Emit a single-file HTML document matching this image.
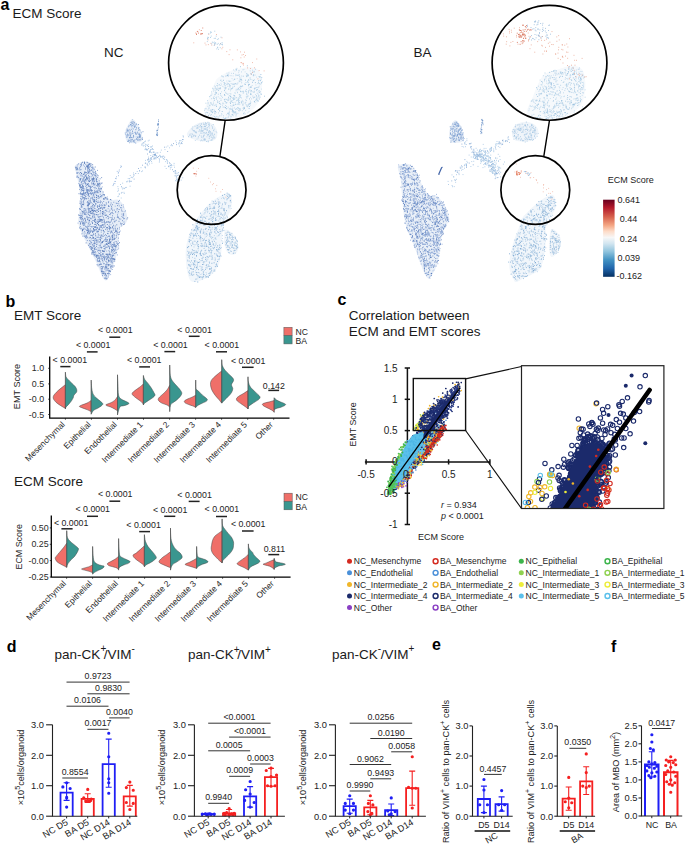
<!DOCTYPE html>
<html><head><meta charset="utf-8"><style>html,body{margin:0;padding:0;background:#fff;overflow:hidden}text{font-family:"Liberation Sans",sans-serif}</style></head><body>
<svg width="685" height="845" viewBox="0 0 685 845" style="display:block;font-family:'Liberation Sans', sans-serif">
<rect width="685" height="845" fill="#fff"/>
<text x="0.5" y="9.9" font-size="16" font-weight="bold" fill="#000">a</text>
<text x="12.5" y="18.1" font-size="13.5" fill="#1a1a1a">ECM Score</text>
<text x="104" y="56.6" font-size="13.5" fill="#1a1a1a">NC</text>
<text x="413.6" y="56.5" font-size="13.5" fill="#1a1a1a">BA</text>
<path d="M75.0 165.8 C75.8 164.8 78.1 163.1 80.0 162.4 C81.9 161.8 84.7 161.8 86.6 161.9 C88.5 162.1 90.2 162.2 91.6 163.3 C93.0 164.4 93.9 166.3 94.9 168.2 C95.9 170.1 96.6 172.7 97.4 174.9 C98.2 177.1 99.1 179.0 99.9 181.5 C100.7 184.0 101.3 187.3 102.3 189.8 C103.3 192.3 104.2 194.7 105.7 196.4 C107.2 198.1 109.4 199.2 111.5 199.8 C113.6 200.4 116.2 199.0 118.1 199.8 C120.0 200.6 121.7 202.5 123.1 204.7 C124.5 206.9 125.7 210.5 126.4 213.0 C127.1 215.5 127.5 217.8 127.2 219.7 C126.9 221.6 125.9 223.2 124.7 224.6 C123.5 226.0 120.8 226.0 119.8 227.9 C118.8 229.8 119.2 233.1 118.9 236.2 C118.6 239.2 118.5 242.9 118.1 246.2 C117.7 249.5 117.2 252.8 116.4 256.1 C115.6 259.4 114.2 263.1 113.1 266.1 C112.0 269.2 110.9 272.0 109.8 274.4 C108.7 276.8 107.6 279.5 106.5 280.2 C105.4 280.9 104.3 280.0 103.2 278.5 C102.1 277.0 101.0 273.7 99.9 271.1 C98.8 268.5 97.9 265.9 96.5 262.8 C95.1 259.8 93.2 256.1 91.6 252.8 C89.9 249.5 88.3 246.2 86.6 242.9 C84.9 239.6 83.0 236.2 81.6 232.9 C80.2 229.6 78.7 226.3 78.3 223.0 C77.9 219.7 78.8 216.9 79.1 213.0 C79.4 209.1 80.0 204.2 80.0 199.8 C80.0 195.4 79.7 190.7 79.1 186.5 C78.5 182.3 77.3 178.0 76.6 174.9 C75.9 171.8 75.3 169.7 75.0 168.2 C74.7 166.7 74.2 166.8 75.0 165.8Z" fill="#e6edf7"/>
<path d="M91.8 179.9h.8M108.4 273.6h.8M91.5 230.9h.8M95.2 251.8h.8M100.0 240.1h.8M105.0 264.9h.8M101.0 235.2h.8M81.0 205.2h.8M92.5 193.3h.8M89.6 244.6h.8M107.4 257.9h.8M101.8 273.7h.8M93.7 215.8h.8M112.0 227.0h.8M115.8 220.3h.8M111.7 266.7h.8M102.0 203.0h.8M88.7 178.0h.8M103.7 272.1h.8M114.8 226.0h.8M111.7 236.7h.8M89.6 215.4h.8M79.6 209.2h.8M113.6 266.1h.8M102.6 261.9h.8M102.7 236.5h.8M98.8 241.7h.8M97.4 192.3h.8M95.5 210.4h.8M112.1 215.8h.8M104.2 207.9h.8M92.4 171.8h.8M100.5 236.4h.8M109.2 251.9h.8M102.7 230.3h.8M101.7 242.0h.8M118.3 248.1h.8M94.1 201.6h.8M75.8 169.8h.8M95.5 191.7h.8M88.8 171.4h.8M114.4 261.0h.8M81.5 184.4h.8M90.5 186.3h.8M93.4 211.3h.8M94.4 220.7h.8M85.6 210.2h.8M96.7 232.0h.8M99.3 183.3h.8M113.4 258.7h.8M105.0 266.4h.8M81.2 189.5h.8M105.8 202.8h.8M91.8 198.2h.8M111.6 261.4h.8M99.8 261.9h.8M91.1 179.0h.8M108.0 260.0h.8M93.6 246.1h.8M113.4 255.2h.8M113.8 238.1h.8M80.2 217.6h.8M92.7 183.2h.8M96.0 255.5h.8M104.6 249.8h.8M92.3 237.0h.8M103.6 246.4h.8M96.3 244.7h.8M93.3 237.5h.8M90.3 190.1h.8M92.8 179.7h.8M86.8 178.1h.8M93.3 211.0h.8M94.4 217.6h.8M102.6 194.3h.8M109.3 254.3h.8M91.4 213.4h.8M95.4 173.9h.8M92.4 248.3h.8M95.1 256.0h.8M97.0 231.3h.8M99.1 186.1h.8M94.0 230.1h.8M115.3 211.6h.8M87.4 228.6h.8M116.1 245.7h.8M86.3 178.5h.8M112.7 228.5h.8M100.4 196.3h.8M107.9 221.8h.8M113.9 210.1h.8M93.0 246.0h.8M104.5 223.8h.8M106.0 264.1h.8M87.4 201.8h.8M90.8 238.8h.8M79.1 227.9h.8M86.3 222.2h.8M82.9 201.6h.8M115.4 245.7h.8M94.1 200.2h.8M103.9 221.5h.8M96.7 228.1h.8M121.1 210.0h.8M96.1 255.1h.8M105.5 210.1h.8M81.9 194.5h.8M88.0 167.3h.8M93.9 184.3h.8M110.7 203.0h.8M94.2 190.8h.8M80.7 228.3h.8M82.0 193.7h.8M91.5 206.4h.8M113.1 259.2h.8M111.7 256.8h.8M87.4 191.4h.8M81.7 196.5h.8M97.4 184.8h.8M94.2 227.1h.8M83.6 197.4h.8M110.7 260.1h.8M90.5 230.3h.8M104.5 207.3h.8M80.1 223.7h.8M84.6 197.9h.8M84.9 214.3h.8M94.5 179.0h.8M120.1 207.7h.8M87.8 229.7h.8M113.8 221.2h.8M99.6 216.6h.8M105.4 278.7h.8M96.6 185.6h.8M93.4 220.5h.8M104.8 241.1h.8M100.0 239.4h.8M88.0 186.2h.8M101.5 266.7h.8M111.0 266.1h.8M87.9 183.5h.8M96.1 199.4h.8M95.8 191.0h.8M106.3 278.8h.8M109.0 226.2h.8M124.1 224.0h.8M99.7 255.6h.8M85.7 212.0h.8M95.6 240.2h.8M118.1 211.6h.8M109.6 228.2h.8M92.2 222.8h.8M100.3 219.6h.8M109.1 241.3h.8M93.9 239.0h.8M114.3 221.9h.8M94.5 214.4h.8M93.8 206.3h.8M101.2 205.0h.8M105.8 243.9h.8M106.8 244.3h.8M113.9 234.9h.8M99.7 188.3h.8M95.6 173.9h.8M84.7 193.1h.8M88.2 202.8h.8M122.2 220.7h.8M95.5 249.5h.8M104.1 259.7h.8M90.5 213.2h.8M93.1 179.9h.8M96.9 256.8h.8M91.8 207.9h.8M109.3 229.6h.8M111.6 235.7h.8M116.5 203.5h.8M109.0 247.7h.8M102.4 214.2h.8M88.9 204.1h.8M104.8 222.7h.8M106.4 266.6h.8M98.1 231.5h.8M87.6 208.9h.8M84.0 163.0h.8M79.4 167.8h.8M106.6 278.7h.8M109.1 270.6h.8M92.4 199.8h.8M91.7 235.3h.8M84.0 214.1h.8M106.8 239.6h.8M80.7 218.7h.8M83.3 174.4h.8M90.4 207.1h.8M86.8 165.9h.8M80.6 169.6h.8M98.5 198.3h.8M109.6 222.1h.8M86.2 166.3h.8M102.8 273.7h.8M82.8 190.1h.8M109.8 264.8h.8M106.8 222.0h.8M107.6 216.5h.8M110.8 252.2h.8M98.9 183.4h.8M92.1 223.4h.8M106.7 244.2h.8M110.3 227.6h.8M109.4 243.7h.8M98.3 185.9h.8M89.9 218.7h.8M81.9 216.7h.8M96.0 201.4h.8M91.0 183.0h.8M94.9 175.9h.8M91.5 254.2h.8M90.4 235.3h.8M96.0 246.5h.8M91.0 249.0h.8M102.5 272.3h.8M111.3 251.1h.8M111.6 246.8h.8M84.3 211.0h.8M98.5 184.5h.8M98.3 196.7h.8M99.8 219.3h.8M103.7 194.6h.8M94.9 172.9h.8M80.3 180.1h.8M94.2 249.7h.8M95.7 242.2h.8M89.1 233.7h.8M112.7 239.4h.8M111.2 249.6h.8M118.0 243.7h.8M88.3 204.0h.8M82.6 194.6h.8M104.4 258.4h.8M85.0 179.6h.8M76.3 169.1h.8M98.7 221.2h.8M96.5 181.6h.8M85.4 209.0h.8M81.9 222.7h.8M106.2 247.2h.8M84.8 222.9h.8M103.9 195.1h.8M99.8 247.3h.8M110.0 242.5h.8M89.2 220.2h.8M117.0 205.6h.8M91.8 167.0h.8M88.4 231.9h.8M93.9 214.0h.8M89.6 171.1h.8M99.2 260.5h.8M80.8 199.0h.8M92.4 215.9h.8M103.8 235.6h.8M91.9 248.1h.8M107.8 218.7h.8M97.5 241.1h.8M102.0 260.4h.8M103.7 248.5h.8M93.9 255.7h.8M102.2 213.7h.8M109.1 228.3h.8M111.9 247.3h.8M103.8 258.0h.8M108.4 260.5h.8M102.5 211.6h.8M87.0 170.0h.8M97.8 196.5h.8M94.3 210.6h.8M97.2 205.8h.8M113.4 245.1h.8M90.8 193.7h.8M117.5 244.1h.8M107.3 233.4h.8M98.1 217.0h.8M79.2 215.4h.8M93.3 234.6h.8M116.6 234.0h.8M99.3 227.8h.8M103.6 231.8h.8M95.6 227.1h.8M108.2 260.4h.8M112.5 239.7h.8M112.4 255.6h.8M98.8 205.9h.8M121.1 205.3h.8M104.9 268.0h.8M105.1 226.1h.8M77.3 168.9h.8M116.7 232.8h.8M104.3 257.1h.8M98.6 249.0h.8M81.2 173.3h.8M85.4 175.1h.8M117.0 228.4h.8M84.5 236.3h.8M114.2 250.8h.8M99.0 258.2h.8M84.6 180.2h.8M104.6 267.2h.8M86.6 226.7h.8M108.6 255.0h.8M96.9 228.2h.8M88.3 217.7h.8M101.3 177.6h.8M121.6 223.5h.8M90.8 208.8h.8M98.1 224.5h.8M87.5 195.0h.8M119.0 231.9h.8M90.1 193.1h.8M101.3 219.6h.8M96.3 179.5h.8M115.9 230.9h.8M113.7 245.3h.8M79.6 185.9h.8M117.0 244.2h.8M90.4 248.8h.8M91.9 245.1h.8M82.2 211.5h.8M114.0 244.0h.8M106.3 259.5h.8M94.6 230.2h.8M123.1 214.3h.8M104.8 277.8h.8" stroke="#5579b9" stroke-width="0.9" fill="none"/>
<path d="M103.9 204.9h.8M104.9 210.5h.8M97.5 198.1h.8M82.3 219.8h.8M94.2 241.1h.8M89.3 210.9h.8M96.3 210.1h.8M87.6 203.2h.8M87.7 205.5h.8M123.3 215.6h.8M113.4 219.5h.8M97.5 264.6h.8M105.8 267.6h.8M92.1 223.1h.8M103.3 251.4h.8M104.5 273.7h.8M85.7 199.0h.8M104.7 244.6h.8M88.0 177.1h.8M84.9 218.4h.8M95.2 204.1h.8M84.1 214.2h.8M76.9 165.0h.8M94.4 199.8h.8M105.0 267.4h.8M107.4 242.8h.8M115.9 235.5h.8M86.0 230.4h.8M92.2 212.1h.8M114.4 238.6h.8M84.5 181.5h.8M88.0 193.6h.8M89.0 191.2h.8M99.3 226.0h.8M94.6 188.8h.8M96.5 191.4h.8M86.5 212.2h.8M84.1 162.1h.8M91.1 193.8h.8M98.1 219.8h.8M80.2 218.8h.8M104.3 205.6h.8M106.0 235.5h.8M78.9 173.7h.8M94.4 185.1h.8M81.9 195.8h.8M103.2 207.6h.8M96.2 240.5h.8M82.0 213.2h.8M100.8 269.8h.8M92.5 253.8h.8M80.5 204.7h.8M109.1 214.5h.8M115.8 246.9h.8M103.3 212.7h.8M111.6 262.8h.8M75.7 167.5h.8M93.1 211.4h.8M100.8 256.2h.8M94.4 208.7h.8M93.0 200.1h.8M85.6 196.4h.8M81.1 206.1h.8M110.8 221.2h.8M96.1 188.4h.8M81.3 210.9h.8M101.7 236.1h.8M93.9 192.7h.8M100.1 196.6h.8M91.4 218.8h.8M105.6 254.2h.8M101.1 222.0h.8M108.3 236.5h.8M101.8 254.5h.8M109.9 256.7h.8M108.7 235.7h.8M108.9 273.4h.8M83.0 165.0h.8M93.0 229.6h.8M111.7 260.3h.8M111.8 269.5h.8M117.0 214.8h.8M95.7 222.3h.8M87.3 166.4h.8M108.4 275.0h.8M78.3 177.7h.8M82.4 214.9h.8M88.5 211.5h.8M88.4 184.7h.8M90.2 187.2h.8M123.2 218.1h.8M93.4 250.7h.8M76.7 176.0h.8M83.7 228.2h.8M88.0 212.8h.8M89.3 217.3h.8M119.1 234.2h.8M94.4 230.2h.8M94.4 240.9h.8M115.9 231.2h.8M100.5 212.9h.8M101.2 225.8h.8M106.0 265.0h.8M84.3 195.5h.8M90.5 242.9h.8M81.2 181.7h.8M106.1 204.0h.8M106.1 275.4h.8M101.8 208.5h.8M78.5 193.7h.8M101.2 226.2h.8M94.8 219.6h.8M97.5 240.1h.8M119.1 229.0h.8M89.5 172.9h.8M89.7 226.5h.8M102.0 213.4h.8M93.0 184.9h.8M108.1 273.0h.8M87.3 166.9h.8M97.6 183.7h.8M91.8 214.0h.8M124.0 218.6h.8M80.9 182.5h.8M99.6 264.3h.8M94.2 252.5h.8M116.8 229.8h.8M121.3 225.9h.8M83.3 204.8h.8M105.1 274.8h.8M108.3 201.6h.8M104.4 198.0h.8M93.4 252.5h.8M107.3 262.9h.8M105.1 248.1h.8M112.6 252.3h.8M82.8 183.6h.8M114.7 238.3h.8M103.2 266.7h.8M100.7 189.2h.8M87.8 168.3h.8M96.9 206.6h.8M85.0 175.8h.8M86.4 236.6h.8M86.8 233.7h.8M102.2 225.1h.8M94.4 202.0h.8M118.0 234.6h.8M92.5 170.1h.8M99.8 267.0h.8M115.8 252.5h.8M90.3 192.8h.8M105.3 205.2h.8M89.1 186.7h.8M86.8 227.6h.8M100.1 263.9h.8M91.0 170.5h.8M120.4 219.1h.8M84.0 208.6h.8M84.3 193.3h.8M97.0 170.4h.8M83.8 236.2h.8M101.7 269.0h.8M109.8 260.9h.8M105.5 267.1h.8M79.9 226.6h.8M108.9 227.3h.8M104.6 212.7h.8M83.4 222.8h.8M80.3 193.8h.8M103.0 241.1h.8M80.1 198.6h.8M102.3 224.9h.8M95.7 229.4h.8M88.5 170.9h.8M82.3 194.4h.8M100.8 232.1h.8M83.4 193.0h.8M82.4 236.1h.8M86.2 191.8h.8M99.5 237.6h.8M108.4 246.3h.8M108.5 250.7h.8M82.8 223.0h.8M97.1 175.0h.8M80.7 175.9h.8M112.9 255.3h.8M80.5 213.2h.8M95.0 226.8h.8M110.5 243.2h.8M106.2 244.5h.8M84.1 174.0h.8M110.5 228.3h.8M86.3 189.2h.8M99.8 245.8h.8M94.3 216.7h.8M86.9 240.5h.8M88.5 220.9h.8M97.3 177.5h.8M92.2 210.3h.8M83.8 177.3h.8M125.0 210.9h.8M82.1 190.2h.8M111.0 258.0h.8M82.3 188.6h.8M108.9 238.8h.8M90.2 211.5h.8M113.4 202.3h.8M82.4 185.4h.8M107.5 268.7h.8M80.9 221.6h.8M112.5 253.7h.8M106.8 197.0h.8M82.0 190.4h.8M97.9 258.2h.8M96.7 237.5h.8M86.8 202.5h.8M122.7 215.7h.8M103.7 259.9h.8M85.0 226.4h.8M107.7 256.8h.8M87.2 192.9h.8M116.7 242.9h.8M82.7 187.5h.8M95.5 204.2h.8M104.0 239.9h.8M94.0 224.4h.8M82.7 188.0h.8M106.5 277.1h.8M86.3 235.0h.8M97.5 255.0h.8M104.0 248.4h.8M99.8 194.3h.8M79.0 221.5h.8M84.0 177.8h.8M98.4 258.4h.8M103.7 251.3h.8M107.1 228.0h.8M88.8 179.6h.8M106.4 256.8h.8M97.6 190.3h.8M95.8 197.6h.8M77.8 177.5h.8M84.7 172.1h.8M100.5 183.2h.8M91.9 244.4h.8M99.7 202.0h.8M113.4 244.6h.8M85.5 214.7h.8M88.8 169.3h.8M112.5 267.3h.8M98.0 209.1h.8M92.7 238.5h.8M87.1 237.3h.8M101.1 195.5h.8M93.1 211.9h.8M94.5 248.4h.8M109.2 226.8h.8M99.0 260.0h.8M111.3 217.8h.8M109.5 210.2h.8M93.8 229.6h.8M80.1 209.5h.8M87.7 165.3h.8M87.3 171.3h.8M87.4 162.6h.8M98.2 253.0h.8M99.2 229.4h.8M85.0 237.6h.8M94.8 184.0h.8M95.4 252.9h.8M87.4 228.4h.8M79.4 185.1h.8M90.0 237.5h.8M84.8 193.1h.8M112.6 248.2h.8M116.9 217.5h.8M97.6 206.3h.8M104.3 258.9h.8M103.3 201.5h.8M110.3 266.3h.8M97.3 261.0h.8M98.1 261.2h.8M88.4 229.9h.8M108.0 218.0h.8M92.6 231.2h.8M92.5 180.9h.8M91.2 242.7h.8M80.8 193.5h.8M100.4 244.0h.8M98.0 229.9h.8M100.9 196.8h.8M92.2 175.7h.8M97.4 192.0h.8M109.2 242.8h.8M105.1 238.0h.8M104.2 207.7h.8M103.8 231.9h.8M88.8 222.8h.8M95.1 175.6h.8M97.7 201.0h.8M80.1 179.6h.8M115.0 248.0h.8M91.5 227.2h.8M100.6 220.1h.8M102.6 222.1h.8M106.7 253.9h.8M102.2 228.1h.8M92.7 209.8h.8M92.1 168.2h.8M87.4 201.6h.8M88.0 230.7h.8M100.0 208.3h.8M85.1 182.7h.8M89.8 202.8h.8M97.0 191.2h.8M93.4 182.9h.8M104.8 246.0h.8M81.9 181.6h.8M81.2 190.9h.8M93.9 202.0h.8M104.0 227.2h.8M102.1 253.6h.8M100.9 257.1h.8M76.7 176.9h.8M85.4 164.4h.8M112.2 218.1h.8M104.0 275.2h.8M98.1 255.6h.8M84.8 210.2h.8" stroke="#6a8ac6" stroke-width="0.9" fill="none"/>
<path d="M78.4 172.5h.8M82.6 176.5h.8M116.1 243.2h.8M115.5 230.4h.8M84.3 176.1h.8M84.5 189.0h.8M77.6 169.7h.8M93.9 174.7h.8M102.9 253.6h.8M86.8 190.4h.8M82.6 180.0h.8M88.4 196.7h.8M98.6 225.3h.8M106.1 254.8h.8M108.1 221.7h.8M81.3 215.6h.8M103.0 214.4h.8M79.0 168.7h.8M80.9 182.3h.8M117.6 212.9h.8M77.4 176.3h.8M91.9 203.6h.8M90.2 188.8h.8M112.6 238.0h.8M110.2 242.2h.8M117.5 249.5h.8M83.0 192.6h.8M83.1 223.2h.8M88.7 167.6h.8M88.8 167.8h.8M101.9 186.9h.8M105.2 267.4h.8M95.7 214.8h.8M80.6 190.9h.8M92.2 217.2h.8M109.2 271.4h.8M110.3 274.6h.8M90.5 202.2h.8M89.2 246.2h.8M114.8 249.6h.8M112.7 213.5h.8M87.5 191.5h.8M87.1 205.3h.8M94.7 226.8h.8M97.3 258.8h.8M101.6 271.3h.8M80.2 192.5h.8M98.1 214.6h.8M80.3 215.3h.8M85.9 194.5h.8M97.3 183.6h.8M87.5 231.8h.8M97.8 189.8h.8M87.5 173.6h.8M88.7 238.1h.8M97.7 247.5h.8M110.3 237.3h.8M89.0 247.3h.8M85.2 221.4h.8M87.2 193.4h.8M109.2 248.6h.8M111.2 261.3h.8M112.5 213.6h.8M82.6 233.0h.8M113.6 265.7h.8M115.1 246.1h.8M93.9 252.3h.8M95.0 187.3h.8M116.6 203.3h.8M96.9 237.3h.8M110.7 268.2h.8M103.3 263.7h.8M110.1 271.6h.8M86.8 213.3h.8M92.7 199.4h.8M112.2 234.0h.8M76.4 177.2h.8M80.7 164.7h.8M97.5 242.8h.8M92.5 235.3h.8M93.8 172.6h.8M104.8 269.2h.8M84.0 166.3h.8M85.6 183.9h.8M96.4 181.5h.8M106.3 251.1h.8M98.6 202.5h.8M84.5 194.7h.8M80.5 196.6h.8M107.2 245.0h.8M93.5 181.6h.8M102.6 225.3h.8M99.8 221.4h.8M95.8 212.2h.8M98.2 221.7h.8M82.0 175.9h.8M105.3 238.7h.8M104.2 220.9h.8M106.1 262.4h.8M105.7 210.4h.8M83.2 197.7h.8M93.6 231.5h.8M97.8 236.2h.8M102.1 222.3h.8M119.0 232.5h.8M81.5 183.7h.8M100.4 208.5h.8M87.9 208.5h.8M94.5 191.7h.8M98.3 261.5h.8M95.2 238.4h.8M89.9 170.4h.8M112.7 246.6h.8M96.4 242.7h.8M123.7 211.7h.8M96.1 185.4h.8M82.7 228.3h.8M92.8 217.8h.8M86.7 178.9h.8M105.6 237.3h.8M90.5 240.7h.8M86.0 172.6h.8M110.1 214.7h.8M88.1 172.6h.8M105.4 247.5h.8M109.7 258.5h.8M80.9 165.9h.8M111.8 259.0h.8M98.8 229.9h.8M103.0 254.7h.8M99.3 204.5h.8M90.5 198.5h.8M96.5 264.7h.8M93.1 177.2h.8M92.9 172.6h.8M96.0 195.2h.8M117.0 216.0h.8M86.4 230.6h.8M94.4 254.1h.8M80.3 217.9h.8M95.4 227.2h.8M95.4 177.2h.8M110.7 200.0h.8M111.3 209.5h.8M101.0 247.2h.8M98.1 237.5h.8M85.6 229.5h.8M99.2 205.8h.8M114.8 206.2h.8M97.0 219.8h.8M80.3 187.9h.8M91.2 191.3h.8M90.2 246.7h.8M96.4 239.6h.8M81.4 216.9h.8M106.0 227.7h.8M104.2 255.9h.8M100.2 225.6h.8M86.0 176.6h.8M102.2 195.8h.8M92.6 178.9h.8M92.5 181.6h.8M110.7 246.0h.8M93.0 231.1h.8M94.7 221.0h.8M95.4 239.0h.8M99.9 251.4h.8M117.9 241.0h.8M93.0 168.0h.8M94.6 208.5h.8M119.0 227.4h.8M108.2 277.0h.8M110.5 268.0h.8M115.1 221.1h.8M106.5 258.6h.8M105.1 257.2h.8M98.9 242.3h.8M104.6 245.4h.8M80.5 174.7h.8M81.0 164.7h.8M86.1 190.1h.8M99.7 208.7h.8M76.8 172.5h.8M104.3 259.9h.8M93.1 172.1h.8M111.0 231.8h.8M110.8 261.7h.8M88.3 210.1h.8M101.5 238.3h.8M114.4 251.1h.8M91.3 169.6h.8M91.2 210.2h.8M87.2 168.9h.8M94.8 205.8h.8M80.5 175.7h.8M114.9 228.4h.8M93.9 175.5h.8M106.1 239.2h.8M104.6 271.9h.8M92.5 240.5h.8M100.5 229.9h.8M80.0 164.6h.8M110.9 232.1h.8M111.6 245.8h.8M86.0 192.6h.8M91.6 192.9h.8M99.6 192.1h.8M101.2 183.4h.8M89.1 212.3h.8M85.5 198.3h.8M101.8 205.5h.8M92.4 213.0h.8M115.3 212.4h.8M98.7 245.3h.8M106.1 268.9h.8M112.9 251.4h.8M88.5 173.8h.8M106.5 259.8h.8M115.7 203.1h.8M103.0 241.2h.8M97.8 233.2h.8M105.9 268.8h.8M81.7 216.0h.8M78.3 183.6h.8M96.8 202.6h.8M82.1 204.6h.8M101.2 201.8h.8M114.4 246.1h.8M76.4 168.2h.8M98.1 208.5h.8M92.1 209.4h.8M107.0 199.1h.8M104.2 269.0h.8M96.5 230.4h.8M83.0 220.5h.8M103.5 211.1h.8M122.9 204.9h.8M108.2 226.0h.8M95.5 240.3h.8M82.3 221.6h.8M79.9 218.6h.8M101.0 271.9h.8M83.8 234.9h.8M93.7 193.5h.8M111.3 245.6h.8M95.1 247.5h.8M94.3 221.0h.8M102.2 205.2h.8M92.0 198.6h.8M91.7 174.8h.8M97.8 211.1h.8M93.2 252.4h.8M106.4 221.5h.8M102.9 208.1h.8M101.1 219.7h.8M95.9 181.2h.8M100.3 184.6h.8M108.5 254.1h.8M110.6 224.8h.8M86.7 187.4h.8M123.1 218.8h.8M86.5 214.8h.8M94.4 180.4h.8M114.8 229.8h.8M88.0 171.5h.8M91.8 174.6h.8M117.8 217.4h.8M88.2 226.6h.8M109.2 240.2h.8M95.7 221.0h.8M89.2 176.5h.8M89.8 231.0h.8M87.5 190.1h.8M100.4 188.7h.8M99.7 247.1h.8M107.7 208.7h.8M92.0 205.2h.8M88.8 163.9h.8M82.6 224.8h.8M123.2 207.0h.8M81.4 178.3h.8M116.2 231.6h.8M119.9 231.0h.8M93.7 197.8h.8M109.3 224.1h.8M102.7 207.2h.8M82.4 198.8h.8M110.6 262.3h.8M81.3 203.1h.8M81.6 207.5h.8M90.5 173.5h.8M97.9 217.7h.8M77.6 223.1h.8M92.0 220.6h.8M98.6 188.3h.8M80.7 201.9h.8M104.2 251.6h.8M91.0 202.7h.8M113.2 244.8h.8M83.4 190.9h.8M87.8 224.3h.8M108.5 264.5h.8M91.4 242.7h.8M111.8 247.2h.8M83.1 224.1h.8M91.3 176.8h.8M83.0 202.2h.8M108.8 231.1h.8M99.8 205.4h.8M86.8 193.0h.8M97.9 256.9h.8M83.3 194.5h.8M101.4 242.7h.8M93.7 243.2h.8M117.1 254.9h.8M92.6 168.8h.8M89.2 181.3h.8M121.3 216.4h.8M96.2 176.1h.8M91.3 209.8h.8M98.8 257.6h.8M95.8 227.4h.8M83.9 224.2h.8M104.1 256.8h.8M92.3 193.1h.8M88.9 169.3h.8M98.0 195.5h.8M88.0 164.2h.8M114.0 242.1h.8M83.9 162.1h.8" stroke="#86a2d4" stroke-width="0.9" fill="none"/>
<path d="M97.1 258.9h.8M82.2 230.9h.8M89.0 231.0h.8M111.8 232.4h.8M82.9 190.6h.8M87.2 219.7h.8M86.8 179.5h.8M99.9 219.9h.8M91.8 190.6h.8M85.3 186.3h.8M92.9 226.7h.8M87.5 232.4h.8M97.6 183.3h.8M80.5 228.8h.8M100.7 242.9h.8M95.1 219.3h.8M108.7 222.4h.8M106.9 255.9h.8M90.5 198.0h.8M101.6 259.7h.8M88.8 181.6h.8M99.1 221.3h.8M103.8 224.8h.8M111.9 258.4h.8M87.8 164.7h.8M101.5 225.2h.8M110.6 244.5h.8M99.4 197.3h.8M87.4 192.3h.8M100.2 202.8h.8M99.7 178.8h.8M97.2 223.1h.8M82.4 180.1h.8M108.0 246.0h.8M86.9 190.3h.8M87.0 167.1h.8M83.5 208.9h.8M86.9 205.8h.8M92.9 194.6h.8M92.1 205.8h.8M88.4 210.8h.8M118.1 238.1h.8M81.2 187.0h.8M96.7 195.8h.8M98.8 180.8h.8M81.2 219.8h.8M106.0 227.8h.8M99.4 189.3h.8M112.3 255.4h.8M110.1 267.1h.8M106.8 241.1h.8M85.7 179.4h.8M84.6 233.1h.8M87.6 166.0h.8M87.6 189.9h.8M105.9 198.9h.8M113.0 249.5h.8M93.7 199.7h.8M87.9 185.7h.8M86.6 216.5h.8M83.4 211.9h.8M84.8 179.2h.8M85.6 236.3h.8M96.5 249.2h.8M114.5 244.5h.8M97.4 216.0h.8M93.8 169.3h.8M116.0 237.1h.8M94.7 192.2h.8M108.8 206.4h.8M102.2 250.9h.8M98.9 228.8h.8M100.7 219.4h.8M97.3 227.4h.8M90.4 231.5h.8M110.0 204.9h.8M121.6 214.1h.8M111.9 262.9h.8M92.6 238.4h.8M93.6 244.2h.8M102.7 256.3h.8M100.9 230.3h.8M108.2 202.6h.8M80.2 166.7h.8M86.8 167.3h.8M81.2 199.9h.8M118.2 217.9h.8M119.1 200.4h.8M84.6 213.4h.8M115.0 230.2h.8M93.4 230.9h.8M84.8 172.7h.8M88.2 175.5h.8M120.2 223.2h.8M102.1 271.5h.8M91.7 210.4h.8M100.2 226.1h.8M98.3 250.5h.8M112.2 249.9h.8M98.9 217.0h.8M82.4 229.6h.8M109.7 222.3h.8M103.0 257.6h.8M85.4 183.5h.8M100.9 227.5h.8M101.7 258.4h.8M105.4 274.0h.8M101.5 255.0h.8M83.6 195.1h.8M93.8 248.9h.8M95.1 171.6h.8M90.2 187.2h.8M76.7 167.0h.8M90.1 166.2h.8M114.5 259.3h.8M92.3 178.7h.8M103.6 251.7h.8M94.1 181.4h.8M85.6 237.0h.8M118.3 245.8h.8M99.7 214.0h.8M90.5 218.1h.8M92.4 231.7h.8M100.4 227.3h.8M96.5 181.8h.8M81.6 206.3h.8M85.8 227.2h.8M91.8 181.0h.8M95.4 203.5h.8M109.0 236.7h.8M87.3 189.6h.8M112.5 226.8h.8M89.2 164.7h.8M83.3 225.4h.8M82.8 178.8h.8M102.7 273.7h.8M85.9 190.2h.8M113.9 259.0h.8M90.5 165.3h.8M83.0 212.9h.8M112.3 238.9h.8M105.7 270.7h.8M108.6 228.5h.8M103.0 233.9h.8M101.7 219.5h.8M83.0 191.9h.8M91.0 190.2h.8M95.3 238.5h.8M103.7 220.0h.8M101.6 258.7h.8M114.7 228.1h.8M102.5 211.7h.8M116.6 231.5h.8M89.8 188.7h.8M123.2 224.5h.8M79.5 179.1h.8M105.8 217.7h.8M80.8 215.2h.8M102.1 268.7h.8M107.4 254.7h.8M86.2 187.9h.8M106.5 211.4h.8M94.7 254.5h.8M92.1 186.4h.8M123.6 222.0h.8M108.1 205.6h.8M89.5 176.9h.8M112.2 244.5h.8M91.1 208.4h.8M97.4 261.0h.8M87.1 192.2h.8M108.3 243.5h.8M81.4 202.0h.8M113.3 258.8h.8M90.8 187.4h.8M79.3 189.4h.8M93.2 183.8h.8M111.9 247.8h.8M99.7 258.9h.8M87.3 230.4h.8M121.3 207.8h.8M109.5 246.4h.8M77.1 168.3h.8M101.6 235.1h.8M113.5 261.2h.8M101.9 216.0h.8M99.7 245.3h.8M91.2 253.0h.8M103.0 271.7h.8M88.4 193.2h.8M78.1 163.9h.8M110.2 213.4h.8M92.4 247.3h.8M109.7 217.5h.8M101.7 183.0h.8M89.2 181.4h.8M126.6 219.0h.8M118.8 205.9h.8M96.4 241.2h.8M89.1 215.4h.8M88.2 180.8h.8M90.8 194.7h.8M87.7 205.3h.8M88.6 212.7h.8M96.6 212.4h.8M117.6 232.6h.8M77.0 173.2h.8M110.9 208.3h.8M101.5 247.4h.8M83.4 188.5h.8M112.3 223.1h.8M100.0 237.4h.8M79.1 208.7h.8M92.5 192.9h.8M87.6 204.4h.8M108.2 206.5h.8M92.3 164.6h.8M103.4 219.1h.8M97.0 207.4h.8M86.3 166.0h.8M89.5 193.6h.8M84.3 231.7h.8M93.2 254.1h.8M91.4 221.8h.8M111.5 208.0h.8M105.6 241.4h.8M95.2 235.2h.8M101.5 270.5h.8M80.8 165.1h.8M88.1 190.2h.8M83.5 181.7h.8M93.9 192.7h.8M104.6 214.0h.8M99.3 265.0h.8M92.0 179.9h.8M83.1 178.0h.8M81.9 230.0h.8M93.3 233.8h.8M112.1 227.3h.8M105.2 229.3h.8M95.5 201.0h.8M86.4 180.9h.8M93.3 174.1h.8M96.5 244.3h.8M104.3 278.3h.8M94.0 242.8h.8M89.3 221.0h.8M90.6 208.6h.8M93.5 251.5h.8M115.5 250.0h.8M83.8 181.1h.8M90.4 241.7h.8M81.8 188.0h.8M80.2 216.1h.8M94.2 200.7h.8M109.7 239.6h.8M103.1 198.7h.8M96.8 260.0h.8M76.8 169.7h.8M102.1 220.4h.8M100.3 255.8h.8M105.2 234.7h.8M84.6 229.0h.8M104.9 239.5h.8M100.0 191.6h.8M110.0 255.1h.8M83.4 210.9h.8M106.9 237.0h.8M92.0 231.7h.8M97.8 175.8h.8M98.9 250.6h.8M90.9 247.2h.8M107.2 264.8h.8M80.0 222.3h.8M79.5 217.5h.8M103.9 222.6h.8M84.7 180.4h.8M106.0 222.3h.8M89.4 208.9h.8M79.7 201.1h.8M100.1 201.0h.8M86.1 198.6h.8M95.7 192.5h.8M113.1 234.0h.8M108.2 256.3h.8M83.0 229.3h.8M111.4 231.1h.8M103.5 194.7h.8M108.8 265.0h.8M89.0 196.3h.8M100.5 252.5h.8M100.3 211.1h.8M104.6 215.4h.8M93.9 254.7h.8M85.4 184.1h.8M90.8 247.3h.8M89.2 240.7h.8M80.5 203.3h.8M91.6 184.2h.8M90.0 224.2h.8M118.4 203.8h.8M81.5 187.1h.8M97.3 251.0h.8M106.6 258.6h.8M88.8 189.9h.8M111.4 250.8h.8M86.0 174.8h.8M102.0 250.6h.8M96.4 214.5h.8M111.8 256.7h.8M95.5 236.0h.8M84.0 182.8h.8M95.5 194.1h.8M112.2 212.3h.8M111.7 265.3h.8M79.8 184.9h.8M106.8 239.9h.8M81.5 233.9h.8M94.9 227.3h.8M111.4 255.1h.8M93.4 201.4h.8M80.0 178.7h.8M94.0 219.8h.8M102.1 275.6h.8M90.1 232.2h.8M110.0 227.4h.8M92.3 232.5h.8M103.7 205.0h.8M116.6 209.8h.8M114.3 232.5h.8" stroke="#5f80c0" stroke-width="0.9" fill="none"/>
<path d="M81.1 187.8h.8M110.9 212.8h.8M101.5 266.6h.8M106.0 215.1h.8M78.1 215.0h.8M93.2 228.8h.8M94.8 167.0h.8M81.1 173.6h.8M87.9 223.2h.8M107.8 268.6h.8M81.1 163.2h.8M90.6 211.1h.8M84.1 218.3h.8M88.2 194.4h.8M98.2 224.9h.8M84.5 212.7h.8M80.9 194.3h.8M97.6 202.3h.8M88.0 165.2h.8M95.1 222.6h.8M89.7 190.8h.8M83.7 222.0h.8M114.2 239.3h.8M82.1 223.7h.8M82.1 204.3h.8M98.9 206.5h.8M103.1 217.2h.8M83.4 203.2h.8M107.3 270.1h.8M91.2 249.2h.8M84.4 172.0h.8M93.4 201.8h.8M102.0 242.2h.8M79.6 169.9h.8M89.5 164.0h.8M91.6 213.2h.8M111.0 206.3h.8M96.0 257.3h.8M86.5 217.2h.8M88.9 169.9h.8M106.0 241.2h.8M99.1 261.3h.8M87.2 232.6h.8M89.9 228.9h.8M108.4 270.4h.8M86.0 177.6h.8M107.3 199.0h.8M114.4 253.5h.8M101.4 207.2h.8M80.1 224.0h.8M102.3 267.3h.8M97.6 192.8h.8M100.7 238.1h.8M91.9 250.3h.8M108.1 243.4h.8M85.7 235.6h.8M79.9 185.9h.8M99.1 253.6h.8M111.0 220.0h.8M102.5 251.3h.8M115.0 231.6h.8M88.6 200.3h.8M79.0 185.9h.8M123.3 213.8h.8M107.4 216.2h.8M108.6 271.5h.8M88.0 209.1h.8M98.7 229.3h.8M97.4 184.3h.8M79.8 179.0h.8M102.7 192.0h.8M108.1 261.7h.8M112.2 235.4h.8M118.7 209.5h.8M107.4 254.8h.8M90.3 211.7h.8M107.2 273.6h.8M107.4 247.1h.8M108.7 211.8h.8M106.4 267.3h.8M106.3 243.8h.8M86.3 185.3h.8M119.0 218.9h.8M103.7 263.7h.8M88.9 203.8h.8M86.5 177.2h.8M87.7 168.3h.8M83.5 219.3h.8M80.0 172.5h.8M85.0 169.1h.8M98.1 222.4h.8M76.4 173.1h.8M96.0 178.7h.8M118.0 201.6h.8M102.4 213.5h.8M90.7 189.7h.8M91.5 190.7h.8M79.9 187.6h.8M114.0 218.0h.8M94.5 227.1h.8M75.5 168.2h.8M80.8 207.1h.8M83.4 200.3h.8M107.6 233.7h.8M89.6 237.3h.8M107.6 257.5h.8M97.9 234.8h.8M87.2 184.5h.8M87.3 166.2h.8M101.2 188.3h.8M92.9 240.6h.8M89.2 208.8h.8M83.0 186.6h.8M112.3 210.2h.8M97.4 221.4h.8M111.7 240.0h.8M114.3 259.5h.8M82.2 218.6h.8M92.9 183.5h.8M99.8 220.8h.8M93.2 213.9h.8M110.0 232.9h.8M96.0 225.2h.8M87.0 230.1h.8M88.4 204.3h.8M102.6 256.7h.8M89.4 243.5h.8M99.6 264.5h.8M88.8 220.5h.8M93.5 195.0h.8M93.0 178.0h.8M79.4 184.2h.8M82.9 193.5h.8M92.5 250.9h.8M103.1 230.6h.8M82.1 162.3h.8M90.1 213.0h.8M89.7 201.4h.8M79.3 181.1h.8M94.3 221.6h.8M103.2 227.1h.8M87.8 233.8h.8M118.6 221.3h.8M110.2 199.5h.8M86.8 178.3h.8M79.5 203.2h.8M108.3 264.5h.8M95.7 229.4h.8M100.5 216.3h.8M109.0 248.7h.8M96.6 231.8h.8M85.2 167.9h.8M97.6 265.8h.8M105.5 197.7h.8M89.4 203.1h.8M105.6 276.0h.8M82.1 230.1h.8M84.4 225.1h.8M100.1 254.2h.8M88.9 232.8h.8M99.4 221.0h.8M87.2 184.1h.8M119.0 242.7h.8M110.8 258.2h.8M98.7 256.9h.8M101.8 242.6h.8M82.3 230.2h.8M88.7 181.0h.8M84.0 199.2h.8M108.9 254.0h.8M113.3 242.9h.8M116.8 208.5h.8M101.2 264.2h.8M108.2 265.7h.8M85.7 172.7h.8M93.1 228.5h.8M96.0 195.6h.8M112.0 237.4h.8M82.8 174.2h.8M120.7 224.3h.8M82.3 185.4h.8M86.3 238.1h.8M85.7 242.9h.8M105.6 256.8h.8M94.2 197.1h.8M95.0 233.7h.8M87.8 198.3h.8M116.4 224.8h.8M79.9 186.9h.8M85.1 192.8h.8M93.4 178.8h.8M107.7 231.5h.8M87.7 205.6h.8M109.3 261.0h.8M88.3 214.6h.8M122.4 217.3h.8M84.0 163.1h.8M87.9 231.3h.8M87.3 218.0h.8M103.4 246.2h.8M105.3 215.4h.8M96.9 223.7h.8M102.1 241.6h.8M111.9 204.7h.8M94.1 245.9h.8M88.1 245.3h.8M84.3 173.0h.8M87.4 173.0h.8M85.0 196.2h.8M94.0 248.1h.8M100.1 191.3h.8M88.6 166.6h.8M83.7 223.6h.8M87.5 219.3h.8M93.1 204.5h.8M109.2 240.0h.8M98.5 209.0h.8M93.8 205.6h.8M84.5 198.3h.8M100.8 268.5h.8M96.9 223.4h.8M112.4 250.5h.8M89.4 186.1h.8M85.1 220.2h.8M92.8 237.4h.8M84.8 176.1h.8M93.5 207.8h.8M98.5 184.7h.8M111.9 236.9h.8M82.7 180.0h.8M94.7 243.6h.8M92.2 252.1h.8M88.4 172.6h.8M99.0 219.1h.8M106.9 224.5h.8M100.9 220.2h.8M103.3 199.0h.8M110.1 271.1h.8M88.7 178.7h.8M95.1 224.4h.8M109.9 259.2h.8M90.2 200.1h.8M113.8 246.3h.8M96.2 180.1h.8M91.5 167.5h.8M75.4 167.2h.8M102.3 211.8h.8M111.9 259.0h.8M110.5 241.5h.8M100.5 207.7h.8M97.3 186.1h.8M106.8 229.8h.8M92.2 210.5h.8M84.0 162.9h.8M106.9 227.5h.8M97.1 210.1h.8M99.6 235.2h.8M103.5 251.0h.8M83.4 197.9h.8M93.7 187.4h.8M79.8 193.8h.8M108.7 257.8h.8M85.3 220.1h.8M94.8 219.1h.8M92.3 216.7h.8M96.2 197.5h.8M121.7 211.2h.8M82.0 197.8h.8M93.5 178.4h.8M98.1 188.1h.8M89.9 180.6h.8M81.3 217.5h.8M110.6 231.2h.8M100.9 248.0h.8M109.7 242.5h.8M127.3 217.8h.8M91.2 173.7h.8M87.9 195.3h.8M105.9 254.4h.8M109.2 240.0h.8M97.2 255.4h.8M99.9 210.5h.8M102.3 209.3h.8M91.5 226.5h.8M87.8 207.0h.8M101.2 271.6h.8M115.6 252.8h.8M87.6 226.0h.8M96.5 214.6h.8M92.8 195.9h.8M82.4 212.0h.8M94.9 211.5h.8M93.7 210.5h.8M102.7 224.8h.8M117.5 216.8h.8M92.5 252.3h.8M113.7 236.0h.8M112.9 230.0h.8M90.5 163.8h.8M114.9 246.6h.8M100.3 241.0h.8M103.5 273.5h.8M96.2 256.3h.8M89.0 164.0h.8M98.8 239.3h.8M90.4 246.6h.8M113.6 249.2h.8M98.0 211.5h.8M86.6 162.2h.8M99.6 208.1h.8M91.4 235.5h.8M82.0 186.7h.8M93.7 243.4h.8M103.9 199.1h.8M89.3 225.0h.8M108.5 242.0h.8M83.5 190.2h.8M109.7 254.3h.8M113.2 225.3h.8M92.5 178.9h.8M100.4 250.4h.8M110.4 238.9h.8M115.7 241.5h.8M111.7 219.4h.8M82.9 204.5h.8M105.2 197.8h.8M91.8 197.3h.8M105.2 273.8h.8M105.6 261.4h.8M98.9 190.8h.8" stroke="#4a6eb0" stroke-width="0.9" fill="none"/>
<path d="M131.7 119.2 C130.5 119.6 129.4 122.5 128.3 124.5 C127.2 126.4 125.6 128.6 125.2 131.0 C124.7 133.4 125.0 136.9 125.7 138.9 C126.4 140.9 127.5 142.2 129.1 142.8 C130.8 143.5 133.5 143.3 135.7 142.8 C137.9 142.4 141.4 142.2 142.3 140.2 C143.1 138.2 142.0 134.1 140.9 131.0 C139.8 128.0 137.2 123.8 135.7 121.8 C134.2 119.9 133.0 118.8 131.7 119.2Z" fill="#eaf0f8"/>
<path d="M142.0 138.0h.8M130.0 124.5h.8M130.5 133.1h.8M129.9 140.1h.8M137.4 139.4h.8M129.1 137.7h.8M131.7 139.7h.8M129.4 133.2h.8M133.9 122.4h.8M136.1 138.8h.8M134.1 141.0h.8M130.3 135.1h.8M135.3 133.4h.8M138.8 134.1h.8M137.2 137.6h.8M135.4 129.7h.8M131.4 137.4h.8M127.3 141.3h.8M131.6 121.8h.8M136.1 127.8h.8M127.6 130.7h.8M133.2 124.1h.8M133.2 141.1h.8M130.8 129.3h.8M131.9 125.3h.8M126.5 130.1h.8M139.4 129.7h.8M132.0 131.4h.8M127.2 134.1h.8M128.0 141.2h.8M134.1 126.6h.8M127.0 130.9h.8M132.9 140.9h.8M138.8 139.4h.8M130.6 122.6h.8M135.9 134.2h.8M139.9 136.7h.8M139.6 137.4h.8M131.9 123.3h.8M142.1 139.5h.8M137.1 132.2h.8M128.5 140.8h.8M139.9 135.5h.8M139.1 134.3h.8M130.7 125.1h.8M129.9 137.6h.8M130.1 135.2h.8M128.6 140.5h.8M139.3 136.5h.8M142.6 131.7h.8M139.2 137.2h.8M129.1 137.6h.8M133.2 137.0h.8M138.1 124.6h.8M137.7 137.9h.8M133.1 135.4h.8M127.8 135.1h.8M138.6 140.3h.8M134.6 139.8h.8M140.3 139.9h.8" stroke="#5f86c0" stroke-width="0.9" fill="none"/>
<path d="M128.7 134.4h.8M129.5 125.7h.8M139.6 135.9h.8M132.1 133.4h.8M133.1 129.0h.8M130.6 142.0h.8M138.2 128.5h.8M136.3 124.5h.8M134.2 123.9h.8M132.4 133.0h.8M125.9 135.9h.8M132.8 126.0h.8M126.7 131.9h.8M127.3 129.4h.8M134.8 132.2h.8M129.9 141.4h.8M127.6 135.8h.8M138.6 133.2h.8M139.2 135.5h.8M129.5 132.3h.8M131.0 140.1h.8M132.4 137.9h.8M127.0 136.9h.8M131.1 137.5h.8M132.8 121.6h.8M131.1 123.1h.8M134.0 127.5h.8M127.5 130.5h.8M126.2 132.1h.8M126.9 135.0h.8M139.4 135.2h.8M128.6 129.9h.8M135.3 134.1h.8M135.4 132.4h.8M134.0 125.8h.8M136.2 139.4h.8M126.0 137.2h.8M128.9 137.3h.8M132.2 123.2h.8M132.3 139.6h.8M133.3 136.6h.8M138.2 130.3h.8M136.2 139.4h.8M135.7 124.0h.8M131.6 141.7h.8M126.7 134.9h.8M137.3 140.4h.8M138.1 127.7h.8M136.7 133.4h.8M129.1 142.8h.8M140.6 139.2h.8M124.8 132.9h.8M128.1 126.8h.8M133.1 136.2h.8M128.6 131.0h.8M129.6 135.6h.8M138.7 134.8h.8M134.5 132.5h.8M130.8 139.2h.8M130.2 136.5h.8" stroke="#86a6d6" stroke-width="0.9" fill="none"/>
<path d="M132.2 130.3h.8M128.4 140.2h.8M141.4 138.2h.8M134.2 142.4h.8M124.9 134.1h.8M131.5 127.1h.8M136.2 124.0h.8M134.8 127.0h.8M132.2 125.5h.8M131.1 126.3h.8M131.1 134.1h.8M126.7 128.8h.8M137.6 136.8h.8M135.3 125.9h.8M133.1 124.9h.8M138.1 130.0h.8M129.6 138.9h.8M130.2 136.2h.8M129.8 130.8h.8M130.2 130.5h.8M140.6 131.9h.8M135.4 143.5h.8M136.2 139.5h.8M136.1 128.9h.8M140.1 137.6h.8M128.4 126.2h.8M133.3 122.4h.8M140.8 132.7h.8M128.6 125.3h.8M139.6 130.5h.8M126.8 135.3h.8M137.1 136.9h.8M138.2 134.3h.8M138.2 137.0h.8M132.3 133.7h.8M135.7 136.9h.8M129.2 129.4h.8M129.0 140.5h.8M132.4 128.3h.8M139.2 139.7h.8M135.3 142.4h.8M132.6 133.4h.8M140.2 134.5h.8M133.6 142.7h.8M128.1 131.8h.8M128.2 140.9h.8M138.9 127.7h.8M125.0 134.2h.8M127.8 139.3h.8M131.2 124.7h.8M141.3 132.9h.8M126.4 137.2h.8M135.1 125.6h.8M137.9 134.3h.8M135.8 124.3h.8M132.1 119.7h.8M139.8 135.6h.8M131.4 126.0h.8M135.6 124.3h.8M135.0 126.5h.8" stroke="#a3bde2" stroke-width="0.9" fill="none"/>
<path d="M158.0 121.7h.8M157.5 124.0h.8M157.6 129.0h.8M157.7 123.9h.8M157.3 134.5h.8M158.1 124.7h.8M157.6 124.3h.8M157.2 130.4h.8M156.9 135.5h.8M158.1 119.8h.8M156.8 132.6h.8M156.7 130.3h.8M157.3 130.7h.8M156.1 134.7h.8M158.0 127.2h.8M156.4 134.1h.8M156.3 130.9h.8M157.1 135.6h.8M157.8 123.5h.8M158.2 121.2h.8M157.2 125.0h.8M157.8 124.5h.8M156.0 135.0h.8M157.7 125.2h.8M156.9 133.3h.8" stroke="#6f95c8" stroke-width="0.9" fill="none"/>
<path d="M144.6 145.4h.8M155.3 155.6h.8M158.9 162.1h.8M178.2 172.6h.8M155.6 155.6h.8M147.8 140.9h.8M177.0 180.0h.8M175.9 178.1h.8M174.5 173.0h.8M147.2 149.8h.8M145.1 146.5h.8M174.1 167.2h.8M148.8 140.2h.8M171.3 167.2h.8M146.3 144.9h.8M178.5 180.0h.8M150.1 149.5h.8M169.1 166.0h.8M146.5 150.1h.8M147.8 144.4h.8M175.9 173.2h.8M142.8 142.6h.8M165.3 161.6h.8M150.7 147.2h.8M165.8 168.5h.8M171.1 164.7h.8M171.5 165.5h.8M175.1 180.7h.8M154.9 157.6h.8M151.8 148.9h.8M151.3 146.7h.8M150.9 149.4h.8M163.9 159.5h.8M176.7 181.3h.8M149.8 150.9h.8M152.0 146.0h.8M163.3 156.1h.8M167.0 160.3h.8M182.4 177.8h.8M154.4 157.3h.8M164.6 166.3h.8M174.5 175.8h.8M144.6 149.6h.8M146.3 149.0h.8M158.7 158.6h.8M168.3 166.7h.8M167.4 161.5h.8M159.8 156.0h.8M141.6 143.9h.8M152.6 152.2h.8M173.7 163.4h.8M161.2 156.8h.8M151.1 152.7h.8M180.8 180.1h.8M165.9 159.6h.8M163.4 158.6h.8M159.1 159.7h.8M175.7 176.3h.8M161.9 157.3h.8M150.0 152.2h.8M162.8 158.6h.8M144.4 141.6h.8M142.4 143.8h.8M149.9 146.9h.8M154.0 154.5h.8M145.0 144.3h.8M144.9 148.2h.8M167.2 163.3h.8M169.9 169.1h.8M145.1 141.1h.8M177.0 175.5h.8M169.9 167.6h.8M152.9 149.5h.8M175.4 171.4h.8M180.0 176.2h.8M142.9 146.0h.8M166.2 159.9h.8M173.9 171.0h.8M141.2 145.0h.8M142.6 145.3h.8M160.1 157.2h.8M145.2 149.2h.8M177.3 173.2h.8M153.9 152.2h.8M166.9 162.8h.8M173.6 165.2h.8M154.8 153.6h.8M176.9 179.0h.8M170.1 165.7h.8M177.6 179.9h.8" stroke="#9dbfe2" stroke-width="0.9" fill="none"/>
<path d="M179.0 177.7h.8M162.4 156.3h.8M169.0 162.8h.8M175.6 175.2h.8M177.8 175.1h.8M154.7 154.5h.8M169.7 163.7h.8M152.0 156.3h.8M158.1 156.6h.8M176.3 179.8h.8M168.1 166.2h.8M143.5 142.9h.8M178.8 181.0h.8M147.1 145.7h.8M148.2 146.5h.8M179.8 176.8h.8M153.2 152.2h.8M148.3 148.6h.8M149.7 150.9h.8M164.3 157.2h.8M146.4 149.6h.8M152.1 148.9h.8M154.6 154.5h.8M149.4 151.6h.8M157.1 157.5h.8M175.1 170.6h.8M172.1 169.7h.8M147.0 154.0h.8M176.3 177.0h.8M154.7 154.5h.8M149.0 152.3h.8M173.3 171.6h.8M159.4 155.3h.8M175.0 173.1h.8M170.5 165.3h.8" stroke="#7aa0d0" stroke-width="0.9" fill="none"/>
<path d="M129.7 186.2h.8M140.6 167.7h.8M164.6 149.6h.8M148.1 162.1h.8M117.8 188.7h.8M153.0 158.9h.8M132.0 177.7h.8M149.0 163.9h.8M178.3 143.9h.8M144.8 167.1h.8M139.3 170.7h.8M151.0 161.5h.8M126.6 181.7h.8M181.8 143.6h.8M145.3 163.0h.8M148.3 161.6h.8M137.9 173.5h.8M156.1 157.2h.8M136.8 171.5h.8M118.0 190.2h.8M117.4 191.3h.8M150.5 158.7h.8M127.8 178.6h.8M142.1 170.9h.8M149.0 161.0h.8M147.5 165.7h.8M117.5 196.6h.8M182.7 135.8h.8M180.6 140.6h.8M129.8 175.5h.8M160.9 150.1h.8M124.3 188.6h.8M153.8 155.7h.8M122.3 183.2h.8M127.5 181.1h.8M176.0 142.7h.8M179.2 140.8h.8M150.4 157.8h.8M165.8 147.1h.8M155.7 158.8h.8M178.4 143.1h.8M148.0 157.1h.8M175.4 140.9h.8M133.0 172.9h.8M121.8 187.9h.8M182.9 139.6h.8M130.3 181.3h.8M126.4 181.8h.8M150.4 155.5h.8M159.1 160.9h.8M122.3 189.0h.8M146.8 163.4h.8M147.9 159.6h.8M145.2 167.9h.8M170.6 145.6h.8M171.1 144.4h.8M118.9 194.5h.8M181.9 141.4h.8M151.5 163.2h.8M117.5 186.6h.8M179.0 146.1h.8M169.1 147.8h.8M141.3 171.6h.8M145.0 160.4h.8M132.9 176.6h.8M150.1 160.5h.8M149.1 161.7h.8M123.6 192.3h.8M133.4 174.4h.8M147.7 160.0h.8M125.3 187.5h.8M179.6 140.8h.8M179.8 143.8h.8M159.9 152.3h.8M123.8 193.5h.8M118.8 193.6h.8M125.9 187.4h.8M181.1 142.6h.8M167.5 146.0h.8M120.8 198.0h.8M149.5 159.2h.8M179.3 142.7h.8M159.9 156.5h.8M155.4 155.5h.8M120.2 184.5h.8M151.4 159.6h.8M155.7 152.9h.8M118.3 196.1h.8M129.2 180.7h.8M120.9 193.2h.8" stroke="#9dbfe2" stroke-width="0.9" fill="none"/>
<path d="M167.3 151.5h.8M171.8 145.7h.8M129.2 181.8h.8M173.2 143.6h.8M129.3 178.7h.8M130.8 181.3h.8M130.8 177.3h.8M182.9 136.9h.8M157.4 152.9h.8M153.9 158.8h.8M154.6 158.7h.8M182.0 139.5h.8M144.9 163.3h.8M135.4 173.5h.8M146.8 164.6h.8M123.5 188.2h.8M133.7 179.1h.8M121.2 186.7h.8M152.7 156.9h.8M133.6 175.2h.8M148.0 158.7h.8M121.6 192.4h.8M154.4 155.3h.8M151.1 157.9h.8M181.1 143.3h.8M147.3 159.8h.8M164.1 147.2h.8M139.0 170.9h.8M150.5 159.0h.8M152.8 154.7h.8M138.1 168.5h.8M144.6 167.1h.8M142.1 165.2h.8M156.4 156.1h.8M176.1 144.6h.8" stroke="#7aa0d0" stroke-width="0.9" fill="none"/>
<path d="M118.0 175.7h.8M117.8 173.1h.8M112.6 185.6h.8M115.1 178.4h.8M120.3 167.4h.8M118.0 172.7h.8M118.9 169.9h.8M114.5 183.6h.8M116.2 176.8h.8M116.8 171.4h.8M113.5 183.4h.8M113.2 184.6h.8M114.6 181.4h.8M120.5 165.9h.8M115.8 178.7h.8M114.8 181.5h.8M121.1 166.6h.8M118.7 171.2h.8" stroke="#8db0dc" stroke-width="0.9" fill="none"/>
<path d="M186.9 135.0 C186.5 132.6 190.6 128.0 193.5 125.8 C196.3 123.6 200.7 122.0 204.0 121.8 C207.3 121.6 211.0 122.9 213.2 124.5 C215.4 126.0 216.7 128.6 217.1 131.0 C217.6 133.4 217.6 137.2 215.8 138.9 C214.1 140.7 209.9 141.3 206.6 141.5 C203.3 141.7 199.4 141.3 196.1 140.2 C192.8 139.1 187.4 137.4 186.9 135.0Z" fill="#f0f5fa"/>
<path d="M200.5 130.2h.8M207.8 141.0h.8M194.6 126.3h.8M201.0 124.1h.8M209.2 125.0h.8M197.5 128.3h.8M191.4 137.4h.8M192.4 127.0h.8M199.1 135.2h.8M205.7 123.5h.8M203.0 136.4h.8M209.7 132.0h.8M200.6 131.6h.8M208.8 138.3h.8M208.6 135.8h.8M201.3 127.0h.8M208.9 130.6h.8M211.8 134.0h.8M204.2 139.5h.8M201.2 130.8h.8M193.3 135.3h.8M202.3 130.7h.8M189.5 135.3h.8M198.6 131.3h.8M207.5 122.3h.8M212.2 127.0h.8M191.0 136.3h.8M201.0 140.1h.8M201.4 128.3h.8M212.8 124.6h.8M203.8 140.3h.8M207.2 130.2h.8M208.8 123.0h.8M209.2 136.7h.8M193.7 130.6h.8M210.4 135.5h.8M196.1 132.6h.8M211.6 137.6h.8M211.8 133.1h.8M194.9 132.5h.8M212.1 128.2h.8M212.4 135.1h.8M200.2 125.4h.8M208.1 134.5h.8M207.1 135.1h.8M209.7 133.0h.8M200.5 126.9h.8M211.3 140.1h.8M203.5 124.3h.8M206.0 132.4h.8M188.0 136.7h.8M198.8 126.8h.8M202.0 131.2h.8M203.8 135.0h.8M198.0 136.8h.8M192.2 134.2h.8M204.6 126.5h.8M195.5 131.5h.8M210.7 136.9h.8M213.5 136.2h.8M203.9 132.8h.8M201.3 126.5h.8M208.7 125.9h.8M205.1 126.5h.8M207.8 141.8h.8M196.9 125.5h.8M208.0 124.3h.8M204.7 124.3h.8M205.1 129.2h.8M213.7 137.8h.8M203.8 129.1h.8M205.0 139.9h.8M195.0 136.3h.8M193.1 130.8h.8M204.1 126.6h.8M204.9 133.2h.8M205.7 128.1h.8M201.1 137.1h.8M196.8 127.8h.8M214.2 134.3h.8M213.2 130.3h.8M208.2 132.4h.8M205.2 122.8h.8M206.3 141.5h.8M211.6 139.9h.8" stroke="#9cc1e0" stroke-width="0.9" fill="none"/>
<path d="M197.7 138.0h.8M203.8 129.2h.8M196.6 139.1h.8M208.0 126.7h.8M213.9 129.2h.8M196.6 125.9h.8M209.2 131.6h.8M197.7 127.0h.8M203.2 135.6h.8M212.3 138.8h.8M202.7 126.9h.8M203.8 128.7h.8M199.2 129.6h.8M194.0 130.9h.8M213.5 137.8h.8M202.5 137.1h.8M200.2 140.8h.8M210.1 131.6h.8M202.9 132.4h.8M189.5 134.7h.8M206.1 125.4h.8M192.2 130.0h.8M216.4 132.7h.8M191.1 136.1h.8M198.4 124.8h.8M203.6 135.6h.8M199.6 123.8h.8M203.1 139.7h.8M207.2 127.5h.8M206.4 133.7h.8M202.8 138.0h.8M214.5 137.8h.8M212.8 136.1h.8M206.9 129.0h.8M195.4 135.8h.8M195.7 133.0h.8M204.0 124.9h.8M193.3 136.4h.8M215.7 131.6h.8M196.1 128.3h.8M208.6 133.2h.8M211.6 133.3h.8M209.1 128.0h.8M196.8 127.3h.8M193.9 135.3h.8M201.6 133.4h.8M203.1 130.7h.8M206.4 123.5h.8M204.1 138.5h.8M213.6 131.0h.8M199.1 130.1h.8M192.5 136.3h.8M208.3 131.5h.8M206.5 136.8h.8M204.8 126.4h.8M212.5 138.1h.8M194.9 140.5h.8M203.2 123.2h.8M210.7 134.6h.8M200.5 133.2h.8M203.4 124.5h.8M200.8 135.8h.8M205.6 125.3h.8M189.8 133.9h.8M209.8 140.3h.8M205.9 124.0h.8M194.2 131.4h.8M206.9 134.4h.8M202.9 133.0h.8M192.3 128.9h.8M201.3 123.6h.8M209.8 134.3h.8M211.1 125.8h.8M205.0 139.0h.8M208.8 124.2h.8M200.5 133.1h.8M202.3 140.7h.8M191.4 128.8h.8M210.7 133.1h.8M206.0 130.0h.8M191.3 133.9h.8M206.7 129.6h.8M205.2 129.0h.8M201.3 129.3h.8M194.8 135.8h.8" stroke="#b9d3ea" stroke-width="0.9" fill="none"/>
<path d="M198.0 217.0 C200.7 213.3 206.0 206.7 210.0 203.0 C214.0 199.3 218.8 196.7 222.0 195.0 C225.2 193.3 227.3 192.2 229.0 193.0 C230.7 193.8 231.8 196.8 232.0 200.0 C232.2 203.2 231.3 208.3 230.0 212.0 C228.7 215.7 225.3 217.7 224.0 222.0 C222.7 226.3 222.5 232.5 222.0 238.0 C221.5 243.5 221.8 250.0 221.0 255.0 C220.2 260.0 219.2 264.3 217.0 268.0 C214.8 271.7 211.7 274.7 208.0 277.0 C204.3 279.3 198.2 281.8 195.0 282.0 C191.8 282.2 190.5 281.3 189.0 278.0 C187.5 274.7 186.5 267.0 186.0 262.0 C185.5 257.0 185.5 252.5 186.0 248.0 C186.5 243.5 187.7 238.8 189.0 235.0 C190.3 231.2 192.5 228.0 194.0 225.0 C195.5 222.0 195.3 220.7 198.0 217.0Z" fill="#f1f6fb"/>
<path d="M199.9 232.5h.8M196.8 266.3h.8M218.4 235.7h.8M223.3 223.7h.8M197.5 241.3h.8M203.7 248.5h.8M217.6 216.3h.8M214.7 211.4h.8M187.8 246.9h.8M197.2 252.3h.8M202.5 269.8h.8M218.6 212.0h.8M215.8 230.4h.8M190.0 254.5h.8M209.5 206.7h.8M214.7 245.7h.8M188.9 265.5h.8M215.8 227.5h.8M201.5 215.2h.8M204.6 217.4h.8M200.0 235.9h.8M226.6 219.2h.8M191.9 243.3h.8M188.9 255.2h.8M215.9 224.3h.8M226.7 193.1h.8M208.7 252.0h.8M215.6 233.6h.8M218.6 256.5h.8M189.0 258.2h.8M187.3 260.2h.8M203.9 246.5h.8M198.7 227.4h.8M211.2 268.4h.8M217.2 226.3h.8M229.4 196.5h.8M191.9 249.5h.8M205.3 221.4h.8M191.7 271.9h.8M202.8 233.5h.8M208.9 242.1h.8M195.2 233.6h.8M208.2 247.4h.8M204.4 210.1h.8M226.5 199.8h.8M200.2 217.4h.8M218.2 211.2h.8M188.8 239.5h.8M198.0 244.6h.8M202.3 219.0h.8M216.3 254.1h.8M219.4 245.8h.8M210.8 253.9h.8M192.6 269.4h.8M208.9 262.0h.8M195.7 272.4h.8M229.1 195.2h.8M204.3 261.9h.8M194.5 258.3h.8M193.1 269.4h.8M209.5 266.5h.8M214.2 225.5h.8M196.1 230.8h.8M221.6 231.1h.8M202.2 238.6h.8M189.4 234.4h.8M211.7 258.8h.8M206.8 276.8h.8M210.6 269.3h.8M191.6 269.2h.8M209.3 213.4h.8M186.9 255.0h.8M194.0 230.2h.8M215.1 228.9h.8M216.5 250.3h.8M200.8 243.4h.8M201.9 279.0h.8M205.1 208.8h.8M211.3 246.2h.8M224.8 212.5h.8M211.9 223.8h.8M202.1 260.3h.8M223.0 227.4h.8M194.2 235.5h.8M214.1 229.6h.8M200.4 241.0h.8M203.0 272.1h.8M205.0 242.2h.8M202.5 240.7h.8M220.3 214.2h.8M221.5 224.3h.8M194.8 265.2h.8M206.1 253.2h.8M205.9 222.7h.8M213.0 244.0h.8M211.2 252.4h.8M209.8 225.0h.8M210.7 218.3h.8M194.1 229.6h.8M200.7 237.4h.8M222.9 225.2h.8M200.3 245.8h.8M218.8 258.9h.8M202.1 269.3h.8M215.4 212.8h.8M189.6 275.1h.8M189.2 256.9h.8M212.3 217.4h.8M214.1 253.7h.8M202.5 222.2h.8M193.1 271.8h.8M220.9 213.9h.8M215.6 244.1h.8M195.8 267.3h.8M227.4 196.5h.8M207.7 264.8h.8M196.0 272.6h.8M194.4 250.7h.8M219.4 229.5h.8M210.8 220.2h.8M194.6 244.8h.8M213.6 213.9h.8M203.4 225.2h.8M193.3 264.9h.8M219.7 233.5h.8M207.8 266.5h.8M207.8 276.3h.8M215.6 228.6h.8M197.2 227.7h.8M206.2 276.6h.8M192.8 264.6h.8M227.6 194.2h.8M225.6 202.9h.8M199.6 266.3h.8M207.5 246.3h.8M202.7 277.2h.8M202.9 229.9h.8M207.3 209.3h.8M199.0 259.5h.8M214.2 241.4h.8" stroke="#8fb6d9" stroke-width="0.9" fill="none"/>
<path d="M218.6 216.2h.8M222.8 218.8h.8M212.1 219.6h.8M214.4 269.9h.8M196.3 232.0h.8M220.3 223.9h.8M195.0 235.4h.8M196.6 225.6h.8M221.6 205.9h.8M198.9 224.0h.8M202.4 220.7h.8M207.4 259.2h.8M196.6 278.9h.8M202.9 257.3h.8M211.7 229.2h.8M198.8 273.0h.8M218.5 259.6h.8M188.5 271.7h.8M209.4 218.9h.8M202.3 258.1h.8M195.2 252.2h.8M222.8 230.6h.8M195.3 260.3h.8M206.0 274.2h.8M201.3 220.5h.8M220.8 226.2h.8M189.8 265.0h.8M193.6 246.9h.8M227.2 196.5h.8M198.4 227.6h.8M197.2 220.5h.8M228.6 195.1h.8M216.1 263.4h.8M208.5 265.7h.8M209.1 226.4h.8M230.3 196.3h.8M204.6 234.7h.8M201.9 258.7h.8M203.3 262.0h.8M205.4 218.4h.8M195.1 233.9h.8M193.0 230.3h.8M230.6 202.2h.8M190.0 262.3h.8M221.9 235.6h.8M213.9 235.6h.8M214.5 238.2h.8M190.4 265.9h.8M206.0 233.4h.8M205.7 276.9h.8M206.5 216.4h.8M223.8 209.3h.8M214.1 231.8h.8M213.0 216.3h.8M219.8 253.2h.8M205.6 277.6h.8M214.7 260.6h.8M211.2 251.1h.8M200.1 216.8h.8M210.5 248.7h.8M192.1 257.4h.8M218.4 220.8h.8M212.3 259.1h.8M193.3 268.7h.8M195.8 223.2h.8M210.4 268.7h.8M212.6 221.1h.8M187.2 251.3h.8M215.9 265.5h.8M196.6 261.8h.8M223.8 230.4h.8M208.0 240.0h.8M193.4 274.4h.8M213.1 207.1h.8M219.2 234.7h.8M224.0 215.2h.8M219.3 244.8h.8M202.8 271.5h.8M214.2 206.3h.8M210.2 244.4h.8M210.5 252.5h.8M212.3 221.8h.8M215.3 214.0h.8M217.8 251.3h.8M211.0 238.3h.8M218.3 209.7h.8M212.9 217.8h.8M211.7 241.2h.8M198.3 246.7h.8M203.6 214.0h.8M191.0 253.3h.8M214.5 213.9h.8M209.4 234.5h.8M211.0 267.4h.8M213.4 239.8h.8M213.3 245.3h.8M200.4 276.6h.8M219.8 221.9h.8M196.6 252.8h.8M215.5 242.8h.8M223.2 217.0h.8M187.8 257.4h.8M218.4 204.0h.8M206.1 265.2h.8M196.8 275.7h.8M215.6 239.4h.8M189.0 270.5h.8M228.7 194.4h.8M211.7 201.0h.8M216.4 220.4h.8M213.0 271.1h.8M221.5 240.7h.8M216.9 224.3h.8M207.9 241.7h.8M204.6 225.5h.8M219.0 219.0h.8M208.4 241.5h.8M213.5 207.6h.8M227.0 196.2h.8M216.8 266.5h.8M207.5 211.3h.8M210.4 227.7h.8M203.7 274.5h.8M205.4 211.0h.8M205.2 218.4h.8M220.2 218.8h.8M195.8 227.6h.8M223.4 220.4h.8M222.5 242.0h.8M219.4 216.6h.8M214.6 227.5h.8M213.1 214.0h.8M207.8 226.9h.8M224.0 202.2h.8M212.3 227.7h.8M222.6 228.6h.8M228.2 207.1h.8M204.5 252.4h.8M193.3 274.8h.8M206.0 236.3h.8" stroke="#a6c6e2" stroke-width="0.9" fill="none"/>
<path d="M202.8 273.1h.8M212.9 210.9h.8M212.4 237.4h.8M220.6 256.1h.8M198.0 269.6h.8M193.2 263.6h.8M208.5 273.6h.8M188.7 261.1h.8M206.1 240.4h.8M229.7 205.9h.8M217.4 256.1h.8M214.2 247.4h.8M197.2 241.4h.8M188.5 255.9h.8M216.3 203.2h.8M206.4 260.9h.8M223.6 210.5h.8M189.2 273.2h.8M212.8 218.2h.8M215.2 218.4h.8M203.8 245.1h.8M191.2 245.7h.8M213.8 212.1h.8M219.8 255.1h.8M189.7 266.4h.8M192.6 233.8h.8M218.3 207.1h.8M190.3 235.6h.8M213.4 248.7h.8M190.5 268.4h.8M204.8 253.9h.8M193.9 260.6h.8M230.2 200.4h.8M194.6 261.9h.8M196.9 264.9h.8M197.1 223.4h.8M211.3 270.7h.8M198.3 235.5h.8M211.5 250.5h.8M217.0 211.5h.8M191.8 275.4h.8M210.1 246.4h.8M193.1 235.6h.8M209.0 240.7h.8M209.9 216.1h.8M193.4 236.3h.8M199.7 236.8h.8M188.4 264.7h.8M212.0 241.9h.8M208.2 224.6h.8M222.0 229.9h.8M192.0 254.5h.8M208.7 222.5h.8M190.8 273.3h.8M217.0 256.1h.8M199.9 238.9h.8M208.1 229.6h.8M197.5 262.4h.8M202.8 262.1h.8M223.9 210.9h.8M206.6 207.6h.8M223.3 198.1h.8M209.1 263.0h.8M197.7 272.5h.8M199.5 253.7h.8M188.3 246.5h.8M196.5 229.0h.8M191.3 229.8h.8M194.5 281.4h.8M192.5 238.2h.8M199.3 262.1h.8M224.7 218.1h.8M206.5 267.2h.8M195.7 226.0h.8M200.0 233.0h.8M213.6 203.4h.8M209.1 250.8h.8M210.6 236.8h.8M200.7 260.6h.8M189.2 241.9h.8M205.3 257.5h.8M194.4 252.7h.8M200.2 252.8h.8M203.3 264.2h.8M212.0 221.5h.8M203.9 239.0h.8M215.3 238.1h.8M194.0 261.7h.8M204.6 212.8h.8M220.3 248.3h.8M216.5 247.4h.8M201.7 267.1h.8M207.8 257.3h.8M193.3 253.6h.8M208.2 223.3h.8M206.4 234.1h.8M201.6 244.0h.8M201.3 250.3h.8M210.0 249.9h.8M197.7 229.2h.8M228.3 205.8h.8M205.9 244.8h.8M224.3 194.5h.8M194.6 241.3h.8M205.0 269.4h.8M197.4 229.8h.8M209.6 272.8h.8M197.7 248.7h.8M197.6 275.8h.8M208.3 250.4h.8M215.0 224.5h.8M215.1 201.2h.8M188.1 253.3h.8M192.7 244.2h.8M214.9 220.4h.8M200.8 229.3h.8M201.9 277.3h.8M188.9 240.1h.8M196.3 251.2h.8M196.7 244.1h.8M216.2 249.5h.8M196.9 233.6h.8M200.9 217.1h.8M209.5 234.5h.8M209.7 242.8h.8M191.2 260.8h.8M216.9 266.3h.8M189.6 237.2h.8M197.1 219.7h.8M192.4 242.1h.8M209.6 273.8h.8M218.3 249.0h.8M218.0 214.7h.8M218.6 252.9h.8M194.0 254.7h.8M218.3 210.9h.8M204.9 275.9h.8M200.4 230.8h.8M209.1 204.7h.8M194.8 230.1h.8" stroke="#7aa8d2" stroke-width="0.9" fill="none"/>
<path d="M214.6 232.1h.8M213.7 262.8h.8M188.6 264.9h.8M200.5 251.3h.8M226.0 210.7h.8M201.0 255.4h.8M217.0 231.8h.8M196.3 267.4h.8M213.7 208.3h.8M190.7 233.7h.8M223.6 208.5h.8M202.6 253.7h.8M209.3 208.9h.8M205.3 259.4h.8M203.3 274.6h.8M209.3 244.4h.8M226.8 198.7h.8M196.2 255.9h.8M192.0 254.2h.8M204.9 229.3h.8M203.3 240.1h.8M206.1 265.1h.8M207.9 224.0h.8M191.4 274.4h.8M210.4 208.3h.8M210.1 244.1h.8M200.3 220.5h.8M216.5 229.1h.8M190.5 240.4h.8M214.9 266.6h.8M222.6 225.0h.8M196.1 226.1h.8M195.4 227.7h.8M209.3 256.1h.8M218.1 213.5h.8M215.2 220.0h.8M196.5 242.7h.8M200.3 223.7h.8M210.8 232.8h.8M202.2 264.5h.8M217.9 232.4h.8M217.3 245.8h.8M222.1 195.4h.8M217.1 261.5h.8M209.3 269.2h.8M214.4 271.0h.8M192.7 250.6h.8M200.6 277.2h.8M219.0 247.7h.8M208.5 219.3h.8M201.0 246.2h.8M192.5 224.8h.8M203.5 254.7h.8M211.8 257.2h.8M200.2 237.7h.8M210.3 230.1h.8M219.2 206.2h.8M197.3 228.5h.8M215.5 227.7h.8M207.3 256.7h.8M206.3 246.3h.8M205.3 240.6h.8M230.3 195.6h.8M204.5 243.0h.8M190.6 268.6h.8M200.0 213.2h.8M210.7 256.1h.8M188.7 241.4h.8M229.8 200.9h.8M212.7 244.2h.8M187.2 247.6h.8M202.0 245.9h.8M198.1 246.8h.8M194.0 267.0h.8M196.5 252.6h.8M207.0 208.9h.8M223.5 209.7h.8M214.3 207.9h.8M203.0 232.2h.8M221.9 215.0h.8M211.0 211.8h.8M189.7 253.0h.8M216.6 255.3h.8M228.1 197.8h.8M197.4 245.9h.8M221.5 208.1h.8M209.1 227.5h.8M218.2 204.3h.8M205.6 228.4h.8M200.2 255.0h.8M209.2 233.2h.8M219.1 256.7h.8M194.3 264.3h.8M207.9 277.3h.8M200.6 223.8h.8M197.4 282.0h.8M204.8 250.6h.8M188.4 252.1h.8M221.3 225.0h.8M198.0 262.5h.8M204.3 221.2h.8M202.9 276.3h.8M210.5 271.9h.8M218.5 202.7h.8M196.8 226.5h.8M209.3 275.5h.8M218.6 249.6h.8M203.5 217.1h.8M195.5 279.2h.8M216.8 251.0h.8M220.8 217.6h.8M215.8 264.5h.8M196.2 255.8h.8M215.2 203.9h.8M196.4 274.4h.8M191.4 252.2h.8M212.6 208.6h.8M213.3 201.8h.8M209.3 242.8h.8M222.0 204.1h.8M199.8 231.5h.8M198.7 276.4h.8M200.2 253.8h.8M211.5 263.3h.8M205.7 246.2h.8M222.0 243.4h.8M224.9 204.1h.8M209.4 268.7h.8M200.9 270.1h.8M224.7 213.9h.8M208.7 244.1h.8M196.0 236.0h.8M209.5 235.2h.8M212.6 247.9h.8M219.8 231.4h.8M199.2 277.5h.8M226.9 217.1h.8M196.7 268.1h.8M211.4 214.4h.8M214.8 259.1h.8" stroke="#6a9ccc" stroke-width="0.9" fill="none"/>
<path d="M197.2 263.4h.8M210.2 237.3h.8M214.7 253.9h.8M189.3 252.0h.8M204.1 270.6h.8M206.3 256.4h.8M204.5 246.8h.8M210.8 215.1h.8M190.1 244.0h.8M201.7 220.7h.8M218.1 199.7h.8M192.8 234.6h.8M228.6 208.0h.8M200.8 268.5h.8M208.8 229.2h.8M220.5 212.6h.8M193.8 241.1h.8M212.9 213.5h.8M197.7 277.7h.8M211.4 250.8h.8M205.1 221.4h.8M216.2 219.7h.8M230.8 208.5h.8M219.3 203.3h.8M210.5 215.8h.8M210.2 232.7h.8M217.7 201.4h.8M208.1 249.0h.8M210.7 252.8h.8M191.2 264.3h.8M206.2 228.6h.8M206.7 211.0h.8M208.2 226.4h.8M211.2 267.9h.8M205.7 272.5h.8M195.1 270.7h.8M205.8 258.9h.8M200.6 238.9h.8M220.6 214.2h.8M210.0 215.2h.8M193.5 252.4h.8M201.1 246.2h.8M202.3 257.1h.8M203.8 225.3h.8M218.3 235.1h.8M207.1 235.2h.8M190.8 232.5h.8M215.6 215.4h.8M206.6 268.4h.8M221.1 198.4h.8M219.7 231.7h.8M205.6 250.0h.8M222.2 218.5h.8M199.9 274.5h.8M222.6 197.3h.8M200.9 267.0h.8M206.6 209.6h.8M222.5 215.5h.8M216.9 265.2h.8M211.4 231.8h.8M218.0 204.8h.8M211.9 203.9h.8M217.0 198.8h.8M205.6 261.2h.8M221.0 247.5h.8M201.7 246.6h.8M187.1 261.1h.8M223.6 219.3h.8M196.3 269.4h.8M226.3 195.5h.8M192.0 262.7h.8M188.2 272.4h.8M220.2 222.9h.8M212.3 273.1h.8M211.0 259.5h.8M191.3 272.8h.8M211.6 217.1h.8M202.7 232.1h.8M212.5 208.3h.8M214.6 257.4h.8M224.2 198.9h.8M214.2 228.1h.8M224.3 202.8h.8M194.9 235.0h.8M222.0 238.5h.8M195.9 235.3h.8M205.6 265.5h.8M213.7 269.8h.8M193.1 262.9h.8M193.8 234.9h.8M197.2 226.8h.8M201.3 274.1h.8M201.2 228.8h.8M204.7 233.2h.8M210.0 231.8h.8M189.0 265.3h.8M211.4 238.8h.8M202.7 246.3h.8M198.0 250.8h.8M219.7 208.5h.8M208.7 239.4h.8M196.1 236.3h.8M218.7 256.1h.8M228.7 197.7h.8M209.2 236.5h.8M205.0 267.8h.8M217.5 259.7h.8M223.5 214.2h.8M186.9 268.0h.8M195.1 228.2h.8M209.2 248.0h.8M204.4 232.1h.8M202.3 222.4h.8M202.1 217.3h.8M216.7 236.1h.8M201.4 221.9h.8M196.1 231.6h.8M201.0 258.4h.8M205.8 243.6h.8M199.1 238.7h.8M225.3 202.7h.8M220.8 207.9h.8M207.2 212.6h.8M226.3 215.9h.8M204.8 237.1h.8M210.5 249.2h.8M210.0 204.8h.8M198.4 229.8h.8M192.9 230.8h.8M221.6 224.5h.8M219.9 202.9h.8M196.5 238.5h.8M199.7 219.9h.8M206.7 231.3h.8M199.4 236.7h.8M212.1 255.7h.8M218.4 202.0h.8M215.7 217.4h.8M217.2 249.4h.8M218.8 201.6h.8" stroke="#b9d3ea" stroke-width="0.9" fill="none"/>
<path d="M225.0 230.0 C226.3 228.5 230.0 231.3 232.0 233.0 C234.0 234.7 236.0 237.2 237.0 240.0 C238.0 242.8 238.7 247.5 238.0 250.0 C237.3 252.5 234.8 254.7 233.0 255.0 C231.2 255.3 228.5 254.2 227.0 252.0 C225.5 249.8 224.3 245.7 224.0 242.0 C223.7 238.3 223.7 231.5 225.0 230.0Z" fill="#f3f7fb"/>
<path d="M228.3 232.3h.8M233.1 237.5h.8M234.7 243.5h.8M232.0 247.0h.8M230.1 251.0h.8M235.6 248.4h.8M233.8 250.6h.8M227.7 241.3h.8M233.6 242.9h.8M236.1 246.5h.8M237.2 244.7h.8M235.8 245.8h.8M228.0 240.9h.8M228.8 237.7h.8M229.6 237.5h.8M226.5 239.4h.8M234.7 242.3h.8M233.5 250.9h.8M227.5 231.3h.8M227.3 236.9h.8M229.0 236.4h.8M227.7 247.5h.8M226.4 247.4h.8M227.2 245.4h.8M227.1 245.9h.8M228.3 252.5h.8M229.7 238.6h.8M225.2 242.0h.8M229.8 242.2h.8M232.6 247.7h.8M229.7 248.5h.8M231.0 239.7h.8M235.3 250.3h.8M235.3 242.1h.8M233.8 248.2h.8M229.3 232.6h.8M230.4 245.1h.8M236.4 243.4h.8M225.4 237.6h.8M232.2 241.5h.8M229.2 234.7h.8M227.4 246.5h.8M235.8 245.9h.8M237.3 246.2h.8M227.2 242.4h.8M232.3 244.6h.8M229.7 243.7h.8M227.6 245.4h.8M231.4 246.9h.8M236.5 247.5h.8M228.2 250.0h.8M227.5 250.0h.8M231.5 235.4h.8M230.9 243.8h.8M227.1 237.6h.8" stroke="#a6c6e2" stroke-width="0.9" fill="none"/>
<path d="M236.2 240.0h.8M225.8 235.5h.8M233.3 248.2h.8M226.7 234.6h.8M227.1 249.5h.8M225.5 233.2h.8M234.0 244.9h.8M225.6 244.4h.8M234.6 245.4h.8M234.7 237.0h.8M231.7 239.6h.8M231.8 245.3h.8M234.3 250.3h.8M231.4 242.0h.8M228.9 252.9h.8M226.8 232.6h.8M226.1 242.9h.8M230.1 235.3h.8M231.4 247.4h.8M232.0 236.9h.8M234.8 237.9h.8M235.0 237.9h.8M228.8 241.4h.8M227.3 241.3h.8M228.2 249.7h.8M237.4 247.7h.8M237.0 247.7h.8M235.7 246.2h.8M227.4 239.8h.8M228.5 246.1h.8M235.2 238.7h.8M226.0 240.6h.8M232.2 245.4h.8M234.7 253.0h.8M229.2 234.3h.8M236.7 240.7h.8M229.2 247.7h.8M228.6 249.7h.8M230.9 251.4h.8M232.8 253.3h.8M231.5 233.4h.8M230.3 234.4h.8M231.8 242.0h.8M233.2 253.2h.8M232.0 238.1h.8M236.9 241.6h.8M236.1 248.9h.8M226.1 243.5h.8M227.3 238.2h.8M225.6 245.2h.8M229.6 234.0h.8M232.8 239.7h.8M226.5 242.1h.8M231.5 237.2h.8M226.4 235.2h.8" stroke="#8fb6d9" stroke-width="0.9" fill="none"/>
<path d="M225.5 197.2h.8M195.5 176.1h.8M213.1 183.6h.8M215.2 188.8h.8M192.9 168.1h.8M222.1 189.5h.8M220.4 191.9h.8M198.0 168.5h.8M208.4 178.3h.8M216.4 185.4h.8M196.3 171.3h.8M215.6 191.3h.8M210.0 182.0h.8M212.2 184.7h.8" stroke="#eeb3a2" stroke-width="0.9" fill="none"/>
<path d="M193.4 173.7h.8M194.4 174.0h.8M194.1 173.5h.8M195.3 173.7h.8M196.0 174.1h.8" stroke="#d9705a" stroke-width="1.0" fill="none"/>
<path d="M397.9 166.5 C398.5 164.1 402.3 164.1 404.5 163.9 C406.6 163.6 409.0 163.9 411.0 165.2 C413.0 166.5 414.7 169.1 416.3 171.7 C417.8 174.4 418.9 178.1 420.2 180.9 C421.5 183.8 422.6 186.4 424.2 188.8 C425.7 191.2 427.4 194.3 429.4 195.4 C431.4 196.5 433.8 194.3 436.0 195.4 C438.2 196.5 440.8 199.6 442.5 202.0 C444.3 204.4 445.4 207.2 446.5 209.8 C447.6 212.5 449.1 215.1 449.1 217.7 C449.1 220.4 447.6 223.0 446.5 225.6 C445.4 228.2 443.6 230.0 442.5 233.5 C441.5 237.0 440.6 242.2 439.9 246.6 C439.3 251.0 439.5 255.8 438.6 259.8 C437.7 263.7 436.2 267.2 434.7 270.3 C433.1 273.3 430.9 277.3 429.4 278.2 C427.9 279.0 426.9 277.7 425.5 275.5 C424.1 273.3 422.5 269.0 421.0 265.0 C419.5 261.1 417.9 256.3 416.3 251.9 C414.6 247.5 412.8 243.1 411.0 238.7 C409.3 234.4 407.1 230.4 405.8 225.6 C404.5 220.8 403.8 215.1 403.1 209.8 C402.5 204.6 402.3 199.3 401.8 194.1 C401.4 188.8 401.2 182.9 400.5 178.3 C399.9 173.7 397.2 168.9 397.9 166.5Z" fill="#eaf0f8"/>
<path d="M417.4 236.9h.8M432.8 241.1h.8M418.9 242.2h.8M448.2 221.2h.8M403.5 165.5h.8M428.0 204.1h.8M435.8 250.5h.8M405.9 221.2h.8M434.9 224.6h.8M417.5 213.9h.8M403.7 185.2h.8M426.3 246.6h.8M423.6 256.5h.8M445.5 214.1h.8M415.4 170.5h.8M439.4 245.0h.8M424.1 250.5h.8M417.5 188.5h.8M418.5 192.6h.8M414.2 183.4h.8M416.8 236.6h.8M413.6 206.7h.8M435.6 235.7h.8M411.4 229.9h.8M436.3 220.0h.8M437.2 261.2h.8M428.7 234.2h.8M403.9 196.8h.8M406.2 228.0h.8M412.0 183.9h.8M413.9 179.2h.8M423.5 191.7h.8M411.9 209.2h.8M436.5 215.6h.8M407.6 230.8h.8M421.6 192.3h.8M402.6 186.8h.8M412.3 226.9h.8M426.2 221.5h.8M423.1 208.5h.8M429.0 216.2h.8M422.2 227.8h.8M418.8 224.3h.8M416.2 179.1h.8M436.9 231.4h.8M418.1 216.6h.8M428.9 198.1h.8M422.0 233.4h.8M411.0 221.3h.8M404.7 182.8h.8M404.9 163.8h.8M431.6 252.1h.8M434.7 234.3h.8M431.3 227.7h.8M434.0 262.0h.8M435.0 222.7h.8M413.4 205.7h.8M429.3 249.9h.8M403.1 164.5h.8M436.5 242.3h.8M432.8 267.1h.8M417.0 194.2h.8M411.6 178.6h.8M430.0 219.4h.8M422.4 258.9h.8M443.1 202.0h.8M424.7 199.9h.8M423.8 241.3h.8M433.7 244.6h.8M414.4 199.1h.8M434.9 204.0h.8M433.5 265.7h.8M416.4 187.8h.8M414.3 171.7h.8M419.2 204.2h.8M428.8 241.3h.8M405.6 168.4h.8M429.7 228.5h.8M408.0 168.2h.8M422.1 254.8h.8M415.8 246.1h.8M426.3 208.4h.8M416.8 242.1h.8M427.8 232.3h.8M416.7 175.7h.8M431.5 240.9h.8M437.8 197.6h.8M421.9 201.3h.8M416.4 236.7h.8M415.9 196.5h.8M412.7 174.3h.8M427.3 207.0h.8M435.9 249.6h.8M410.4 184.3h.8M410.2 190.4h.8M419.9 202.6h.8M447.3 220.5h.8M404.1 164.8h.8M402.9 199.9h.8M403.0 165.3h.8M446.0 216.0h.8M421.6 225.5h.8M403.8 182.8h.8M438.6 240.5h.8M409.1 229.3h.8M404.9 180.2h.8M422.9 247.0h.8M432.3 218.0h.8M422.3 201.3h.8M443.6 213.3h.8M417.5 196.6h.8M419.2 244.6h.8M441.6 214.1h.8M412.1 236.5h.8M416.1 178.8h.8M431.6 213.0h.8M402.4 167.9h.8M408.1 170.9h.8M423.3 198.9h.8M409.0 167.4h.8M405.1 201.1h.8M424.0 267.1h.8M416.9 201.1h.8M427.8 228.1h.8M425.7 266.7h.8M404.2 204.4h.8M422.6 224.3h.8M430.7 203.6h.8M422.8 251.8h.8M405.8 197.1h.8M427.5 265.0h.8M438.2 249.8h.8M408.3 175.7h.8M426.8 244.1h.8M410.5 168.6h.8M436.6 239.7h.8M422.2 212.5h.8M404.7 176.2h.8M400.5 174.2h.8M436.2 221.7h.8M403.3 197.3h.8M417.6 227.0h.8M423.8 200.0h.8M415.9 235.4h.8M423.0 261.4h.8M425.4 199.6h.8M431.3 213.0h.8M402.5 169.0h.8M412.1 208.2h.8M440.0 243.6h.8M404.9 223.2h.8M406.0 217.8h.8M430.1 263.1h.8M423.1 201.5h.8M416.6 177.9h.8M428.9 216.0h.8M404.9 202.6h.8M441.7 226.9h.8M420.6 248.8h.8M403.4 179.9h.8M412.5 207.2h.8M422.5 202.8h.8M427.7 218.3h.8M414.0 189.4h.8M429.6 240.7h.8M425.4 234.2h.8M421.8 195.1h.8M435.1 223.9h.8M415.5 244.0h.8M408.5 221.7h.8M436.2 243.9h.8M415.8 211.4h.8M407.9 177.2h.8M427.7 234.0h.8M435.6 266.1h.8M411.9 236.9h.8M407.5 174.7h.8M431.4 273.3h.8M402.4 196.6h.8M406.9 212.4h.8M445.4 219.2h.8M433.8 224.7h.8M441.5 230.6h.8M425.1 250.0h.8M419.7 209.6h.8M400.6 187.2h.8M424.2 268.5h.8M421.0 238.2h.8M399.4 173.7h.8M425.0 195.7h.8M429.4 270.3h.8M432.9 228.1h.8M442.0 227.7h.8M439.2 204.1h.8M416.1 230.5h.8M413.7 196.2h.8M441.7 215.6h.8M407.8 175.0h.8M435.3 253.6h.8M429.0 219.6h.8M400.7 166.7h.8M424.4 248.9h.8M443.8 215.3h.8M428.4 218.9h.8M411.7 211.1h.8M419.5 194.2h.8M436.7 255.4h.8M405.4 211.0h.8M431.7 264.7h.8M432.2 199.4h.8M421.9 185.9h.8M410.2 200.1h.8M429.0 269.2h.8M407.8 216.5h.8M439.4 214.1h.8M444.5 212.4h.8M428.0 263.6h.8M418.7 229.9h.8M438.5 255.9h.8M423.0 259.6h.8M421.1 257.2h.8M415.0 201.8h.8M416.2 246.0h.8M428.8 258.8h.8M425.4 233.1h.8M435.9 203.3h.8M421.8 237.1h.8M403.4 194.8h.8M437.4 221.8h.8M416.6 214.4h.8M421.6 234.0h.8M447.4 217.6h.8M415.9 222.0h.8M404.8 170.7h.8M413.8 238.8h.8M428.9 215.7h.8M436.7 245.6h.8M425.4 242.7h.8M424.8 264.4h.8M424.8 244.5h.8M432.0 225.8h.8M436.0 217.7h.8M420.3 224.6h.8M435.5 245.2h.8M426.5 200.6h.8M438.8 210.5h.8M409.3 203.2h.8M427.1 263.6h.8M443.2 229.3h.8M430.2 255.6h.8M408.4 168.9h.8M422.3 233.9h.8M427.5 251.7h.8M403.4 191.8h.8M418.7 234.9h.8M417.1 244.6h.8M425.0 220.2h.8M428.1 272.3h.8M433.5 202.1h.8M409.8 189.2h.8M428.0 274.4h.8M422.1 211.2h.8M424.6 191.2h.8M436.4 222.1h.8M422.0 205.9h.8M415.9 191.3h.8M439.0 211.9h.8M432.8 233.0h.8M413.0 194.2h.8M422.5 200.7h.8M428.8 228.8h.8M424.9 265.7h.8M421.4 192.2h.8M426.0 203.3h.8M437.9 256.1h.8M431.4 249.1h.8M442.3 209.9h.8M416.4 237.7h.8M405.0 201.4h.8M429.7 202.4h.8M407.6 218.8h.8M422.0 196.9h.8M432.1 216.4h.8M436.5 237.8h.8M411.2 237.7h.8M415.8 204.5h.8M434.3 203.5h.8M430.0 217.8h.8M416.9 225.6h.8M434.9 200.6h.8M404.9 214.6h.8M434.6 222.9h.8M424.8 249.7h.8M410.4 234.4h.8M442.3 202.9h.8M421.1 255.3h.8M433.8 205.2h.8M414.4 189.4h.8M408.0 230.5h.8M428.6 255.1h.8M437.3 237.2h.8M425.0 253.3h.8M404.7 171.1h.8M419.5 258.2h.8M428.5 238.7h.8M429.8 257.6h.8M413.2 203.4h.8M414.2 180.9h.8M412.6 219.7h.8M418.6 190.5h.8M444.6 212.7h.8M416.9 211.5h.8M437.4 248.0h.8M407.0 229.7h.8M446.8 217.1h.8M421.3 201.9h.8M431.2 257.3h.8M434.5 242.3h.8M432.5 204.4h.8M409.5 221.7h.8M431.2 249.6h.8M425.1 260.7h.8M423.9 220.7h.8M443.1 228.5h.8M420.4 228.2h.8M417.2 203.6h.8M437.4 242.9h.8M407.7 169.5h.8M438.1 215.1h.8M405.6 216.6h.8M404.1 216.3h.8M417.0 222.3h.8M423.4 194.0h.8M403.6 175.1h.8M417.1 188.7h.8M409.6 197.5h.8M420.7 207.0h.8M417.8 176.0h.8M413.1 200.9h.8M419.9 243.6h.8M409.2 193.6h.8M425.2 231.5h.8M414.5 184.5h.8M441.4 217.4h.8M410.1 188.7h.8M418.8 249.6h.8M413.0 241.0h.8M404.9 167.9h.8M404.1 205.6h.8M428.8 235.1h.8M434.5 223.9h.8M426.4 234.5h.8M419.9 210.3h.8M409.4 234.2h.8M415.8 204.9h.8M424.4 203.8h.8M432.2 222.6h.8M408.8 225.2h.8M405.5 183.6h.8M435.6 221.2h.8M418.9 210.8h.8M414.2 228.1h.8M404.4 177.1h.8M405.2 181.0h.8M421.6 238.6h.8M431.0 211.5h.8M434.3 202.7h.8M433.0 238.0h.8M422.9 204.3h.8M427.6 240.3h.8M446.9 210.9h.8M430.8 246.1h.8M418.0 230.1h.8M443.7 204.7h.8M437.2 255.1h.8" stroke="#5f83c2" stroke-width="0.9" fill="none"/>
<path d="M415.7 193.8h.8M419.8 231.7h.8M413.7 170.7h.8M405.1 171.7h.8M423.0 207.7h.8M414.0 206.8h.8M418.0 245.0h.8M448.4 221.7h.8M440.4 202.2h.8M438.0 204.5h.8M426.3 199.3h.8M430.1 253.7h.8M429.5 256.2h.8M423.7 266.8h.8M438.6 241.0h.8M427.1 225.5h.8M435.4 204.9h.8M422.6 191.9h.8M423.3 259.3h.8M398.7 167.0h.8M411.9 237.7h.8M422.6 226.6h.8M403.0 203.4h.8M417.1 202.4h.8M417.3 209.3h.8M416.4 227.8h.8M444.4 227.0h.8M422.6 218.8h.8M407.7 223.9h.8M430.6 198.2h.8M435.8 251.7h.8M413.3 241.3h.8M413.7 210.2h.8M439.8 223.1h.8M424.4 232.5h.8M419.6 197.6h.8M434.2 212.7h.8M423.9 197.8h.8M439.2 237.6h.8M425.9 230.3h.8M406.3 208.2h.8M403.9 167.5h.8M407.9 203.3h.8M438.0 243.4h.8M430.3 227.6h.8M425.5 218.6h.8M415.6 216.5h.8M412.4 226.6h.8M426.7 199.6h.8M427.6 217.9h.8M433.1 241.4h.8M416.6 217.4h.8M410.2 240.2h.8M402.1 171.6h.8M414.8 226.5h.8M426.9 236.3h.8M408.4 209.0h.8M438.5 239.5h.8M418.9 214.2h.8M414.5 185.0h.8M408.0 215.0h.8M435.1 203.1h.8M414.8 203.0h.8M434.2 257.4h.8M439.9 233.7h.8M426.7 261.8h.8M425.1 230.9h.8M408.2 175.0h.8M410.2 165.3h.8M428.4 235.0h.8M421.3 210.6h.8M434.8 245.9h.8M441.3 205.5h.8M439.3 229.7h.8M436.0 254.9h.8M440.0 236.6h.8M415.7 215.9h.8M413.8 203.0h.8M411.3 224.1h.8M435.7 236.3h.8M424.8 214.5h.8M435.0 212.3h.8M412.2 241.2h.8M413.5 190.0h.8M415.6 207.8h.8M417.0 215.7h.8M431.5 252.3h.8M399.9 176.4h.8M444.8 214.7h.8M405.4 177.1h.8M441.5 232.5h.8M433.3 217.7h.8M413.4 168.3h.8M425.0 188.9h.8M411.6 221.7h.8M410.5 219.2h.8M432.7 253.1h.8M423.9 257.8h.8M415.0 216.8h.8M419.3 192.3h.8M419.3 200.9h.8M425.0 197.5h.8M405.2 172.4h.8M421.1 206.1h.8M410.2 202.7h.8M418.1 199.7h.8M421.2 218.4h.8M406.2 227.3h.8M435.2 242.1h.8M405.1 197.2h.8M413.7 210.6h.8M417.1 174.1h.8M406.9 168.6h.8M445.0 215.2h.8M405.2 219.1h.8M420.8 264.0h.8M407.1 228.0h.8M419.2 189.9h.8M442.2 212.2h.8M433.8 229.8h.8M414.1 195.9h.8M420.2 221.7h.8M417.8 222.5h.8M430.3 240.9h.8M434.1 266.1h.8M404.3 170.4h.8M409.6 172.4h.8M426.3 273.3h.8M414.0 201.1h.8M426.8 246.6h.8M408.0 220.2h.8M413.5 200.3h.8M424.0 222.1h.8M402.4 173.7h.8M434.0 251.5h.8M421.2 234.6h.8M441.7 219.7h.8M415.5 234.0h.8M440.5 219.0h.8M417.6 216.4h.8M410.9 197.1h.8M414.8 183.5h.8M413.1 213.6h.8M422.1 200.4h.8M441.3 201.7h.8M414.0 229.0h.8M445.3 224.4h.8M404.2 181.5h.8M427.3 243.7h.8M439.4 214.1h.8M413.3 224.5h.8M406.6 165.7h.8M429.6 205.9h.8M418.6 219.8h.8M436.0 194.4h.8M428.8 277.8h.8M428.6 263.2h.8M430.2 236.7h.8M407.0 210.9h.8M427.0 193.5h.8M423.8 189.5h.8M408.2 197.9h.8M424.7 235.5h.8M434.0 227.0h.8M420.7 187.8h.8M441.7 244.2h.8M431.6 252.7h.8M435.8 226.9h.8M408.2 184.4h.8M431.9 219.0h.8M404.8 216.6h.8M436.0 203.4h.8M444.4 214.2h.8M422.4 233.9h.8M417.7 213.1h.8M407.5 171.1h.8M430.6 238.8h.8M407.4 208.7h.8M425.2 197.4h.8M421.4 253.7h.8M421.0 201.5h.8M429.9 209.7h.8M417.7 231.8h.8M435.9 206.6h.8M434.7 234.5h.8M410.4 224.7h.8M417.7 195.4h.8M431.0 198.3h.8M409.1 168.7h.8M442.9 218.5h.8M442.1 218.1h.8M424.9 198.0h.8M415.3 179.2h.8M404.6 215.5h.8M411.0 176.4h.8M403.6 168.1h.8M427.8 202.7h.8M437.2 234.4h.8M434.7 248.9h.8M416.4 241.9h.8M416.4 211.6h.8M439.0 204.8h.8M401.4 178.2h.8M440.8 216.3h.8M428.4 233.5h.8M437.4 221.7h.8M437.8 204.6h.8M425.3 195.0h.8M414.1 202.7h.8M441.8 234.6h.8M418.3 190.1h.8M412.3 177.1h.8M426.8 272.9h.8M445.9 221.2h.8M414.3 209.4h.8M424.5 264.3h.8M411.5 193.9h.8M420.0 251.8h.8M422.4 244.5h.8M412.6 220.9h.8M416.8 184.3h.8M432.2 232.5h.8M415.9 205.0h.8M424.5 199.1h.8M415.6 218.0h.8M432.8 205.5h.8M430.5 200.9h.8M427.9 264.4h.8M421.3 260.3h.8M427.0 264.0h.8M427.4 234.8h.8M417.1 206.1h.8M413.5 198.3h.8M433.0 235.3h.8M431.3 225.4h.8M424.3 209.0h.8M404.2 211.4h.8M425.4 207.7h.8M439.9 217.1h.8M435.1 202.7h.8M418.9 202.3h.8M416.9 251.1h.8M404.2 178.5h.8M431.2 201.2h.8M404.4 186.1h.8M430.5 273.7h.8M407.9 185.3h.8M410.4 183.6h.8M435.5 214.9h.8M437.5 198.8h.8M448.3 219.2h.8M438.4 238.4h.8M406.8 169.7h.8M423.9 235.9h.8M426.3 227.1h.8M438.6 231.7h.8M428.0 239.5h.8M418.8 182.4h.8M420.5 203.4h.8M430.6 236.3h.8M398.3 164.9h.8M416.7 232.3h.8M411.2 230.7h.8M443.4 205.2h.8M448.2 214.3h.8M424.3 244.2h.8M426.2 250.2h.8M406.9 211.7h.8M417.4 228.5h.8M420.1 226.8h.8M420.9 201.7h.8M431.4 265.2h.8M418.8 244.9h.8M401.5 200.1h.8M418.1 203.2h.8M426.7 260.6h.8M410.4 234.3h.8M437.6 229.2h.8M436.5 246.2h.8M422.6 244.3h.8M412.2 227.0h.8M411.4 178.0h.8M424.5 195.8h.8M425.7 238.7h.8M426.8 274.7h.8M444.1 226.1h.8M435.5 216.4h.8M417.5 224.0h.8M424.9 198.0h.8M443.4 221.0h.8M417.0 196.7h.8M425.0 212.4h.8M419.2 212.1h.8M422.8 198.9h.8M424.2 208.4h.8M403.8 206.5h.8M425.4 204.8h.8M424.4 209.9h.8M403.4 173.1h.8M411.5 200.2h.8M421.4 223.0h.8M405.6 202.9h.8M421.7 230.0h.8M419.1 236.7h.8M423.1 229.5h.8M417.3 254.0h.8M427.8 253.2h.8M412.2 184.3h.8M424.9 236.5h.8M407.9 191.4h.8M438.7 201.3h.8M411.6 219.2h.8M425.2 250.9h.8M429.5 250.7h.8M439.6 205.0h.8M429.4 233.1h.8M438.4 226.2h.8M406.4 175.6h.8M418.0 179.2h.8M429.3 228.0h.8M422.4 249.8h.8M407.2 194.4h.8M416.6 240.3h.8M439.2 215.2h.8M438.2 232.1h.8M403.0 171.5h.8M423.4 217.1h.8M427.5 194.2h.8M407.4 185.0h.8M445.6 225.6h.8M439.2 221.0h.8M431.1 265.9h.8M424.9 224.1h.8M426.9 240.3h.8M424.8 210.5h.8M429.2 195.9h.8M408.5 231.8h.8M415.1 228.4h.8M404.6 193.5h.8M426.0 275.6h.8M440.5 229.4h.8M437.1 226.0h.8M406.9 190.0h.8M425.6 218.0h.8M419.1 248.9h.8M424.2 214.6h.8M410.0 196.6h.8M432.1 204.3h.8M422.2 215.3h.8M410.6 226.2h.8M422.6 209.3h.8M444.9 211.1h.8M420.7 220.9h.8M431.1 267.4h.8M405.4 206.4h.8M411.6 195.1h.8M401.0 177.2h.8M414.7 225.9h.8M412.3 214.2h.8M417.0 231.9h.8M421.5 242.4h.8M416.7 238.0h.8M429.8 266.0h.8M436.4 210.9h.8M411.5 231.2h.8M428.6 227.9h.8M425.7 228.0h.8M409.9 215.1h.8M426.2 242.4h.8M403.3 167.6h.8M427.8 252.0h.8M412.2 209.2h.8M418.1 216.7h.8M421.8 239.8h.8M415.8 207.2h.8" stroke="#7f9dd2" stroke-width="0.9" fill="none"/>
<path d="M424.4 221.4h.8M435.2 210.9h.8M432.3 200.9h.8M426.2 211.6h.8M441.3 223.6h.8M428.8 205.3h.8M423.4 244.1h.8M427.3 213.2h.8M443.5 228.0h.8M433.9 247.6h.8M433.3 214.0h.8M411.3 220.8h.8M417.0 177.6h.8M435.8 240.3h.8M421.8 216.9h.8M433.6 253.4h.8M422.2 234.7h.8M436.6 262.1h.8M412.7 191.2h.8M404.4 186.5h.8M425.0 232.6h.8M416.6 203.9h.8M430.3 246.4h.8M423.7 240.7h.8M421.9 257.1h.8M426.0 265.2h.8M407.3 199.4h.8M430.6 196.6h.8M411.7 179.5h.8M414.2 192.5h.8M407.0 205.7h.8M444.0 210.8h.8M441.1 210.4h.8M419.4 197.1h.8M416.3 227.4h.8M431.7 217.1h.8M407.4 185.0h.8M433.7 199.0h.8M414.6 203.1h.8M428.3 268.4h.8M422.7 233.2h.8M435.4 258.6h.8M433.6 241.0h.8M429.0 210.8h.8M423.5 216.3h.8M424.1 203.1h.8M428.4 252.1h.8M410.2 220.6h.8M406.1 201.4h.8M426.9 214.9h.8M438.4 223.4h.8M433.1 242.9h.8M436.6 218.0h.8M416.4 241.4h.8M419.6 236.9h.8M402.5 168.8h.8M421.8 243.0h.8M435.6 212.1h.8M403.4 190.3h.8M419.9 200.1h.8M415.2 171.3h.8M402.3 201.2h.8M442.8 233.3h.8M403.0 197.3h.8M410.1 199.0h.8M410.4 234.4h.8M426.2 240.0h.8M411.3 205.1h.8M427.2 226.0h.8M429.6 252.6h.8M437.6 226.3h.8M426.4 242.5h.8M419.6 242.7h.8M441.0 217.5h.8M444.5 208.9h.8M438.1 260.5h.8M406.8 216.8h.8M446.9 218.2h.8M404.0 204.6h.8M426.3 238.8h.8M415.6 172.6h.8M420.7 202.6h.8M437.1 219.2h.8M425.6 263.1h.8M425.1 224.1h.8M409.6 177.8h.8M430.3 204.7h.8M402.5 201.5h.8M415.1 170.8h.8M442.6 234.2h.8M425.1 213.9h.8M413.7 175.4h.8M416.5 225.8h.8M443.8 226.6h.8M411.2 166.6h.8M415.0 234.7h.8M419.1 246.6h.8M438.8 228.7h.8M416.9 238.0h.8M439.9 220.1h.8M436.3 208.0h.8M417.9 233.0h.8M411.9 166.4h.8M443.9 212.2h.8M436.8 211.2h.8M427.2 246.9h.8M407.0 211.8h.8M423.3 253.9h.8M413.2 240.3h.8M429.7 265.0h.8M441.7 231.9h.8M405.5 208.6h.8M425.2 210.7h.8M423.5 264.0h.8M413.2 218.1h.8M425.6 255.9h.8M419.7 229.5h.8M415.5 203.8h.8M442.9 221.9h.8M414.1 191.2h.8M434.1 253.4h.8M422.8 219.2h.8M438.1 222.5h.8M413.8 195.0h.8M403.1 201.7h.8M433.1 202.2h.8M440.4 216.3h.8M406.7 189.8h.8M416.8 183.3h.8M445.1 226.0h.8M409.7 175.7h.8M425.3 227.1h.8M420.2 245.8h.8M422.6 233.6h.8M417.4 177.4h.8M437.1 225.5h.8M435.6 221.1h.8M442.1 207.1h.8M441.1 231.1h.8M424.7 234.6h.8M431.0 275.5h.8M406.1 217.9h.8M404.2 189.9h.8M418.1 215.4h.8M433.2 239.0h.8M403.1 192.8h.8M405.1 201.0h.8M436.9 235.9h.8M432.6 222.2h.8M437.3 201.7h.8M417.7 244.1h.8M413.0 211.0h.8M400.5 177.2h.8M429.4 245.3h.8M423.6 229.2h.8M413.3 179.3h.8M407.8 189.8h.8M417.8 231.5h.8M419.9 230.3h.8M409.6 200.1h.8M439.8 203.4h.8M420.5 261.2h.8M421.2 253.3h.8M443.2 208.4h.8M435.5 218.7h.8M426.0 259.9h.8M435.4 224.1h.8M445.4 220.1h.8M415.2 209.4h.8M447.1 219.4h.8M418.4 257.2h.8M432.8 202.3h.8M437.6 249.8h.8M412.1 190.3h.8M433.2 267.1h.8M414.5 241.1h.8M439.3 250.8h.8M432.9 203.8h.8M422.5 237.8h.8M402.4 173.8h.8M431.0 273.5h.8M413.2 171.4h.8M413.9 180.2h.8M404.3 182.2h.8M421.2 206.4h.8M414.0 206.4h.8M439.2 217.6h.8M427.8 265.7h.8M433.3 236.4h.8M401.7 200.1h.8M403.2 208.6h.8M418.3 210.0h.8M424.8 239.6h.8M409.6 215.0h.8M417.2 243.8h.8M406.6 169.8h.8M432.5 260.4h.8M405.4 186.1h.8M424.9 273.5h.8M440.9 239.8h.8M406.3 216.0h.8M417.1 175.2h.8M427.6 274.5h.8M443.4 213.4h.8M404.3 195.7h.8M423.8 262.7h.8M415.1 222.7h.8M423.8 265.4h.8M413.9 229.4h.8M427.9 195.6h.8M434.6 216.6h.8M424.0 258.6h.8M437.3 229.7h.8M411.4 209.0h.8M424.3 201.5h.8M406.6 172.5h.8M432.8 200.0h.8M436.9 244.9h.8M436.1 238.3h.8M437.7 226.5h.8M437.4 242.0h.8M418.6 207.9h.8M427.6 232.0h.8M407.3 196.6h.8M408.8 171.9h.8M427.4 197.2h.8M428.4 271.9h.8M419.9 257.1h.8M409.3 225.9h.8M416.3 182.8h.8M410.3 209.8h.8M430.7 230.0h.8M420.0 239.0h.8M412.9 220.0h.8M431.1 196.9h.8M413.9 182.9h.8M426.5 230.6h.8M403.0 183.7h.8M436.0 239.6h.8M423.9 265.1h.8M435.8 234.8h.8M406.4 214.9h.8M416.9 222.2h.8M445.5 209.3h.8M440.2 231.9h.8M416.2 195.6h.8M434.6 222.9h.8M406.9 184.7h.8M404.3 209.8h.8M425.4 211.7h.8M423.7 208.4h.8M415.3 223.3h.8M423.9 268.4h.8M405.6 169.2h.8M411.2 185.2h.8M420.9 202.2h.8M437.1 242.9h.8M432.7 249.4h.8M415.7 199.8h.8M412.0 235.6h.8M416.3 210.8h.8M418.0 230.7h.8M410.4 169.1h.8M424.6 218.9h.8M416.3 240.5h.8M427.0 211.2h.8M431.0 273.7h.8M412.9 179.5h.8M428.3 224.3h.8M404.8 178.2h.8M446.0 217.8h.8M434.3 243.7h.8M429.8 209.3h.8M417.4 202.8h.8M419.6 215.6h.8M436.1 226.3h.8M441.3 235.7h.8M437.1 219.8h.8M432.5 256.0h.8M424.0 269.9h.8M428.5 214.8h.8M433.1 213.5h.8M419.9 240.8h.8M415.6 195.3h.8M438.6 235.2h.8M435.4 205.0h.8M425.7 235.1h.8M419.3 217.2h.8M408.0 168.5h.8M412.8 199.1h.8M400.5 171.9h.8M410.3 194.1h.8M438.4 249.4h.8M444.4 217.9h.8M429.8 240.0h.8M430.8 210.3h.8M430.3 257.1h.8M409.3 186.9h.8M430.1 239.4h.8M432.5 238.3h.8M415.8 233.9h.8M417.3 236.3h.8M407.8 208.9h.8M421.5 189.6h.8M426.2 224.7h.8M419.7 190.3h.8M407.3 183.9h.8M435.5 203.4h.8M435.6 262.1h.8M417.2 249.1h.8M413.6 170.7h.8M426.6 207.0h.8M433.2 229.2h.8M413.9 231.0h.8M428.7 267.4h.8M430.2 257.4h.8M442.9 210.4h.8M419.7 180.9h.8M438.8 213.6h.8M424.9 222.4h.8M417.0 196.6h.8M423.3 210.6h.8M419.6 221.9h.8M409.2 216.5h.8M411.5 207.8h.8M414.8 198.2h.8M423.4 260.8h.8M434.4 210.8h.8M407.9 184.8h.8M442.2 207.9h.8M430.9 209.9h.8M429.4 262.7h.8M427.7 240.2h.8M430.3 199.5h.8M438.9 228.7h.8M440.6 227.7h.8M422.4 187.7h.8M420.5 255.8h.8M408.4 184.1h.8M412.2 207.8h.8M417.3 185.7h.8M415.4 233.0h.8M427.0 251.8h.8M433.1 245.3h.8M429.7 208.3h.8M428.2 254.4h.8M431.7 198.4h.8M415.8 233.9h.8M414.6 247.4h.8M426.8 233.2h.8M416.0 211.6h.8M414.9 210.4h.8M434.1 219.0h.8M439.1 221.6h.8M420.0 251.8h.8M436.3 206.9h.8M403.6 209.5h.8M403.2 203.3h.8M424.2 260.8h.8M416.9 204.4h.8M435.2 260.8h.8M427.2 230.2h.8M424.1 271.1h.8M442.8 224.9h.8M422.3 190.6h.8M422.2 247.8h.8M420.4 219.5h.8M421.7 228.0h.8M425.1 194.2h.8M414.3 203.4h.8M440.2 244.5h.8M435.4 232.5h.8M442.4 232.0h.8M423.9 197.9h.8M413.8 245.7h.8" stroke="#5276b8" stroke-width="0.9" fill="none"/>
<path d="M428.7 225.1h.8M416.5 234.9h.8M400.7 167.4h.8M424.7 229.1h.8M405.7 181.3h.8M416.6 204.2h.8M418.8 248.0h.8M433.3 220.8h.8M425.0 233.2h.8M420.6 233.0h.8M410.8 223.6h.8M402.2 198.3h.8M413.7 241.2h.8M425.1 256.4h.8M401.5 182.0h.8M404.5 211.1h.8M416.8 180.3h.8M433.7 195.9h.8M421.4 210.8h.8M439.9 237.9h.8M412.8 223.7h.8M427.3 235.9h.8M428.5 234.9h.8M429.8 267.7h.8M438.2 204.6h.8M409.0 216.6h.8M445.6 211.8h.8M408.2 217.8h.8M424.2 234.6h.8M411.7 230.8h.8M421.8 234.2h.8M432.3 264.4h.8M425.9 233.0h.8M441.7 232.5h.8M413.8 213.3h.8M407.6 167.3h.8M402.7 174.3h.8M416.6 185.2h.8M406.1 195.5h.8M423.8 251.6h.8M421.1 229.8h.8M408.1 206.5h.8M437.8 243.2h.8M403.1 197.0h.8M417.8 206.2h.8M424.8 199.5h.8M409.8 216.7h.8M425.7 251.6h.8M433.5 230.3h.8M437.6 240.6h.8M400.9 168.8h.8M433.9 253.9h.8M412.4 203.3h.8M442.7 209.1h.8M403.8 172.7h.8M405.6 214.4h.8M438.2 238.4h.8M428.0 207.8h.8M415.7 174.5h.8M438.4 237.4h.8M440.8 233.3h.8M412.2 182.3h.8M406.1 185.6h.8M417.6 221.3h.8M406.8 192.9h.8M424.5 253.6h.8M410.4 190.8h.8M404.7 178.8h.8M430.1 197.9h.8M422.3 198.5h.8M404.1 174.4h.8M441.4 231.4h.8M419.7 252.0h.8M431.8 260.7h.8M415.1 222.1h.8M441.9 207.6h.8M414.8 239.2h.8M411.2 217.4h.8M412.3 237.4h.8M421.3 186.5h.8M421.9 243.4h.8M405.0 184.9h.8M436.9 260.6h.8M428.6 203.0h.8M443.5 224.5h.8M418.9 211.3h.8M404.9 186.9h.8M439.0 230.9h.8M432.0 240.3h.8M413.8 201.5h.8M419.0 175.2h.8M414.0 187.9h.8M421.8 188.9h.8M438.7 253.3h.8M427.4 231.2h.8M404.5 206.6h.8M427.6 226.1h.8M427.2 246.4h.8M444.9 225.6h.8M429.8 220.7h.8M426.5 230.2h.8M404.1 179.3h.8M437.1 251.2h.8M434.1 250.6h.8M406.1 210.0h.8M420.6 225.6h.8M409.5 213.2h.8M419.9 207.8h.8M434.2 264.7h.8M446.1 211.3h.8M427.2 215.0h.8M404.0 223.1h.8M432.5 198.4h.8M430.8 275.7h.8M422.2 186.6h.8M436.9 197.3h.8M443.5 225.5h.8M438.8 210.7h.8M413.6 199.6h.8M434.1 253.8h.8M429.4 210.7h.8M431.2 221.3h.8M407.9 221.0h.8M432.2 264.6h.8M433.8 242.4h.8M433.8 253.9h.8M425.6 230.5h.8M431.9 244.6h.8M407.7 176.9h.8M404.3 167.6h.8M429.6 278.2h.8M439.7 248.6h.8M425.6 212.3h.8M407.3 202.3h.8M445.1 214.4h.8M413.2 218.2h.8M433.7 213.0h.8M435.6 230.8h.8M412.9 229.4h.8M415.8 221.3h.8M408.2 223.3h.8M442.3 227.9h.8M442.1 219.6h.8M414.9 205.8h.8M415.3 202.8h.8M407.2 209.9h.8M406.4 196.2h.8M434.5 229.8h.8M440.4 232.4h.8M436.6 209.2h.8M401.9 179.0h.8M419.4 235.3h.8M444.6 216.4h.8M433.6 270.1h.8M412.5 230.2h.8M419.9 261.2h.8M404.3 216.9h.8M418.5 246.8h.8M424.1 259.9h.8M437.1 225.1h.8M423.0 235.2h.8M432.8 208.3h.8M419.2 197.5h.8M436.6 211.4h.8M423.7 202.6h.8M437.3 252.7h.8M421.5 227.6h.8M436.7 258.3h.8M424.0 191.9h.8M403.3 177.2h.8M418.7 177.6h.8M405.4 191.3h.8M430.5 230.5h.8M413.3 190.6h.8M429.2 235.9h.8M428.1 196.1h.8M401.9 171.4h.8M415.6 205.7h.8M423.7 235.4h.8M426.5 224.3h.8M428.5 204.3h.8M417.5 189.1h.8M414.5 231.1h.8M414.0 244.4h.8M424.9 226.8h.8M419.4 232.8h.8M408.2 176.7h.8M436.3 215.0h.8M414.9 210.8h.8M425.4 266.5h.8M404.8 172.6h.8M445.3 226.7h.8M432.3 196.0h.8M445.1 207.4h.8M427.3 240.3h.8M424.1 244.6h.8M424.4 210.6h.8M429.1 277.1h.8M435.9 221.7h.8M413.1 195.9h.8M409.6 189.7h.8M420.5 198.5h.8M433.7 229.1h.8M432.0 215.3h.8M444.6 209.3h.8M406.3 166.1h.8M436.1 241.8h.8M421.5 205.1h.8M441.2 233.7h.8M427.6 199.5h.8M420.6 231.0h.8M417.6 224.4h.8M428.0 198.9h.8M409.7 211.1h.8M428.5 250.5h.8M416.9 226.0h.8M434.2 221.9h.8M415.3 233.3h.8M428.4 204.3h.8M426.8 233.9h.8M434.7 249.6h.8M436.5 232.6h.8M425.6 243.1h.8M418.5 201.5h.8M431.2 252.8h.8M436.7 225.2h.8M427.6 241.3h.8M426.0 258.3h.8M409.0 213.8h.8M442.1 205.6h.8M434.2 254.5h.8M429.9 276.0h.8M435.0 216.7h.8M412.0 212.9h.8M436.6 218.9h.8M438.4 244.3h.8M445.4 219.1h.8M407.0 215.4h.8M408.2 171.3h.8M432.0 212.2h.8M414.4 247.1h.8M402.4 164.9h.8M418.7 258.8h.8M428.4 245.7h.8M425.1 219.9h.8M424.3 193.7h.8M413.1 228.6h.8M444.7 210.6h.8M421.1 233.0h.8M414.5 179.4h.8M422.7 235.4h.8M404.0 188.5h.8M440.7 226.2h.8M433.5 247.5h.8M437.2 223.2h.8M445.0 224.4h.8M409.7 231.4h.8M436.1 251.9h.8M433.4 229.2h.8M412.0 233.2h.8M425.0 214.0h.8M412.0 194.9h.8M407.3 225.7h.8M440.8 229.9h.8M404.7 181.8h.8M441.4 203.6h.8M416.0 188.3h.8M418.1 185.0h.8M423.0 217.5h.8M430.6 262.0h.8M423.4 202.3h.8M437.4 248.0h.8M415.9 207.7h.8M434.0 243.8h.8M428.8 249.6h.8M423.4 207.0h.8M429.6 254.4h.8M404.2 194.3h.8M428.9 200.7h.8M439.9 224.1h.8M412.8 212.7h.8M418.9 250.6h.8M412.6 214.3h.8M431.1 232.2h.8M405.5 183.5h.8M418.3 237.8h.8M428.1 215.5h.8M417.3 252.6h.8M433.8 238.8h.8M416.6 216.9h.8M414.6 175.3h.8M413.0 227.4h.8M421.0 231.8h.8M437.4 210.2h.8M413.2 220.6h.8M411.9 207.7h.8M416.4 198.5h.8M431.7 227.7h.8M422.5 256.8h.8M416.3 217.3h.8M432.7 199.5h.8M426.8 203.8h.8M403.1 190.5h.8M417.9 195.6h.8M408.3 205.4h.8M433.9 242.2h.8M439.1 224.0h.8M407.8 172.4h.8M405.8 204.7h.8M404.4 206.8h.8M437.9 230.3h.8M433.0 219.4h.8M411.2 226.6h.8M440.0 243.2h.8M438.5 247.4h.8M417.5 188.6h.8M413.8 222.1h.8M437.5 263.7h.8M409.1 194.6h.8M410.1 193.3h.8M404.9 200.7h.8M414.4 196.9h.8M418.2 238.3h.8M425.9 273.1h.8M432.3 265.9h.8M424.9 273.2h.8M437.0 202.6h.8M413.5 205.0h.8M425.9 256.0h.8M440.9 228.9h.8M416.0 195.5h.8M404.1 209.9h.8M409.1 167.6h.8M408.1 171.5h.8M407.2 184.7h.8M418.4 209.3h.8M411.0 183.5h.8M439.6 240.4h.8M411.7 196.9h.8M428.8 261.5h.8M412.7 191.8h.8M439.0 244.7h.8M414.3 246.8h.8M420.5 243.2h.8M417.1 215.8h.8M421.9 239.8h.8M428.6 198.0h.8M426.1 269.6h.8M420.7 254.9h.8M426.8 244.0h.8M428.5 274.7h.8M405.8 165.2h.8M433.2 210.7h.8M421.9 191.0h.8M413.5 180.4h.8M433.5 243.0h.8M432.5 270.9h.8M436.1 197.6h.8M408.8 203.1h.8M402.3 183.8h.8M429.9 243.6h.8M400.2 169.2h.8M428.4 203.7h.8M417.0 207.0h.8M427.7 194.8h.8M435.7 248.8h.8M429.2 217.9h.8M444.4 213.6h.8M428.5 226.7h.8M430.4 236.0h.8M415.3 202.9h.8M432.9 250.9h.8M438.5 240.9h.8M411.8 171.9h.8M423.1 214.0h.8" stroke="#97b1dc" stroke-width="0.9" fill="none"/>
<path d="M454.4 120.5 C453.2 121.2 451.8 123.6 451.0 125.8 C450.1 128.0 449.2 131.0 449.1 133.6 C449.0 136.3 449.1 140.0 450.4 141.5 C451.7 143.1 454.8 143.1 457.0 142.8 C459.2 142.6 462.7 142.2 463.6 140.2 C464.4 138.2 463.2 134.1 462.3 131.0 C461.3 128.0 459.1 123.6 457.8 121.8 C456.5 120.1 455.5 119.9 454.4 120.5Z" fill="#eaf0f8"/>
<path d="M463.0 137.2h.8M454.3 135.5h.8M461.4 137.0h.8M450.5 142.2h.8M458.9 129.4h.8M457.6 132.4h.8M457.9 140.2h.8M460.0 132.8h.8M458.8 130.1h.8M462.2 130.0h.8M452.9 135.6h.8M457.0 134.4h.8M459.3 133.5h.8M455.8 128.9h.8M455.5 135.2h.8M454.3 124.2h.8M449.8 126.8h.8M458.2 126.4h.8M457.8 130.6h.8M460.6 127.2h.8M452.7 128.4h.8M460.2 134.6h.8M454.1 141.3h.8M454.6 131.0h.8M460.5 138.6h.8M460.5 128.8h.8M455.7 139.8h.8M459.6 135.0h.8M456.3 122.3h.8M460.7 132.1h.8M452.4 137.2h.8M456.7 124.0h.8M450.0 133.4h.8M458.3 137.2h.8M460.5 137.4h.8M461.0 130.4h.8M457.7 131.7h.8M458.2 137.8h.8M457.0 135.3h.8M455.9 138.7h.8M453.7 136.2h.8M458.7 129.7h.8M453.3 139.3h.8M454.7 124.0h.8M459.1 140.6h.8M450.1 138.2h.8M453.7 141.6h.8M453.0 126.3h.8M452.5 129.7h.8M455.4 140.7h.8M457.2 135.7h.8M457.7 125.3h.8M459.9 128.5h.8M456.7 125.6h.8M450.3 134.3h.8M454.1 138.3h.8M454.5 133.8h.8M461.8 138.1h.8M453.6 132.7h.8M456.6 128.8h.8" stroke="#5f86c0" stroke-width="0.9" fill="none"/>
<path d="M455.4 134.3h.8M454.6 127.2h.8M450.7 140.9h.8M456.1 131.2h.8M452.8 139.4h.8M456.4 125.8h.8M460.7 135.2h.8M452.4 124.7h.8M462.2 134.6h.8M451.5 135.3h.8M452.5 138.6h.8M457.1 134.2h.8M451.1 129.0h.8M459.4 134.5h.8M453.5 141.1h.8M457.8 139.1h.8M456.2 122.3h.8M453.5 136.5h.8M456.5 136.1h.8M454.6 124.5h.8M450.2 128.8h.8M463.7 138.5h.8M457.2 123.5h.8M461.3 135.9h.8M454.3 130.6h.8M459.1 139.3h.8M455.0 124.6h.8M461.5 134.2h.8M450.0 130.3h.8M455.5 123.3h.8M451.4 129.1h.8M460.8 139.4h.8M459.3 134.5h.8M450.2 132.8h.8M462.3 140.3h.8M462.6 134.9h.8M452.5 123.4h.8M457.9 134.4h.8M455.6 124.9h.8M459.4 129.4h.8M455.8 131.1h.8M452.4 128.4h.8M449.3 137.7h.8M452.5 140.2h.8M456.8 126.4h.8M453.8 136.4h.8M452.0 133.2h.8M458.1 125.1h.8M457.2 135.1h.8M458.2 131.4h.8M452.1 131.6h.8M458.3 123.7h.8M455.9 136.9h.8M458.2 133.6h.8M455.0 124.9h.8M452.2 134.9h.8M457.9 125.3h.8M460.0 129.1h.8M454.0 131.6h.8M458.4 124.8h.8" stroke="#86a6d6" stroke-width="0.9" fill="none"/>
<path d="M456.1 126.6h.8M455.7 136.2h.8M459.4 133.5h.8M455.1 122.2h.8M456.6 122.4h.8M452.1 130.9h.8M454.6 142.5h.8M459.6 137.9h.8M460.1 129.0h.8M458.7 130.2h.8M452.1 137.1h.8M463.2 140.7h.8M452.4 126.7h.8M461.2 134.2h.8M460.4 131.3h.8M454.3 138.9h.8M452.9 138.3h.8M455.1 129.6h.8M461.2 130.3h.8M454.2 134.7h.8M454.4 126.7h.8M454.2 129.3h.8M453.1 128.2h.8M457.5 136.2h.8M456.5 131.3h.8M451.4 135.1h.8M459.0 129.1h.8M451.8 137.2h.8M462.0 134.9h.8M457.0 126.9h.8M458.2 134.0h.8M451.7 128.6h.8M462.0 133.7h.8M452.9 138.1h.8M459.7 133.3h.8M454.4 126.6h.8M450.6 134.4h.8M459.6 139.2h.8M463.1 138.1h.8M455.8 123.1h.8M460.4 132.3h.8M453.4 124.8h.8M454.4 129.8h.8M451.0 138.8h.8M454.3 131.6h.8M462.9 133.1h.8M451.1 138.0h.8M459.6 126.2h.8M459.4 125.8h.8M460.1 136.7h.8M454.9 133.3h.8M460.0 138.2h.8M454.1 122.6h.8M459.6 129.7h.8M463.0 139.8h.8M462.6 132.6h.8M460.7 128.6h.8M452.4 135.1h.8M450.9 127.0h.8M456.6 126.7h.8" stroke="#a3bde2" stroke-width="0.9" fill="none"/>
<path d="M481.6 119.4h.8M481.2 129.8h.8M481.5 133.0h.8M481.1 122.8h.8M481.6 129.7h.8M481.3 132.1h.8M482.5 120.7h.8M480.6 129.9h.8M481.9 120.9h.8M481.2 127.0h.8M481.3 119.7h.8M481.2 132.6h.8M482.1 120.6h.8M481.3 125.4h.8M480.6 128.3h.8M482.7 124.7h.8M480.4 131.7h.8M482.6 123.2h.8M480.3 131.4h.8M480.5 133.6h.8M482.0 123.2h.8M481.0 124.6h.8M480.9 129.6h.8M481.7 120.2h.8M482.1 122.3h.8" stroke="#6f95c8" stroke-width="0.9" fill="none"/>
<path d="M476.6 154.0h.8M496.0 172.9h.8M500.3 172.3h.8M473.6 153.5h.8M490.8 170.2h.8M470.4 147.4h.8M493.1 170.5h.8M476.9 150.1h.8M464.6 144.2h.8M481.2 154.6h.8M463.3 147.0h.8M491.4 162.2h.8M494.6 170.9h.8M499.3 173.9h.8M483.4 164.6h.8M491.9 163.7h.8M464.4 143.5h.8M492.0 161.6h.8M480.9 158.0h.8M492.6 171.9h.8M480.9 161.8h.8M478.5 152.2h.8M483.5 161.6h.8M478.5 155.8h.8M485.4 162.8h.8M479.3 153.7h.8M481.3 159.3h.8M491.4 164.6h.8M471.5 152.4h.8M465.9 144.5h.8M468.9 143.9h.8M495.4 173.6h.8M488.1 162.9h.8M496.7 173.9h.8M491.5 166.4h.8M476.1 154.5h.8M466.5 138.8h.8M475.5 155.6h.8M475.7 148.3h.8M495.6 171.1h.8M481.9 160.7h.8M473.5 149.2h.8M474.5 152.2h.8M500.1 176.9h.8M473.3 154.6h.8M483.2 157.6h.8M490.2 162.5h.8M482.3 157.8h.8M473.6 150.3h.8M470.8 146.5h.8M489.3 171.0h.8M472.9 149.9h.8M493.4 173.3h.8M466.5 140.6h.8M479.0 149.9h.8M493.8 168.1h.8M474.3 154.7h.8M470.3 147.8h.8M494.3 171.7h.8M491.7 169.9h.8M484.9 158.2h.8M461.7 146.5h.8M468.7 155.1h.8M490.7 166.7h.8M494.9 169.5h.8M490.4 165.7h.8M485.3 158.5h.8M495.3 177.0h.8M465.3 141.8h.8M464.3 142.6h.8M489.5 166.9h.8M496.4 173.6h.8M480.0 160.1h.8M495.2 173.8h.8M487.8 165.0h.8M492.6 169.7h.8M470.8 143.2h.8M485.0 160.0h.8M465.2 146.7h.8M494.8 170.2h.8M488.1 165.4h.8M493.2 166.8h.8M474.6 151.9h.8M498.9 171.2h.8M481.7 153.3h.8M486.4 164.8h.8M494.0 175.0h.8M490.1 165.9h.8M483.9 159.6h.8M496.7 177.7h.8" stroke="#9dbfe2" stroke-width="0.9" fill="none"/>
<path d="M491.2 168.5h.8M482.8 160.0h.8M491.1 164.7h.8M497.3 170.8h.8M472.7 152.4h.8M469.6 143.6h.8M492.5 169.9h.8M494.1 174.0h.8M498.1 172.7h.8M479.8 157.2h.8M469.7 143.8h.8M476.4 156.7h.8M494.8 178.6h.8M471.3 149.0h.8M483.3 158.4h.8M476.5 152.8h.8M470.6 146.6h.8M473.3 152.7h.8M496.5 173.3h.8M472.6 151.3h.8M477.8 155.0h.8M495.4 174.9h.8M461.5 144.1h.8M487.6 161.0h.8M495.4 172.4h.8M496.5 173.5h.8M492.4 163.9h.8M479.7 156.2h.8M477.7 155.6h.8M488.3 161.0h.8M476.9 154.5h.8M485.2 163.2h.8M492.4 167.5h.8M489.7 169.8h.8M497.5 177.5h.8" stroke="#7aa0d0" stroke-width="0.9" fill="none"/>
<path d="M451.6 174.9h.8M480.3 151.7h.8M470.5 166.5h.8M493.3 149.0h.8M471.4 161.6h.8M473.8 155.6h.8M490.6 150.0h.8M475.2 156.8h.8M466.0 164.8h.8M447.7 181.4h.8M489.7 150.9h.8M473.6 156.1h.8M485.2 155.2h.8M472.9 157.7h.8M491.0 150.3h.8M461.4 167.9h.8M465.7 163.6h.8M493.4 151.7h.8M502.7 141.8h.8M504.9 141.4h.8M507.5 137.9h.8M479.8 155.6h.8M479.2 151.7h.8M486.9 156.4h.8M490.4 148.6h.8M453.3 176.6h.8M455.3 182.3h.8M507.8 139.3h.8M448.2 184.5h.8M475.4 155.6h.8M481.1 156.1h.8M452.1 186.7h.8M489.3 149.0h.8M473.4 161.3h.8M490.8 147.3h.8M456.2 174.7h.8M481.1 150.6h.8M496.5 143.8h.8M498.8 141.9h.8M463.9 165.7h.8M509.0 142.5h.8M476.9 157.9h.8M470.8 157.0h.8M484.0 152.2h.8M467.3 162.7h.8M466.2 165.5h.8M495.4 144.7h.8M489.5 149.8h.8M497.9 146.4h.8M490.0 151.5h.8M451.7 185.5h.8M466.5 161.4h.8M506.3 140.7h.8M508.5 139.6h.8M454.9 171.3h.8M497.7 143.9h.8M462.5 169.5h.8M456.0 179.3h.8M459.8 167.2h.8M495.6 145.6h.8M505.3 141.6h.8M499.5 147.4h.8M464.6 164.6h.8M453.8 186.6h.8M462.6 174.6h.8M464.2 168.2h.8M490.9 148.0h.8M485.6 152.7h.8M476.8 158.3h.8M494.8 146.6h.8M472.9 156.8h.8M497.9 143.5h.8M491.3 147.6h.8M500.9 144.7h.8M461.0 170.2h.8M462.2 166.8h.8M483.7 148.4h.8M453.4 177.1h.8M490.9 149.9h.8M456.7 172.1h.8M458.7 174.6h.8M477.2 159.5h.8M495.6 149.3h.8M454.3 179.8h.8M477.9 159.4h.8M502.0 144.3h.8M496.6 141.5h.8M466.1 164.5h.8M464.4 165.3h.8M495.6 143.8h.8" stroke="#9dbfe2" stroke-width="0.9" fill="none"/>
<path d="M457.0 172.2h.8M458.5 173.2h.8M481.8 154.3h.8M499.4 143.9h.8M454.9 180.3h.8M455.1 170.6h.8M507.0 141.2h.8M451.4 180.9h.8M466.0 167.4h.8M486.9 150.7h.8M495.2 147.9h.8M476.6 159.2h.8M472.8 164.8h.8M458.7 170.7h.8M474.5 154.6h.8M479.2 154.7h.8M475.1 157.7h.8M456.6 170.7h.8M476.9 156.1h.8M478.6 155.0h.8M466.2 166.1h.8M505.3 140.7h.8M502.6 140.1h.8M500.5 143.2h.8M459.9 168.2h.8M502.2 140.5h.8M461.2 165.9h.8M502.3 144.2h.8M464.5 159.6h.8M485.2 151.1h.8M478.6 156.4h.8M498.7 142.1h.8M468.8 163.1h.8M507.9 136.9h.8M499.5 143.0h.8" stroke="#7aa0d0" stroke-width="0.9" fill="none"/>
<path d="M492.3 167.3h.8M480.7 151.8h.8M490.0 158.7h.8M489.7 165.8h.8M482.5 156.6h.8M495.2 165.8h.8M494.0 160.4h.8M475.5 158.0h.8M487.6 161.0h.8M485.3 157.3h.8M492.2 171.8h.8M480.7 159.6h.8M476.8 156.1h.8M481.3 156.5h.8M492.9 165.0h.8M479.8 157.4h.8M486.0 155.7h.8M493.1 164.0h.8M490.2 157.7h.8M480.1 154.3h.8M498.7 167.7h.8M495.5 162.1h.8M475.2 158.7h.8M485.0 158.3h.8M492.9 163.7h.8M487.3 151.5h.8M489.0 165.5h.8M494.2 164.9h.8M490.8 148.4h.8M489.4 157.6h.8M479.2 150.8h.8M493.7 170.4h.8M483.0 155.3h.8M492.9 167.1h.8M481.5 156.5h.8M484.0 159.1h.8M490.8 161.9h.8M482.5 158.1h.8M494.2 167.9h.8M493.4 150.7h.8M495.3 158.1h.8M483.5 150.2h.8M491.6 165.8h.8M482.9 160.1h.8M490.8 161.6h.8M478.6 152.0h.8M486.2 160.8h.8M493.8 170.4h.8M476.4 153.2h.8M495.4 170.9h.8M492.9 168.2h.8M498.0 161.0h.8M480.0 149.3h.8M499.4 156.4h.8M476.7 156.9h.8M498.0 161.2h.8M480.0 154.9h.8M494.1 160.6h.8M492.1 173.5h.8M487.9 156.1h.8M494.6 164.5h.8M488.7 162.1h.8M476.9 156.0h.8M477.6 166.4h.8M482.9 157.3h.8M487.7 159.4h.8M479.5 154.5h.8M500.3 168.1h.8M481.0 161.0h.8M495.8 163.8h.8M482.6 167.6h.8M483.7 156.0h.8M481.7 157.3h.8M488.6 166.1h.8M498.6 167.1h.8M484.6 152.1h.8M485.3 152.9h.8M482.8 155.5h.8M492.0 163.9h.8M493.5 171.0h.8M484.5 166.8h.8M488.9 165.0h.8M478.4 156.3h.8M496.2 160.3h.8M483.9 155.0h.8M490.1 157.6h.8M502.9 164.2h.8M493.8 162.1h.8M487.5 155.5h.8M489.4 160.6h.8M494.6 167.0h.8M487.5 153.7h.8M488.2 167.1h.8M484.8 151.3h.8M488.6 156.6h.8M497.8 168.2h.8M492.3 172.4h.8M481.8 150.4h.8M488.0 158.0h.8M498.4 169.5h.8M498.7 167.9h.8M490.6 171.4h.8M486.8 162.2h.8M474.0 158.5h.8M504.1 162.0h.8M486.9 163.5h.8M489.0 160.8h.8M495.1 158.0h.8M497.8 154.3h.8M499.7 159.5h.8M483.3 151.3h.8M491.1 169.6h.8M480.3 163.3h.8M487.8 152.1h.8M490.5 159.8h.8M497.8 170.2h.8M483.8 160.4h.8M492.3 168.7h.8M486.0 160.0h.8M478.6 154.0h.8M485.4 163.7h.8M488.6 152.9h.8M492.5 167.0h.8M480.6 161.3h.8M476.9 158.0h.8M484.2 163.7h.8M489.8 171.4h.8M485.2 154.0h.8M480.8 150.8h.8M480.6 153.6h.8M484.9 154.0h.8M490.4 155.1h.8M495.4 167.2h.8M484.4 154.9h.8M480.4 156.2h.8M492.4 161.0h.8M476.3 156.0h.8M485.6 148.4h.8M496.7 158.2h.8M485.3 160.5h.8M497.4 166.3h.8M482.8 144.4h.8M486.5 156.6h.8M489.5 158.1h.8M488.2 160.4h.8M486.2 158.6h.8M479.3 150.7h.8M491.4 172.1h.8M485.1 164.4h.8M488.5 161.6h.8" stroke="#9ec2e2" stroke-width="0.9" fill="none"/>
<path d="M441.8 167.3h.8M438.6 174.4h.8" stroke="#3f62a6" stroke-width="1.0" fill="none"/>
<path d="M441.8 167.3L438.6 174.4" stroke="#3f62a6" stroke-width="1.2"/>
<path d="M512.2 131.0 C512.6 128.6 513.7 126.0 516.1 124.5 C518.5 122.9 523.3 121.6 526.6 121.8 C529.9 122.0 533.9 123.8 535.8 125.8 C537.8 127.7 538.9 131.2 538.4 133.6 C538.0 136.1 536.0 138.9 533.2 140.2 C530.3 141.5 524.7 141.7 521.4 141.5 C518.1 141.3 515.0 140.7 513.5 138.9 C512.0 137.2 511.7 133.4 512.2 131.0Z" fill="#f0f5fa"/>
<path d="M532.7 132.4h.8M520.4 140.3h.8M518.9 130.5h.8M530.4 133.9h.8M513.4 129.5h.8M518.5 124.8h.8M514.2 135.6h.8M515.1 138.1h.8M531.1 125.5h.8M520.2 130.7h.8M527.2 130.4h.8M531.1 135.2h.8M520.9 138.8h.8M530.0 130.1h.8M530.6 128.3h.8M532.8 126.4h.8M520.0 128.5h.8M527.2 124.7h.8M527.4 125.1h.8M525.4 139.6h.8M524.8 142.0h.8M523.4 140.6h.8M519.6 124.9h.8M520.1 136.7h.8M525.3 137.7h.8M531.1 139.2h.8M526.4 127.0h.8M522.4 131.7h.8M518.4 128.2h.8M516.9 125.0h.8M530.0 139.7h.8M528.9 139.4h.8M511.9 131.7h.8M524.7 125.6h.8M518.6 130.0h.8M534.9 138.1h.8M528.0 136.2h.8M528.0 137.4h.8M518.0 138.3h.8M517.8 129.6h.8M535.1 127.8h.8M531.8 127.5h.8M531.3 135.2h.8M524.3 134.7h.8M514.0 135.4h.8M526.3 134.3h.8M527.0 139.3h.8M526.7 141.1h.8M522.7 130.2h.8M521.4 132.4h.8M524.9 134.2h.8M533.5 130.7h.8M531.7 125.3h.8M514.3 131.5h.8M525.2 129.4h.8M534.3 130.4h.8M529.4 133.9h.8M522.1 140.4h.8M516.3 138.9h.8M516.3 137.0h.8M531.2 137.0h.8M514.5 136.5h.8M525.9 122.1h.8M529.1 139.3h.8M531.4 124.6h.8M526.4 138.1h.8M524.9 126.0h.8M532.2 132.5h.8M533.1 139.4h.8M514.0 133.2h.8M525.0 125.4h.8M534.4 129.7h.8M530.7 129.8h.8M514.4 130.7h.8M524.3 125.0h.8M526.8 129.2h.8M514.9 126.5h.8M522.8 126.9h.8M519.9 129.1h.8M516.2 137.7h.8M526.0 129.3h.8M532.3 140.2h.8M526.8 133.1h.8M533.0 128.3h.8M535.2 130.2h.8" stroke="#9cc1e0" stroke-width="0.9" fill="none"/>
<path d="M533.9 131.9h.8M521.1 129.8h.8M512.8 133.0h.8M525.1 124.7h.8M518.4 128.8h.8M520.3 129.0h.8M512.5 129.9h.8M521.6 124.1h.8M519.4 129.2h.8M515.2 127.0h.8M515.9 133.5h.8M523.3 132.2h.8M524.7 136.3h.8M516.7 128.5h.8M514.6 129.7h.8M517.8 134.5h.8M534.2 136.3h.8M520.7 127.3h.8M534.8 130.2h.8M530.3 135.4h.8M521.7 132.5h.8M532.8 131.9h.8M518.3 139.3h.8M534.9 134.1h.8M536.4 133.7h.8M532.1 131.1h.8M534.1 136.5h.8M531.6 138.0h.8M517.5 129.4h.8M529.4 130.3h.8M513.5 139.2h.8M529.9 137.2h.8M528.7 137.3h.8M534.1 135.6h.8M515.1 131.9h.8M522.5 128.0h.8M513.4 136.4h.8M517.5 129.5h.8M515.2 125.0h.8M519.7 129.4h.8M527.8 136.3h.8M522.5 141.1h.8M522.3 124.2h.8M515.1 132.7h.8M526.2 138.7h.8M534.7 133.9h.8M530.7 126.7h.8M527.9 139.0h.8M531.3 124.6h.8M529.5 126.7h.8M534.3 131.0h.8M529.9 132.0h.8M526.0 133.8h.8M536.8 136.5h.8M521.1 128.7h.8M520.6 139.5h.8M527.7 129.7h.8M524.3 138.8h.8M517.9 135.9h.8M524.1 134.8h.8M525.4 131.7h.8M518.2 129.2h.8M532.5 128.0h.8M533.8 128.7h.8M520.3 130.4h.8M522.9 140.5h.8M523.8 135.0h.8M516.9 132.1h.8M514.7 130.2h.8M517.9 134.7h.8M517.6 134.7h.8M524.5 130.0h.8M529.5 137.0h.8M523.1 129.4h.8M537.9 133.5h.8M516.8 136.3h.8M534.1 132.8h.8M519.0 138.1h.8M519.3 126.8h.8M528.7 131.6h.8M513.3 132.1h.8M529.6 133.7h.8M516.4 129.9h.8M529.0 127.2h.8M535.3 132.0h.8" stroke="#b9d3ea" stroke-width="0.9" fill="none"/>
<path d="M522.5 217.7 C525.0 214.3 530.8 208.6 535.0 205.0 C539.2 201.4 544.8 197.5 548.0 196.0 C551.2 194.5 552.7 194.3 554.0 196.0 C555.3 197.7 556.3 202.8 556.0 206.0 C555.7 209.2 553.7 212.0 552.0 215.0 C550.3 218.0 547.0 220.1 546.0 224.0 C545.0 227.9 546.1 233.7 545.9 238.5 C545.7 243.3 545.2 248.5 544.6 252.8 C544.0 257.2 543.1 261.6 542.0 264.6 C540.9 267.6 541.4 268.6 538.1 271.0 C534.9 273.4 526.2 277.0 522.5 278.9 C518.8 280.8 517.5 282.1 516.0 282.1 C514.5 282.1 514.5 281.2 513.4 278.9 C512.3 276.6 510.0 272.4 509.5 268.5 C509.0 264.6 509.3 260.4 510.2 255.4 C511.1 250.4 513.1 243.5 514.7 238.5 C516.3 233.5 518.6 229.0 519.9 225.5 C521.2 222.0 520.0 221.1 522.5 217.7Z" fill="#f1f6fb"/>
<path d="M511.5 251.8h.8M520.6 269.6h.8M543.6 226.0h.8M544.0 229.4h.8M516.0 239.7h.8M540.7 256.1h.8M522.9 273.0h.8M530.5 220.3h.8M539.3 225.8h.8M511.6 260.5h.8M530.9 212.3h.8M513.3 256.0h.8M550.2 216.2h.8M515.9 242.7h.8M520.2 255.4h.8M522.7 267.7h.8M544.7 236.5h.8M538.5 257.8h.8M513.1 263.5h.8M520.8 229.5h.8M517.7 247.9h.8M528.3 214.2h.8M526.8 217.8h.8M544.7 225.7h.8M520.6 248.4h.8M536.5 219.4h.8M532.6 266.5h.8M521.1 261.0h.8M512.3 263.1h.8M524.7 264.1h.8M523.6 273.3h.8M528.1 257.0h.8M516.6 245.2h.8M535.7 259.7h.8M523.4 223.2h.8M545.4 214.5h.8M521.5 255.7h.8M521.4 253.0h.8M518.7 236.3h.8M513.3 246.4h.8M535.3 238.8h.8M519.6 233.9h.8M547.1 214.0h.8M522.9 233.4h.8M534.3 242.0h.8M530.5 244.0h.8M539.9 263.5h.8M549.9 200.8h.8M528.4 225.6h.8M521.5 276.5h.8M537.9 214.4h.8M520.5 255.7h.8M536.6 233.4h.8M516.6 238.9h.8M514.6 255.2h.8M518.6 243.4h.8M518.8 253.3h.8M524.5 245.1h.8M541.3 238.3h.8M539.4 267.1h.8M516.8 245.1h.8M517.2 254.7h.8M533.6 268.8h.8M517.2 238.6h.8M537.1 264.7h.8M539.7 204.1h.8M526.5 255.2h.8M533.9 255.2h.8M525.8 263.4h.8M540.2 249.6h.8M535.3 229.8h.8M512.6 249.1h.8M530.0 239.3h.8M527.1 221.0h.8M514.6 258.5h.8M526.6 256.4h.8M532.4 264.9h.8M543.6 215.4h.8M544.1 216.7h.8M538.6 229.7h.8M521.7 249.2h.8M524.7 248.4h.8M516.4 269.9h.8M522.9 220.3h.8M518.7 264.6h.8M543.1 211.5h.8M521.2 225.1h.8M531.2 230.2h.8M532.5 209.5h.8M525.3 251.8h.8M518.2 276.3h.8M540.2 235.5h.8M542.2 210.1h.8M533.6 229.0h.8M518.3 245.3h.8M512.0 267.2h.8M532.0 246.8h.8M517.8 251.2h.8M542.1 231.4h.8M553.8 203.4h.8M514.1 245.5h.8M523.1 278.6h.8M517.3 263.4h.8M534.0 242.2h.8M535.5 270.1h.8M532.9 268.6h.8M549.6 203.9h.8M520.1 266.7h.8M530.3 210.3h.8M553.3 209.6h.8M523.7 250.4h.8M532.7 231.9h.8M529.4 228.6h.8M540.6 243.9h.8M515.3 242.2h.8M524.9 226.6h.8M515.9 269.5h.8M546.2 220.8h.8M545.2 205.6h.8M553.6 206.0h.8M548.9 201.5h.8M539.4 241.4h.8M533.3 246.6h.8M537.8 261.6h.8M542.9 226.0h.8M524.2 237.2h.8M536.8 254.8h.8M510.6 274.2h.8M542.9 257.4h.8M542.3 208.9h.8M537.4 224.0h.8M523.9 276.4h.8M541.5 207.3h.8M516.8 259.7h.8M535.2 232.5h.8M529.4 240.0h.8M513.5 253.2h.8M543.3 217.4h.8M550.7 209.7h.8M531.4 231.6h.8" stroke="#8fb6d9" stroke-width="0.9" fill="none"/>
<path d="M541.9 227.3h.8M545.6 201.6h.8M522.5 241.0h.8M517.3 275.8h.8M546.6 215.4h.8M534.6 220.8h.8M530.0 255.8h.8M532.0 224.6h.8M533.6 244.5h.8M539.5 209.7h.8M537.1 258.6h.8M517.8 277.4h.8M520.8 276.2h.8M521.8 256.5h.8M530.9 221.0h.8M522.1 238.8h.8M540.8 217.5h.8M529.5 247.0h.8M514.4 271.3h.8M513.3 249.8h.8M539.7 221.7h.8M554.5 199.6h.8M538.7 264.1h.8M539.1 225.9h.8M542.1 212.0h.8M533.0 251.1h.8M535.5 220.5h.8M531.3 214.1h.8M517.5 249.4h.8M527.7 266.5h.8M521.7 268.3h.8M514.8 270.5h.8M540.9 205.7h.8M523.0 269.2h.8M513.8 257.8h.8M529.8 223.7h.8M519.3 240.8h.8M514.4 272.8h.8M511.0 266.0h.8M529.0 266.9h.8M551.8 207.7h.8M540.7 236.6h.8M523.1 257.9h.8M529.6 245.5h.8M520.2 232.4h.8M545.1 216.1h.8M531.9 252.8h.8M535.7 264.1h.8M516.5 280.0h.8M530.3 247.3h.8M522.5 239.3h.8M525.0 223.0h.8M517.3 238.6h.8M541.4 201.0h.8M529.5 238.9h.8M525.0 251.7h.8M534.8 240.1h.8M534.8 251.8h.8M542.9 248.3h.8M527.0 225.1h.8M522.5 260.3h.8M525.5 256.6h.8M552.3 215.3h.8M531.0 265.9h.8M544.5 251.5h.8M512.7 252.6h.8M516.2 240.7h.8M532.5 250.4h.8M550.4 209.4h.8M538.8 233.9h.8M546.2 219.1h.8M529.1 271.0h.8M525.7 217.4h.8M521.3 253.9h.8M551.8 210.0h.8M541.0 213.3h.8M521.8 265.9h.8M523.4 267.8h.8M542.4 214.2h.8M514.7 251.3h.8M514.1 259.7h.8M520.9 237.8h.8M530.6 231.0h.8M533.9 245.3h.8M535.5 253.1h.8M527.2 231.9h.8M548.7 213.3h.8M541.1 259.4h.8M522.1 263.3h.8M554.7 205.1h.8M533.3 231.9h.8M550.8 200.9h.8M537.6 205.2h.8M549.0 210.5h.8M527.1 238.2h.8M532.7 236.5h.8M525.3 219.7h.8M540.2 266.4h.8M530.4 236.1h.8M540.5 266.7h.8M516.2 239.2h.8M537.4 209.1h.8M530.1 225.0h.8M524.0 219.6h.8M538.4 226.2h.8M529.9 254.7h.8M524.3 232.9h.8M514.6 267.9h.8M527.6 265.7h.8M523.4 236.8h.8M517.7 256.1h.8M545.4 247.8h.8M542.2 204.2h.8M521.6 228.0h.8M528.9 217.7h.8M543.0 228.9h.8M521.9 275.7h.8M521.9 225.8h.8M522.5 229.3h.8M524.9 239.3h.8M525.3 266.0h.8M532.4 252.3h.8M533.3 219.3h.8M530.9 256.4h.8M540.3 241.2h.8M514.2 275.3h.8M537.3 253.1h.8M521.2 226.9h.8M525.9 230.2h.8M543.7 215.6h.8M526.7 216.5h.8M542.9 204.6h.8M543.8 219.6h.8M548.3 206.0h.8M548.2 207.0h.8M528.9 259.9h.8M545.6 213.2h.8M529.2 258.5h.8M530.0 256.3h.8M523.9 245.4h.8" stroke="#a6c6e2" stroke-width="0.9" fill="none"/>
<path d="M548.4 208.3h.8M518.9 253.4h.8M519.5 265.8h.8M520.0 260.2h.8M537.9 248.7h.8M533.9 265.5h.8M527.7 214.2h.8M530.1 235.1h.8M541.0 203.2h.8M525.4 262.7h.8M548.6 197.7h.8M543.7 204.2h.8M533.4 254.1h.8M554.3 201.9h.8M526.8 250.0h.8M517.2 239.2h.8M519.3 275.7h.8M538.2 244.9h.8M529.3 243.0h.8M518.5 271.6h.8M526.1 227.1h.8M537.0 216.2h.8M538.4 247.4h.8M513.3 273.1h.8M512.6 255.1h.8M536.0 204.4h.8M531.1 259.0h.8M516.2 251.1h.8M518.8 275.4h.8M526.3 276.5h.8M536.6 220.8h.8M522.7 276.0h.8M535.6 268.4h.8M515.1 279.0h.8M529.8 255.4h.8M551.6 197.8h.8M533.4 241.7h.8M530.6 252.5h.8M515.9 273.3h.8M542.4 226.4h.8M521.3 252.8h.8M541.6 238.4h.8M541.0 233.8h.8M540.7 217.0h.8M515.8 243.2h.8M526.3 244.0h.8M531.5 251.5h.8M527.4 258.0h.8M534.7 248.0h.8M536.5 241.2h.8M539.1 220.4h.8M517.7 258.6h.8M535.5 259.0h.8M543.5 213.5h.8M528.7 232.0h.8M535.2 246.2h.8M508.3 262.1h.8M539.1 252.3h.8M510.1 262.1h.8M523.3 254.0h.8M531.3 268.1h.8M536.5 243.7h.8M544.2 228.1h.8M546.1 195.1h.8M547.8 205.2h.8M547.3 206.1h.8M530.1 211.8h.8M543.4 215.8h.8M528.6 254.3h.8M548.0 204.9h.8M514.1 266.4h.8M553.6 199.8h.8M511.7 267.1h.8M534.1 252.3h.8M548.0 200.7h.8M535.0 246.0h.8M511.9 261.8h.8M541.1 258.9h.8M541.1 233.1h.8M550.8 211.2h.8M551.4 203.4h.8M536.1 214.2h.8M535.0 258.2h.8M525.4 241.1h.8M555.4 205.7h.8M515.2 271.0h.8M531.7 260.2h.8M539.2 208.8h.8M545.2 207.8h.8M526.3 257.5h.8M538.5 217.7h.8M539.6 224.7h.8M518.0 253.8h.8M537.6 205.3h.8M517.7 244.4h.8M532.8 240.3h.8M550.5 196.6h.8M534.4 270.2h.8M535.5 243.1h.8M534.9 234.6h.8M518.6 251.2h.8M532.8 270.5h.8M534.2 228.8h.8M555.4 202.5h.8M525.1 276.4h.8M542.9 220.9h.8M525.4 223.0h.8M526.9 275.6h.8M524.6 235.2h.8M515.0 276.6h.8M520.3 249.1h.8M518.3 257.6h.8M533.1 271.9h.8M534.9 245.9h.8M529.9 256.9h.8M544.1 223.1h.8M544.2 255.6h.8M536.5 205.8h.8M532.3 263.8h.8M538.4 214.3h.8M523.0 230.7h.8M522.6 258.8h.8M520.9 264.0h.8M541.1 231.4h.8M537.9 231.2h.8M535.6 219.6h.8M534.5 233.3h.8M529.3 215.1h.8M532.3 268.4h.8M545.3 211.8h.8M525.0 228.4h.8M541.8 255.7h.8M546.9 214.7h.8M543.8 239.9h.8M545.8 212.5h.8M543.0 219.0h.8M552.8 201.5h.8M531.4 255.6h.8M523.3 230.8h.8M540.5 248.4h.8" stroke="#7aa8d2" stroke-width="0.9" fill="none"/>
<path d="M533.0 244.9h.8M538.5 201.6h.8M532.9 216.1h.8M519.9 248.6h.8M548.3 202.7h.8M541.8 211.9h.8M534.1 229.6h.8M523.3 264.4h.8M531.1 248.2h.8M542.2 215.3h.8M539.1 207.6h.8M544.3 246.7h.8M532.1 234.9h.8M533.2 266.4h.8M547.7 213.3h.8M517.1 251.2h.8M546.2 235.2h.8M531.6 245.9h.8M534.5 218.1h.8M540.3 220.3h.8M544.2 238.7h.8M541.0 236.2h.8M535.8 247.9h.8M542.5 250.2h.8M527.7 254.0h.8M540.3 224.8h.8M530.6 245.0h.8M545.6 234.3h.8M529.2 267.6h.8M523.7 269.5h.8M536.2 265.4h.8M518.5 233.0h.8M522.5 265.6h.8M514.2 277.7h.8M543.8 247.4h.8M542.2 223.8h.8M543.0 259.2h.8M535.8 257.9h.8M523.1 219.2h.8M542.3 226.8h.8M515.0 246.7h.8M525.0 227.8h.8M512.9 246.4h.8M544.4 233.4h.8M546.4 239.2h.8M513.1 255.6h.8M534.2 250.0h.8M546.6 223.8h.8M514.0 251.9h.8M530.4 266.9h.8M549.2 219.7h.8M524.6 237.5h.8M529.2 267.7h.8M517.3 261.8h.8M534.7 262.9h.8M535.2 262.5h.8M539.0 265.5h.8M540.7 201.3h.8M515.0 269.4h.8M544.6 211.6h.8M528.4 256.7h.8M533.2 270.4h.8M525.4 226.7h.8M551.9 207.9h.8M546.8 206.9h.8M532.3 220.0h.8M528.0 225.1h.8M527.3 239.9h.8M523.8 263.3h.8M538.3 222.0h.8M515.4 254.3h.8M544.1 219.1h.8M551.6 208.6h.8M521.3 241.4h.8M531.7 269.7h.8M520.7 220.3h.8M525.1 250.2h.8M519.1 278.0h.8M519.6 245.1h.8M531.2 239.2h.8M542.9 210.0h.8M539.6 206.1h.8M543.4 238.9h.8M545.6 214.3h.8M534.4 227.4h.8M526.3 237.8h.8M517.4 254.5h.8M550.3 205.5h.8M542.5 212.3h.8M531.8 271.8h.8M521.1 237.8h.8M509.2 253.8h.8M545.9 205.7h.8M528.6 223.5h.8M535.9 253.2h.8M518.9 237.0h.8M551.6 197.3h.8M515.7 261.6h.8M523.5 247.6h.8M531.0 211.1h.8M530.8 245.2h.8M531.2 220.3h.8M546.9 199.5h.8M514.8 271.5h.8M534.0 215.5h.8M512.9 277.1h.8M514.6 240.1h.8M533.3 218.9h.8M525.8 273.5h.8M549.3 204.9h.8M545.6 238.7h.8M533.7 218.8h.8M549.9 197.8h.8M521.0 246.3h.8M529.3 265.7h.8M528.8 247.8h.8M550.0 209.0h.8M534.0 261.2h.8M543.8 210.6h.8M512.6 272.0h.8M534.5 269.7h.8M513.9 271.6h.8M525.9 267.6h.8M535.9 214.9h.8M532.1 222.1h.8M520.0 242.5h.8M523.7 232.2h.8M537.2 256.0h.8M544.6 209.2h.8M515.4 265.1h.8M539.9 217.3h.8M520.8 245.8h.8M544.2 249.8h.8M523.2 250.1h.8M517.0 276.1h.8M518.2 268.7h.8M514.8 259.9h.8M544.4 227.4h.8M519.9 226.2h.8M519.3 243.4h.8" stroke="#6a9ccc" stroke-width="0.9" fill="none"/>
<path d="M516.2 269.8h.8M536.5 220.7h.8M512.5 258.6h.8M536.2 246.3h.8M532.7 253.7h.8M541.4 230.0h.8M513.3 260.9h.8M539.6 259.5h.8M527.8 239.5h.8M539.3 222.0h.8M551.1 216.4h.8M550.1 204.1h.8M533.0 264.5h.8M545.2 240.9h.8M544.0 243.9h.8M534.7 252.8h.8M523.4 259.1h.8M531.5 222.4h.8M547.1 206.3h.8M514.5 245.9h.8M512.7 254.0h.8M518.1 268.0h.8M532.9 237.1h.8M519.9 258.9h.8M536.0 213.4h.8M523.8 256.3h.8M545.2 210.9h.8M529.7 218.5h.8M511.3 274.2h.8M524.1 218.9h.8M526.2 228.6h.8M517.3 235.9h.8M542.3 206.3h.8M548.2 207.7h.8M544.0 218.4h.8M516.3 233.8h.8M531.1 259.5h.8M517.8 276.8h.8M516.8 248.4h.8M543.0 227.2h.8M536.5 269.4h.8M548.7 204.4h.8M519.0 273.4h.8M519.8 263.8h.8M538.4 249.5h.8M544.2 221.0h.8M547.3 204.4h.8M539.6 247.3h.8M542.6 254.1h.8M530.3 263.2h.8M523.1 220.2h.8M534.7 237.0h.8M518.2 273.2h.8M534.7 217.3h.8M535.5 236.9h.8M537.6 233.4h.8M523.2 243.6h.8M527.6 270.6h.8M515.3 246.1h.8M518.6 277.3h.8M528.6 272.2h.8M532.1 219.3h.8M535.1 247.8h.8M531.9 269.3h.8M521.7 228.7h.8M519.7 241.7h.8M528.5 265.4h.8M517.4 234.3h.8M529.6 258.3h.8M537.4 250.4h.8M536.0 255.2h.8M513.3 248.8h.8M540.3 215.3h.8M529.2 232.0h.8M520.7 240.6h.8M513.5 248.0h.8M542.8 207.8h.8M517.9 251.0h.8M523.7 273.6h.8M529.6 269.3h.8M523.1 264.0h.8M550.5 202.5h.8M519.9 273.4h.8M526.1 234.7h.8M535.4 239.7h.8M545.7 225.0h.8M528.0 270.9h.8M540.6 233.8h.8M537.7 267.2h.8M530.3 250.7h.8M537.6 244.4h.8M533.1 245.5h.8M531.5 215.4h.8M515.1 257.9h.8M538.3 263.5h.8M538.2 247.3h.8M537.0 235.5h.8M529.2 233.6h.8M540.5 235.8h.8M537.1 271.7h.8M534.0 211.3h.8M516.2 262.9h.8M546.5 215.3h.8M523.5 253.8h.8M539.1 219.5h.8M544.1 232.0h.8M532.6 250.0h.8M518.3 252.4h.8M537.5 238.1h.8M551.1 200.3h.8M540.5 265.5h.8M548.4 209.4h.8M524.8 249.2h.8M523.5 247.6h.8M517.5 263.3h.8M524.9 239.3h.8M543.3 225.4h.8M540.8 255.9h.8M531.6 251.6h.8M525.2 272.2h.8M518.8 264.7h.8M530.9 272.1h.8M543.1 237.5h.8M520.6 228.9h.8M528.6 267.7h.8M523.7 229.2h.8M531.0 215.6h.8M521.3 256.0h.8M551.8 207.3h.8M528.6 233.4h.8M537.1 254.1h.8M538.3 262.1h.8M548.3 198.0h.8M520.9 248.9h.8M537.3 215.4h.8M535.7 247.8h.8M544.2 207.7h.8M533.7 219.9h.8M525.7 245.9h.8M548.2 216.9h.8" stroke="#b9d3ea" stroke-width="0.9" fill="none"/>
<path d="M551.1 229.4 C552.7 227.2 557.3 232.4 558.9 234.6 C560.5 236.8 561.1 239.4 560.9 242.4 C560.7 245.4 559.2 250.4 557.6 252.8 C556.0 255.2 552.5 257.6 551.1 256.7 C549.7 255.8 549.2 252.1 549.2 247.6 C549.2 243.1 549.5 231.6 551.1 229.4Z" fill="#f3f7fb"/>
<path d="M558.1 241.5h.8M558.3 246.4h.8M558.2 250.4h.8M559.2 240.7h.8M551.6 249.8h.8M551.9 248.9h.8M554.4 231.8h.8M554.1 248.3h.8M549.8 247.4h.8M558.1 241.7h.8M558.6 237.5h.8M553.4 247.2h.8M557.4 240.5h.8M558.5 248.7h.8M559.5 244.8h.8M553.3 243.1h.8M552.0 238.5h.8M554.4 252.8h.8M556.3 246.5h.8M555.9 251.9h.8M556.5 244.8h.8M555.2 234.1h.8M556.4 240.6h.8M552.2 236.0h.8M552.2 238.7h.8M553.5 237.5h.8M559.1 242.8h.8M550.3 241.4h.8M553.4 243.6h.8M558.0 245.4h.8M556.3 239.1h.8M553.2 254.5h.8M557.6 252.5h.8M554.5 242.6h.8M551.2 238.4h.8M553.7 248.5h.8M550.2 240.1h.8M555.6 240.6h.8M552.1 251.8h.8M559.9 242.9h.8M551.9 242.6h.8M553.2 231.5h.8M550.2 238.7h.8M552.5 249.8h.8M553.6 233.0h.8M550.6 246.1h.8M551.0 231.8h.8M549.9 241.4h.8M556.9 236.7h.8M557.9 240.7h.8M549.8 243.5h.8M554.9 246.8h.8M553.1 236.2h.8M553.5 251.2h.8M558.0 249.6h.8" stroke="#a6c6e2" stroke-width="0.9" fill="none"/>
<path d="M551.8 230.2h.8M558.6 248.0h.8M557.9 242.0h.8M553.8 249.4h.8M556.6 241.4h.8M550.0 245.2h.8M555.9 242.9h.8M557.2 242.2h.8M555.5 250.9h.8M555.8 240.7h.8M552.3 248.6h.8M552.1 241.5h.8M552.2 237.1h.8M551.8 251.0h.8M553.3 253.1h.8M550.4 242.5h.8M554.9 240.7h.8M553.3 252.2h.8M552.8 244.8h.8M559.2 247.1h.8M555.6 247.3h.8M556.2 249.3h.8M553.8 233.5h.8M553.0 245.9h.8M555.7 253.3h.8M549.8 249.5h.8M559.6 246.1h.8M555.0 240.6h.8M554.9 239.7h.8M556.3 234.1h.8M554.0 248.8h.8M556.0 242.3h.8M555.7 234.5h.8M553.6 253.2h.8M557.9 248.4h.8M549.9 245.7h.8M560.2 241.7h.8M553.8 238.0h.8M556.2 234.1h.8M552.6 236.6h.8M558.5 235.2h.8M551.9 252.8h.8M550.3 252.6h.8M550.7 236.7h.8M553.6 238.6h.8M553.4 247.0h.8M550.4 247.7h.8M555.5 238.4h.8M555.3 238.4h.8M558.6 239.6h.8M554.5 239.7h.8M554.6 250.1h.8M550.1 241.5h.8M555.8 247.6h.8M552.6 231.4h.8" stroke="#8fb6d9" stroke-width="0.9" fill="none"/>
<path d="M550.1 193.4h.8M546.0 189.6h.8M543.2 187.9h.8M548.3 188.4h.8M529.7 177.8h.8M520.9 172.2h.8M543.0 185.2h.8M530.6 172.7h.8M543.3 184.5h.8M526.3 171.6h.8M525.3 173.4h.8M533.3 177.5h.8M536.1 180.5h.8M527.5 174.4h.8M520.2 177.3h.8M530.3 177.7h.8M514.5 172.0h.8M542.8 191.8h.8M548.4 193.4h.8M519.3 172.6h.8M515.9 164.0h.8M535.8 179.5h.8M537.3 182.8h.8M552.3 191.7h.8M551.5 199.1h.8" stroke="#eeb3a2" stroke-width="0.9" fill="none"/>
<path d="M516.2 174.7h.8M518.7 174.5h.8M516.2 171.8h.8M519.2 173.2h.8M517.8 172.8h.8M517.3 174.8h.8M520.0 173.3h.8M519.1 174.4h.8M516.2 173.2h.8M516.4 174.0h.8M516.7 173.7h.8M516.7 171.2h.8M518.4 172.6h.8M516.5 172.3h.8M516.7 174.9h.8M520.8 171.0h.8" stroke="#e0704f" stroke-width="1.0" fill="none"/>
<path d="M529.6 173.6h.8M527.9 175.4h.8M528.5 175.4h.8M525.1 171.6h.8M523.9 171.6h.8M526.5 173.4h.8M527.2 173.1h.8M528.1 173.0h.8M525.3 171.7h.8M529.2 174.4h.8" stroke="#8fb6d9" stroke-width="0.9" fill="none"/>
<clipPath id="ccNC"><circle cx="226" cy="62.85" r="56.4"/></clipPath>
<g clip-path="url(#ccNC)">
<path d="M203.9 113.4 C203.3 109.9 207.2 103.4 209.0 98.1 C210.9 92.8 213.1 85.5 215.2 81.7 C217.2 78.0 218.6 77.5 221.3 75.6 C224.0 73.7 227.4 71.9 231.5 70.5 C235.6 69.1 241.7 67.8 245.8 67.4 C249.9 67.1 253.5 67.1 256.1 68.5 C258.6 69.8 260.1 72.7 261.2 75.6 C262.2 78.5 262.4 82.1 262.2 85.8 C262.0 89.6 261.5 94.4 260.1 98.1 C258.8 101.8 257.1 105.3 254.0 108.3 C250.9 111.4 246.2 114.6 241.7 116.5 C237.3 118.4 232.2 119.0 227.4 119.6 C222.7 120.1 217.1 120.6 213.1 119.6 C209.2 118.5 204.6 117.0 203.9 113.4Z" fill="#f6f9fc"/>
<path d="M214.1 98.6h.8M224.8 85.7h.8M232.4 108.2h.8M250.4 94.3h.8M252.2 72.3h.8M253.9 101.4h.8M246.5 94.7h.8M230.9 101.6h.8M247.1 81.2h.8M254.6 75.1h.8M239.0 108.9h.8M211.6 110.1h.8M227.6 74.5h.8M252.5 96.1h.8M230.7 116.7h.8M221.3 76.0h.8M246.1 106.0h.8M231.8 111.3h.8M224.2 95.3h.8M222.9 117.8h.8M247.7 96.0h.8M250.9 90.6h.8M211.2 104.1h.8M223.9 99.4h.8M230.8 89.0h.8M219.6 107.5h.8M235.2 104.3h.8M229.5 86.5h.8M226.4 108.5h.8M224.0 99.8h.8M222.7 107.1h.8M235.8 97.5h.8M212.6 88.6h.8M234.6 112.8h.8M243.3 92.2h.8M246.8 75.8h.8M219.9 87.7h.8M215.9 93.1h.8M225.0 118.1h.8M257.8 87.1h.8M248.2 91.1h.8M233.3 95.3h.8M244.2 84.1h.8M233.1 73.4h.8M239.0 76.1h.8M230.6 75.7h.8M245.7 104.7h.8M232.6 84.6h.8M259.8 91.7h.8M256.7 89.7h.8M238.1 99.6h.8M228.4 89.5h.8M258.1 82.6h.8M212.9 103.8h.8M221.6 81.3h.8M230.5 101.8h.8M250.5 79.5h.8M226.8 83.2h.8M250.4 93.5h.8M210.4 115.3h.8M230.5 94.0h.8M207.7 102.8h.8M237.5 83.0h.8M248.3 79.7h.8M245.3 99.9h.8M205.7 108.8h.8M237.4 109.2h.8M218.9 101.6h.8M250.4 102.2h.8M239.1 102.5h.8M223.8 107.1h.8M224.4 101.3h.8M212.5 111.6h.8M224.5 83.4h.8M258.2 101.0h.8M259.0 92.5h.8M231.6 106.2h.8M229.0 84.7h.8M238.9 81.6h.8M226.2 108.8h.8M218.2 90.4h.8M241.7 101.7h.8M227.4 84.7h.8M221.3 96.2h.8M253.6 92.3h.8M207.7 110.0h.8M253.1 97.8h.8M241.3 82.8h.8M248.6 111.8h.8M225.6 87.9h.8M235.5 104.3h.8M224.9 118.3h.8M249.7 87.2h.8M219.4 103.6h.8M239.4 87.3h.8M232.6 87.0h.8M253.6 72.2h.8M229.8 98.4h.8M237.1 89.7h.8M256.1 99.3h.8M255.1 100.2h.8M242.7 108.2h.8M228.5 73.0h.8M249.6 103.5h.8M238.0 100.8h.8M212.1 112.7h.8M216.5 116.8h.8M230.8 97.3h.8M247.9 75.3h.8M244.7 114.0h.8M245.6 82.6h.8M256.6 99.3h.8M215.2 86.9h.8M210.8 111.7h.8M217.1 83.6h.8M227.9 83.6h.8M234.5 111.8h.8M217.9 94.2h.8M209.3 105.4h.8M237.8 98.1h.8M253.8 91.3h.8M205.5 103.2h.8M250.8 91.0h.8M235.4 112.1h.8M212.0 112.5h.8M225.0 101.7h.8M237.9 108.4h.8M243.3 109.3h.8M220.6 100.5h.8M246.6 73.9h.8M217.3 89.0h.8M210.9 114.5h.8M230.3 96.7h.8M225.4 92.3h.8M232.8 105.2h.8M236.5 68.4h.8M228.9 111.2h.8M234.0 86.3h.8M217.5 102.6h.8M225.8 93.6h.8M245.9 89.5h.8M255.9 98.1h.8M215.6 112.4h.8M255.2 69.3h.8M207.0 100.7h.8M216.5 89.9h.8M219.1 115.9h.8M242.6 69.8h.8M234.3 99.3h.8M239.6 96.1h.8" stroke="#9cc3e0" stroke-width="0.8" fill="none"/>
<path d="M224.5 118.5h.8M219.1 110.9h.8M236.0 69.7h.8M260.5 74.5h.8M223.7 82.6h.8M247.6 75.9h.8M244.0 108.4h.8M226.8 75.4h.8M208.0 115.4h.8M240.2 66.7h.8M242.7 91.3h.8M258.7 90.8h.8M210.6 110.1h.8M235.2 83.7h.8M243.7 107.3h.8M218.6 88.3h.8M230.4 109.1h.8M235.4 109.3h.8M228.6 81.0h.8M253.0 80.6h.8M209.4 96.6h.8M240.1 79.7h.8M261.2 94.2h.8M239.7 109.2h.8M240.1 91.6h.8M249.5 90.1h.8M233.6 112.6h.8M227.9 117.0h.8M236.6 100.4h.8M248.0 105.0h.8M227.0 75.6h.8M218.8 84.7h.8M248.4 80.2h.8M224.2 94.5h.8M241.0 79.4h.8M261.3 82.5h.8M237.4 75.3h.8M238.9 94.7h.8M259.2 76.9h.8M225.0 107.7h.8M223.2 80.3h.8M249.2 98.9h.8M237.8 88.3h.8M214.5 94.7h.8M232.6 98.1h.8M210.8 111.8h.8M250.6 73.4h.8M222.5 103.2h.8M259.8 76.9h.8M216.2 92.8h.8M256.5 87.5h.8M231.8 115.0h.8M234.2 95.7h.8M260.2 80.6h.8M243.7 108.1h.8M232.3 110.5h.8M240.6 86.7h.8M248.1 85.7h.8M264.1 96.2h.8M238.0 102.0h.8M238.5 110.6h.8M218.0 109.5h.8M252.2 82.3h.8M227.9 113.9h.8M243.3 113.7h.8M214.5 113.7h.8M251.2 74.3h.8M222.8 76.8h.8M225.5 76.1h.8M248.7 108.5h.8M239.5 96.9h.8M248.2 84.4h.8M231.8 114.4h.8M261.4 77.6h.8M225.0 107.6h.8M233.7 83.9h.8M238.6 70.8h.8M224.1 90.6h.8M227.5 94.1h.8M213.9 100.3h.8M233.2 99.7h.8M247.9 92.8h.8M250.3 87.2h.8M245.0 84.4h.8M242.8 76.2h.8M254.3 97.2h.8M259.6 97.2h.8M254.0 101.7h.8M246.9 65.8h.8M254.2 88.9h.8M207.3 112.7h.8M257.0 100.8h.8M219.2 119.7h.8M230.2 96.2h.8M218.9 108.6h.8M225.9 102.8h.8M242.5 105.1h.8M237.5 107.5h.8M233.3 111.3h.8M247.4 106.7h.8M210.6 95.4h.8M253.2 74.8h.8M240.9 102.9h.8M215.8 89.0h.8M238.6 89.7h.8M214.9 92.9h.8M231.6 100.4h.8M245.2 91.1h.8M232.5 112.0h.8M221.8 111.5h.8M234.3 79.5h.8M249.0 84.4h.8M210.5 102.8h.8M231.5 88.6h.8M227.4 113.3h.8M219.9 106.6h.8M256.0 95.8h.8M219.4 103.4h.8M217.3 101.0h.8M212.3 105.0h.8M239.6 79.0h.8M240.7 86.3h.8M227.6 100.6h.8M215.0 111.5h.8M228.8 112.8h.8M237.6 104.3h.8M246.5 97.9h.8M220.0 93.6h.8M258.9 99.0h.8M242.6 104.0h.8M249.7 78.0h.8M258.3 96.0h.8M224.8 88.8h.8M232.9 105.2h.8M213.2 98.0h.8M216.2 106.4h.8M249.7 103.4h.8M212.1 109.6h.8M252.9 75.7h.8M250.5 94.6h.8M214.3 111.0h.8M254.9 82.6h.8M249.2 106.5h.8M219.9 88.7h.8M228.1 97.3h.8M216.0 99.0h.8M228.9 108.9h.8M246.3 76.6h.8M253.7 71.3h.8M230.1 103.5h.8" stroke="#7fb0d6" stroke-width="0.8" fill="none"/>
<path d="M225.6 102.9h.8M252.5 80.1h.8M238.0 75.4h.8M226.3 114.8h.8M209.7 105.1h.8M238.7 98.6h.8M228.9 95.7h.8M214.7 90.5h.8M228.4 88.5h.8M243.6 69.4h.8M212.9 98.4h.8M233.5 84.4h.8M215.8 105.2h.8M257.8 91.9h.8M227.5 86.5h.8M221.1 91.8h.8M234.2 105.0h.8M236.2 100.8h.8M255.0 88.6h.8M210.3 103.1h.8M242.3 100.4h.8M232.7 75.9h.8M209.4 106.0h.8M247.3 81.6h.8M230.0 90.8h.8M258.2 80.8h.8M221.5 114.7h.8M229.8 100.1h.8M213.2 102.1h.8M250.2 105.2h.8M223.7 84.5h.8M255.1 94.6h.8M231.1 73.4h.8M236.1 70.2h.8M212.7 116.0h.8M256.0 89.7h.8M229.6 87.4h.8M238.6 98.1h.8M245.9 75.5h.8M251.8 85.5h.8M229.6 93.5h.8M258.6 95.4h.8M228.1 113.0h.8M226.1 84.6h.8M240.1 110.4h.8M247.4 82.6h.8M220.0 80.5h.8M245.5 102.2h.8M217.1 86.9h.8M255.3 87.7h.8M230.2 102.4h.8M232.8 80.1h.8M229.6 102.5h.8M229.7 116.0h.8M230.3 108.3h.8M255.5 85.0h.8M250.1 97.4h.8M234.8 112.5h.8M259.4 92.5h.8M233.2 102.8h.8M232.1 102.4h.8M228.2 98.7h.8M253.5 92.2h.8M219.4 110.6h.8M259.5 80.3h.8M259.0 83.7h.8M258.6 83.6h.8M233.1 99.5h.8M239.6 108.5h.8M230.1 89.2h.8M248.5 88.1h.8M241.2 91.7h.8M234.9 93.2h.8M238.3 72.7h.8M230.3 118.3h.8M258.4 87.7h.8M215.5 88.3h.8M249.9 101.0h.8M235.5 113.2h.8M234.6 71.0h.8M252.8 97.7h.8M240.2 97.5h.8M260.3 84.3h.8M215.8 116.4h.8M224.5 89.0h.8M213.9 116.6h.8M258.9 83.6h.8M216.1 97.1h.8M254.6 102.4h.8M235.5 98.2h.8M232.9 115.7h.8M232.2 102.4h.8M223.4 103.8h.8M239.8 90.2h.8M226.6 73.3h.8M214.7 105.6h.8M213.4 89.5h.8M234.5 96.2h.8M222.1 76.3h.8M221.2 84.8h.8M235.3 74.3h.8M228.9 84.3h.8M256.0 77.1h.8M226.4 81.0h.8M248.1 82.4h.8M219.6 107.9h.8M214.2 86.0h.8M261.0 89.1h.8M240.5 77.9h.8M243.8 112.4h.8M233.7 84.4h.8M231.6 78.6h.8M245.0 79.9h.8M257.3 83.6h.8M249.9 91.8h.8M255.9 96.3h.8M258.4 76.6h.8M244.7 71.9h.8M229.7 99.3h.8M242.2 91.7h.8M256.0 100.8h.8M234.4 78.7h.8M235.3 75.7h.8M247.4 74.7h.8M218.4 118.7h.8M232.0 87.8h.8M212.1 88.2h.8M230.4 81.2h.8M223.8 87.4h.8M217.7 116.7h.8M258.9 86.1h.8M235.2 69.2h.8M246.0 93.0h.8M215.2 91.9h.8M237.3 99.9h.8M236.8 78.6h.8M220.6 83.3h.8M257.6 97.0h.8M226.8 99.3h.8M217.0 102.4h.8M239.9 95.3h.8M237.0 92.1h.8M236.5 83.9h.8M215.2 94.2h.8M213.7 96.5h.8M224.5 119.3h.8M229.1 95.8h.8M235.4 111.8h.8M239.3 77.0h.8M262.0 81.7h.8" stroke="#b8d5ea" stroke-width="0.8" fill="none"/>
<path d="M226.2 106.4h.8M237.5 113.4h.8M204.7 108.7h.8M219.1 88.8h.8M257.2 89.4h.8M211.1 98.7h.8M220.6 115.8h.8M234.1 98.7h.8M205.3 112.9h.8M234.5 92.8h.8M220.7 99.0h.8M253.9 88.5h.8M226.5 102.6h.8M245.9 96.6h.8M240.5 81.2h.8M228.9 114.2h.8M226.5 117.7h.8M218.0 90.3h.8M207.7 103.9h.8M214.3 116.7h.8M232.7 98.2h.8M241.4 80.4h.8M234.2 107.9h.8M228.4 75.4h.8M222.5 86.4h.8M232.0 109.9h.8M241.9 110.7h.8M254.0 79.8h.8M233.0 69.9h.8M250.8 86.4h.8M238.8 80.7h.8M235.9 113.9h.8M239.4 104.6h.8M229.3 81.5h.8M204.0 110.3h.8M254.0 88.1h.8M235.6 116.0h.8M224.6 95.5h.8M237.8 103.8h.8M231.8 83.9h.8M256.8 93.3h.8M236.6 84.2h.8M214.9 117.4h.8M220.1 95.2h.8M235.7 90.8h.8M238.8 110.9h.8M213.8 105.3h.8M236.0 75.2h.8M224.5 83.5h.8M220.3 104.6h.8M231.8 109.6h.8M240.2 86.2h.8M240.9 76.0h.8M211.5 94.0h.8M247.5 112.9h.8M260.8 83.5h.8M247.5 74.7h.8M237.2 92.7h.8M233.0 98.2h.8M242.3 86.2h.8M231.8 88.4h.8M224.7 107.6h.8M226.3 99.6h.8M260.7 79.2h.8M233.5 114.0h.8M219.8 85.5h.8M241.2 97.9h.8M207.5 106.3h.8M226.1 119.3h.8M257.8 94.2h.8M238.0 88.7h.8M208.8 108.0h.8M247.0 96.3h.8M245.0 102.9h.8M220.6 80.0h.8M251.7 91.8h.8M217.4 85.5h.8M213.9 112.1h.8M213.5 109.7h.8M223.1 115.8h.8M219.5 98.2h.8M250.4 94.3h.8M249.3 104.5h.8M215.6 97.5h.8M222.2 97.6h.8M252.1 70.2h.8M215.6 104.4h.8M229.2 85.4h.8M240.3 88.4h.8M206.0 112.3h.8M227.8 107.2h.8M205.4 115.0h.8M245.3 110.4h.8M211.0 91.9h.8M249.8 70.9h.8M228.1 99.8h.8M238.8 74.5h.8M218.1 112.9h.8M242.1 85.8h.8M250.9 87.5h.8M242.8 93.3h.8M228.6 115.2h.8M209.1 113.9h.8M217.8 96.8h.8M233.6 97.3h.8M225.5 87.9h.8M247.9 91.1h.8M238.9 100.7h.8M234.7 102.3h.8M238.8 103.2h.8M218.3 118.2h.8M214.6 88.2h.8M209.7 110.3h.8M247.0 105.2h.8M242.8 101.9h.8M248.3 104.0h.8M240.4 95.2h.8M246.1 100.5h.8M235.8 89.3h.8M225.0 105.5h.8M256.0 90.6h.8M244.6 103.1h.8M225.3 99.2h.8M208.3 108.2h.8M246.2 73.7h.8M216.4 85.5h.8M230.7 83.7h.8M213.1 91.0h.8M230.1 85.6h.8M214.9 120.5h.8M225.1 87.3h.8M221.3 113.7h.8M236.2 108.6h.8M251.1 98.9h.8M258.0 80.7h.8M235.7 114.8h.8M231.3 109.2h.8M241.2 71.9h.8M246.3 93.9h.8M240.9 101.3h.8M241.1 102.4h.8M224.3 84.8h.8M230.1 105.7h.8M222.1 105.2h.8M260.0 94.0h.8M227.9 76.2h.8M246.2 91.4h.8M245.1 80.5h.8M257.5 98.0h.8M232.6 110.7h.8" stroke="#a9cce6" stroke-width="0.8" fill="none"/>
<path d="M257.5 78.9h.8M196.2 34.3h.8M207.9 44.6h.8M193.4 42.8h.8M245.0 55.5h.8M221.5 48.8h.8M263.7 70.9h.8M242.9 54.5h.8M207.6 39.9h.8M247.1 67.9h.8M195.8 33.5h.8M205.6 44.9h.8M232.4 59.8h.8M241.3 62.7h.8M216.0 34.5h.8M240.5 57.8h.8M244.2 52.2h.8M252.0 62.6h.8M258.7 70.6h.8M236.9 49.9h.8M195.4 32.9h.8M208.4 34.3h.8M198.9 29.7h.8M211.4 45.1h.8M229.6 49.8h.8M214.1 44.9h.8M256.4 59.0h.8M243.0 65.0h.8M250.6 74.1h.8M210.5 43.4h.8M220.2 43.7h.8M250.0 68.5h.8M240.6 62.6h.8M240.0 51.9h.8M228.7 54.6h.8M241.6 55.0h.8M242.3 63.8h.8M252.0 72.3h.8M243.0 63.4h.8M254.2 67.8h.8M204.6 43.1h.8M226.4 51.6h.8M221.6 37.8h.8M243.8 57.0h.8M222.4 47.3h.8" stroke="#eca48e" stroke-width="0.9" fill="none"/>
<path d="M217.4 47.2h.8M218.0 49.3h.8M213.8 38.4h.8M210.0 37.5h.8M210.2 31.9h.8M217.1 47.7h.8M215.1 42.9h.8M221.8 44.2h.8M215.4 43.2h.8M207.3 38.9h.8M222.2 44.8h.8M220.6 37.2h.8M208.4 33.7h.8M216.4 48.9h.8M207.0 38.6h.8M220.8 44.4h.8M214.2 43.6h.8M208.2 37.7h.8M217.8 43.4h.8M219.0 44.9h.8M215.0 38.3h.8M212.7 42.7h.8M221.7 42.6h.8M213.8 45.5h.8M219.8 47.7h.8M211.0 32.3h.8M213.9 42.1h.8M210.8 36.1h.8M220.0 43.6h.8M215.8 36.1h.8M211.3 43.9h.8M211.9 42.1h.8M207.4 37.3h.8M218.1 38.8h.8M210.1 33.0h.8M214.4 31.2h.8M216.8 44.4h.8M214.5 44.6h.8M216.9 39.4h.8M206.9 41.6h.8" stroke="#9cc3e0" stroke-width="0.9" fill="none"/>
<path d="M197.4 31.7h.8M200.8 30.5h.8M200.5 34.4h.8M202.4 28.0h.8M200.6 33.5h.8M196.9 31.4h.8M202.0 33.6h.8M198.2 33.1h.8M201.4 33.8h.8M196.2 34.4h.8" stroke="#d9735c" stroke-width="1.0" fill="none"/>
</g>
<circle cx="226" cy="62.85" r="57.4" fill="none" stroke="#000" stroke-width="1.7"/>
<clipPath id="ccBA"><circle cx="549.5" cy="62.85" r="56.4"/></clipPath>
<g clip-path="url(#ccBA)">
<path d="M527.0 114.4 C525.6 110.4 531.1 101.5 533.1 96.1 C535.2 90.6 537.2 85.5 539.3 81.7 C541.3 78.0 542.3 75.6 545.4 73.6 C548.5 71.5 553.2 70.8 557.7 69.5 C562.1 68.1 567.9 65.4 572.0 65.4 C576.1 65.4 580.0 66.8 582.2 69.5 C584.4 72.2 584.9 77.3 585.3 81.7 C585.6 86.2 585.1 92.0 584.2 96.1 C583.4 100.1 582.5 103.2 580.1 106.3 C577.8 109.3 573.7 112.2 569.9 114.4 C566.2 116.7 562.4 118.5 557.7 119.6 C552.9 120.6 546.4 121.4 541.3 120.6 C536.2 119.7 528.4 118.5 527.0 114.4Z" fill="#f6f9fc"/>
<path d="M551.0 87.4h.8M539.0 89.8h.8M546.1 88.6h.8M555.7 114.2h.8M566.9 101.9h.8M545.8 118.6h.8M556.7 112.8h.8M559.8 72.0h.8M580.0 93.5h.8M539.6 98.8h.8M557.9 73.3h.8M558.1 107.6h.8M548.3 100.3h.8M582.6 75.1h.8M553.3 106.7h.8M542.6 107.3h.8M551.4 115.6h.8M547.0 75.6h.8M551.2 85.0h.8M531.6 115.2h.8M559.4 87.8h.8M571.6 68.1h.8M583.2 92.9h.8M560.9 73.9h.8M544.4 105.9h.8M554.0 113.7h.8M551.6 94.7h.8M553.3 83.6h.8M546.4 119.4h.8M546.7 112.6h.8M580.5 88.7h.8M576.3 98.4h.8M582.4 89.6h.8M556.7 105.4h.8M570.7 102.4h.8M560.4 98.0h.8M579.3 73.6h.8M579.7 89.4h.8M541.5 84.9h.8M550.8 112.2h.8M573.5 92.8h.8M579.8 96.7h.8M559.2 90.4h.8M543.5 104.1h.8M572.7 67.4h.8M545.5 110.0h.8M534.5 107.6h.8M544.1 80.8h.8M580.8 76.8h.8M556.9 103.2h.8M562.6 74.1h.8M543.7 89.7h.8M575.6 99.8h.8M574.6 103.8h.8M542.5 87.0h.8M546.7 98.3h.8M541.0 93.6h.8M560.5 119.2h.8M578.3 77.2h.8M577.8 69.3h.8M567.2 95.5h.8M546.9 112.9h.8M568.8 82.5h.8M577.0 100.7h.8M554.2 105.2h.8M559.7 93.2h.8M573.8 84.4h.8M575.3 80.5h.8M555.3 75.2h.8M567.0 113.4h.8M576.8 103.4h.8M547.6 113.1h.8M562.8 82.5h.8M571.3 108.7h.8M558.7 111.6h.8M571.1 102.4h.8M578.7 69.2h.8M555.5 72.1h.8M568.5 101.7h.8M567.5 73.5h.8M530.8 101.2h.8M570.1 85.0h.8M553.0 92.0h.8M551.8 109.0h.8M543.2 88.4h.8M552.8 112.2h.8M544.6 73.0h.8M550.8 110.6h.8M580.1 91.1h.8M568.1 91.0h.8M571.2 97.0h.8M563.5 81.8h.8M579.1 76.9h.8M575.1 103.1h.8M539.1 109.2h.8M566.4 84.1h.8M571.0 80.2h.8M536.1 87.5h.8M533.6 106.9h.8M566.5 75.5h.8M555.9 103.7h.8M572.4 74.5h.8M565.2 101.2h.8M559.5 95.8h.8M536.1 94.6h.8M557.1 112.7h.8M560.3 85.3h.8M549.8 78.7h.8M537.4 104.4h.8M580.1 101.5h.8M556.5 91.1h.8M578.1 102.6h.8M570.0 89.5h.8M568.5 68.4h.8M573.8 74.4h.8M547.2 109.3h.8M570.9 83.4h.8M548.6 106.8h.8M546.3 87.6h.8M540.6 94.2h.8M544.2 92.1h.8M578.6 81.4h.8M573.4 83.4h.8M558.6 74.1h.8M549.0 117.0h.8M571.4 80.3h.8M560.8 111.1h.8M542.6 101.1h.8M536.3 105.2h.8M546.9 105.2h.8M574.3 87.9h.8M562.8 104.3h.8M544.2 102.2h.8M573.4 73.2h.8M547.7 115.4h.8M570.5 103.0h.8M569.0 91.4h.8M545.7 76.6h.8M567.9 71.5h.8M548.2 83.2h.8M543.4 111.4h.8M553.8 111.4h.8M580.5 82.7h.8M545.5 77.0h.8M584.7 97.2h.8M552.8 89.4h.8M572.8 105.8h.8M582.8 85.2h.8M541.8 89.9h.8M556.0 70.8h.8" stroke="#9cc3e0" stroke-width="0.8" fill="none"/>
<path d="M566.5 86.0h.8M531.5 116.9h.8M547.6 117.7h.8M579.5 86.3h.8M561.5 100.5h.8M562.4 72.9h.8M535.7 100.9h.8M568.1 72.1h.8M554.4 106.8h.8M544.2 112.7h.8M535.9 117.7h.8M562.8 105.6h.8M573.5 104.1h.8M549.7 111.6h.8M568.4 69.2h.8M576.3 94.8h.8M555.1 93.3h.8M539.7 93.6h.8M551.1 83.5h.8M555.6 73.7h.8M549.7 77.1h.8M551.6 87.9h.8M564.7 69.6h.8M580.1 77.9h.8M543.0 105.7h.8M560.3 73.1h.8M577.8 84.9h.8M566.8 99.2h.8M537.3 117.4h.8M565.6 106.0h.8M576.4 84.7h.8M572.9 77.9h.8M548.6 80.8h.8M545.7 89.2h.8M540.0 89.0h.8M548.8 105.8h.8M571.2 88.7h.8M548.4 86.2h.8M553.7 79.6h.8M547.0 102.9h.8M549.3 72.4h.8M529.8 106.0h.8M546.3 95.3h.8M567.9 84.0h.8M541.3 81.5h.8M554.3 85.6h.8M555.9 103.9h.8M577.4 90.9h.8M574.1 104.9h.8M545.8 118.7h.8M563.7 109.7h.8M550.1 82.9h.8M560.9 111.0h.8M564.7 112.6h.8M564.7 112.6h.8M554.6 70.3h.8M561.7 72.5h.8M548.8 94.1h.8M553.4 107.8h.8M569.7 96.6h.8M572.1 74.3h.8M558.5 112.4h.8M574.4 91.4h.8M558.6 116.7h.8M572.4 104.4h.8M560.3 113.9h.8M557.5 84.3h.8M551.5 71.5h.8M535.0 117.5h.8M571.5 92.4h.8M545.8 116.8h.8M551.6 91.8h.8M544.3 79.3h.8M576.8 98.0h.8M546.1 112.2h.8M538.1 115.8h.8M537.3 96.5h.8M565.8 106.8h.8M543.8 98.0h.8M555.6 81.8h.8M569.0 107.9h.8M548.2 91.4h.8M569.3 99.3h.8M578.9 85.8h.8M550.7 84.6h.8M574.2 90.0h.8M557.0 115.6h.8M575.0 76.6h.8M539.5 101.2h.8M538.8 95.1h.8M555.2 113.5h.8M570.5 101.0h.8M560.1 91.9h.8M567.2 73.7h.8M567.4 109.2h.8M542.7 91.3h.8M573.2 104.6h.8M558.9 103.6h.8M565.6 75.0h.8M539.2 100.3h.8M553.7 115.4h.8M562.1 76.4h.8M574.4 71.3h.8M569.6 87.8h.8M547.2 110.3h.8M578.2 87.0h.8M547.0 95.4h.8M577.8 100.1h.8M543.3 102.3h.8M569.6 91.9h.8M548.5 88.8h.8M567.4 97.5h.8M570.8 71.4h.8M544.1 107.9h.8M574.2 87.3h.8M559.0 77.4h.8M539.6 117.7h.8M538.1 104.2h.8M567.5 78.9h.8M581.3 87.5h.8M557.9 94.1h.8M574.2 79.6h.8M553.1 70.9h.8M548.9 82.3h.8M581.0 79.1h.8M548.3 80.0h.8M556.6 94.7h.8M558.8 115.7h.8M566.3 85.0h.8M583.7 77.1h.8M549.5 109.8h.8M579.9 100.6h.8M580.0 78.7h.8M561.6 103.1h.8M536.4 100.2h.8M561.2 100.8h.8M565.7 107.4h.8M562.3 103.0h.8M573.6 74.3h.8M554.6 87.6h.8M553.7 77.7h.8M580.7 99.7h.8M551.9 77.6h.8M577.4 105.5h.8M555.4 99.2h.8M531.6 100.9h.8M565.5 70.7h.8M537.2 105.8h.8M553.2 100.8h.8M552.2 118.1h.8" stroke="#7fb0d6" stroke-width="0.8" fill="none"/>
<path d="M553.0 71.4h.8M559.6 113.7h.8M549.3 81.3h.8M573.8 87.8h.8M549.9 98.5h.8M582.2 85.5h.8M534.8 106.2h.8M533.5 109.5h.8M579.7 80.6h.8M575.4 92.8h.8M533.5 99.4h.8M536.1 107.5h.8M553.7 117.7h.8M547.6 84.1h.8M559.7 112.2h.8M570.9 68.9h.8M528.8 108.9h.8M558.1 104.1h.8M536.6 88.1h.8M554.0 89.1h.8M541.8 101.7h.8M566.1 114.0h.8M539.8 107.6h.8M568.4 109.3h.8M555.9 105.8h.8M561.4 101.5h.8M574.0 85.7h.8M560.6 112.1h.8M571.8 105.1h.8M574.6 78.3h.8M560.6 71.8h.8M561.6 113.2h.8M580.4 71.4h.8M576.0 72.2h.8M536.8 100.4h.8M543.6 97.6h.8M565.4 104.8h.8M562.4 114.3h.8M542.0 83.1h.8M538.9 115.0h.8M567.0 89.4h.8M569.7 103.8h.8M571.2 100.7h.8M574.9 92.4h.8M559.6 92.7h.8M551.8 92.7h.8M560.2 109.8h.8M535.1 106.5h.8M546.7 108.5h.8M543.3 107.6h.8M581.8 95.4h.8M542.7 102.0h.8M562.5 107.7h.8M574.3 85.5h.8M582.0 82.5h.8M558.2 95.3h.8M572.5 74.8h.8M565.9 78.5h.8M554.2 73.0h.8M579.8 80.6h.8M548.1 115.2h.8M556.4 84.3h.8M550.1 91.6h.8M578.6 79.5h.8M532.0 99.8h.8M544.1 86.0h.8M543.0 104.1h.8M573.6 112.7h.8M531.0 106.5h.8M538.4 101.6h.8M552.5 88.0h.8M556.3 111.2h.8M568.0 67.1h.8M561.3 96.7h.8M556.7 80.6h.8M549.5 114.6h.8M570.6 89.1h.8M539.7 80.1h.8M565.9 108.5h.8M576.6 102.9h.8M535.2 108.0h.8M545.6 103.9h.8M545.5 78.8h.8M559.1 101.6h.8M566.9 88.6h.8M538.7 108.0h.8M578.4 81.6h.8M582.8 87.9h.8M581.6 74.1h.8M553.9 95.7h.8M552.7 101.4h.8M571.7 107.3h.8M569.7 70.6h.8M574.0 110.9h.8M577.4 91.0h.8M539.8 111.8h.8M550.8 116.2h.8M565.0 77.6h.8M556.7 111.8h.8M553.2 115.3h.8M582.8 82.4h.8M582.0 106.8h.8M555.6 93.9h.8M555.6 114.6h.8M553.0 110.3h.8M569.7 105.0h.8M542.9 90.4h.8M582.9 78.2h.8M557.3 90.7h.8M556.0 97.9h.8M547.0 112.9h.8M567.4 86.1h.8M563.3 96.6h.8M558.5 119.6h.8M570.4 82.7h.8M532.0 106.0h.8M562.4 116.7h.8M564.9 85.0h.8M569.1 82.7h.8M553.8 95.4h.8M561.9 104.0h.8M542.4 107.5h.8M554.0 95.1h.8M571.9 89.9h.8M546.0 92.4h.8M580.9 80.9h.8M568.9 77.7h.8M555.1 86.6h.8M580.2 98.5h.8M583.3 83.8h.8M581.0 89.7h.8M579.5 82.1h.8M546.6 89.9h.8M558.7 86.7h.8M551.0 75.8h.8M539.7 111.6h.8M549.5 120.1h.8M544.5 116.1h.8M557.6 101.0h.8M566.5 108.7h.8M577.2 82.8h.8M575.6 100.3h.8M565.2 115.2h.8M568.4 69.3h.8M543.6 90.5h.8M556.8 74.7h.8M563.7 105.2h.8M554.5 107.2h.8M578.6 72.1h.8M537.2 89.4h.8" stroke="#b8d5ea" stroke-width="0.8" fill="none"/>
<path d="M547.6 111.2h.8M545.0 86.8h.8M547.2 111.5h.8M582.3 88.0h.8M580.6 79.4h.8M542.8 113.3h.8M535.4 100.3h.8M553.3 108.4h.8M555.1 79.0h.8M557.9 105.7h.8M559.5 118.5h.8M579.9 79.9h.8M570.8 69.6h.8M553.3 75.1h.8M553.1 97.5h.8M570.0 77.3h.8M575.7 78.9h.8M553.2 85.7h.8M569.0 66.4h.8M559.5 106.1h.8M551.3 82.5h.8M545.7 86.8h.8M541.3 93.2h.8M544.7 104.2h.8M554.7 94.9h.8M547.5 101.8h.8M554.1 115.1h.8M564.4 90.4h.8M546.4 83.2h.8M544.5 113.9h.8M544.6 112.8h.8M550.9 115.1h.8M566.1 84.1h.8M576.3 94.8h.8M579.9 74.4h.8M549.4 75.6h.8M546.3 95.0h.8M568.3 109.5h.8M532.5 110.5h.8M583.2 86.7h.8M578.7 92.7h.8M555.6 80.0h.8M568.8 91.7h.8M562.7 87.5h.8M572.9 74.4h.8M550.1 94.0h.8M550.9 84.7h.8M576.3 83.6h.8M575.6 81.5h.8M537.2 108.4h.8M542.9 75.7h.8M556.1 118.3h.8M573.9 72.5h.8M533.5 114.4h.8M544.2 105.8h.8M548.5 78.6h.8M577.6 98.2h.8M543.6 91.8h.8M554.7 106.0h.8M569.2 103.2h.8M554.7 92.6h.8M547.7 118.4h.8M548.9 88.0h.8M576.8 94.8h.8M572.7 106.9h.8M569.6 75.8h.8M572.9 73.4h.8M549.5 83.3h.8M558.8 111.7h.8M549.6 111.8h.8M572.2 70.4h.8M552.7 111.7h.8M540.7 84.7h.8M566.8 74.2h.8M573.2 68.6h.8M569.9 74.6h.8M559.8 103.2h.8M564.9 73.1h.8M538.1 104.3h.8M544.6 111.0h.8M560.6 116.3h.8M560.4 109.5h.8M540.0 115.5h.8M538.5 91.3h.8M553.8 71.0h.8M540.5 106.4h.8M575.9 70.0h.8M550.4 86.5h.8M572.3 70.3h.8M542.2 82.2h.8M546.7 96.5h.8M540.3 111.5h.8M584.7 89.8h.8M548.0 76.1h.8M582.2 75.7h.8M544.6 100.0h.8M578.2 78.4h.8M534.4 108.8h.8M556.1 116.4h.8M533.6 102.4h.8M576.9 74.6h.8M534.9 103.5h.8M547.2 111.4h.8M547.5 91.1h.8M561.8 89.4h.8M581.6 71.6h.8M566.1 86.9h.8M561.2 73.8h.8M560.5 103.0h.8M549.7 116.1h.8M538.0 86.2h.8M570.4 75.7h.8M576.0 73.6h.8M551.7 113.2h.8M533.2 101.1h.8M550.1 87.9h.8M538.5 93.8h.8M562.2 114.9h.8M579.5 102.4h.8M555.8 77.9h.8M574.8 98.5h.8M579.2 67.9h.8M580.1 83.5h.8M564.8 79.3h.8M548.6 120.7h.8M570.6 79.5h.8M578.5 104.2h.8M560.4 76.2h.8M582.2 75.6h.8M542.5 120.0h.8M557.7 119.8h.8M561.1 80.5h.8M563.3 110.1h.8M564.9 88.6h.8M540.6 121.0h.8M582.1 92.7h.8M537.8 120.8h.8M559.7 76.4h.8M560.0 72.4h.8M528.5 110.7h.8M573.5 99.0h.8M546.0 81.0h.8M550.8 117.8h.8M564.5 72.3h.8M563.2 92.8h.8M574.1 104.5h.8M539.9 87.4h.8M564.1 96.2h.8M578.4 88.9h.8M556.1 102.0h.8" stroke="#a9cce6" stroke-width="0.8" fill="none"/>
<path d="M527.8 29.3h.8M523.1 25.2h.8M518.0 34.7h.8M521.2 31.0h.8M522.0 25.2h.8M521.4 36.4h.8M522.7 33.2h.8M522.6 42.2h.8M522.3 34.1h.8M520.7 41.7h.8M519.5 37.1h.8M523.8 31.4h.8M519.7 44.3h.8M519.3 37.0h.8M522.3 40.7h.8M523.8 41.1h.8M519.5 30.4h.8M525.5 38.3h.8M519.0 35.0h.8M520.7 37.4h.8M522.7 30.0h.8M522.8 34.7h.8M523.4 35.0h.8M516.9 42.4h.8M518.5 34.4h.8M520.2 36.1h.8M520.3 35.3h.8M520.7 32.5h.8M524.7 29.6h.8M530.7 30.0h.8M521.7 35.3h.8M524.5 36.7h.8M518.9 29.8h.8M524.9 35.3h.8M523.8 34.1h.8M524.9 26.5h.8M522.8 40.8h.8M518.4 36.8h.8M524.4 34.9h.8M530.4 29.8h.8M523.0 38.5h.8M526.1 25.6h.8M516.8 33.2h.8M525.0 38.2h.8M529.3 30.1h.8M525.9 31.3h.8M522.4 34.5h.8M527.2 29.9h.8M525.7 27.7h.8M520.2 30.5h.8" stroke="#d4664c" stroke-width="1.0" fill="none"/>
<path d="M551.4 44.5h.8M510.5 42.4h.8M534.4 52.2h.8M561.4 49.4h.8M519.3 34.1h.8M541.1 40.3h.8M561.9 56.7h.8M517.6 44.2h.8M555.4 54.2h.8M528.5 39.5h.8M529.6 48.7h.8M557.6 53.1h.8M556.4 36.9h.8M516.0 37.0h.8M522.4 43.3h.8M581.7 58.4h.8M574.3 60.3h.8M516.1 35.4h.8M562.2 44.9h.8M541.9 46.0h.8M562.2 56.3h.8M549.1 46.2h.8M560.0 59.6h.8M568.6 67.1h.8M569.1 78.8h.8M555.1 53.9h.8M565.1 56.1h.8M521.3 37.3h.8M572.6 68.0h.8M567.3 58.3h.8M571.1 65.2h.8M505.8 44.2h.8M573.7 70.3h.8M523.6 34.8h.8M506.2 36.8h.8M576.0 60.3h.8M573.6 55.3h.8M574.6 65.2h.8M506.3 41.7h.8M566.4 44.0h.8M513.8 28.2h.8M544.3 40.4h.8M545.9 51.0h.8M585.7 76.7h.8M562.5 49.9h.8M567.5 47.0h.8M502.9 33.9h.8M528.2 40.1h.8M566.2 52.1h.8M528.1 41.0h.8M523.3 38.0h.8M557.7 58.3h.8M519.0 27.7h.8M578.3 74.2h.8M545.2 47.4h.8M544.1 51.1h.8M556.5 41.3h.8M511.1 32.2h.8M552.8 44.6h.8M567.5 52.3h.8M575.8 77.0h.8M584.4 77.0h.8M561.7 44.8h.8M503.3 36.1h.8M521.7 43.7h.8M510.9 30.2h.8M542.5 54.0h.8M547.9 43.3h.8M509.1 31.3h.8M558.3 35.6h.8M546.2 39.1h.8M538.6 35.7h.8M562.6 63.0h.8M581.7 75.0h.8M558.2 49.8h.8M558.8 39.9h.8M522.4 32.5h.8M527.8 33.0h.8M558.4 47.3h.8M542.2 36.5h.8M519.8 32.6h.8M508.7 29.4h.8M537.3 41.6h.8M509.5 45.9h.8M530.8 44.9h.8M541.4 45.3h.8M509.2 33.0h.8M578.9 75.4h.8M528.6 36.3h.8M512.5 41.5h.8M530.1 36.7h.8M549.5 42.2h.8M574.0 73.7h.8M551.6 31.6h.8M567.0 65.5h.8M546.1 51.3h.8M540.2 37.9h.8M564.4 45.2h.8M562.5 57.3h.8M569.2 38.7h.8" stroke="#e8a08a" stroke-width="0.9" fill="none"/>
<path d="M546.6 37.7h.8M544.9 31.0h.8M531.1 40.0h.8M537.5 24.4h.8M534.9 21.1h.8M535.3 21.3h.8M545.5 36.2h.8M545.8 32.7h.8M543.2 30.3h.8M540.3 23.5h.8M530.6 27.6h.8M540.9 38.0h.8M546.7 35.6h.8M541.6 36.6h.8M527.0 25.2h.8M534.4 39.6h.8M545.1 28.4h.8M529.0 38.8h.8M546.6 34.7h.8M537.6 22.1h.8M537.0 29.1h.8M535.4 27.6h.8M548.1 30.5h.8M533.5 28.7h.8M535.7 37.8h.8M538.1 35.3h.8M533.8 24.7h.8M527.0 26.6h.8M548.5 25.5h.8M547.4 37.7h.8M538.1 29.1h.8M529.5 37.4h.8M532.9 38.7h.8M542.6 27.8h.8M538.5 35.1h.8M548.2 38.2h.8M539.4 36.5h.8M542.5 23.3h.8M548.9 25.0h.8M541.9 31.4h.8M536.5 35.1h.8M539.2 32.6h.8M536.5 24.9h.8M532.1 38.4h.8M534.3 21.6h.8M535.6 30.9h.8M534.6 22.3h.8M538.4 36.0h.8M538.5 39.7h.8M539.1 33.4h.8M542.2 25.1h.8M531.1 35.6h.8M537.5 22.9h.8M539.5 29.9h.8M534.8 30.1h.8M538.4 20.8h.8M550.1 34.2h.8M534.6 34.5h.8M532.3 29.2h.8M542.2 29.4h.8" stroke="#8fb6d9" stroke-width="0.9" fill="none"/>
</g>
<circle cx="549.5" cy="62.85" r="57.4" fill="none" stroke="#000" stroke-width="1.7"/>
<circle cx="211.6" cy="189.95" r="34.4" fill="none" stroke="#000" stroke-width="1.7"/>
<circle cx="535.3" cy="189.95" r="34.4" fill="none" stroke="#000" stroke-width="1.7"/>
<path d="M225.2 120.2L219.9 156.3M549.5 120.2L543.8 156.3" stroke="#000" stroke-width="1.4"/>
<defs><linearGradient id="rdbu" x1="0" y1="0" x2="0" y2="1"><stop offset="0" stop-color="#67001f"/><stop offset="0.1" stop-color="#b2182b"/><stop offset="0.22" stop-color="#d6604d"/><stop offset="0.33" stop-color="#f4a582"/><stop offset="0.41" stop-color="#fddbc7"/><stop offset="0.49" stop-color="#f7f7f7"/><stop offset="0.57" stop-color="#d1e5f0"/><stop offset="0.67" stop-color="#92c5de"/><stop offset="0.78" stop-color="#4393c3"/><stop offset="0.89" stop-color="#2166ac"/><stop offset="1" stop-color="#053061"/></linearGradient></defs>
<rect x="603.1" y="199.7" width="11.5" height="77.1" fill="url(#rdbu)"/>
<text x="607.7" y="182.8" font-size="9" fill="#222">ECM Score</text>
<text x="617.4" y="202.5" font-size="9" fill="#222">0.641</text>
<text x="619.7" y="221.8" font-size="9" fill="#222">0.44</text>
<text x="619.7" y="241.5" font-size="9" fill="#222">0.24</text>
<text x="617.4" y="260.7" font-size="9" fill="#222">0.039</text>
<text x="616.4" y="279" font-size="9" fill="#222">-0.162</text>
<text x="5.6" y="306.8" font-size="16" font-weight="bold" fill="#000">b</text>
<text x="14" y="320.4" font-size="13.5" fill="#1a1a1a">EMT Score</text>
<text x="14" y="485.9" font-size="13.5" fill="#1a1a1a">ECM Score</text>
<path d="M65.4 384.7 C64.8 385.1 63.3 386.3 62.1 387.3 C60.9 388.3 59.3 389.5 58.1 390.6 C56.9 391.7 55.7 392.9 54.9 393.9 C54.0 394.9 53.5 395.6 53.3 396.5 C53.1 397.4 53.1 398.1 53.5 399.1 C54.0 400.1 55.0 401.3 56.2 402.4 C57.4 403.5 59.2 404.7 60.8 405.7 C62.3 406.7 64.6 407.9 65.4 408.3Z" fill="#ef6f69" stroke="#444" stroke-width="0.5" stroke-linejoin="round"/>
<path d="M65.4 372.2 C65.5 373.0 65.6 375.6 66.0 376.8 C66.5 378.0 67.1 378.4 68.0 379.4 C68.9 380.4 70.1 381.5 71.3 382.7 C72.5 383.9 74.3 385.4 75.2 386.6 C76.1 387.8 76.6 388.9 76.8 389.9 C77.0 390.9 76.8 391.7 76.3 392.6 C75.8 393.4 74.4 394.3 73.9 395.2 C73.4 396.1 73.7 396.8 73.2 397.8 C72.8 398.8 72.0 400.0 71.3 401.1 C70.5 402.2 69.5 403.4 68.6 404.4 C67.8 405.4 66.6 406.2 66.0 407.0 C65.5 407.8 65.5 408.7 65.4 409.0Z" fill="#3a968f" stroke="#444" stroke-width="0.5" stroke-linejoin="round"/>
<path d="M65.4 372.2V409.0" stroke="#555" stroke-width="0.5"/>
<path d="M91.2 400.4 C90.5 400.9 88.6 402.3 87.0 403.1 C85.5 403.8 83.1 404.5 81.8 405.0 C80.5 405.6 79.4 405.9 79.4 406.4 C79.4 406.8 80.5 407.1 81.8 407.7 C83.1 408.2 85.5 409.0 87.0 409.6 C88.6 410.3 90.5 411.3 91.2 411.6Z" fill="#ef6f69" stroke="#444" stroke-width="0.5" stroke-linejoin="round"/>
<path d="M91.2 380.1 C91.3 381.3 91.4 385.0 91.6 387.3 C91.9 389.6 92.2 392.1 93.0 393.9 C93.7 395.6 95.0 396.6 96.2 397.8 C97.4 399.0 99.1 400.1 100.2 401.1 C101.3 402.1 102.6 403.0 102.8 403.7 C103.0 404.5 102.4 404.9 101.5 405.7 C100.6 406.5 98.9 407.6 97.6 408.3 C96.2 409.1 94.7 409.3 93.6 410.3 C92.6 411.3 91.6 413.6 91.2 414.2Z" fill="#3a968f" stroke="#444" stroke-width="0.5" stroke-linejoin="round"/>
<path d="M91.2 380.1V414.2" stroke="#555" stroke-width="0.5"/>
<path d="M117.5 396.5 C117.0 397.2 115.8 399.4 114.6 400.4 C113.5 401.5 112.1 402.1 110.7 402.8 C109.3 403.5 106.8 404.2 106.1 404.6 C105.4 405.1 106.0 405.3 106.8 405.7 C107.5 406.1 109.4 406.5 110.7 407.0 C112.0 407.6 113.5 408.3 114.6 409.0 C115.8 409.6 117.0 410.6 117.5 410.9Z" fill="#ef6f69" stroke="#444" stroke-width="0.5" stroke-linejoin="round"/>
<path d="M117.5 374.8 C117.6 376.2 117.7 380.0 117.9 383.4 C118.1 386.8 118.0 392.6 118.6 395.2 C119.1 397.8 120.1 398.1 121.2 399.1 C122.3 400.1 123.9 400.4 125.1 401.1 C126.4 401.8 128.4 402.5 128.8 403.1 C129.3 403.6 128.6 403.9 127.8 404.4 C126.9 404.8 125.1 405.3 123.8 405.7 C122.5 406.1 120.9 405.5 119.9 407.0 C118.8 408.5 117.9 413.6 117.5 414.9Z" fill="#3a968f" stroke="#444" stroke-width="0.5" stroke-linejoin="round"/>
<path d="M117.5 374.8V414.9" stroke="#555" stroke-width="0.5"/>
<path d="M143.4 384.0 C142.7 384.6 140.9 386.2 139.5 387.3 C138.0 388.4 136.1 389.6 134.9 390.6 C133.6 391.6 132.6 392.4 132.2 393.2 C131.9 394.0 132.1 394.3 132.9 395.2 C133.6 396.1 135.4 397.4 136.8 398.5 C138.2 399.6 140.3 400.8 141.4 401.8 C142.5 402.7 143.1 403.9 143.4 404.4Z" fill="#ef6f69" stroke="#444" stroke-width="0.5" stroke-linejoin="round"/>
<path d="M143.4 375.5 C143.6 376.1 143.9 378.1 144.7 379.4 C145.5 380.7 146.9 381.9 148.0 383.4 C149.1 384.8 150.3 386.4 151.3 388.0 C152.3 389.5 153.3 391.4 153.9 392.6 C154.5 393.8 155.2 394.3 155.0 395.2 C154.7 396.1 153.6 396.9 152.6 397.8 C151.5 398.7 150.0 399.6 148.6 400.4 C147.3 401.3 145.6 402.3 144.7 403.1 C143.8 403.8 143.6 404.7 143.4 405.0Z" fill="#3a968f" stroke="#444" stroke-width="0.5" stroke-linejoin="round"/>
<path d="M143.4 375.5V405.0" stroke="#555" stroke-width="0.5"/>
<path d="M169.7 385.3 C169.2 386.1 168.1 388.5 167.0 389.9 C165.9 391.4 164.5 392.6 163.1 393.9 C161.7 395.2 159.7 396.7 158.9 397.8 C158.1 398.9 158.0 399.6 158.5 400.4 C159.0 401.3 160.4 402.3 161.8 403.1 C163.2 403.8 165.7 404.4 167.0 405.0 C168.4 405.7 169.2 406.7 169.7 407.0Z" fill="#ef6f69" stroke="#444" stroke-width="0.5" stroke-linejoin="round"/>
<path d="M169.7 365.0 C169.8 366.7 169.9 372.8 170.3 375.5 C170.8 378.1 171.3 379.1 172.3 380.7 C173.3 382.4 174.9 383.8 176.2 385.3 C177.6 386.9 179.3 388.6 180.2 389.9 C181.1 391.2 181.8 392.1 181.8 393.2 C181.8 394.3 181.1 395.3 180.2 396.5 C179.3 397.7 177.6 399.3 176.2 400.4 C174.9 401.5 173.3 402.2 172.3 403.1 C171.3 403.9 170.8 404.3 170.3 405.7 C169.9 407.1 169.8 410.6 169.7 411.6Z" fill="#3a968f" stroke="#444" stroke-width="0.5" stroke-linejoin="round"/>
<path d="M169.7 365.0V411.6" stroke="#555" stroke-width="0.5"/>
<path d="M195.7 395.2 C195.1 395.5 193.4 396.5 192.0 397.2 C190.6 397.8 188.7 398.5 187.4 399.1 C186.1 399.8 184.7 400.4 184.4 401.1 C184.1 401.8 184.5 402.4 185.4 403.1 C186.4 403.7 188.6 404.5 190.0 405.0 C191.5 405.6 193.0 405.9 194.0 406.4 C194.9 406.8 195.4 407.4 195.7 407.7Z" fill="#ef6f69" stroke="#444" stroke-width="0.5" stroke-linejoin="round"/>
<path d="M195.7 380.1 C195.7 381.5 195.5 386.8 195.9 388.6 C196.4 390.5 197.5 390.1 198.6 391.2 C199.7 392.3 201.1 393.9 202.5 395.2 C203.9 396.5 206.5 398.1 207.1 399.1 C207.8 400.1 207.2 400.4 206.5 401.1 C205.7 401.8 203.8 402.4 202.5 403.1 C201.2 403.7 199.7 404.4 198.6 405.0 C197.4 405.7 196.2 406.7 195.7 407.0Z" fill="#3a968f" stroke="#444" stroke-width="0.5" stroke-linejoin="round"/>
<path d="M195.7 380.1V407.7" stroke="#555" stroke-width="0.5"/>
<path d="M221.7 370.9 C221.1 371.3 219.6 372.5 218.4 373.5 C217.2 374.5 215.7 375.6 214.5 376.8 C213.2 378.0 211.8 379.4 211.2 380.7 C210.5 382.0 210.4 383.1 210.5 384.7 C210.6 386.2 211.1 388.2 211.8 389.9 C212.6 391.7 213.9 393.5 215.1 395.2 C216.3 396.8 218.0 398.5 219.1 399.8 C220.1 401.1 221.2 402.5 221.7 403.1Z" fill="#ef6f69" stroke="#444" stroke-width="0.5" stroke-linejoin="round"/>
<path d="M221.7 359.7 C221.8 360.7 221.8 363.9 222.3 365.6 C222.9 367.4 223.9 368.8 225.0 370.2 C226.1 371.6 227.6 372.8 228.9 374.2 C230.2 375.5 232.1 377.0 232.8 378.1 C233.6 379.2 233.7 379.6 233.5 380.7 C233.3 381.8 231.6 383.4 231.5 384.7 C231.4 386.0 232.8 387.3 232.8 388.6 C232.8 389.9 232.3 391.2 231.5 392.6 C230.8 393.9 229.5 395.2 228.2 396.5 C227.0 397.8 225.4 399.3 224.3 400.4 C223.2 401.5 222.1 402.6 221.7 403.1Z" fill="#3a968f" stroke="#444" stroke-width="0.5" stroke-linejoin="round"/>
<path d="M221.7 359.7V403.1" stroke="#555" stroke-width="0.5"/>
<path d="M248.0 390.6 C247.3 391.0 245.4 392.3 244.0 393.2 C242.6 394.1 240.7 395.0 239.4 395.8 C238.2 396.7 236.9 397.6 236.5 398.5 C236.2 399.3 236.5 400.1 237.4 401.1 C238.4 402.1 240.5 403.3 242.0 404.4 C243.6 405.5 245.7 406.9 246.6 407.7 C247.6 408.4 247.7 408.8 248.0 409.0Z" fill="#ef6f69" stroke="#444" stroke-width="0.5" stroke-linejoin="round"/>
<path d="M248.0 376.8 C248.0 377.7 247.9 380.3 248.4 382.0 C248.8 383.8 249.4 385.7 250.6 387.3 C251.7 388.9 253.7 390.4 255.2 391.9 C256.7 393.4 259.1 395.3 259.8 396.5 C260.4 397.7 259.9 398.2 259.1 399.1 C258.4 400.0 256.5 400.9 255.2 401.8 C253.9 402.6 252.3 403.6 251.2 404.4 C250.1 405.1 249.2 405.6 248.6 406.4 C248.1 407.1 248.1 408.5 248.0 409.0Z" fill="#3a968f" stroke="#444" stroke-width="0.5" stroke-linejoin="round"/>
<path d="M248.0 376.8V409.0" stroke="#555" stroke-width="0.5"/>
<path d="M274.2 400.4 C273.5 400.7 271.3 401.3 269.6 401.8 C268.0 402.2 265.6 402.6 264.4 403.1 C263.2 403.5 262.4 403.8 262.4 404.4 C262.4 404.9 263.2 405.6 264.4 406.4 C265.6 407.1 268.2 408.2 269.6 409.0 C271.1 409.7 272.2 410.4 272.9 410.9 C273.7 411.5 274.0 412.0 274.2 412.3Z" fill="#ef6f69" stroke="#444" stroke-width="0.5" stroke-linejoin="round"/>
<path d="M274.2 397.8 C274.6 398.1 275.2 399.1 276.2 399.8 C277.2 400.4 278.7 401.1 280.1 401.8 C281.6 402.4 283.9 403.2 284.7 403.7 C285.6 404.3 286.0 404.5 285.4 405.0 C284.9 405.6 282.9 406.5 281.5 407.0 C280.0 407.6 278.1 407.9 276.9 408.3 C275.7 408.8 274.7 409.4 274.2 409.6Z" fill="#3a968f" stroke="#444" stroke-width="0.5" stroke-linejoin="round"/>
<path d="M274.2 397.8V412.3" stroke="#555" stroke-width="0.5"/>
<path d="M66.7 543.2 C66.1 544.0 64.6 546.3 63.4 547.8 C62.2 549.3 60.7 551.0 59.5 552.4 C58.2 553.8 56.9 555.4 56.2 556.4 C55.5 557.3 55.1 557.4 55.2 558.3 C55.4 559.2 55.9 560.6 56.8 561.6 C57.7 562.6 59.5 563.5 60.8 564.2 C62.1 565.0 63.7 565.7 64.7 566.2 C65.7 566.8 66.4 567.3 66.7 567.5Z" fill="#ef6f69" stroke="#444" stroke-width="0.5" stroke-linejoin="round"/>
<path d="M66.7 530.7 C66.8 531.8 66.8 535.5 67.3 537.3 C67.9 539.1 68.9 540.0 70.0 541.2 C71.1 542.4 72.7 543.5 73.9 544.5 C75.1 545.5 76.4 546.4 77.2 547.2 C78.0 547.9 78.5 548.2 78.5 549.1 C78.5 550.0 77.8 551.2 77.2 552.4 C76.5 553.6 75.5 555.1 74.6 556.4 C73.6 557.6 72.4 558.4 71.3 559.6 C70.2 560.8 68.8 562.4 68.0 563.6 C67.2 564.8 66.9 566.3 66.7 566.9Z" fill="#3a968f" stroke="#444" stroke-width="0.5" stroke-linejoin="round"/>
<path d="M66.7 530.7V567.5" stroke="#555" stroke-width="0.5"/>
<path d="M92.6 564.9 C91.9 565.2 89.8 566.3 88.4 566.9 C86.9 567.4 84.9 567.8 83.8 568.2 C82.6 568.5 81.4 568.8 81.5 569.1 C81.6 569.4 83.1 569.8 84.4 570.1 C85.8 570.5 88.3 571.0 89.7 571.5 C91.0 571.9 92.1 572.6 92.6 572.8Z" fill="#ef6f69" stroke="#444" stroke-width="0.5" stroke-linejoin="round"/>
<path d="M92.6 546.5 C92.7 548.0 92.8 553.2 93.1 555.7 C93.4 558.2 93.5 560.2 94.3 561.6 C95.0 563.0 96.4 563.6 97.6 564.2 C98.8 564.9 100.4 565.2 101.5 565.5 C102.6 565.9 103.9 565.8 104.1 566.2 C104.3 566.6 103.7 567.5 102.8 568.2 C101.9 568.8 100.2 569.5 98.9 570.1 C97.6 570.8 96.0 571.5 94.9 572.1 C93.9 572.8 93.0 573.8 92.6 574.1Z" fill="#3a968f" stroke="#444" stroke-width="0.5" stroke-linejoin="round"/>
<path d="M92.6 546.5V574.1" stroke="#555" stroke-width="0.5"/>
<path d="M118.6 556.4 C118.0 556.8 116.6 558.1 115.3 559.0 C114.0 559.9 112.0 560.8 110.7 561.6 C109.4 562.4 107.7 562.9 107.4 563.6 C107.1 564.2 107.7 565.0 108.7 565.5 C109.7 566.1 111.9 566.4 113.3 566.9 C114.7 567.3 116.4 567.6 117.3 568.2 C118.1 568.7 118.4 569.8 118.6 570.1Z" fill="#ef6f69" stroke="#444" stroke-width="0.5" stroke-linejoin="round"/>
<path d="M118.6 538.6 C118.6 540.4 118.8 546.3 119.0 549.1 C119.2 552.0 119.3 554.3 119.9 555.7 C120.5 557.1 121.4 557.0 122.5 557.7 C123.6 558.3 125.2 559.0 126.5 559.6 C127.7 560.3 129.9 560.9 130.1 561.6 C130.4 562.3 128.8 563.0 127.8 563.6 C126.7 564.1 125.1 564.3 123.8 564.9 C122.5 565.4 120.8 566.2 119.9 566.9 C119.0 567.5 118.8 568.5 118.6 568.8Z" fill="#3a968f" stroke="#444" stroke-width="0.5" stroke-linejoin="round"/>
<path d="M118.6 538.6V570.1" stroke="#555" stroke-width="0.5"/>
<path d="M144.4 545.8 C143.8 546.4 142.1 547.9 140.8 549.1 C139.4 550.3 137.4 552.1 136.2 553.1 C134.9 554.1 133.5 554.3 133.1 555.0 C132.8 555.8 133.4 556.7 134.2 557.7 C135.0 558.7 136.7 559.9 138.1 560.9 C139.6 562.0 141.7 563.4 142.7 564.2 C143.8 565.1 144.2 565.9 144.4 566.2Z" fill="#ef6f69" stroke="#444" stroke-width="0.5" stroke-linejoin="round"/>
<path d="M144.4 534.7 C144.6 535.8 144.8 539.3 145.4 541.2 C146.0 543.2 147.0 545.0 148.0 546.5 C149.0 548.0 150.2 549.1 151.3 550.4 C152.4 551.8 153.7 553.2 154.6 554.4 C155.4 555.6 156.4 556.7 156.3 557.7 C156.2 558.7 155.0 559.4 153.9 560.3 C152.9 561.2 151.3 562.2 150.0 562.9 C148.6 563.7 146.9 564.2 146.0 564.9 C145.1 565.5 144.7 566.5 144.4 566.9Z" fill="#3a968f" stroke="#444" stroke-width="0.5" stroke-linejoin="round"/>
<path d="M144.4 534.7V566.9" stroke="#555" stroke-width="0.5"/>
<path d="M170.5 551.8 C169.9 552.2 168.3 553.5 167.0 554.4 C165.8 555.3 164.4 555.9 163.1 557.0 C161.8 558.1 159.7 560.0 159.2 560.9 C158.6 561.9 159.1 562.3 159.8 562.9 C160.6 563.6 162.3 564.2 163.8 564.9 C165.2 565.5 167.2 566.4 168.4 566.9 C169.5 567.3 170.1 567.4 170.5 567.5Z" fill="#ef6f69" stroke="#444" stroke-width="0.5" stroke-linejoin="round"/>
<path d="M170.5 528.1 C170.5 529.9 170.6 535.8 171.0 538.6 C171.4 541.5 172.1 543.3 173.0 545.2 C173.8 547.0 175.0 548.5 176.2 549.8 C177.4 551.1 179.2 551.9 180.2 553.1 C181.2 554.3 182.2 555.9 182.2 557.0 C182.2 558.1 181.2 558.8 180.2 559.6 C179.2 560.5 177.6 561.4 176.2 562.3 C174.9 563.1 173.3 563.6 172.3 564.9 C171.3 566.2 170.8 569.3 170.5 570.1Z" fill="#3a968f" stroke="#444" stroke-width="0.5" stroke-linejoin="round"/>
<path d="M170.5 528.1V570.1" stroke="#555" stroke-width="0.5"/>
<path d="M196.6 558.3 C196.1 558.7 194.5 559.6 193.3 560.3 C192.1 560.9 190.7 561.6 189.4 562.3 C188.0 562.9 185.5 563.7 185.2 564.2 C184.8 564.8 186.3 565.1 187.4 565.5 C188.5 566.0 190.6 566.4 192.0 566.9 C193.4 567.3 195.2 567.9 195.9 568.2 C196.7 568.5 196.5 568.5 196.6 568.6Z" fill="#ef6f69" stroke="#444" stroke-width="0.5" stroke-linejoin="round"/>
<path d="M196.6 546.5 C196.7 547.6 196.8 551.3 197.0 553.1 C197.2 554.8 197.2 556.1 197.9 557.0 C198.6 557.9 200.0 557.9 201.2 558.3 C202.4 558.8 204.0 559.1 205.1 559.6 C206.3 560.2 207.8 561.1 208.0 561.6 C208.3 562.2 207.4 562.5 206.5 562.9 C205.5 563.4 203.8 563.7 202.5 564.2 C201.2 564.8 199.6 565.5 198.6 566.2 C197.6 566.9 196.9 567.8 196.6 568.2Z" fill="#3a968f" stroke="#444" stroke-width="0.5" stroke-linejoin="round"/>
<path d="M196.6 546.5V568.6" stroke="#555" stroke-width="0.5"/>
<path d="M222.1 530.7 C221.5 531.2 219.7 532.4 218.4 533.4 C217.1 534.3 215.4 535.4 214.5 536.6 C213.5 537.8 213.0 539.2 212.5 540.6 C212.0 542.0 211.8 543.8 211.6 545.2 C211.3 546.6 211.0 547.8 211.2 549.1 C211.3 550.4 211.7 551.8 212.5 553.1 C213.2 554.4 214.6 555.7 215.8 557.0 C217.0 558.3 218.7 560.0 219.7 560.9 C220.8 561.9 221.7 562.6 222.1 562.9Z" fill="#ef6f69" stroke="#444" stroke-width="0.5" stroke-linejoin="round"/>
<path d="M222.1 518.9 C222.2 520.0 222.1 523.7 222.6 525.5 C223.1 527.2 224.0 528.1 225.0 529.4 C225.9 530.7 227.2 532.0 228.2 533.4 C229.3 534.7 230.7 535.9 231.5 537.3 C232.4 538.7 233.2 540.6 233.5 541.9 C233.8 543.2 233.6 544.0 233.5 545.2 C233.4 546.4 233.4 547.8 232.8 549.1 C232.3 550.4 231.3 551.8 230.2 553.1 C229.1 554.4 227.5 555.8 226.3 557.0 C225.1 558.2 223.7 559.3 223.0 560.3 C222.3 561.3 222.2 562.5 222.1 562.9Z" fill="#3a968f" stroke="#444" stroke-width="0.5" stroke-linejoin="round"/>
<path d="M222.1 518.9V562.9" stroke="#555" stroke-width="0.5"/>
<path d="M248.4 554.4 C247.7 554.9 246.1 556.6 244.7 557.7 C243.3 558.8 241.3 560.0 240.1 560.9 C238.8 561.9 237.2 562.8 237.1 563.6 C236.9 564.3 238.3 564.9 239.4 565.5 C240.6 566.2 242.7 566.9 244.0 567.5 C245.3 568.2 246.6 569.1 247.3 569.5 C248.0 569.9 248.2 570.0 248.4 570.1Z" fill="#ef6f69" stroke="#444" stroke-width="0.5" stroke-linejoin="round"/>
<path d="M248.4 543.9 C248.4 544.5 248.5 546.7 248.9 547.8 C249.2 548.9 250.0 549.7 250.6 550.4 C251.2 551.2 252.0 551.6 252.6 552.4 C253.1 553.2 253.2 554.2 253.9 555.0 C254.5 555.9 255.5 556.7 256.5 557.7 C257.5 558.7 259.5 560.1 259.8 560.9 C260.1 561.8 259.3 562.3 258.5 562.9 C257.6 563.6 255.8 564.2 254.5 564.9 C253.2 565.5 251.6 566.0 250.6 566.9 C249.6 567.7 248.7 569.6 248.4 570.1Z" fill="#3a968f" stroke="#444" stroke-width="0.5" stroke-linejoin="round"/>
<path d="M248.4 543.9V570.1" stroke="#555" stroke-width="0.5"/>
<path d="M274.2 559.6 C273.7 559.9 272.3 560.4 270.9 560.9 C269.6 561.5 267.7 562.4 266.4 562.9 C265.0 563.5 263.2 563.9 263.1 564.2 C263.0 564.6 264.6 564.8 265.7 565.2 C266.8 565.5 268.4 565.7 269.6 566.2 C270.8 566.7 272.2 567.6 272.9 568.2 C273.7 568.7 274.0 569.3 274.2 569.5Z" fill="#ef6f69" stroke="#444" stroke-width="0.5" stroke-linejoin="round"/>
<path d="M274.2 558.3 C274.5 558.9 274.8 560.9 275.5 561.6 C276.3 562.3 277.6 562.2 278.8 562.5 C280.0 562.8 281.7 563.0 282.8 563.3 C283.9 563.6 285.4 563.9 285.4 564.2 C285.4 564.5 283.9 564.9 282.8 565.2 C281.7 565.4 280.0 565.5 278.8 565.9 C277.6 566.3 276.3 567.0 275.5 567.5 C274.8 568.0 274.5 568.6 274.2 568.8Z" fill="#3a968f" stroke="#444" stroke-width="0.5" stroke-linejoin="round"/>
<path d="M274.2 558.3V569.5" stroke="#555" stroke-width="0.5"/>
<path d="M49.7 356.6V418.2H289.5" fill="none" stroke="#000" stroke-width="1.3"/>
<path d="M48.2 368.3H49.7" stroke="#111" stroke-width="0.8"/>
<text x="44.1" y="371.3" font-size="8.9" text-anchor="end" fill="#2a2a2a">1.0</text>
<path d="M48.2 383.9H49.7" stroke="#111" stroke-width="0.8"/>
<text x="44.1" y="386.9" font-size="8.9" text-anchor="end" fill="#2a2a2a">0.5</text>
<path d="M48.2 399.2H49.7" stroke="#111" stroke-width="0.8"/>
<text x="44.1" y="402.2" font-size="8.9" text-anchor="end" fill="#2a2a2a">-0.0</text>
<path d="M48.2 414.5H49.7" stroke="#111" stroke-width="0.8"/>
<text x="44.1" y="417.5" font-size="8.9" text-anchor="end" fill="#2a2a2a">-0.5</text>
<path d="M65.4 418.2V419.7" stroke="#111" stroke-width="0.8"/>
<path d="M91.4 418.2V419.7" stroke="#111" stroke-width="0.8"/>
<path d="M117.5 418.2V419.7" stroke="#111" stroke-width="0.8"/>
<path d="M143.5 418.2V419.7" stroke="#111" stroke-width="0.8"/>
<path d="M169.6 418.2V419.7" stroke="#111" stroke-width="0.8"/>
<path d="M195.6 418.2V419.7" stroke="#111" stroke-width="0.8"/>
<path d="M221.6 418.2V419.7" stroke="#111" stroke-width="0.8"/>
<path d="M247.7 418.2V419.7" stroke="#111" stroke-width="0.8"/>
<path d="M273.7 418.2V419.7" stroke="#111" stroke-width="0.8"/>
<text x="65.3" y="425.2" font-size="8.45" text-anchor="end" fill="#2a2a2a" transform="rotate(-45 65.3 425.2)">Mesenchymal</text>
<text x="91.3" y="425.2" font-size="8.45" text-anchor="end" fill="#2a2a2a" transform="rotate(-45 91.3 425.2)">Epithelial</text>
<text x="117.4" y="425.2" font-size="8.45" text-anchor="end" fill="#2a2a2a" transform="rotate(-45 117.4 425.2)">Endothelial</text>
<text x="143.4" y="425.2" font-size="8.45" text-anchor="end" fill="#2a2a2a" transform="rotate(-45 143.4 425.2)">Intermediate 1</text>
<text x="169.5" y="425.2" font-size="8.45" text-anchor="end" fill="#2a2a2a" transform="rotate(-45 169.5 425.2)">Intermediate 2</text>
<text x="195.5" y="425.2" font-size="8.45" text-anchor="end" fill="#2a2a2a" transform="rotate(-45 195.5 425.2)">Intermediate 3</text>
<text x="221.5" y="425.2" font-size="8.45" text-anchor="end" fill="#2a2a2a" transform="rotate(-45 221.5 425.2)">Intermediate 4</text>
<text x="247.6" y="425.2" font-size="8.45" text-anchor="end" fill="#2a2a2a" transform="rotate(-45 247.6 425.2)">Intermediate 5</text>
<text x="273.6" y="425.2" font-size="8.45" text-anchor="end" fill="#2a2a2a" transform="rotate(-45 273.6 425.2)">Other</text>
<path d="M51.3 515.5V577.2H290.6" fill="none" stroke="#000" stroke-width="1.3"/>
<path d="M49.8 527.9H51.3" stroke="#111" stroke-width="0.8"/>
<text x="48.7" y="530.9" font-size="8.9" text-anchor="end" fill="#2a2a2a">0.50</text>
<path d="M49.8 544.3H51.3" stroke="#111" stroke-width="0.8"/>
<text x="48.7" y="547.3" font-size="8.9" text-anchor="end" fill="#2a2a2a">0.25</text>
<path d="M49.8 560.6H51.3" stroke="#111" stroke-width="0.8"/>
<text x="48.7" y="563.6" font-size="8.9" text-anchor="end" fill="#2a2a2a">-0.00</text>
<path d="M49.8 577.0H51.3" stroke="#111" stroke-width="0.8"/>
<text x="48.7" y="580" font-size="8.9" text-anchor="end" fill="#2a2a2a">-0.25</text>
<path d="M66.6 577.2V578.7" stroke="#111" stroke-width="0.8"/>
<path d="M92.6 577.2V578.7" stroke="#111" stroke-width="0.8"/>
<path d="M118.6 577.2V578.7" stroke="#111" stroke-width="0.8"/>
<path d="M144.6 577.2V578.7" stroke="#111" stroke-width="0.8"/>
<path d="M170.6 577.2V578.7" stroke="#111" stroke-width="0.8"/>
<path d="M196.6 577.2V578.7" stroke="#111" stroke-width="0.8"/>
<path d="M222.6 577.2V578.7" stroke="#111" stroke-width="0.8"/>
<path d="M248.6 577.2V578.7" stroke="#111" stroke-width="0.8"/>
<path d="M274.6 577.2V578.7" stroke="#111" stroke-width="0.8"/>
<text x="66.5" y="584.2" font-size="8.45" text-anchor="end" fill="#2a2a2a" transform="rotate(-45 66.5 584.2)">Mesenchymal</text>
<text x="92.5" y="584.2" font-size="8.45" text-anchor="end" fill="#2a2a2a" transform="rotate(-45 92.5 584.2)">Epithelial</text>
<text x="118.5" y="584.2" font-size="8.45" text-anchor="end" fill="#2a2a2a" transform="rotate(-45 118.5 584.2)">Endothelial</text>
<text x="144.5" y="584.2" font-size="8.45" text-anchor="end" fill="#2a2a2a" transform="rotate(-45 144.5 584.2)">Intermediate 1</text>
<text x="170.5" y="584.2" font-size="8.45" text-anchor="end" fill="#2a2a2a" transform="rotate(-45 170.5 584.2)">Intermediate 2</text>
<text x="196.5" y="584.2" font-size="8.45" text-anchor="end" fill="#2a2a2a" transform="rotate(-45 196.5 584.2)">Intermediate 3</text>
<text x="222.5" y="584.2" font-size="8.45" text-anchor="end" fill="#2a2a2a" transform="rotate(-45 222.5 584.2)">Intermediate 4</text>
<text x="248.5" y="584.2" font-size="8.45" text-anchor="end" fill="#2a2a2a" transform="rotate(-45 248.5 584.2)">Intermediate 5</text>
<text x="274.5" y="584.2" font-size="8.45" text-anchor="end" fill="#2a2a2a" transform="rotate(-45 274.5 584.2)">Other</text>
<text x="0" y="0" font-size="9.1" text-anchor="middle" fill="#222" transform="translate(20.4 386.5) rotate(-90)">EMT Score</text>
<text x="0" y="0" font-size="8.9" text-anchor="middle" fill="#222" transform="translate(22 546.8) rotate(-90)">ECM Score</text>
<path d="M60.3 366.6H70.5" stroke="#222" stroke-width="1.5"/>
<text x="52.6" y="362.9" font-size="8.8" fill="#222">&lt; 0.0001</text>
<path d="M86.9 351.9H97.6" stroke="#222" stroke-width="1.5"/>
<text x="75.9" y="347.7" font-size="8.8" fill="#222">&lt; 0.0001</text>
<path d="M109.3 337.2H120.3" stroke="#222" stroke-width="1.5"/>
<text x="98.1" y="333.2" font-size="8.8" fill="#222">&lt; 0.0001</text>
<path d="M139.2 366.9H150.0" stroke="#222" stroke-width="1.5"/>
<text x="127" y="363" font-size="8.8" fill="#222">&lt; 0.0001</text>
<path d="M164.4 351.6H175.2" stroke="#222" stroke-width="1.5"/>
<text x="153.2" y="347.9" font-size="8.8" fill="#222">&lt; 0.0001</text>
<path d="M188.8 336.3H199.6" stroke="#222" stroke-width="1.5"/>
<text x="177.3" y="332.5" font-size="8.8" fill="#222">&lt; 0.0001</text>
<path d="M216.0 351.8H227.0" stroke="#222" stroke-width="1.5"/>
<text x="204.6" y="348.3" font-size="8.8" fill="#222">&lt; 0.0001</text>
<path d="M242.0 367.3H253.6" stroke="#222" stroke-width="1.5"/>
<text x="230.9" y="363.6" font-size="8.8" fill="#222">&lt; 0.0001</text>
<path d="M268.3 390.4H279.1" stroke="#222" stroke-width="1.5"/>
<text x="262.8" y="388.6" font-size="8.8" fill="#222">0.142</text>
<path d="M61.4 528.8H72.6" stroke="#222" stroke-width="1.5"/>
<text x="53.9" y="526.1" font-size="8.8" fill="#222">&lt; 0.0001</text>
<path d="M87.0 516.3H98.0" stroke="#222" stroke-width="1.5"/>
<text x="75.5" y="512.4" font-size="8.8" fill="#222">&lt; 0.0001</text>
<path d="M109.4 501.2H120.2" stroke="#222" stroke-width="1.5"/>
<text x="98" y="497.3" font-size="8.8" fill="#222">&lt; 0.0001</text>
<path d="M139.2 531.6H150.0" stroke="#222" stroke-width="1.5"/>
<text x="126.3" y="527.7" font-size="8.8" fill="#222">&lt; 0.0001</text>
<path d="M164.2 516.3H175.3" stroke="#222" stroke-width="1.5"/>
<text x="152.9" y="512.8" font-size="8.8" fill="#222">&lt; 0.0001</text>
<path d="M188.7 501.4H199.6" stroke="#222" stroke-width="1.5"/>
<text x="177.3" y="497.5" font-size="8.8" fill="#222">&lt; 0.0001</text>
<path d="M216.0 516.5H227.0" stroke="#222" stroke-width="1.5"/>
<text x="204.6" y="512.4" font-size="8.8" fill="#222">&lt; 0.0001</text>
<path d="M242.0 531.0H253.6" stroke="#222" stroke-width="1.5"/>
<text x="230.9" y="527.4" font-size="8.8" fill="#222">&lt; 0.0001</text>
<path d="M268.3 554.6H279.2" stroke="#222" stroke-width="1.5"/>
<text x="263.7" y="552" font-size="8.8" fill="#222">0.811</text>
<rect x="283.9" y="327.3" width="8.2" height="8.3" fill="#ef6f69" stroke="#555" stroke-width="0.5"/>
<rect x="283.9" y="335.6" width="8.2" height="8.3" fill="#3a968f" stroke="#555" stroke-width="0.5"/>
<text x="295.5" y="334.5" font-size="8.6" fill="#222">NC</text>
<text x="295.5" y="343.8" font-size="8.6" fill="#222">BA</text>
<rect x="284.0" y="493.2" width="8.2" height="8.3" fill="#ef6f69" stroke="#555" stroke-width="0.5"/>
<rect x="284.0" y="501.5" width="8.2" height="8.3" fill="#3a968f" stroke="#555" stroke-width="0.5"/>
<text x="295.6" y="500.4" font-size="8.6" fill="#222">NC</text>
<text x="295.6" y="509.7" font-size="8.6" fill="#222">BA</text>
<text x="337.5" y="305.4" font-size="16" font-weight="bold" fill="#000">c</text>
<text x="348.7" y="319.7" font-size="13.5" fill="#1a1a1a">Correlation between</text>
<text x="348.7" y="335.9" font-size="13.5" fill="#1a1a1a">ECM and EMT scores</text>
<path d="M407.4 368.1V524.7M364.9 461.9H490.1" stroke="#111" stroke-width="1.5" fill="none"/>
<path d="M404.7 368.0H410" stroke="#111" stroke-width="1.5"/>
<path d="M404.7 399.3H410" stroke="#111" stroke-width="1.5"/>
<path d="M404.7 430.6H410" stroke="#111" stroke-width="1.5"/>
<path d="M404.7 493.2H410" stroke="#111" stroke-width="1.5"/>
<path d="M404.7 524.5H410" stroke="#111" stroke-width="1.5"/>
<path d="M366.1 459.3V464.5" stroke="#111" stroke-width="1.5"/>
<path d="M448.6 459.3V464.5" stroke="#111" stroke-width="1.5"/>
<path d="M489.9 459.3V464.5" stroke="#111" stroke-width="1.5"/>
<clipPath id="mainclip"><rect x="362" y="364" width="130" height="162"/></clipPath>
<g clip-path="url(#mainclip)">
<path d="M387.7 492.8 C387.3 491.2 388.9 485.9 389.9 482.5 C390.8 479.0 392.1 475.5 393.4 472.0 C394.7 468.6 396.2 464.8 397.6 461.6 C399.0 458.3 400.3 455.3 401.8 452.5 C403.2 449.8 405.1 447.2 406.5 444.9 C407.8 442.6 408.3 440.6 409.7 438.8 C411.1 437.0 412.8 435.2 414.9 434.1 C416.9 433.0 419.5 432.7 421.9 432.1 C424.2 431.4 426.1 431.0 428.9 430.1 C431.8 429.1 436.4 427.4 438.9 426.4 C441.4 425.3 442.8 423.9 443.9 423.8 C444.9 423.7 445.6 424.3 445.1 425.9 C444.6 427.5 442.5 430.9 441.1 433.5 C439.6 436.0 437.9 438.8 436.4 441.1 C434.8 443.4 433.3 445.2 431.8 447.3 C430.3 449.3 428.7 451.6 427.2 453.4 C425.7 455.2 424.2 456.3 422.7 458.1 C421.2 459.9 419.6 462.5 418.1 464.3 C416.6 466.1 415.1 467.2 413.6 469.0 C412.1 470.8 410.5 473.1 409.0 475.2 C407.5 477.2 406.2 479.3 404.4 481.3 C402.7 483.4 400.4 485.8 398.4 487.6 C396.5 489.5 394.3 491.6 392.6 492.4 C390.8 493.3 388.2 494.5 387.7 492.8Z" fill="#6cc3ea"/>
<path d="M413.6 464.5h.1M396.1 475.9h.1M401.1 479.7h.1M391.3 477.5h.1M435.0 442.5h.1M425.5 437.8h.1M404.3 450.5h.1M415.1 445.9h.1M407.9 452.6h.1M411.3 470.7h.1M423.1 452.8h.1M417.9 459.0h.1M410.1 455.9h.1M430.2 435.3h.1M391.6 482.8h.1M408.3 448.5h.1M400.9 476.7h.1M404.5 463.6h.1M427.7 430.3h.1M427.6 440.7h.1M426.4 445.7h.1M407.6 457.3h.1M393.3 480.0h.1M419.8 446.8h.1M416.2 441.6h.1M413.7 438.4h.1M408.3 468.3h.1M403.2 461.2h.1M401.2 456.2h.1M391.6 480.2h.1M406.4 446.0h.1M405.2 451.4h.1M403.7 472.8h.1M396.0 469.1h.1M404.0 481.9h.1M414.6 462.4h.1M428.0 445.0h.1M418.8 457.6h.1M407.6 441.7h.1M429.5 439.7h.1M409.0 453.3h.1M422.5 437.6h.1M414.6 439.3h.1M392.5 490.5h.1M396.4 466.8h.1M411.9 448.2h.1M430.0 428.4h.1M432.8 441.9h.1M405.4 456.4h.1M419.9 450.3h.1M404.9 471.8h.1M394.2 474.8h.1M391.8 481.6h.1M401.1 460.7h.1M432.6 442.8h.1M438.7 428.1h.1M416.8 464.4h.1M402.5 458.6h.1" stroke="#5bc0eb" stroke-width="1.6" stroke-linecap="round" fill="none"/>
<path d="M417.1 465.0h.1M394.6 468.9h.1M420.1 444.3h.1M416.3 440.9h.1M424.4 454.9h.1M400.0 486.3h.1M400.3 481.6h.1M399.0 468.2h.1M417.7 435.7h.1M416.5 459.2h.1M419.9 458.6h.1M435.0 428.9h.1M422.4 455.3h.1M402.8 451.4h.1M421.4 456.7h.1M410.4 450.2h.1M410.5 446.4h.1M416.1 438.6h.1M415.2 455.4h.1M420.2 456.5h.1M428.6 446.6h.1M395.4 473.2h.1M400.3 464.2h.1M428.1 433.2h.1M405.2 452.9h.1M415.6 434.9h.1M402.3 468.5h.1M395.9 487.6h.1M400.4 465.4h.1M397.6 472.7h.1M406.4 473.1h.1M393.0 485.4h.1M411.8 448.7h.1M408.0 452.9h.1M439.7 425.8h.1M409.2 443.7h.1M406.4 477.2h.1M409.8 444.2h.1M398.1 483.4h.1M420.2 438.1h.1M410.0 445.9h.1M415.1 463.7h.1M402.8 479.6h.1M399.6 466.9h.1M410.3 454.3h.1M394.7 484.9h.1M398.4 469.0h.1M418.0 455.5h.1M410.5 442.9h.1M409.3 445.4h.1M391.6 491.7h.1M396.1 465.3h.1M410.4 471.9h.1M421.3 430.0h.1M392.7 486.1h.1M417.5 439.6h.1M406.9 446.6h.1" stroke="#f0b62a" stroke-width="1.6" stroke-linecap="round" fill="none"/>
<path d="M392.6 480.5h.1M434.6 444.9h.1M398.9 473.6h.1M405.6 470.4h.1M426.8 437.8h.1M433.5 429.8h.1M421.5 439.9h.1M439.4 432.7h.1M400.4 466.5h.1M420.2 434.5h.1M406.3 456.1h.1M389.9 488.1h.1M413.4 443.8h.1M409.3 456.2h.1M428.4 445.0h.1M400.1 461.4h.1M415.1 459.5h.1M391.9 488.8h.1M440.7 431.3h.1M388.8 492.1h.1M435.2 429.8h.1M421.2 437.9h.1M434.8 435.4h.1M413.4 452.3h.1M400.2 474.3h.1M397.8 468.9h.1M393.1 493.3h.1M445.1 428.2h.1M411.5 453.8h.1M444.6 425.8h.1M399.0 462.1h.1M408.0 475.3h.1M437.8 440.9h.1M410.4 450.3h.1M406.9 447.3h.1M391.8 474.7h.1M420.0 454.1h.1M403.1 450.8h.1M416.0 450.4h.1M410.0 448.2h.1M400.2 483.6h.1M393.2 480.9h.1M413.4 460.2h.1M400.8 470.3h.1M407.9 472.2h.1M409.8 474.0h.1M401.3 480.6h.1M435.9 430.7h.1M431.9 442.2h.1M416.1 440.2h.1M440.0 429.0h.1M408.9 464.6h.1M414.7 468.2h.1M427.9 449.7h.1M401.0 456.0h.1M417.7 448.0h.1M402.5 463.7h.1" stroke="#4a90d9" stroke-width="1.6" stroke-linecap="round" fill="none"/>
<path d="M413.7 441.5h.1M401.2 465.7h.1M422.7 443.4h.1M407.5 470.9h.1M414.8 436.7h.1M434.7 435.2h.1M418.7 458.5h.1M426.5 446.2h.1M435.8 440.5h.1M440.8 429.7h.1M427.1 447.1h.1M408.9 442.8h.1M420.2 452.7h.1M432.2 437.7h.1M434.4 430.9h.1M398.3 474.2h.1M431.8 435.1h.1M419.7 459.0h.1M435.2 439.1h.1M432.2 438.7h.1M410.6 447.7h.1M408.7 455.5h.1M427.0 445.5h.1M410.0 456.4h.1M392.7 479.3h.1M400.4 484.3h.1M410.3 459.6h.1M417.6 436.7h.1M403.3 478.9h.1M438.4 435.3h.1M404.9 453.2h.1M410.3 440.9h.1M399.8 470.5h.1M422.8 458.3h.1M426.9 440.9h.1M395.4 482.4h.1M425.5 440.5h.1M434.9 432.9h.1M429.4 436.2h.1M407.6 468.6h.1M406.5 475.8h.1M426.4 453.7h.1M438.9 438.1h.1M407.6 446.1h.1M400.3 463.4h.1M426.2 448.4h.1M418.7 460.7h.1M437.1 436.0h.1M409.2 453.9h.1M443.3 424.8h.1M412.9 453.5h.1M421.5 456.8h.1M415.5 437.8h.1M428.9 441.9h.1M408.7 473.5h.1M416.2 436.7h.1M418.4 444.4h.1" stroke="#1b2a6b" stroke-width="1.6" stroke-linecap="round" fill="none"/>
<path d="M432.7 441.2h.1M409.5 453.4h.1M421.0 432.6h.1M422.4 444.6h.1M429.6 437.0h.1M442.7 430.5h.1M420.1 456.7h.1M409.0 466.7h.1M437.8 433.3h.1M390.8 489.2h.1M418.1 452.0h.1M404.8 471.7h.1M430.1 440.9h.1M412.1 443.9h.1M400.5 468.9h.1M416.8 462.0h.1M400.9 474.0h.1M425.0 440.9h.1M419.2 460.2h.1M423.2 442.6h.1M410.5 473.7h.1M396.2 486.5h.1M409.8 464.9h.1M418.5 460.6h.1M409.7 448.7h.1M428.1 446.3h.1M421.3 444.8h.1M409.2 467.5h.1M392.0 485.5h.1M409.8 444.6h.1M437.7 437.1h.1M405.9 453.4h.1M412.8 450.4h.1M402.2 470.8h.1M410.5 441.9h.1M438.1 427.7h.1M427.2 453.6h.1M419.1 432.7h.1M408.2 476.0h.1M410.3 441.0h.1M428.4 436.1h.1M411.0 438.8h.1M402.5 470.4h.1M424.4 443.1h.1M412.1 442.5h.1M415.5 447.5h.1M395.1 478.2h.1M412.8 467.0h.1M415.3 448.6h.1M409.1 466.4h.1M394.3 481.5h.1M427.6 440.7h.1M430.1 431.9h.1M418.6 441.0h.1M420.6 447.3h.1M414.1 462.5h.1M401.6 486.0h.1" stroke="#d42a20" stroke-width="1.6" stroke-linecap="round" fill="none"/>
<path d="M434.9 436.9h.1M389.0 491.7h.1M408.5 473.1h.1M414.6 442.5h.1M438.5 429.5h.1M399.7 459.8h.1M419.2 452.6h.1M394.5 474.4h.1M402.1 473.6h.1M407.2 455.8h.1M443.2 424.6h.1M396.6 478.0h.1M395.2 483.9h.1M407.6 461.8h.1M408.8 475.3h.1M395.2 474.4h.1M422.4 440.6h.1M401.9 460.5h.1M396.0 482.2h.1M407.8 459.2h.1M407.2 467.8h.1M418.5 461.5h.1M420.2 435.8h.1M431.2 446.8h.1M388.8 485.1h.1M428.6 432.3h.1M403.1 479.3h.1M431.4 436.1h.1M432.8 437.8h.1M388.8 491.9h.1M427.2 449.8h.1M419.4 431.6h.1M405.7 458.3h.1M406.8 464.4h.1M407.2 473.7h.1M403.8 459.0h.1M423.9 451.4h.1M423.2 441.6h.1M405.9 458.0h.1M431.9 437.4h.1M404.0 471.3h.1M423.9 455.7h.1M401.2 478.8h.1M427.5 449.1h.1M404.4 471.1h.1M415.9 445.4h.1M404.7 459.3h.1M397.2 480.4h.1M413.1 454.2h.1M409.2 445.1h.1M395.8 483.2h.1M402.7 472.5h.1M436.0 430.0h.1M403.1 458.4h.1M393.2 488.4h.1M408.4 470.4h.1M402.4 457.1h.1" stroke="#5bc0eb" stroke-width="1.6" stroke-linecap="round" fill="none"/>
<path d="M419.8 455.4h.1M400.8 473.0h.1M425.8 449.6h.1M405.1 478.8h.1M409.4 461.8h.1M405.1 471.5h.1M403.9 457.9h.1M417.4 453.3h.1M434.8 431.7h.1M418.5 454.4h.1M403.4 452.1h.1M390.9 486.3h.1M410.5 442.2h.1M411.3 450.8h.1M406.1 448.5h.1M424.3 441.4h.1M396.7 473.9h.1M398.3 477.4h.1M409.7 470.8h.1M410.8 469.4h.1M397.0 475.3h.1M420.6 442.8h.1M418.4 442.4h.1M415.5 451.1h.1M404.8 459.8h.1M428.1 435.0h.1M431.2 440.0h.1M422.2 438.4h.1M402.7 465.7h.1M416.4 439.9h.1M428.5 442.3h.1M428.2 442.9h.1M409.1 457.3h.1M412.6 451.7h.1M398.6 467.4h.1M429.2 441.9h.1M403.6 475.5h.1M399.9 457.6h.1M442.6 425.2h.1M427.4 436.4h.1M423.8 449.5h.1M429.2 445.2h.1M432.9 433.7h.1M405.2 452.7h.1M423.7 440.8h.1M410.1 468.4h.1M415.3 442.9h.1M392.2 487.6h.1M390.8 481.6h.1M404.8 457.9h.1M411.5 450.6h.1M420.0 439.4h.1M430.9 437.9h.1M437.3 436.1h.1M439.5 430.8h.1M440.5 430.2h.1M400.8 469.3h.1" stroke="#eded3a" stroke-width="1.6" stroke-linecap="round" fill="none"/>
<path d="M410.4 468.2h.1M424.8 427.0h.1M432.2 436.8h.1M411.3 464.3h.1M413.5 455.6h.1M403.9 477.2h.1M421.6 433.5h.1M436.5 430.0h.1M419.4 431.6h.1M403.5 463.6h.1M406.2 463.8h.1M424.2 422.7h.1M426.0 444.6h.1M417.1 432.7h.1M404.4 462.3h.1M418.6 456.9h.1M409.2 473.1h.1M430.2 427.0h.1M441.0 409.8h.1M438.9 406.4h.1M432.5 433.7h.1M450.2 400.8h.1M407.0 479.3h.1M398.7 464.8h.1M407.6 446.4h.1M432.5 415.5h.1M441.9 415.7h.1M440.4 402.5h.1M433.0 411.6h.1M427.0 419.5h.1M420.6 428.4h.1M447.9 412.8h.1M436.4 415.8h.1M438.7 427.6h.1M428.6 438.2h.1M432.3 443.4h.1M434.9 417.6h.1M449.9 401.0h.1M413.3 444.7h.1M411.6 462.4h.1M411.3 463.2h.1M430.2 435.9h.1M420.4 449.1h.1M438.0 399.9h.1M441.1 415.5h.1M397.7 463.4h.1M445.2 403.1h.1M411.0 474.0h.1M409.2 449.1h.1M394.1 478.9h.1M457.9 390.8h.1M429.5 418.2h.1M412.4 445.6h.1M441.9 420.5h.1M422.4 439.3h.1M412.7 436.0h.1M441.5 420.4h.1M400.8 471.7h.1M405.2 466.5h.1M397.0 477.3h.1M417.7 434.9h.1M445.7 416.8h.1M409.9 441.1h.1" stroke="#1b2a6b" stroke-width="1.6" stroke-linecap="round" fill="none"/>
<path d="M434.5 433.0h.1M424.5 419.8h.1M433.6 433.3h.1M433.4 420.6h.1M392.4 471.0h.1M431.0 417.0h.1M428.2 411.3h.1M427.1 446.8h.1M421.5 422.9h.1M445.5 411.5h.1M417.9 442.3h.1M419.6 436.7h.1M395.1 464.0h.1M421.7 447.0h.1M440.0 434.1h.1M433.0 420.8h.1M454.3 395.5h.1M415.4 467.9h.1M418.1 448.5h.1M407.6 441.5h.1M446.7 405.6h.1M405.2 450.3h.1M430.2 410.1h.1M440.0 405.5h.1M423.2 431.5h.1M421.0 461.9h.1M430.1 442.7h.1M392.1 478.2h.1M415.8 429.9h.1M404.9 461.9h.1M428.2 439.7h.1M404.2 460.3h.1M427.7 423.0h.1M441.8 399.1h.1M429.7 433.5h.1M428.7 428.7h.1M425.5 440.5h.1M411.3 441.5h.1M436.8 400.0h.1M418.1 435.1h.1M442.5 401.5h.1M419.3 456.3h.1M418.9 455.8h.1M430.5 434.5h.1M401.9 471.2h.1M444.0 411.5h.1M434.4 431.2h.1M430.0 445.3h.1M407.6 464.9h.1M458.9 392.5h.1M396.2 485.1h.1M426.9 452.4h.1M395.2 480.2h.1M425.9 442.6h.1M454.2 391.9h.1M454.8 388.7h.1M421.8 447.4h.1M441.2 422.5h.1M415.4 449.1h.1M427.0 427.3h.1M397.1 480.7h.1M408.6 467.3h.1M432.4 433.5h.1" stroke="#1b2a6b" stroke-width="1.6" stroke-linecap="round" fill="none"/>
<path d="M407.4 450.6h.1M457.8 385.4h.1M401.9 452.2h.1M417.3 453.8h.1M453.1 392.5h.1M394.1 474.8h.1M443.3 417.6h.1M394.7 473.3h.1M420.4 457.9h.1M448.9 397.9h.1M418.1 446.3h.1M426.8 417.7h.1M443.9 412.3h.1M421.5 455.6h.1M410.7 454.0h.1M409.4 450.7h.1M392.9 478.6h.1M424.0 427.6h.1M408.6 475.9h.1M397.9 484.8h.1M407.7 450.1h.1M409.0 447.7h.1M436.2 416.5h.1M427.7 437.2h.1M399.2 470.5h.1M401.0 465.2h.1M436.7 429.3h.1M434.2 431.9h.1M432.0 409.0h.1M415.4 458.3h.1M426.0 444.1h.1M417.6 442.2h.1M441.4 411.4h.1M403.4 468.6h.1M434.7 425.6h.1M422.0 427.3h.1M441.2 411.5h.1M404.1 469.4h.1M438.6 396.7h.1M403.6 450.3h.1M427.2 421.8h.1M396.0 463.1h.1M412.1 455.3h.1M424.4 425.3h.1M438.2 403.8h.1M393.2 478.7h.1M414.2 466.9h.1M423.1 416.7h.1M433.8 426.2h.1M420.4 452.8h.1M428.9 426.9h.1M430.9 408.8h.1M412.7 464.1h.1M411.3 459.6h.1M461.1 390.6h.1M402.5 459.3h.1M452.4 398.0h.1M433.8 407.1h.1M406.2 465.4h.1M411.0 473.3h.1M433.1 427.8h.1M439.6 422.6h.1" stroke="#f0b62a" stroke-width="1.6" stroke-linecap="round" fill="none"/>
<path d="M424.8 439.2h.1M398.9 467.5h.1M394.2 485.1h.1M414.5 454.4h.1M406.6 464.9h.1M425.4 428.6h.1M394.3 481.2h.1M405.7 451.6h.1M440.0 418.6h.1M405.8 481.2h.1M440.1 418.4h.1M436.9 430.5h.1M404.7 457.5h.1M431.9 420.5h.1M438.6 424.8h.1M411.6 453.2h.1M410.4 464.8h.1M440.3 405.7h.1M428.6 444.2h.1M399.1 463.0h.1M427.7 423.7h.1M408.9 465.8h.1M429.9 410.6h.1M433.3 444.0h.1M434.2 433.2h.1M434.8 442.3h.1M451.5 399.6h.1M421.2 444.1h.1M432.0 434.4h.1M405.4 477.1h.1M446.3 410.7h.1M447.2 408.9h.1M430.1 429.1h.1M441.6 406.9h.1M435.4 412.8h.1M419.0 430.3h.1M409.3 454.0h.1M421.3 432.3h.1M395.8 469.1h.1M455.6 390.0h.1M391.6 483.6h.1M390.8 488.2h.1M417.4 439.1h.1M419.3 431.0h.1M458.5 385.5h.1M420.4 432.4h.1M429.7 418.9h.1M423.9 422.8h.1M425.4 420.5h.1M412.2 455.4h.1M439.0 426.0h.1M447.6 404.8h.1M445.9 420.3h.1M418.1 455.4h.1M430.1 417.0h.1M450.8 395.4h.1M395.4 479.6h.1M422.9 440.0h.1M394.3 484.1h.1M437.4 405.2h.1M424.2 439.9h.1M440.3 420.6h.1" stroke="#4a90d9" stroke-width="1.6" stroke-linecap="round" fill="none"/>
<path d="M388.8 486.9 C388.6 484.7 390.5 480.9 391.4 477.9 C392.4 474.9 393.5 472.1 394.7 468.8 C396.0 465.6 397.4 461.5 398.9 458.3 C400.3 455.0 402.0 451.9 403.6 449.1 C405.2 446.3 406.7 443.6 408.3 441.5 C409.8 439.3 411.1 437.5 412.8 436.0 C414.6 434.6 416.6 433.5 418.7 432.8 C420.9 432.1 424.4 431.4 426.0 431.7 C427.5 432.0 428.3 432.8 428.0 434.5 C427.6 436.3 425.5 439.6 424.0 442.2 C422.6 444.7 420.8 447.5 419.3 449.8 C417.9 452.1 416.8 453.6 415.5 455.9 C414.1 458.2 412.8 461.2 411.5 463.5 C410.2 465.8 409.0 467.4 407.6 469.7 C406.2 472.0 404.6 474.8 402.9 477.3 C401.3 479.9 399.2 482.7 397.5 485.0 C395.9 487.3 394.4 490.8 392.9 491.2 C391.5 491.5 389.1 489.1 388.8 486.9Z" fill="#5bc0eb"/>
<path d="M409.6 463.4h.1M409.0 448.1h.1M408.2 458.4h.1M409.6 457.6h.1M406.9 448.2h.1M393.0 486.0h.1M417.1 450.1h.1M390.5 484.3h.1M413.9 452.7h.1M405.1 455.5h.1M418.9 437.1h.1M419.4 439.5h.1M410.3 441.8h.1M399.4 472.6h.1M413.1 453.0h.1M407.9 445.3h.1M410.7 449.7h.1M420.7 448.5h.1M411.9 452.6h.1M403.3 471.9h.1M418.5 435.5h.1M402.6 452.3h.1M412.9 445.2h.1M403.2 454.9h.1M395.2 471.3h.1M397.4 468.9h.1M412.8 463.4h.1M409.7 454.2h.1M403.8 458.5h.1M395.1 475.8h.1M416.0 453.6h.1M400.9 469.2h.1M418.5 443.1h.1M397.9 476.7h.1M399.7 464.6h.1M396.1 470.6h.1M390.7 481.5h.1M398.7 480.4h.1M393.8 477.6h.1M422.6 433.2h.1M409.4 460.3h.1M398.4 476.7h.1M417.2 437.3h.1M412.3 436.5h.1M415.6 446.9h.1M402.2 473.6h.1M415.8 439.2h.1M399.9 476.4h.1M398.8 471.4h.1M395.3 469.7h.1M395.8 479.4h.1M395.9 471.9h.1M418.1 440.9h.1M404.8 454.4h.1M400.6 477.8h.1M421.5 432.9h.1M394.1 491.5h.1M411.3 446.4h.1M404.8 459.8h.1M417.2 435.4h.1M413.5 442.8h.1M401.3 479.7h.1M408.0 461.5h.1M397.1 483.0h.1M403.0 453.1h.1M422.4 444.6h.1M404.7 471.7h.1M410.2 444.0h.1M397.4 477.4h.1M408.8 447.4h.1M407.9 465.5h.1M408.9 465.1h.1M414.4 448.0h.1M425.1 432.4h.1M399.9 461.1h.1M391.2 487.7h.1M394.7 472.5h.1M407.2 467.8h.1M406.9 458.0h.1M405.5 464.8h.1M413.2 440.2h.1M413.8 446.3h.1M393.5 485.2h.1M411.6 456.8h.1M417.2 433.7h.1M410.0 458.7h.1M398.6 465.7h.1M406.8 458.9h.1M408.8 443.6h.1M421.5 444.8h.1M406.1 473.1h.1M417.2 445.8h.1M414.8 442.3h.1M401.8 467.2h.1M420.8 432.4h.1M417.0 437.5h.1M410.3 468.3h.1M421.0 435.9h.1M402.7 466.4h.1M408.1 458.5h.1M403.4 462.1h.1M391.7 486.6h.1M416.9 442.5h.1M405.3 464.8h.1M417.6 446.3h.1M408.9 449.6h.1M410.9 447.9h.1M398.9 479.1h.1M424.5 434.3h.1M411.3 448.6h.1M403.7 457.3h.1M422.9 437.5h.1M420.2 445.2h.1M417.5 442.6h.1M407.1 462.4h.1M397.8 469.4h.1M391.3 483.6h.1M401.8 474.9h.1M411.3 438.8h.1M393.6 482.9h.1M406.2 451.8h.1M414.8 437.8h.1M404.1 454.4h.1M399.3 460.5h.1M410.1 460.6h.1M405.6 473.2h.1M399.6 463.4h.1M399.2 479.9h.1M401.6 471.2h.1M398.6 469.9h.1M390.1 485.8h.1M426.7 436.7h.1M408.0 459.3h.1M412.7 437.7h.1M405.0 473.9h.1M418.2 442.3h.1M404.7 465.1h.1M399.3 482.3h.1M407.3 458.7h.1M401.6 472.6h.1M408.6 464.9h.1M409.4 444.6h.1M407.7 453.4h.1M418.8 450.1h.1M402.2 452.7h.1M396.3 476.4h.1M403.3 470.3h.1M416.2 442.1h.1M400.2 465.2h.1M420.6 443.1h.1" stroke="#5bc0eb" stroke-width="1.6" stroke-linecap="round" fill="none"/>
<path d="M404.9 465.3h.1M413.7 435.4h.1M412.4 449.1h.1M409.7 453.9h.1M405.5 447.8h.1M410.0 449.2h.1M424.9 433.7h.1M414.7 444.9h.1M408.9 448.6h.1M414.7 445.5h.1M392.2 484.4h.1M396.7 474.2h.1M389.1 486.6h.1M418.4 439.3h.1M416.8 440.3h.1M394.6 482.3h.1M415.7 456.4h.1M391.5 480.7h.1M409.6 449.4h.1M415.5 453.6h.1M419.3 443.1h.1M393.6 483.7h.1M409.9 458.6h.1M415.6 439.3h.1M409.3 440.5h.1M399.6 463.2h.1M397.7 474.0h.1M393.2 484.3h.1M403.3 459.8h.1M410.0 464.1h.1M396.9 467.3h.1M408.3 461.8h.1M415.8 442.5h.1M411.9 441.0h.1M411.8 440.6h.1M399.8 471.4h.1M402.7 468.2h.1M413.0 442.2h.1M421.1 439.4h.1M396.7 472.7h.1M413.2 447.5h.1M397.2 460.2h.1M407.3 440.8h.1M409.5 448.7h.1M397.0 478.8h.1M393.0 481.4h.1M407.3 461.2h.1M397.9 479.7h.1M404.8 472.5h.1M401.1 459.0h.1M415.4 437.4h.1M409.2 454.0h.1M403.9 464.3h.1M393.8 468.1h.1M393.9 484.5h.1M405.9 463.6h.1M407.7 460.1h.1M391.0 486.3h.1M407.3 457.5h.1M407.4 458.0h.1M413.9 459.7h.1M408.8 451.5h.1M391.6 480.9h.1M409.6 456.0h.1M400.7 471.4h.1M396.1 463.5h.1M417.2 453.6h.1M401.1 460.7h.1M400.5 457.1h.1M397.9 479.1h.1M392.5 474.4h.1M401.7 466.0h.1M403.8 460.6h.1M396.2 469.8h.1M406.9 456.1h.1M408.2 448.8h.1M420.1 441.6h.1M424.7 436.2h.1M412.8 452.6h.1M403.9 461.2h.1M416.2 447.6h.1M408.5 450.4h.1M415.4 439.3h.1M395.6 489.4h.1M396.4 479.5h.1M423.5 432.5h.1M423.2 434.3h.1M403.6 460.5h.1M395.3 483.3h.1M419.9 442.7h.1M397.2 468.0h.1M411.1 462.8h.1M407.1 469.9h.1M419.0 444.4h.1M413.5 436.5h.1M418.3 449.7h.1M406.3 455.2h.1M407.8 462.0h.1M404.4 455.0h.1M415.4 437.2h.1M409.7 451.7h.1M423.6 433.3h.1M423.2 442.8h.1M391.1 485.0h.1M423.2 440.2h.1M410.0 445.3h.1M413.4 447.5h.1M400.3 463.0h.1M413.8 441.5h.1M408.9 463.3h.1M411.6 450.5h.1M395.4 466.4h.1M422.9 442.7h.1M393.0 481.1h.1M417.2 446.3h.1M403.0 460.7h.1M393.7 479.2h.1M397.4 476.8h.1M409.9 457.4h.1M407.8 465.0h.1M405.3 444.0h.1M396.6 478.1h.1M405.7 467.2h.1M409.2 464.1h.1M418.7 447.8h.1M402.8 458.8h.1M406.1 451.7h.1M398.5 467.3h.1M418.8 439.4h.1M409.7 450.7h.1M404.7 468.6h.1M411.0 441.7h.1M393.3 468.4h.1M409.2 440.9h.1M408.7 450.7h.1M421.1 434.7h.1M419.7 435.7h.1M410.5 441.9h.1M413.5 444.4h.1M410.7 457.5h.1M419.4 439.8h.1M398.1 473.2h.1M414.6 453.8h.1M413.5 457.2h.1M401.5 474.4h.1M424.6 440.2h.1M419.7 445.5h.1M400.2 466.5h.1M409.2 461.6h.1M413.6 443.7h.1" stroke="#4db6e6" stroke-width="1.6" stroke-linecap="round" fill="none"/>
<path d="M391.2 484.7h.1M398.8 457.3h.1M393.7 468.9h.1M403.0 447.4h.1M390.9 482.3h.1M400.8 447.4h.1M403.0 446.7h.1M391.2 486.0h.1M388.5 485.7h.1M391.2 478.1h.1M400.8 454.7h.1M406.0 442.3h.1M393.1 468.0h.1M404.3 445.3h.1M388.1 481.5h.1M396.8 465.0h.1M393.4 467.5h.1M393.5 468.6h.1M391.0 487.8h.1M402.4 452.5h.1M405.0 445.3h.1M391.2 479.9h.1M401.9 449.4h.1M393.0 484.5h.1M401.2 456.0h.1M393.5 471.0h.1M392.0 486.1h.1M405.3 442.2h.1" stroke="#3cb44b" stroke-width="1.8" stroke-linecap="round" fill="none"/>
<path d="M390.1 478.8h.1M389.2 483.0h.1M391.0 484.9h.1M390.4 489.9h.1M392.0 483.3h.1M391.0 476.3h.1M392.6 475.9h.1M392.0 466.3h.1M393.4 469.5h.1M395.4 467.4h.1M394.7 465.6h.1M394.4 473.9h.1M389.4 492.0h.1M392.3 476.1h.1M390.8 477.0h.1M391.0 488.7h.1M390.0 487.5h.1M401.0 450.1h.1M391.0 488.6h.1M400.0 454.1h.1M392.6 480.6h.1M391.7 487.4h.1M390.8 477.3h.1M398.6 453.6h.1M392.5 478.6h.1M386.9 487.3h.1M399.4 449.2h.1M403.8 446.7h.1" stroke="#56c25a" stroke-width="1.8" stroke-linecap="round" fill="none"/>
<path d="M388.9 489.5h.1M401.7 446.9h.1M392.7 472.8h.1M398.9 456.3h.1M390.4 479.6h.1M391.7 483.6h.1M388.3 493.2h.1M394.0 467.0h.1M399.0 462.8h.1M389.0 488.4h.1M393.9 476.3h.1M391.7 469.2h.1M388.9 487.5h.1M391.6 476.3h.1M399.2 458.5h.1M394.0 473.2h.1M389.2 483.4h.1M395.7 461.2h.1M395.7 461.7h.1M391.0 493.9h.1M398.9 455.2h.1M395.9 460.0h.1M394.4 466.5h.1M390.3 482.4h.1M396.1 464.3h.1M392.9 472.4h.1M394.9 470.0h.1" stroke="#8fd14f" stroke-width="1.8" stroke-linecap="round" fill="none"/>
<path d="M396.6 464.9h.1M403.8 444.3h.1M394.2 478.2h.1M398.0 457.0h.1M390.0 493.3h.1M389.2 486.9h.1M392.3 482.8h.1M394.7 464.4h.1M395.0 462.4h.1M390.9 477.2h.1M394.6 477.1h.1M390.1 480.2h.1M397.6 458.6h.1M389.7 492.6h.1M391.4 474.2h.1M403.6 444.1h.1M391.3 485.6h.1M388.3 492.1h.1M390.6 482.0h.1M393.4 471.8h.1M397.6 460.1h.1M394.9 468.8h.1M390.2 477.8h.1M392.7 491.4h.1M392.4 470.0h.1M395.2 470.3h.1M390.9 489.7h.1" stroke="#3cb44b" stroke-width="1.8" stroke-linecap="round" fill="none"/>
<path d="M393.6 490.3h.1M390.3 493.3h.1M393.9 486.9h.1M390.1 494.2h.1M390.1 483.7h.1M388.2 492.1h.1M394.7 481.4h.1M390.2 490.8h.1M388.9 490.8h.1M396.0 480.3h.1M390.9 485.5h.1M389.1 484.9h.1M391.9 483.2h.1M389.1 493.8h.1M393.8 481.1h.1M391.5 486.7h.1M391.6 482.9h.1M390.8 486.9h.1M391.0 489.2h.1M392.4 483.8h.1M392.5 482.1h.1M388.7 486.0h.1M393.1 484.0h.1M391.4 486.3h.1M392.4 488.7h.1M389.8 490.9h.1M393.8 490.1h.1M392.5 487.2h.1M389.5 491.8h.1M391.5 485.7h.1" stroke="#3cb44b" stroke-width="1.8" stroke-linecap="round" fill="none"/>
<path d="M395.1 487.5h.1M391.4 486.3h.1M393.5 486.9h.1M390.4 488.1h.1M393.2 483.3h.1M388.5 491.6h.1M396.9 483.7h.1M391.0 492.5h.1M388.7 489.2h.1M391.3 487.5h.1M394.9 483.5h.1M392.1 484.2h.1M391.1 492.8h.1M390.2 488.7h.1M393.0 484.1h.1M392.8 482.8h.1M388.9 489.6h.1M391.2 483.0h.1M393.9 480.3h.1M394.7 483.1h.1M393.3 485.9h.1M394.0 483.2h.1M387.6 493.9h.1M391.4 489.7h.1M394.8 484.8h.1M389.1 486.3h.1M396.6 484.8h.1M392.6 486.7h.1M394.0 492.4h.1M392.7 487.5h.1" stroke="#56c25a" stroke-width="1.8" stroke-linecap="round" fill="none"/>
<path d="M401.2 486.0h.1M398.4 488.1h.1M406.0 485.9h.1M398.0 487.0h.1M404.9 477.5h.1M401.9 487.4h.1M398.8 482.9h.1M402.5 486.1h.1M397.8 486.7h.1M403.8 483.4h.1M402.0 486.3h.1M407.9 479.0h.1M408.8 477.2h.1M398.5 483.6h.1M403.5 486.8h.1" stroke="#8a3fc4" stroke-width="1.6" stroke-linecap="round" fill="none"/>
<path d="M405.6 479.2h.1M404.9 479.7h.1M398.6 486.8h.1M402.6 484.6h.1M403.7 481.2h.1M407.6 479.5h.1M398.0 486.3h.1M397.5 485.5h.1M406.7 482.6h.1M396.8 488.4h.1M409.6 478.2h.1M401.8 481.1h.1M397.9 485.2h.1M401.6 484.3h.1M398.6 485.6h.1" stroke="#6a4fc4" stroke-width="1.6" stroke-linecap="round" fill="none"/>
<path d="M408.5 479.0h.1M406.9 478.5h.1M403.7 484.7h.1M400.0 485.1h.1M403.6 479.2h.1M399.7 483.3h.1M398.2 488.7h.1M403.2 482.5h.1M407.1 480.3h.1M402.8 486.3h.1M397.0 486.6h.1M398.7 487.0h.1M402.5 482.7h.1M400.8 485.9h.1M400.3 485.9h.1" stroke="#f0b62a" stroke-width="1.6" stroke-linecap="round" fill="none"/>
<path d="M410.4 478.0h.1M417.7 461.0h.1M407.9 477.3h.1M407.3 476.0h.1M408.3 476.7h.1M411.4 470.2h.1M412.0 472.0h.1M413.0 467.1h.1M417.4 458.7h.1M418.6 455.3h.1M415.1 462.8h.1M413.9 464.1h.1M414.7 465.0h.1M411.1 476.9h.1M410.3 474.6h.1M416.2 462.8h.1" stroke="#f0b62a" stroke-width="1.6" stroke-linecap="round" fill="none"/>
<path d="M415.3 463.6h.1M409.6 473.7h.1M410.0 474.1h.1M406.3 477.5h.1M420.1 459.3h.1M415.8 466.0h.1M407.0 478.3h.1M417.5 460.7h.1M418.2 463.7h.1M406.7 475.5h.1M415.0 461.1h.1M407.1 479.7h.1M410.1 472.9h.1M413.8 467.3h.1M408.1 476.8h.1M406.4 476.7h.1" stroke="#eded3a" stroke-width="1.6" stroke-linecap="round" fill="none"/>
<path d="M412.3 472.6h.1M409.4 478.3h.1M412.1 469.9h.1M413.5 468.0h.1M412.9 466.8h.1M415.5 463.5h.1M409.1 474.6h.1M414.5 461.3h.1M416.2 461.2h.1M420.1 456.3h.1M407.7 478.8h.1M416.1 467.0h.1M411.6 471.2h.1M405.9 478.3h.1M411.2 475.4h.1M408.7 472.3h.1" stroke="#d42a20" stroke-width="1.6" stroke-linecap="round" fill="none"/>
<path d="M417.8 457.6h.1M417.2 463.5h.1M407.2 476.8h.1M412.1 469.0h.1M416.8 466.6h.1M413.6 462.6h.1M416.1 466.9h.1M417.2 461.8h.1M412.8 472.0h.1M415.8 470.0h.1M415.2 460.5h.1M419.3 459.8h.1M411.2 472.9h.1M417.3 460.9h.1M419.4 459.0h.1M413.1 472.8h.1" stroke="#4a90d9" stroke-width="1.6" stroke-linecap="round" fill="none"/>
<path d="M413.7 468.1h.1M418.5 457.8h.1M419.2 461.7h.1M414.1 463.2h.1M407.6 480.2h.1M413.4 467.6h.1M418.5 459.1h.1M415.1 466.5h.1M415.8 461.1h.1M406.5 475.3h.1M409.0 475.7h.1M407.5 475.1h.1M408.9 475.2h.1M414.5 463.5h.1M408.6 477.9h.1M417.9 462.4h.1" stroke="#1b2a6b" stroke-width="1.6" stroke-linecap="round" fill="none"/>
<path d="M432.3 449.2h.1M436.7 434.4h.1M423.9 461.3h.1M441.2 426.3h.1M424.1 453.6h.1M443.7 431.4h.1M413.4 462.4h.1M426.7 456.7h.1M437.5 440.7h.1M436.4 439.6h.1M433.4 442.6h.1M436.5 433.8h.1M418.2 460.8h.1M422.8 455.9h.1M438.9 432.2h.1M426.6 455.0h.1M427.5 453.2h.1M429.0 448.1h.1M423.0 461.6h.1M421.2 458.3h.1M425.5 454.6h.1M442.1 428.1h.1M425.2 449.4h.1M440.4 435.5h.1M432.8 442.1h.1M430.2 448.2h.1M418.2 460.6h.1M439.4 435.7h.1M425.2 449.9h.1M430.2 450.2h.1M415.2 461.7h.1M441.2 430.0h.1M428.2 447.5h.1M426.3 453.2h.1M416.6 461.2h.1M422.0 457.9h.1M429.2 453.8h.1" stroke="#1b2a6b" stroke-width="1.6" stroke-linecap="round" fill="none"/>
<path d="M430.4 446.6h.1M423.4 456.3h.1M418.7 463.6h.1M421.8 457.9h.1M419.4 457.6h.1M431.1 443.4h.1M429.7 450.9h.1M427.3 451.1h.1M432.0 440.8h.1M418.5 458.6h.1M420.6 460.3h.1M442.5 428.2h.1M431.7 445.4h.1M428.0 454.2h.1M420.1 456.9h.1M427.0 447.4h.1M438.8 433.1h.1M436.6 439.9h.1M429.3 441.7h.1M422.9 454.2h.1M436.5 441.0h.1M442.6 435.4h.1M432.4 446.2h.1M425.6 446.5h.1M437.2 445.0h.1M424.5 454.4h.1M428.5 447.2h.1M435.9 434.1h.1M431.8 445.3h.1M429.8 448.2h.1M424.8 455.0h.1M431.6 444.2h.1M424.7 448.6h.1M438.0 436.3h.1M429.5 443.5h.1M417.6 460.0h.1M427.7 448.6h.1" stroke="#d42a20" stroke-width="1.6" stroke-linecap="round" fill="none"/>
<path d="M433.1 445.0h.1M438.2 434.9h.1M417.7 460.8h.1M426.5 457.7h.1M429.2 455.6h.1M443.2 429.0h.1M441.7 432.2h.1M427.3 454.9h.1M426.9 454.5h.1M428.8 447.7h.1M429.1 445.2h.1M436.2 438.3h.1M434.6 442.7h.1M437.7 433.8h.1M420.1 454.6h.1M426.6 448.2h.1M440.7 436.0h.1M436.9 437.9h.1M418.0 458.8h.1M420.0 461.6h.1M425.5 448.9h.1M419.6 460.0h.1M426.9 456.7h.1M429.4 442.8h.1M421.9 461.4h.1M433.1 444.3h.1M423.6 455.4h.1M437.1 434.2h.1M431.7 450.8h.1M421.0 464.9h.1M424.3 454.3h.1M440.4 433.4h.1M432.2 440.5h.1M437.3 430.4h.1M439.0 432.8h.1M432.2 444.0h.1M417.3 462.6h.1" stroke="#f0b62a" stroke-width="1.6" stroke-linecap="round" fill="none"/>
<path d="M428.9 447.0h.1M442.7 428.2h.1M441.2 434.0h.1M427.8 447.3h.1M440.0 432.7h.1M429.2 441.5h.1M433.9 443.2h.1M421.4 460.5h.1M428.2 450.6h.1M425.8 449.9h.1M417.7 464.4h.1M421.3 458.5h.1M429.0 445.4h.1M439.5 432.4h.1M427.2 448.1h.1M419.8 459.7h.1M419.7 459.2h.1M435.0 441.3h.1M418.1 463.2h.1M423.7 455.4h.1M418.6 458.7h.1M426.8 448.5h.1M421.9 457.5h.1M432.0 444.4h.1M424.3 454.2h.1M423.8 454.7h.1M417.6 461.7h.1M430.1 448.3h.1M416.3 461.7h.1M427.2 448.2h.1M423.7 449.4h.1M421.1 457.4h.1M426.7 447.8h.1M422.9 457.1h.1M441.5 432.7h.1M423.5 457.1h.1M424.2 460.1h.1" stroke="#1b2a6b" stroke-width="1.6" stroke-linecap="round" fill="none"/>
<path d="M422.4 461.5h.1M428.8 451.5h.1M427.7 452.0h.1M430.2 443.2h.1M422.0 461.5h.1M426.1 453.1h.1M432.7 446.2h.1M423.0 459.1h.1M423.4 455.2h.1M422.5 464.4h.1M437.9 437.2h.1M440.8 436.4h.1M441.4 429.9h.1M432.2 437.7h.1M427.4 453.4h.1M436.7 442.6h.1M421.8 454.0h.1M418.5 460.0h.1M425.5 455.5h.1M420.9 454.0h.1M420.8 458.8h.1M428.7 446.0h.1M419.8 454.3h.1M430.8 447.0h.1M435.4 437.3h.1M430.0 451.6h.1M441.5 430.1h.1M432.3 447.0h.1M433.9 446.2h.1M436.2 436.1h.1M428.7 453.8h.1M436.4 437.9h.1M433.7 443.4h.1M438.2 431.6h.1M434.4 443.5h.1M427.3 453.3h.1" stroke="#5bc0eb" stroke-width="1.6" stroke-linecap="round" fill="none"/>
<path d="M436.5 435.0h.1M437.9 438.2h.1M435.8 437.2h.1M416.1 461.1h.1M422.9 460.0h.1M432.2 439.6h.1M430.1 448.3h.1M422.3 457.8h.1M436.1 437.5h.1M440.6 429.8h.1M439.5 432.3h.1M418.9 465.1h.1M425.0 448.7h.1M424.1 453.6h.1M428.0 449.9h.1M435.4 443.2h.1M432.1 444.3h.1M417.9 458.9h.1M441.4 429.6h.1M422.8 456.3h.1M434.8 442.6h.1M430.0 443.0h.1M431.6 448.1h.1M420.5 457.1h.1M428.3 444.7h.1M433.1 439.1h.1M424.4 453.6h.1M438.4 437.1h.1M426.3 452.7h.1M421.4 462.9h.1M434.3 439.7h.1M426.0 458.0h.1M420.2 455.0h.1M430.4 447.5h.1M424.5 452.7h.1M432.0 445.1h.1" stroke="#eded3a" stroke-width="1.6" stroke-linecap="round" fill="none"/>
<path d="M434.5 441.3h.1M432.6 440.1h.1M439.5 433.1h.1M427.8 454.2h.1M430.1 454.4h.1M442.9 426.7h.1M441.7 429.5h.1M437.0 440.0h.1M439.1 429.5h.1M434.4 438.2h.1M429.4 445.8h.1M424.3 458.1h.1M426.7 447.8h.1M422.3 456.6h.1M442.4 428.3h.1M437.2 438.8h.1M440.9 429.9h.1M436.0 437.6h.1M433.4 447.0h.1M435.1 440.9h.1M438.2 439.5h.1M430.2 445.6h.1M432.0 442.6h.1M439.5 431.1h.1M435.8 436.6h.1M438.6 438.0h.1M425.3 453.7h.1M434.6 440.1h.1M440.0 432.6h.1M440.9 434.1h.1M445.6 428.9h.1M434.6 439.6h.1M439.3 432.3h.1M434.1 445.8h.1M440.9 425.7h.1M444.4 426.9h.1M432.1 440.4h.1M436.2 440.3h.1M435.1 443.6h.1M434.8 441.4h.1M422.8 455.4h.1M441.2 427.8h.1M429.3 449.9h.1M426.4 458.7h.1" stroke="#d42a20" stroke-width="1.6" stroke-linecap="round" fill="none"/>
<path d="M435.8 438.7h.1M439.3 437.1h.1M426.2 454.7h.1M435.7 442.8h.1M430.7 444.4h.1M425.9 451.7h.1M436.5 440.7h.1M436.3 440.6h.1M428.0 450.1h.1M431.5 448.9h.1M437.2 431.8h.1M430.3 447.6h.1M439.5 438.1h.1M425.6 454.7h.1M438.4 435.1h.1M432.9 439.9h.1M440.0 433.1h.1M440.3 433.9h.1M442.4 428.8h.1M432.5 443.0h.1M440.5 432.2h.1M427.5 452.5h.1M441.7 434.8h.1M442.5 429.9h.1M434.3 440.8h.1M428.7 449.0h.1M424.3 458.3h.1M443.1 433.7h.1M433.0 442.0h.1M439.1 437.9h.1M422.3 458.3h.1M427.4 450.7h.1M432.1 445.3h.1M437.4 438.6h.1M436.1 440.6h.1M433.5 440.3h.1M426.6 452.9h.1M426.4 450.8h.1M439.5 431.8h.1M437.0 439.4h.1M439.2 438.2h.1M444.2 425.2h.1M437.6 438.9h.1M427.9 451.8h.1" stroke="#e03a2a" stroke-width="1.6" stroke-linecap="round" fill="none"/>
<path d="M442.6 427.8h.1M430.4 450.7h.1M439.5 432.4h.1M435.9 439.1h.1M435.7 443.2h.1M444.1 427.8h.1M431.2 445.9h.1M433.2 442.1h.1M443.1 430.3h.1M430.0 445.4h.1M433.5 441.2h.1M433.2 443.1h.1M435.4 437.8h.1M430.4 442.6h.1M436.8 436.6h.1M436.3 439.0h.1M427.1 451.7h.1M431.8 443.1h.1M428.7 449.0h.1M438.2 437.0h.1M425.8 453.6h.1M441.4 429.4h.1M422.8 459.1h.1M433.6 439.1h.1M433.3 443.4h.1M428.8 449.4h.1M433.9 440.1h.1M425.2 453.6h.1M442.4 431.8h.1M435.1 438.7h.1M434.0 443.9h.1M428.2 451.3h.1M440.2 431.0h.1M424.9 457.6h.1M429.2 449.3h.1M430.9 449.1h.1M439.9 436.1h.1M438.2 441.2h.1M423.9 452.4h.1M429.6 449.9h.1M424.5 455.4h.1M431.8 445.5h.1M438.7 438.8h.1" stroke="#f0b62a" stroke-width="1.6" stroke-linecap="round" fill="none"/>
<path d="M438.9 432.1h.1M436.8 438.0h.1M426.1 455.5h.1M430.4 446.9h.1M444.9 427.3h.1M433.9 444.9h.1M438.9 439.0h.1M430.7 446.7h.1M425.0 452.8h.1M433.4 443.5h.1M430.8 445.7h.1M445.1 429.0h.1M438.0 437.1h.1M440.0 431.0h.1M441.9 432.7h.1M428.3 453.4h.1M430.6 448.4h.1M444.1 424.2h.1M442.1 432.0h.1M426.7 454.6h.1M443.5 425.3h.1M438.8 432.9h.1M427.0 451.5h.1M426.7 454.1h.1M429.8 451.8h.1M424.0 454.3h.1M440.5 433.2h.1M430.6 445.9h.1M432.2 444.2h.1M433.1 441.6h.1M443.2 429.1h.1M434.5 442.3h.1M428.9 450.9h.1M435.3 438.9h.1M428.3 447.0h.1M442.7 429.0h.1M441.9 434.9h.1M428.2 449.7h.1M434.2 440.4h.1M438.5 436.7h.1M435.1 441.5h.1M440.4 432.1h.1M434.5 440.9h.1" stroke="#1b2a6b" stroke-width="1.6" stroke-linecap="round" fill="none"/>
<path d="M433.1 442.6h.1M440.3 428.4h.1M434.6 442.5h.1M427.3 449.5h.1M430.6 445.8h.1M424.4 454.8h.1M430.9 446.5h.1M437.9 436.8h.1M434.3 439.8h.1M428.0 452.3h.1M440.3 433.0h.1M439.4 430.7h.1M425.4 458.2h.1M441.9 426.4h.1M430.6 447.4h.1M428.1 448.8h.1M443.0 427.9h.1M439.7 439.9h.1M441.4 433.8h.1M432.8 446.0h.1M446.2 429.5h.1M425.1 454.4h.1M425.9 451.5h.1M437.6 435.7h.1M430.0 446.2h.1M437.9 439.8h.1M442.0 427.1h.1M445.0 428.2h.1M445.1 429.1h.1M434.1 443.0h.1M422.9 456.2h.1M433.7 438.0h.1M438.4 434.8h.1M432.4 443.9h.1M442.0 431.7h.1M435.1 440.3h.1M439.2 437.0h.1M440.3 432.0h.1M432.2 449.5h.1M431.8 444.1h.1M439.6 436.2h.1M430.7 447.1h.1M438.0 436.1h.1" stroke="#d42a20" stroke-width="1.6" stroke-linecap="round" fill="none"/>
<path d="M427.7 446.2h.1M434.4 437.2h.1M438.7 435.1h.1M433.6 441.1h.1M424.6 454.3h.1M437.9 435.0h.1M437.6 434.3h.1M438.7 431.7h.1M441.3 436.4h.1M428.0 450.9h.1M438.6 435.0h.1M431.4 447.6h.1M439.1 433.8h.1M428.7 451.6h.1M433.2 438.8h.1M440.1 437.4h.1M440.1 429.9h.1M440.5 434.2h.1M443.0 429.4h.1M427.1 451.0h.1M440.2 430.6h.1M431.1 446.8h.1M440.4 434.4h.1M438.2 436.2h.1M436.2 441.3h.1M431.4 444.1h.1M430.3 446.6h.1M439.3 433.7h.1M429.5 447.5h.1M441.7 431.3h.1M441.6 431.1h.1M430.7 451.9h.1M430.6 446.8h.1M423.5 457.9h.1M426.9 451.9h.1M435.3 436.4h.1M440.9 428.4h.1M437.8 439.7h.1M433.2 444.1h.1M432.0 443.1h.1M439.6 435.1h.1M438.5 435.6h.1M439.6 434.1h.1" stroke="#d42a20" stroke-width="1.6" stroke-linecap="round" fill="none"/>
<path d="M420.5 424.5h.1M422.2 419.8h.1M417.2 429.2h.1M417.5 428.5h.1M418.3 427.2h.1M418.5 429.2h.1M420.9 421.0h.1M419.7 425.2h.1M417.4 427.1h.1M420.9 416.0h.1M421.9 420.7h.1M418.4 425.3h.1M419.1 424.9h.1M420.3 421.4h.1M419.1 422.6h.1" stroke="#f0b62a" stroke-width="1.6" stroke-linecap="round" fill="none"/>
<path d="M413.1 429.4h.1M416.5 426.7h.1M416.8 424.4h.1M421.8 425.8h.1M416.1 424.9h.1M416.3 429.5h.1M417.0 425.6h.1M414.7 427.2h.1M422.0 416.4h.1M423.3 415.9h.1M414.4 427.6h.1M418.9 422.9h.1M416.1 428.4h.1M418.6 424.6h.1M418.0 423.8h.1" stroke="#eded3a" stroke-width="1.6" stroke-linecap="round" fill="none"/>
<path d="M423.1 415.8h.1M420.7 420.0h.1M420.4 414.8h.1M421.1 420.4h.1M422.6 421.1h.1M418.1 423.2h.1M423.1 414.6h.1M418.2 426.2h.1M419.0 423.4h.1M420.6 420.1h.1M419.3 426.7h.1M415.9 425.8h.1M414.6 430.5h.1M414.8 428.8h.1M420.0 420.9h.1" stroke="#8fd14f" stroke-width="1.6" stroke-linecap="round" fill="none"/>
<path d="M436.2 431.1h.1M446.7 397.4h.1M432.1 406.7h.1M432.9 408.1h.1M440.9 402.5h.1M447.4 391.7h.1M436.9 431.8h.1M436.7 406.9h.1M441.0 398.6h.1M432.7 420.9h.1M445.7 402.2h.1M438.0 408.9h.1M453.4 392.0h.1M429.8 430.1h.1M435.1 408.4h.1M444.8 414.8h.1M431.1 420.1h.1M445.4 405.8h.1M431.6 408.7h.1M428.0 422.5h.1M441.0 422.9h.1M434.3 429.3h.1M442.5 408.5h.1M453.3 397.5h.1M425.9 432.4h.1M459.7 388.1h.1M428.1 412.1h.1M428.0 438.4h.1M433.9 416.6h.1M422.9 428.8h.1M425.5 422.8h.1M429.0 431.1h.1M428.1 419.9h.1M457.4 390.9h.1M417.2 433.1h.1M440.7 411.4h.1M451.5 400.1h.1M447.0 411.9h.1M444.6 403.4h.1M416.1 427.9h.1M432.1 417.2h.1M424.2 425.6h.1M444.0 421.8h.1" stroke="#1b2a6b" stroke-width="1.7" stroke-linecap="round" fill="none"/>
<path d="M443.4 422.4h.1M418.4 431.2h.1M437.5 411.1h.1M431.0 417.1h.1M445.0 416.0h.1M420.8 425.7h.1M447.3 397.7h.1M454.5 397.7h.1M446.5 414.8h.1M440.4 418.6h.1M432.0 430.1h.1M436.4 417.0h.1M431.9 422.2h.1M455.9 395.7h.1M432.5 429.0h.1M447.4 414.4h.1M437.3 408.6h.1M425.8 442.2h.1M435.7 422.0h.1M421.7 425.2h.1M439.5 408.8h.1M452.4 401.3h.1M443.8 397.5h.1M434.5 416.5h.1M416.8 432.4h.1M438.5 422.1h.1M442.9 406.0h.1M447.4 418.2h.1M431.0 433.9h.1M425.2 422.4h.1M429.2 411.9h.1M432.3 430.2h.1M450.9 391.9h.1M454.0 394.6h.1M445.6 415.0h.1M448.7 405.2h.1M457.9 395.2h.1M429.5 418.8h.1M433.5 403.6h.1M451.7 405.4h.1M445.2 410.0h.1M438.4 412.5h.1M433.6 403.7h.1" stroke="#22337a" stroke-width="1.7" stroke-linecap="round" fill="none"/>
<path d="M427.7 421.9h.1M458.6 383.3h.1M440.3 415.0h.1M431.2 439.9h.1M436.1 423.9h.1M426.8 437.1h.1M446.2 405.3h.1M442.1 423.5h.1M433.7 414.0h.1M423.4 442.2h.1M440.3 400.7h.1M417.4 433.0h.1M445.8 411.2h.1M425.9 440.2h.1M454.8 399.9h.1M440.5 426.3h.1M444.2 405.5h.1M456.1 387.9h.1M442.9 403.6h.1M424.1 417.3h.1M431.4 420.0h.1M441.7 414.3h.1M435.9 408.2h.1M452.3 393.9h.1M437.6 401.5h.1M450.0 395.6h.1M454.7 397.6h.1M457.1 385.8h.1M425.8 428.9h.1M435.3 430.0h.1M452.4 394.9h.1M439.4 419.1h.1M457.7 395.1h.1M433.3 413.7h.1M427.9 417.1h.1M454.3 395.9h.1M458.2 387.8h.1M419.7 431.0h.1M425.3 436.0h.1M444.6 402.5h.1M443.7 412.3h.1M436.7 429.6h.1" stroke="#1b2a6b" stroke-width="1.7" stroke-linecap="round" fill="none"/>
<path d="M427.5 439.4h.1M449.0 401.9h.1M455.1 384.7h.1M428.4 408.5h.1M445.8 410.7h.1M424.4 443.0h.1M423.7 432.3h.1M447.5 398.5h.1M442.5 397.1h.1M444.1 412.5h.1M426.0 426.3h.1M427.5 426.0h.1M426.0 423.0h.1M453.3 400.3h.1M458.0 384.8h.1M440.3 411.2h.1M447.2 401.1h.1M428.0 425.4h.1M430.6 431.7h.1M446.4 405.2h.1M443.1 406.5h.1M429.7 405.7h.1M433.8 405.4h.1M458.5 384.0h.1M435.9 405.2h.1M422.7 423.7h.1M438.4 417.2h.1M442.2 418.3h.1M429.0 429.9h.1M428.5 437.3h.1M423.6 413.1h.1M422.5 423.2h.1M427.2 427.7h.1M458.6 387.2h.1M449.4 395.4h.1M443.5 419.1h.1M421.0 420.4h.1M427.1 421.0h.1M427.1 431.5h.1M434.2 432.9h.1M438.7 407.6h.1M427.8 437.6h.1" stroke="#f0b62a" stroke-width="1.7" stroke-linecap="round" fill="none"/>
<path d="M456.3 392.1h.1M439.5 402.1h.1M443.3 400.0h.1M444.0 417.1h.1M437.2 415.5h.1M440.6 409.9h.1M435.1 414.9h.1M433.1 414.9h.1M443.6 404.7h.1M442.1 400.1h.1M456.6 392.3h.1M444.8 410.7h.1M441.6 417.0h.1M437.7 413.1h.1M461.2 382.6h.1M446.6 404.8h.1M439.2 406.7h.1M450.9 406.8h.1M441.9 415.2h.1M446.6 404.7h.1M452.7 406.0h.1M440.4 418.0h.1M457.7 386.9h.1M456.4 382.2h.1M446.8 416.6h.1M441.7 404.2h.1M445.9 401.5h.1M450.8 402.3h.1M452.0 411.5h.1M439.4 419.8h.1M448.0 408.5h.1M441.2 407.0h.1M453.1 387.6h.1M437.3 408.2h.1M452.1 398.6h.1M447.2 395.0h.1M440.6 416.3h.1M439.2 402.8h.1M443.9 403.8h.1M459.7 391.3h.1M444.6 412.2h.1M447.8 403.0h.1M436.0 409.8h.1M454.2 388.9h.1M437.4 405.3h.1M437.3 413.6h.1M457.4 397.9h.1M442.3 417.6h.1M451.8 395.8h.1M439.2 413.3h.1" stroke="#1b2a6b" stroke-width="1.6" stroke-linecap="round" fill="none"/>
<path d="M458.9 384.2h.1M457.3 391.9h.1M436.6 410.9h.1M447.5 399.6h.1M443.5 415.7h.1M439.8 418.3h.1M449.8 400.6h.1M440.8 408.4h.1M440.2 416.0h.1M451.5 403.5h.1M450.3 401.3h.1M451.1 389.5h.1M436.3 406.2h.1M445.6 399.4h.1M449.2 406.5h.1M454.4 397.4h.1M451.0 393.0h.1M456.9 389.1h.1M459.4 388.1h.1M442.3 413.6h.1M451.6 389.1h.1M443.0 409.3h.1M456.8 399.6h.1M450.7 397.1h.1M443.9 401.5h.1M455.8 386.1h.1M440.1 416.6h.1M447.7 403.6h.1M457.7 388.3h.1M455.2 386.5h.1M452.5 394.9h.1M457.1 387.4h.1M456.5 392.0h.1M438.6 405.0h.1M447.7 394.5h.1M444.4 404.7h.1M448.7 397.8h.1M436.9 417.1h.1M456.8 391.7h.1M458.0 384.8h.1M447.9 395.5h.1M457.4 398.7h.1M438.3 415.0h.1M431.9 413.9h.1M443.5 411.5h.1M444.5 401.5h.1M449.6 402.5h.1M442.4 414.6h.1M454.9 395.4h.1M459.3 394.1h.1" stroke="#22337a" stroke-width="1.6" stroke-linecap="round" fill="none"/>
<path d="M444.6 411.6h.1M458.9 393.1h.1M445.8 401.3h.1M446.2 396.6h.1M440.2 402.9h.1M447.7 400.5h.1M452.0 396.9h.1M447.8 408.5h.1M445.9 407.5h.1M439.9 405.6h.1M453.1 402.9h.1M448.6 399.5h.1M445.3 408.7h.1M443.7 417.0h.1M453.8 402.1h.1M437.3 407.5h.1M451.4 391.9h.1M443.6 405.0h.1M453.9 397.5h.1M439.3 411.5h.1M442.5 416.0h.1M441.1 407.0h.1M445.0 403.3h.1M459.2 390.6h.1M445.4 412.4h.1M446.9 398.5h.1M434.7 412.2h.1M459.6 386.4h.1M440.9 419.9h.1M439.8 412.7h.1M453.7 398.5h.1M442.7 400.7h.1M447.9 412.6h.1M446.2 402.9h.1M446.5 401.9h.1M446.4 414.3h.1M454.9 390.3h.1M440.9 401.5h.1M446.8 401.0h.1M449.3 406.4h.1M433.2 414.8h.1M443.8 404.1h.1M454.8 394.1h.1M440.0 415.9h.1M444.2 410.8h.1M453.4 404.2h.1M454.5 400.5h.1M446.5 405.3h.1M457.1 389.2h.1M457.9 385.1h.1" stroke="#1b2a6b" stroke-width="1.6" stroke-linecap="round" fill="none"/>
<path d="M455.0 389.8h.1M439.9 407.9h.1M455.6 387.6h.1M451.2 410.4h.1M447.1 403.1h.1M444.2 407.7h.1M451.0 410.2h.1M438.3 408.6h.1M451.5 392.6h.1M437.8 413.6h.1M445.0 412.7h.1M448.3 397.7h.1M454.1 402.2h.1M437.3 407.7h.1M443.5 405.1h.1M445.7 401.6h.1M443.0 413.3h.1M449.5 407.8h.1M438.4 414.4h.1M451.7 394.0h.1M435.8 416.2h.1M449.8 391.1h.1M457.2 387.5h.1M436.0 410.5h.1M444.1 405.0h.1M451.4 407.6h.1M449.6 395.8h.1M452.2 390.2h.1M452.7 392.3h.1M440.2 400.1h.1M453.1 406.2h.1M446.0 395.7h.1M450.8 400.1h.1M438.2 416.1h.1M442.2 417.7h.1M446.8 404.1h.1M451.6 397.5h.1M449.2 400.8h.1M454.4 400.4h.1M457.0 395.0h.1M435.3 417.8h.1M456.7 387.8h.1M441.6 405.4h.1M439.4 410.4h.1M451.8 390.5h.1M443.6 404.9h.1M447.2 407.9h.1M441.8 400.8h.1M445.1 395.0h.1M450.2 409.6h.1" stroke="#2b3f8f" stroke-width="1.6" stroke-linecap="round" fill="none"/>
<path d="M424.0 419.5h.1M443.6 417.6h.1M427.2 414.1h.1M435.6 423.1h.1M445.9 405.8h.1M448.3 409.0h.1M420.6 419.3h.1M424.0 420.0h.1M441.0 416.0h.1M436.3 416.6h.1M432.7 418.2h.1M429.1 428.2h.1M428.7 428.4h.1M442.9 408.4h.1M430.9 426.5h.1M445.3 412.5h.1M421.9 419.8h.1M439.4 414.7h.1M425.2 431.8h.1M421.4 430.6h.1M428.0 416.3h.1M443.1 407.8h.1M429.9 432.4h.1M436.9 418.9h.1M434.1 411.9h.1M429.4 414.9h.1M430.3 409.4h.1M437.7 416.5h.1M433.4 406.7h.1M436.5 415.5h.1M424.4 418.2h.1M421.0 418.3h.1M423.8 428.3h.1M427.8 415.5h.1M443.8 406.9h.1M420.7 423.9h.1M427.1 430.8h.1M426.9 430.3h.1M432.1 424.1h.1M438.7 418.7h.1M430.2 428.2h.1M441.4 403.1h.1M445.5 407.1h.1M422.2 421.2h.1M426.8 427.9h.1M445.8 407.0h.1M449.0 405.3h.1M433.6 411.2h.1M437.5 409.5h.1M426.2 431.2h.1M420.6 423.3h.1M439.9 415.3h.1M431.0 428.7h.1M419.4 421.9h.1M444.8 410.9h.1M434.4 420.8h.1M430.8 416.1h.1M427.6 415.4h.1M420.7 431.4h.1M440.1 408.7h.1M421.7 418.5h.1M428.7 427.9h.1M434.7 427.4h.1M436.6 424.0h.1M423.5 421.3h.1M434.3 428.0h.1M445.1 410.5h.1M438.0 403.5h.1M426.9 425.3h.1M433.1 421.2h.1M437.3 411.2h.1M427.6 426.9h.1M425.7 422.2h.1M446.8 410.7h.1M429.2 416.6h.1M433.8 429.0h.1M433.1 410.0h.1M435.2 416.1h.1M423.0 417.5h.1M440.3 408.8h.1M429.8 424.1h.1M436.1 422.1h.1M427.1 414.6h.1M448.8 403.4h.1M433.1 417.9h.1M449.4 402.5h.1M444.2 402.0h.1M435.5 421.0h.1M436.5 408.1h.1M425.6 419.7h.1M431.8 424.6h.1M425.4 417.6h.1M424.3 417.3h.1M431.3 423.2h.1M434.4 412.6h.1M429.2 422.7h.1M439.2 420.3h.1M447.6 414.9h.1M431.0 411.0h.1M449.3 403.7h.1M440.9 407.8h.1M448.5 412.9h.1M429.3 412.4h.1M445.7 404.8h.1M427.1 416.6h.1M431.8 420.5h.1M435.0 419.5h.1" stroke="#1b2a6b" stroke-width="1.8" stroke-linecap="round" fill="none"/>
<path d="M444.6 414.1h.1M438.9 418.0h.1M425.4 426.7h.1M426.5 429.8h.1M442.7 402.3h.1M441.5 409.7h.1M431.5 422.9h.1M428.3 430.7h.1M425.2 426.1h.1M446.1 408.0h.1M432.8 428.3h.1M438.1 408.9h.1M441.8 404.2h.1M442.8 406.2h.1M438.9 407.9h.1M418.9 424.3h.1M427.3 431.0h.1M441.9 417.9h.1M422.5 427.1h.1M436.0 419.8h.1M445.5 405.2h.1M423.4 419.1h.1M443.2 413.4h.1M445.4 405.3h.1M438.7 413.7h.1M444.4 408.6h.1M446.5 407.7h.1M435.2 410.9h.1M431.8 422.1h.1M423.1 420.6h.1M438.8 408.6h.1M442.2 414.2h.1M436.0 421.7h.1M436.4 411.3h.1M424.3 431.7h.1M432.1 412.5h.1M426.2 422.4h.1M432.0 416.4h.1M433.1 419.0h.1M444.4 408.9h.1M441.1 414.2h.1M423.7 417.3h.1M427.3 426.7h.1M421.8 417.5h.1M440.4 408.7h.1M423.2 426.7h.1M437.1 409.4h.1M430.8 414.1h.1M427.2 419.7h.1M436.3 426.3h.1M444.7 405.1h.1M434.9 407.7h.1M436.1 410.5h.1M420.1 424.0h.1M427.2 411.1h.1M437.1 406.1h.1M440.6 419.4h.1M421.8 424.2h.1M422.7 428.1h.1M444.1 400.2h.1M430.1 413.6h.1M427.8 413.0h.1M421.6 421.4h.1M440.7 415.6h.1M420.8 427.8h.1M422.7 430.0h.1M436.9 418.8h.1M436.4 419.7h.1M437.8 409.2h.1M424.0 428.1h.1M426.3 413.2h.1M433.1 424.2h.1M440.8 404.5h.1M433.4 418.8h.1M427.2 429.4h.1M426.4 417.7h.1M432.2 421.7h.1M439.6 406.0h.1M430.1 415.9h.1M431.8 411.9h.1M434.2 410.9h.1M436.9 412.6h.1M437.5 407.6h.1M445.1 415.0h.1M436.6 408.2h.1M428.9 415.8h.1M439.2 418.4h.1M440.7 401.9h.1M422.1 427.3h.1M432.0 429.1h.1M431.1 412.5h.1M441.3 420.5h.1M424.2 419.2h.1M434.7 407.7h.1M431.4 420.6h.1M423.5 419.0h.1M426.0 415.4h.1M440.8 414.2h.1M419.8 426.7h.1M439.1 419.1h.1M445.1 403.5h.1M428.6 415.9h.1M433.2 411.3h.1M440.6 404.7h.1M446.7 415.4h.1M424.4 429.9h.1M440.9 415.4h.1" stroke="#22337a" stroke-width="1.8" stroke-linecap="round" fill="none"/>
<path d="M427.9 425.7h.1M442.9 402.5h.1M421.3 425.5h.1M440.3 420.8h.1M428.8 426.5h.1M428.2 420.1h.1M440.3 420.6h.1M430.8 413.3h.1M426.3 432.9h.1M441.9 414.7h.1M430.4 411.2h.1M425.3 417.8h.1M428.7 425.2h.1M424.6 425.8h.1M424.3 429.4h.1M421.5 423.3h.1M426.9 427.5h.1M440.0 405.1h.1M434.0 409.2h.1M435.3 404.8h.1M434.0 426.8h.1M447.2 411.4h.1M422.4 426.2h.1M422.3 420.8h.1M424.7 414.5h.1M445.4 407.3h.1M423.9 422.0h.1M437.4 419.1h.1M442.7 415.2h.1M443.4 412.5h.1M423.9 416.0h.1M442.5 410.5h.1M424.7 430.4h.1M431.3 419.0h.1M421.8 420.1h.1M438.9 405.3h.1M429.5 428.7h.1M433.2 412.5h.1M440.6 403.9h.1M436.9 425.8h.1M444.2 411.0h.1M436.0 410.1h.1M430.0 419.3h.1M419.3 424.9h.1M431.9 410.5h.1M439.1 422.4h.1M427.4 430.8h.1M442.9 417.3h.1M448.7 402.7h.1M426.2 425.6h.1M427.2 422.4h.1M443.4 405.4h.1M432.7 425.6h.1M431.3 427.0h.1M440.6 413.6h.1M445.5 408.2h.1M442.3 406.6h.1M437.3 425.9h.1M435.6 410.9h.1M432.7 419.6h.1M424.0 415.1h.1M444.9 400.8h.1M421.0 423.5h.1M433.8 428.7h.1M427.0 430.4h.1M428.6 415.0h.1M424.5 428.2h.1M427.3 428.4h.1M431.4 430.3h.1M433.8 408.0h.1M447.0 409.8h.1M439.9 418.3h.1M427.1 429.3h.1M423.3 420.8h.1M448.5 406.2h.1M429.8 413.2h.1M436.9 424.1h.1M444.9 414.5h.1M442.3 403.7h.1M445.0 401.9h.1M441.1 420.8h.1M430.5 430.5h.1M424.5 412.3h.1M430.5 412.7h.1M426.0 430.4h.1M444.2 412.3h.1M433.8 415.2h.1M442.6 415.6h.1M426.6 413.7h.1M444.3 407.3h.1M439.2 409.8h.1M440.6 416.4h.1M430.5 408.3h.1M422.4 429.7h.1M434.1 413.7h.1M448.7 403.6h.1M429.2 427.6h.1M440.9 403.1h.1M434.2 415.0h.1M426.0 413.8h.1M422.8 415.6h.1M441.6 415.8h.1M439.1 402.9h.1M428.7 420.5h.1M435.0 419.9h.1M430.8 427.3h.1" stroke="#1b2a6b" stroke-width="1.8" stroke-linecap="round" fill="none"/>
<path d="M423.9 433.5 C424.6 431.2 426.5 428.1 428.2 425.2 C430.0 422.3 432.5 418.9 434.6 416.1 C436.6 413.3 438.6 410.7 440.5 408.2 C442.4 405.8 444.2 403.8 446.0 401.6 C447.9 399.4 449.7 397.2 451.6 395.0 C453.4 392.8 456.0 389.4 457.1 388.4 C458.2 387.4 458.5 388.0 458.2 389.1 C457.8 390.1 456.4 392.5 455.1 394.7 C453.8 396.9 451.8 399.7 450.2 402.1 C448.5 404.6 446.7 407.2 445.2 409.6 C443.7 412.0 442.7 414.2 441.2 416.6 C439.7 419.1 437.9 421.8 436.3 424.1 C434.7 426.4 433.2 428.2 431.7 430.3 C430.2 432.4 428.5 435.1 427.2 436.5 C425.9 437.9 424.4 439.4 423.8 438.9 C423.3 438.4 423.1 435.8 423.9 433.5Z" fill="#1b2a6b"/>
<path d="M452.7 383.1h.1M458.1 382.3h.1M455.0 386.9h.1M450.4 390.0h.1M447.3 393.1h.1M442.7 393.1h.1M445.0 396.9h.1M441.2 400.8h.1M448.8 399.2h.1M451.9 394.6h.1M458.1 406.9h.1M434.2 398.5h.1M420.4 419.2h.1M439.6 400.8h.1M451.9 402.3h.1M456.5 391.5h.1M445.8 388.5h.1" stroke="#1b2a6b" stroke-width="1.7" stroke-linecap="round" fill="none"/>
<path d="M442.7 428.5h.1M445.8 425.4h.1M439.6 434.6h.1M436.5 439.2h.1M428.8 450.0h.1M425.8 453.1h.1" stroke="#d42a20" stroke-width="1.7" stroke-linecap="round" fill="none"/>
</g>
<text x="397.6" y="371.5" font-size="10" text-anchor="end" fill="#222">1.5</text>
<text x="397.6" y="402.8" font-size="10" text-anchor="end" fill="#222">1</text>
<text x="397.6" y="434.1" font-size="10" text-anchor="end" fill="#222">0.5</text>
<text x="397.6" y="465.4" font-size="10" text-anchor="end" fill="#222">0</text>
<text x="397.6" y="496.7" font-size="10" text-anchor="end" fill="#222">-0.5</text>
<text x="397.6" y="528" font-size="10" text-anchor="end" fill="#222">-1</text>
<text x="366.1" y="477.9" font-size="10" text-anchor="middle" fill="#222">-0.5</text>
<text x="405.8" y="477.9" font-size="10" text-anchor="middle" fill="#222">0</text>
<text x="448.6" y="477.9" font-size="10" text-anchor="middle" fill="#222">0.5</text>
<text x="489.9" y="477.9" font-size="10" text-anchor="middle" fill="#222">1</text>
<path d="M388.8 486.9L459.9 388.2" stroke="#000" stroke-width="1.3"/>
<rect x="413.3" y="378.5" width="52.3" height="52" fill="none" stroke="#111" stroke-width="1.4"/>
<path d="M465.6 378.9L521.5 366.5M465.6 430.5L521.5 508.5" stroke="#111" stroke-width="1.2"/>
<text x="0" y="0" font-size="8.9" text-anchor="middle" fill="#222" transform="translate(356.3 424.5) rotate(-90)">EMT Score</text>
<text x="441.1" y="539.9" font-size="9" text-anchor="middle" fill="#222">ECM Score</text>
<text x="440.9" y="507.6" font-size="9" fill="#222"><tspan font-style="italic">r</tspan> = 0.934</text>
<text x="440.9" y="518.5" font-size="9" fill="#222"><tspan font-style="italic">p</tspan> &lt; 0.0001</text>
<clipPath id="zclip"><rect x="522" y="366.2" width="141.4" height="141.8"/></clipPath>
<g clip-path="url(#zclip)">
<circle cx="606.8" cy="495.2" r="2.2" fill="none" stroke="#d42a20" stroke-width="1.1"/>
<circle cx="607.8" cy="501.5" r="2.2" fill="none" stroke="#d42a20" stroke-width="1.1"/>
<circle cx="599.4" cy="505.8" r="2.2" fill="none" stroke="#d42a20" stroke-width="1.1"/>
<circle cx="616.3" cy="469.8" r="2.2" fill="none" stroke="#d42a20" stroke-width="1.1"/>
<circle cx="608.9" cy="489.9" r="2.2" fill="none" stroke="#d42a20" stroke-width="1.1"/>
<circle cx="610.0" cy="483.5" r="2.2" fill="none" stroke="#d42a20" stroke-width="1.1"/>
<circle cx="616.2" cy="469.2" r="2.2" fill="none" stroke="#f0b62a" stroke-width="1.1"/>
<circle cx="607.8" cy="489.3" r="2.2" fill="none" stroke="#f0b62a" stroke-width="1.1"/>
<circle cx="596.0" cy="403.7" r="2.2" fill="none" stroke="#f0b62a" stroke-width="1.1"/>
<circle cx="579.2" cy="428.2" r="2.2" fill="none" stroke="#f0b62a" stroke-width="1.1"/>
<circle cx="645.3" cy="375.6" r="2.2" fill="none" stroke="#1b2a6b" stroke-width="1.1"/>
<circle cx="640.0" cy="386.8" r="2.2" fill="none" stroke="#1b2a6b" stroke-width="1.1"/>
<circle cx="627.5" cy="397.8" r="2.2" fill="none" stroke="#1b2a6b" stroke-width="1.1"/>
<circle cx="622.2" cy="401.4" r="2.2" fill="none" stroke="#1b2a6b" stroke-width="1.1"/>
<circle cx="618.9" cy="404.8" r="2.2" fill="none" stroke="#1b2a6b" stroke-width="1.1"/>
<circle cx="619.5" cy="406.3" r="2.2" fill="none" stroke="#1b2a6b" stroke-width="1.1"/>
<circle cx="607.8" cy="406.7" r="2.2" fill="none" stroke="#1b2a6b" stroke-width="1.1"/>
<circle cx="596.6" cy="403.1" r="2.2" fill="none" stroke="#1b2a6b" stroke-width="1.1"/>
<circle cx="602.6" cy="409.5" r="2.2" fill="none" stroke="#1b2a6b" stroke-width="1.1"/>
<circle cx="603.6" cy="413.3" r="2.2" fill="none" stroke="#1b2a6b" stroke-width="1.1"/>
<circle cx="620.6" cy="413.3" r="2.2" fill="none" stroke="#1b2a6b" stroke-width="1.1"/>
<circle cx="623.3" cy="414.1" r="2.2" fill="none" stroke="#1b2a6b" stroke-width="1.1"/>
<circle cx="633.5" cy="421.1" r="2.2" fill="none" stroke="#1b2a6b" stroke-width="1.1"/>
<circle cx="616.3" cy="419.6" r="2.2" fill="none" stroke="#1b2a6b" stroke-width="1.1"/>
<circle cx="610.6" cy="424.3" r="2.2" fill="none" stroke="#1b2a6b" stroke-width="1.1"/>
<circle cx="612.7" cy="425.3" r="2.2" fill="none" stroke="#1b2a6b" stroke-width="1.1"/>
<circle cx="578.4" cy="419.0" r="2.2" fill="none" stroke="#1b2a6b" stroke-width="1.1"/>
<circle cx="589.9" cy="426.4" r="2.2" fill="none" stroke="#1b2a6b" stroke-width="1.1"/>
<circle cx="593.0" cy="424.3" r="2.2" fill="none" stroke="#1b2a6b" stroke-width="1.1"/>
<circle cx="598.3" cy="428.1" r="2.2" fill="none" stroke="#1b2a6b" stroke-width="1.1"/>
<circle cx="602.6" cy="423.2" r="2.2" fill="none" stroke="#1b2a6b" stroke-width="1.1"/>
<circle cx="605.7" cy="430.6" r="2.2" fill="none" stroke="#1b2a6b" stroke-width="1.1"/>
<circle cx="611.0" cy="432.7" r="2.2" fill="none" stroke="#1b2a6b" stroke-width="1.1"/>
<circle cx="630.1" cy="433.8" r="2.2" fill="none" stroke="#1b2a6b" stroke-width="1.1"/>
<circle cx="621.6" cy="438.0" r="2.2" fill="none" stroke="#1b2a6b" stroke-width="1.1"/>
<circle cx="624.1" cy="438.0" r="2.2" fill="none" stroke="#1b2a6b" stroke-width="1.1"/>
<circle cx="625.8" cy="428.5" r="2.2" fill="none" stroke="#1b2a6b" stroke-width="1.1"/>
<circle cx="623.7" cy="447.6" r="2.2" fill="none" stroke="#1b2a6b" stroke-width="1.1"/>
<circle cx="615.7" cy="445.0" r="2.2" fill="none" stroke="#1b2a6b" stroke-width="1.1"/>
<circle cx="615.3" cy="455.0" r="2.2" fill="none" stroke="#1b2a6b" stroke-width="1.1"/>
<circle cx="608.9" cy="470.8" r="2.2" fill="none" stroke="#1b2a6b" stroke-width="1.1"/>
<circle cx="608.9" cy="462.4" r="2.2" fill="none" stroke="#1b2a6b" stroke-width="1.1"/>
<circle cx="571.9" cy="445.4" r="2.2" fill="none" stroke="#1b2a6b" stroke-width="1.1"/>
<circle cx="577.2" cy="445.4" r="2.2" fill="none" stroke="#1b2a6b" stroke-width="1.1"/>
<circle cx="563.8" cy="459.2" r="2.2" fill="none" stroke="#1b2a6b" stroke-width="1.1"/>
<circle cx="564.5" cy="464.5" r="2.2" fill="none" stroke="#1b2a6b" stroke-width="1.1"/>
<circle cx="545.0" cy="463.4" r="2.2" fill="none" stroke="#1b2a6b" stroke-width="1.1"/>
<circle cx="551.8" cy="469.8" r="2.2" fill="none" stroke="#1b2a6b" stroke-width="1.1"/>
<circle cx="558.1" cy="466.6" r="2.2" fill="none" stroke="#1b2a6b" stroke-width="1.1"/>
<circle cx="539.5" cy="478.9" r="2.2" fill="none" stroke="#1b2a6b" stroke-width="1.1"/>
<circle cx="649.1" cy="400.6" r="2.2" fill="none" stroke="#1b2a6b" stroke-width="1.1"/>
<circle cx="648.7" cy="402.0" r="2.2" fill="none" stroke="#1b2a6b" stroke-width="1.1"/>
<circle cx="639.6" cy="411.6" r="2.2" fill="none" stroke="#1b2a6b" stroke-width="1.1"/>
<circle cx="634.3" cy="412.6" r="2.2" fill="none" stroke="#1b2a6b" stroke-width="1.1"/>
<circle cx="570.8" cy="453.9" r="2.2" fill="none" stroke="#1b2a6b" stroke-width="1.1"/>
<circle cx="583.5" cy="434.9" r="2.2" fill="none" stroke="#1b2a6b" stroke-width="1.1"/>
<circle cx="580.3" cy="432.7" r="2.2" fill="none" stroke="#1b2a6b" stroke-width="1.1"/>
<circle cx="617.4" cy="428.5" r="2.2" fill="none" stroke="#1b2a6b" stroke-width="1.1"/>
<circle cx="614.2" cy="439.1" r="2.2" fill="none" stroke="#1b2a6b" stroke-width="1.1"/>
<circle cx="611.0" cy="449.7" r="2.2" fill="none" stroke="#1b2a6b" stroke-width="1.1"/>
<circle cx="619.5" cy="422.2" r="2.2" fill="none" stroke="#1b2a6b" stroke-width="1.1"/>
<circle cx="625.8" cy="417.9" r="2.2" fill="none" stroke="#1b2a6b" stroke-width="1.1"/>
<circle cx="600.4" cy="417.9" r="2.2" fill="none" stroke="#1b2a6b" stroke-width="1.1"/>
<circle cx="631.6" cy="375.6" r="2.0" fill="#1b2a6b"/>
<circle cx="625.8" cy="385.7" r="2.0" fill="#1b2a6b"/>
<circle cx="608.5" cy="415.0" r="2.0" fill="#1b2a6b"/>
<circle cx="645.3" cy="443.3" r="2.0" fill="#1b2a6b"/>
<circle cx="609.6" cy="461.0" r="2.2" fill="none" stroke="#1b2a6b" stroke-width="1.1"/>
<circle cx="581.5" cy="457.1" r="2.2" fill="none" stroke="#1b2a6b" stroke-width="1.1"/>
<circle cx="594.1" cy="443.6" r="2.2" fill="none" stroke="#1b2a6b" stroke-width="1.1"/>
<circle cx="580.8" cy="437.7" r="2.2" fill="none" stroke="#1b2a6b" stroke-width="1.1"/>
<circle cx="581.1" cy="479.7" r="2.2" fill="none" stroke="#1b2a6b" stroke-width="1.1"/>
<circle cx="572.4" cy="460.7" r="2.2" fill="none" stroke="#1b2a6b" stroke-width="1.1"/>
<circle cx="600.6" cy="471.7" r="2.2" fill="none" stroke="#1b2a6b" stroke-width="1.1"/>
<circle cx="559.1" cy="475.3" r="2.2" fill="none" stroke="#1b2a6b" stroke-width="1.1"/>
<circle cx="583.1" cy="429.2" r="2.2" fill="none" stroke="#1b2a6b" stroke-width="1.1"/>
<circle cx="589.2" cy="478.4" r="2.2" fill="none" stroke="#1b2a6b" stroke-width="1.1"/>
<circle cx="559.6" cy="488.0" r="2.2" fill="none" stroke="#1b2a6b" stroke-width="1.1"/>
<circle cx="587.7" cy="434.1" r="2.2" fill="none" stroke="#1b2a6b" stroke-width="1.1"/>
<circle cx="605.0" cy="434.6" r="2.2" fill="none" stroke="#1b2a6b" stroke-width="1.1"/>
<circle cx="573.4" cy="468.7" r="2.2" fill="none" stroke="#1b2a6b" stroke-width="1.1"/>
<circle cx="607.9" cy="445.0" r="2.2" fill="none" stroke="#1b2a6b" stroke-width="1.1"/>
<circle cx="588.8" cy="423.9" r="2.2" fill="none" stroke="#1b2a6b" stroke-width="1.1"/>
<circle cx="563.4" cy="467.2" r="2.2" fill="none" stroke="#1b2a6b" stroke-width="1.1"/>
<circle cx="597.2" cy="478.5" r="2.2" fill="none" stroke="#1b2a6b" stroke-width="1.1"/>
<circle cx="592.3" cy="463.3" r="2.2" fill="none" stroke="#1b2a6b" stroke-width="1.1"/>
<circle cx="599.2" cy="492.2" r="2.2" fill="none" stroke="#1b2a6b" stroke-width="1.1"/>
<circle cx="603.3" cy="487.1" r="2.2" fill="none" stroke="#1b2a6b" stroke-width="1.1"/>
<circle cx="606.4" cy="481.8" r="2.2" fill="none" stroke="#1b2a6b" stroke-width="1.1"/>
<circle cx="572.4" cy="470.5" r="2.2" fill="none" stroke="#1b2a6b" stroke-width="1.1"/>
<circle cx="609.7" cy="455.7" r="2.2" fill="none" stroke="#1b2a6b" stroke-width="1.1"/>
<circle cx="558.0" cy="478.0" r="2.2" fill="none" stroke="#1b2a6b" stroke-width="1.1"/>
<circle cx="583.2" cy="447.0" r="2.2" fill="none" stroke="#1b2a6b" stroke-width="1.1"/>
<circle cx="595.4" cy="502.6" r="2.2" fill="none" stroke="#1b2a6b" stroke-width="1.1"/>
<circle cx="592.0" cy="423.1" r="2.2" fill="none" stroke="#1b2a6b" stroke-width="1.1"/>
<circle cx="599.4" cy="502.1" r="2.2" fill="none" stroke="#1b2a6b" stroke-width="1.1"/>
<circle cx="584.3" cy="456.7" r="2.2" fill="none" stroke="#1b2a6b" stroke-width="1.1"/>
<circle cx="591.7" cy="465.5" r="2.2" fill="none" stroke="#1b2a6b" stroke-width="1.1"/>
<circle cx="591.4" cy="465.6" r="2.2" fill="none" stroke="#1b2a6b" stroke-width="1.1"/>
<circle cx="605.6" cy="470.5" r="2.2" fill="none" stroke="#1b2a6b" stroke-width="1.1"/>
<circle cx="585.5" cy="503.3" r="2.2" fill="none" stroke="#1b2a6b" stroke-width="1.1"/>
<circle cx="558.1" cy="499.3" r="2.2" fill="none" stroke="#1b2a6b" stroke-width="1.1"/>
<circle cx="569.0" cy="461.8" r="2.2" fill="none" stroke="#1b2a6b" stroke-width="1.1"/>
<circle cx="604.7" cy="467.5" r="2.2" fill="none" stroke="#1b2a6b" stroke-width="1.1"/>
<circle cx="590.3" cy="480.5" r="2.2" fill="none" stroke="#1b2a6b" stroke-width="1.1"/>
<circle cx="590.5" cy="454.2" r="2.2" fill="none" stroke="#1b2a6b" stroke-width="1.1"/>
<circle cx="615.4" cy="439.8" r="2.2" fill="none" stroke="#1b2a6b" stroke-width="1.1"/>
<circle cx="569.9" cy="464.2" r="2.2" fill="none" stroke="#1b2a6b" stroke-width="1.1"/>
<circle cx="567.3" cy="498.0" r="2.2" fill="none" stroke="#1b2a6b" stroke-width="1.1"/>
<circle cx="597.3" cy="505.6" r="2.2" fill="none" stroke="#1b2a6b" stroke-width="1.1"/>
<circle cx="585.8" cy="495.9" r="2.2" fill="none" stroke="#1b2a6b" stroke-width="1.1"/>
<circle cx="582.6" cy="457.9" r="2.2" fill="none" stroke="#1b2a6b" stroke-width="1.1"/>
<circle cx="604.5" cy="464.1" r="2.2" fill="none" stroke="#1b2a6b" stroke-width="1.1"/>
<circle cx="608.3" cy="477.6" r="2.2" fill="none" stroke="#1b2a6b" stroke-width="1.1"/>
<circle cx="596.6" cy="449.8" r="2.2" fill="none" stroke="#1b2a6b" stroke-width="1.1"/>
<circle cx="550.3" cy="507.9" r="2.2" fill="none" stroke="#1b2a6b" stroke-width="1.1"/>
<circle cx="602.8" cy="467.6" r="2.2" fill="none" stroke="#1b2a6b" stroke-width="1.1"/>
<circle cx="568.6" cy="488.4" r="2.2" fill="none" stroke="#1b2a6b" stroke-width="1.1"/>
<circle cx="582.4" cy="459.7" r="2.2" fill="none" stroke="#1b2a6b" stroke-width="1.1"/>
<circle cx="600.5" cy="453.1" r="2.2" fill="none" stroke="#1b2a6b" stroke-width="1.1"/>
<circle cx="592.7" cy="476.2" r="2.2" fill="none" stroke="#1b2a6b" stroke-width="1.1"/>
<circle cx="563.1" cy="504.7" r="2.2" fill="none" stroke="#1b2a6b" stroke-width="1.1"/>
<circle cx="604.1" cy="472.7" r="2.2" fill="none" stroke="#1b2a6b" stroke-width="1.1"/>
<circle cx="607.6" cy="428.9" r="2.2" fill="none" stroke="#1b2a6b" stroke-width="1.1"/>
<circle cx="570.6" cy="480.4" r="2.2" fill="none" stroke="#1b2a6b" stroke-width="1.1"/>
<circle cx="599.6" cy="462.8" r="2.2" fill="none" stroke="#1b2a6b" stroke-width="1.1"/>
<circle cx="578.9" cy="438.3" r="2.2" fill="none" stroke="#1b2a6b" stroke-width="1.1"/>
<circle cx="552.2" cy="504.0" r="2.2" fill="none" stroke="#1b2a6b" stroke-width="1.1"/>
<circle cx="581.4" cy="429.1" r="2.2" fill="none" stroke="#1b2a6b" stroke-width="1.1"/>
<circle cx="598.0" cy="471.8" r="2.2" fill="none" stroke="#1b2a6b" stroke-width="1.1"/>
<circle cx="558.7" cy="502.3" r="2.2" fill="none" stroke="#1b2a6b" stroke-width="1.1"/>
<circle cx="609.5" cy="467.1" r="2.2" fill="none" stroke="#1b2a6b" stroke-width="1.1"/>
<circle cx="601.9" cy="438.4" r="2.2" fill="none" stroke="#1b2a6b" stroke-width="1.1"/>
<circle cx="594.9" cy="499.4" r="2.2" fill="none" stroke="#1b2a6b" stroke-width="1.1"/>
<circle cx="612.5" cy="449.0" r="2.2" fill="none" stroke="#1b2a6b" stroke-width="1.1"/>
<circle cx="601.0" cy="481.8" r="2.2" fill="none" stroke="#1b2a6b" stroke-width="1.1"/>
<circle cx="593.9" cy="496.2" r="2.2" fill="none" stroke="#1b2a6b" stroke-width="1.1"/>
<circle cx="601.7" cy="448.3" r="2.2" fill="none" stroke="#1b2a6b" stroke-width="1.1"/>
<circle cx="572.8" cy="472.4" r="2.2" fill="none" stroke="#1b2a6b" stroke-width="1.1"/>
<circle cx="597.8" cy="430.5" r="2.2" fill="none" stroke="#1b2a6b" stroke-width="1.1"/>
<circle cx="586.4" cy="503.7" r="2.2" fill="none" stroke="#1b2a6b" stroke-width="1.1"/>
<circle cx="597.9" cy="446.6" r="2.2" fill="none" stroke="#1b2a6b" stroke-width="1.1"/>
<circle cx="599.1" cy="457.4" r="2.2" fill="none" stroke="#1b2a6b" stroke-width="1.1"/>
<circle cx="603.8" cy="456.4" r="2.2" fill="none" stroke="#1b2a6b" stroke-width="1.1"/>
<circle cx="602.0" cy="458.3" r="2.2" fill="none" stroke="#1b2a6b" stroke-width="1.1"/>
<circle cx="580.9" cy="493.9" r="2.2" fill="none" stroke="#1b2a6b" stroke-width="1.1"/>
<circle cx="559.2" cy="480.4" r="2.2" fill="none" stroke="#1b2a6b" stroke-width="1.1"/>
<circle cx="568.4" cy="484.3" r="2.2" fill="none" stroke="#1b2a6b" stroke-width="1.1"/>
<circle cx="593.1" cy="498.4" r="2.2" fill="none" stroke="#1b2a6b" stroke-width="1.1"/>
<circle cx="584.1" cy="483.3" r="2.2" fill="none" stroke="#1b2a6b" stroke-width="1.1"/>
<circle cx="581.5" cy="479.2" r="2.2" fill="none" stroke="#1b2a6b" stroke-width="1.1"/>
<circle cx="567.9" cy="463.1" r="2.2" fill="none" stroke="#1b2a6b" stroke-width="1.1"/>
<circle cx="596.2" cy="474.8" r="2.2" fill="none" stroke="#1b2a6b" stroke-width="1.1"/>
<circle cx="609.4" cy="457.0" r="2.2" fill="none" stroke="#1b2a6b" stroke-width="1.1"/>
<circle cx="578.3" cy="499.8" r="2.2" fill="none" stroke="#1b2a6b" stroke-width="1.1"/>
<circle cx="579.2" cy="501.4" r="2.2" fill="none" stroke="#1b2a6b" stroke-width="1.1"/>
<circle cx="605.7" cy="483.3" r="2.2" fill="none" stroke="#1b2a6b" stroke-width="1.1"/>
<circle cx="575.0" cy="503.8" r="2.2" fill="none" stroke="#1b2a6b" stroke-width="1.1"/>
<circle cx="597.9" cy="475.3" r="2.2" fill="none" stroke="#1b2a6b" stroke-width="1.1"/>
<circle cx="602.8" cy="491.0" r="2.2" fill="none" stroke="#1b2a6b" stroke-width="1.1"/>
<circle cx="592.2" cy="485.2" r="2.2" fill="none" stroke="#1b2a6b" stroke-width="1.1"/>
<circle cx="595.7" cy="499.5" r="2.2" fill="none" stroke="#1b2a6b" stroke-width="1.1"/>
<circle cx="584.3" cy="501.8" r="2.2" fill="none" stroke="#1b2a6b" stroke-width="1.1"/>
<circle cx="580.9" cy="468.6" r="2.2" fill="none" stroke="#1b2a6b" stroke-width="1.1"/>
<circle cx="603.7" cy="430.0" r="2.2" fill="none" stroke="#1b2a6b" stroke-width="1.1"/>
<circle cx="605.9" cy="455.7" r="2.2" fill="none" stroke="#1b2a6b" stroke-width="1.1"/>
<circle cx="597.3" cy="437.0" r="2.2" fill="none" stroke="#1b2a6b" stroke-width="1.1"/>
<circle cx="595.1" cy="433.4" r="2.2" fill="none" stroke="#1b2a6b" stroke-width="1.1"/>
<circle cx="582.6" cy="485.4" r="2.2" fill="none" stroke="#1b2a6b" stroke-width="1.1"/>
<circle cx="579.9" cy="500.5" r="2.2" fill="none" stroke="#1b2a6b" stroke-width="1.1"/>
<circle cx="588.2" cy="460.7" r="2.2" fill="none" stroke="#1b2a6b" stroke-width="1.1"/>
<circle cx="608.4" cy="457.8" r="2.2" fill="none" stroke="#1b2a6b" stroke-width="1.1"/>
<circle cx="595.7" cy="479.1" r="2.2" fill="none" stroke="#1b2a6b" stroke-width="1.1"/>
<circle cx="576.7" cy="473.0" r="2.2" fill="none" stroke="#1b2a6b" stroke-width="1.1"/>
<circle cx="575.1" cy="470.1" r="2.2" fill="none" stroke="#1b2a6b" stroke-width="1.1"/>
<circle cx="594.0" cy="460.4" r="2.2" fill="none" stroke="#1b2a6b" stroke-width="1.1"/>
<circle cx="561.3" cy="481.2" r="2.2" fill="none" stroke="#1b2a6b" stroke-width="1.1"/>
<circle cx="591.8" cy="422.5" r="2.2" fill="none" stroke="#1b2a6b" stroke-width="1.1"/>
<circle cx="603.5" cy="472.2" r="2.2" fill="none" stroke="#1b2a6b" stroke-width="1.1"/>
<circle cx="590.9" cy="436.4" r="2.2" fill="none" stroke="#1b2a6b" stroke-width="1.1"/>
<circle cx="582.5" cy="461.9" r="2.2" fill="none" stroke="#1b2a6b" stroke-width="1.1"/>
<circle cx="585.7" cy="442.5" r="2.2" fill="none" stroke="#1b2a6b" stroke-width="1.1"/>
<circle cx="578.4" cy="478.5" r="2.2" fill="none" stroke="#1b2a6b" stroke-width="1.1"/>
<circle cx="614.7" cy="434.3" r="2.2" fill="none" stroke="#1b2a6b" stroke-width="1.1"/>
<circle cx="592.2" cy="451.2" r="2.2" fill="none" stroke="#1b2a6b" stroke-width="1.1"/>
<circle cx="609.4" cy="443.3" r="2.2" fill="none" stroke="#1b2a6b" stroke-width="1.1"/>
<circle cx="570.3" cy="477.0" r="2.2" fill="none" stroke="#1b2a6b" stroke-width="1.1"/>
<circle cx="571.5" cy="495.2" r="2.2" fill="none" stroke="#1b2a6b" stroke-width="1.1"/>
<circle cx="580.1" cy="493.6" r="2.2" fill="none" stroke="#1b2a6b" stroke-width="1.1"/>
<circle cx="569.6" cy="497.8" r="2.2" fill="none" stroke="#1b2a6b" stroke-width="1.1"/>
<circle cx="594.0" cy="457.4" r="2.2" fill="none" stroke="#1b2a6b" stroke-width="1.1"/>
<circle cx="593.2" cy="484.0" r="2.2" fill="none" stroke="#1b2a6b" stroke-width="1.1"/>
<circle cx="579.9" cy="464.2" r="2.2" fill="none" stroke="#1b2a6b" stroke-width="1.1"/>
<circle cx="596.4" cy="429.2" r="2.2" fill="none" stroke="#1b2a6b" stroke-width="1.1"/>
<circle cx="582.7" cy="463.2" r="2.2" fill="none" stroke="#1b2a6b" stroke-width="1.1"/>
<circle cx="600.4" cy="459.4" r="2.2" fill="none" stroke="#1b2a6b" stroke-width="1.1"/>
<circle cx="576.3" cy="501.3" r="2.2" fill="none" stroke="#1b2a6b" stroke-width="1.1"/>
<circle cx="599.1" cy="455.6" r="2.3" fill="none" stroke="#1b2a6b" stroke-width="1.3"/>
<circle cx="568.3" cy="499.5" r="2.3" fill="none" stroke="#1b2a6b" stroke-width="1.3"/>
<circle cx="553.8" cy="505.3" r="2.3" fill="none" stroke="#1b2a6b" stroke-width="1.3"/>
<circle cx="582.0" cy="468.8" r="2.3" fill="none" stroke="#1b2a6b" stroke-width="1.3"/>
<circle cx="574.3" cy="459.0" r="2.3" fill="none" stroke="#1b2a6b" stroke-width="1.3"/>
<circle cx="595.5" cy="458.7" r="2.3" fill="none" stroke="#1b2a6b" stroke-width="1.3"/>
<circle cx="581.0" cy="452.7" r="2.3" fill="none" stroke="#1b2a6b" stroke-width="1.3"/>
<circle cx="578.9" cy="475.0" r="2.3" fill="none" stroke="#1b2a6b" stroke-width="1.3"/>
<circle cx="576.9" cy="481.4" r="2.3" fill="none" stroke="#1b2a6b" stroke-width="1.3"/>
<circle cx="591.6" cy="456.3" r="2.3" fill="none" stroke="#1b2a6b" stroke-width="1.3"/>
<circle cx="600.9" cy="454.8" r="2.3" fill="none" stroke="#1b2a6b" stroke-width="1.3"/>
<circle cx="599.9" cy="450.7" r="2.3" fill="none" stroke="#1b2a6b" stroke-width="1.3"/>
<circle cx="573.3" cy="480.4" r="2.3" fill="none" stroke="#1b2a6b" stroke-width="1.3"/>
<circle cx="583.4" cy="466.8" r="2.3" fill="none" stroke="#1b2a6b" stroke-width="1.3"/>
<circle cx="597.8" cy="440.0" r="2.3" fill="none" stroke="#1b2a6b" stroke-width="1.3"/>
<circle cx="607.0" cy="449.1" r="2.3" fill="none" stroke="#1b2a6b" stroke-width="1.3"/>
<circle cx="594.5" cy="465.5" r="2.3" fill="none" stroke="#1b2a6b" stroke-width="1.3"/>
<circle cx="590.3" cy="509.6" r="2.3" fill="none" stroke="#1b2a6b" stroke-width="1.3"/>
<circle cx="605.4" cy="466.0" r="2.3" fill="none" stroke="#1b2a6b" stroke-width="1.3"/>
<circle cx="592.2" cy="478.0" r="2.3" fill="none" stroke="#1b2a6b" stroke-width="1.3"/>
<circle cx="560.9" cy="508.8" r="2.3" fill="none" stroke="#1b2a6b" stroke-width="1.3"/>
<circle cx="588.2" cy="436.8" r="2.3" fill="none" stroke="#1b2a6b" stroke-width="1.3"/>
<circle cx="584.4" cy="447.4" r="2.3" fill="none" stroke="#1b2a6b" stroke-width="1.3"/>
<circle cx="592.5" cy="462.0" r="2.3" fill="none" stroke="#1b2a6b" stroke-width="1.3"/>
<circle cx="594.2" cy="503.1" r="2.3" fill="none" stroke="#1b2a6b" stroke-width="1.3"/>
<circle cx="601.6" cy="461.4" r="2.3" fill="none" stroke="#1b2a6b" stroke-width="1.3"/>
<circle cx="568.8" cy="467.7" r="2.3" fill="none" stroke="#1b2a6b" stroke-width="1.3"/>
<circle cx="559.1" cy="499.8" r="2.3" fill="none" stroke="#1b2a6b" stroke-width="1.3"/>
<circle cx="590.5" cy="481.8" r="2.3" fill="none" stroke="#1b2a6b" stroke-width="1.3"/>
<circle cx="560.4" cy="508.1" r="2.3" fill="none" stroke="#1b2a6b" stroke-width="1.3"/>
<circle cx="583.3" cy="445.7" r="2.3" fill="none" stroke="#1b2a6b" stroke-width="1.3"/>
<circle cx="567.0" cy="493.5" r="2.3" fill="none" stroke="#1b2a6b" stroke-width="1.3"/>
<circle cx="588.6" cy="446.6" r="2.3" fill="none" stroke="#1b2a6b" stroke-width="1.3"/>
<circle cx="585.7" cy="499.0" r="2.3" fill="none" stroke="#1b2a6b" stroke-width="1.3"/>
<circle cx="562.1" cy="507.7" r="2.3" fill="none" stroke="#1b2a6b" stroke-width="1.3"/>
<circle cx="579.9" cy="508.5" r="2.3" fill="none" stroke="#1b2a6b" stroke-width="1.3"/>
<circle cx="599.9" cy="455.5" r="2.3" fill="none" stroke="#1b2a6b" stroke-width="1.3"/>
<circle cx="580.1" cy="501.1" r="2.3" fill="none" stroke="#1b2a6b" stroke-width="1.3"/>
<circle cx="582.8" cy="464.2" r="2.3" fill="none" stroke="#1b2a6b" stroke-width="1.3"/>
<circle cx="587.3" cy="439.4" r="2.3" fill="none" stroke="#1b2a6b" stroke-width="1.3"/>
<circle cx="587.9" cy="511.0" r="2.3" fill="none" stroke="#1b2a6b" stroke-width="1.3"/>
<circle cx="556.7" cy="506.1" r="2.3" fill="none" stroke="#1b2a6b" stroke-width="1.3"/>
<circle cx="592.8" cy="469.5" r="2.3" fill="none" stroke="#1b2a6b" stroke-width="1.3"/>
<circle cx="595.9" cy="442.7" r="2.3" fill="none" stroke="#1b2a6b" stroke-width="1.3"/>
<circle cx="597.7" cy="461.2" r="2.3" fill="none" stroke="#1b2a6b" stroke-width="1.3"/>
<circle cx="554.9" cy="502.6" r="2.3" fill="none" stroke="#1b2a6b" stroke-width="1.3"/>
<circle cx="597.6" cy="475.6" r="2.3" fill="none" stroke="#1b2a6b" stroke-width="1.3"/>
<circle cx="562.0" cy="502.9" r="2.3" fill="none" stroke="#1b2a6b" stroke-width="1.3"/>
<circle cx="571.1" cy="490.1" r="2.3" fill="none" stroke="#1b2a6b" stroke-width="1.3"/>
<circle cx="579.9" cy="471.7" r="2.3" fill="none" stroke="#1b2a6b" stroke-width="1.3"/>
<circle cx="590.4" cy="497.0" r="2.3" fill="none" stroke="#1b2a6b" stroke-width="1.3"/>
<circle cx="570.4" cy="496.7" r="2.3" fill="none" stroke="#1b2a6b" stroke-width="1.3"/>
<circle cx="575.2" cy="471.0" r="2.3" fill="none" stroke="#1b2a6b" stroke-width="1.3"/>
<circle cx="556.0" cy="497.7" r="2.3" fill="none" stroke="#1b2a6b" stroke-width="1.3"/>
<circle cx="590.6" cy="460.5" r="2.3" fill="none" stroke="#1b2a6b" stroke-width="1.3"/>
<circle cx="601.3" cy="448.3" r="2.3" fill="none" stroke="#1b2a6b" stroke-width="1.3"/>
<circle cx="599.9" cy="443.2" r="2.3" fill="none" stroke="#1b2a6b" stroke-width="1.3"/>
<circle cx="583.1" cy="455.3" r="2.3" fill="none" stroke="#1b2a6b" stroke-width="1.3"/>
<circle cx="593.1" cy="485.6" r="2.3" fill="none" stroke="#1b2a6b" stroke-width="1.3"/>
<circle cx="568.7" cy="482.6" r="2.3" fill="none" stroke="#1b2a6b" stroke-width="1.3"/>
<circle cx="583.0" cy="460.6" r="2.3" fill="none" stroke="#1b2a6b" stroke-width="1.3"/>
<circle cx="595.5" cy="500.7" r="2.3" fill="none" stroke="#1b2a6b" stroke-width="1.3"/>
<circle cx="588.0" cy="450.9" r="2.3" fill="none" stroke="#1b2a6b" stroke-width="1.3"/>
<circle cx="599.9" cy="465.2" r="2.3" fill="none" stroke="#1b2a6b" stroke-width="1.3"/>
<circle cx="606.4" cy="462.9" r="2.3" fill="none" stroke="#1b2a6b" stroke-width="1.3"/>
<circle cx="593.1" cy="478.6" r="2.3" fill="none" stroke="#1b2a6b" stroke-width="1.3"/>
<circle cx="601.2" cy="443.2" r="2.3" fill="none" stroke="#1b2a6b" stroke-width="1.3"/>
<circle cx="591.2" cy="469.2" r="2.3" fill="none" stroke="#1b2a6b" stroke-width="1.3"/>
<circle cx="562.7" cy="501.0" r="2.3" fill="none" stroke="#1b2a6b" stroke-width="1.3"/>
<circle cx="573.1" cy="465.2" r="2.3" fill="none" stroke="#1b2a6b" stroke-width="1.3"/>
<circle cx="593.8" cy="453.5" r="2.3" fill="none" stroke="#1b2a6b" stroke-width="1.3"/>
<circle cx="580.1" cy="498.8" r="2.3" fill="none" stroke="#1b2a6b" stroke-width="1.3"/>
<circle cx="606.3" cy="447.6" r="2.3" fill="none" stroke="#1b2a6b" stroke-width="1.3"/>
<circle cx="594.6" cy="436.9" r="2.3" fill="none" stroke="#1b2a6b" stroke-width="1.3"/>
<circle cx="593.3" cy="457.5" r="2.3" fill="none" stroke="#1b2a6b" stroke-width="1.3"/>
<circle cx="571.1" cy="464.3" r="2.3" fill="none" stroke="#1b2a6b" stroke-width="1.3"/>
<circle cx="579.6" cy="455.1" r="2.3" fill="none" stroke="#1b2a6b" stroke-width="1.3"/>
<circle cx="566.0" cy="493.6" r="2.3" fill="none" stroke="#1b2a6b" stroke-width="1.3"/>
<circle cx="572.4" cy="494.5" r="2.3" fill="none" stroke="#1b2a6b" stroke-width="1.3"/>
<circle cx="601.9" cy="449.9" r="2.3" fill="none" stroke="#1b2a6b" stroke-width="1.3"/>
<circle cx="563.6" cy="506.4" r="2.3" fill="none" stroke="#1b2a6b" stroke-width="1.3"/>
<circle cx="595.7" cy="495.1" r="2.3" fill="none" stroke="#1b2a6b" stroke-width="1.3"/>
<circle cx="570.5" cy="498.3" r="2.3" fill="none" stroke="#1b2a6b" stroke-width="1.3"/>
<circle cx="582.3" cy="448.0" r="2.3" fill="none" stroke="#1b2a6b" stroke-width="1.3"/>
<circle cx="596.2" cy="494.6" r="2.3" fill="none" stroke="#1b2a6b" stroke-width="1.3"/>
<circle cx="579.6" cy="488.6" r="2.3" fill="none" stroke="#1b2a6b" stroke-width="1.3"/>
<circle cx="598.0" cy="444.8" r="2.3" fill="none" stroke="#1b2a6b" stroke-width="1.3"/>
<circle cx="558.5" cy="504.6" r="2.3" fill="none" stroke="#1b2a6b" stroke-width="1.3"/>
<circle cx="581.7" cy="500.9" r="2.3" fill="none" stroke="#1b2a6b" stroke-width="1.3"/>
<circle cx="577.1" cy="510.7" r="2.3" fill="none" stroke="#1b2a6b" stroke-width="1.3"/>
<circle cx="597.7" cy="485.7" r="2.3" fill="none" stroke="#1b2a6b" stroke-width="1.3"/>
<circle cx="591.8" cy="441.6" r="2.3" fill="none" stroke="#1b2a6b" stroke-width="1.3"/>
<circle cx="592.0" cy="507.3" r="2.3" fill="none" stroke="#1b2a6b" stroke-width="1.3"/>
<circle cx="597.8" cy="462.1" r="2.3" fill="none" stroke="#1b2a6b" stroke-width="1.3"/>
<circle cx="593.4" cy="444.5" r="2.3" fill="none" stroke="#1b2a6b" stroke-width="1.3"/>
<circle cx="565.8" cy="494.4" r="2.3" fill="none" stroke="#1b2a6b" stroke-width="1.3"/>
<circle cx="591.9" cy="493.2" r="2.3" fill="none" stroke="#1b2a6b" stroke-width="1.3"/>
<circle cx="606.8" cy="457.9" r="2.3" fill="none" stroke="#1b2a6b" stroke-width="1.3"/>
<circle cx="567.7" cy="482.1" r="2.3" fill="none" stroke="#1b2a6b" stroke-width="1.3"/>
<circle cx="589.2" cy="448.2" r="2.3" fill="none" stroke="#1b2a6b" stroke-width="1.3"/>
<circle cx="590.7" cy="502.6" r="2.3" fill="none" stroke="#1b2a6b" stroke-width="1.3"/>
<circle cx="603.9" cy="456.1" r="2.3" fill="none" stroke="#1b2a6b" stroke-width="1.3"/>
<circle cx="568.1" cy="508.5" r="2.3" fill="none" stroke="#1b2a6b" stroke-width="1.3"/>
<circle cx="586.7" cy="451.2" r="2.3" fill="none" stroke="#1b2a6b" stroke-width="1.3"/>
<circle cx="563.2" cy="489.1" r="2.3" fill="none" stroke="#1b2a6b" stroke-width="1.3"/>
<circle cx="562.1" cy="487.5" r="2.3" fill="none" stroke="#1b2a6b" stroke-width="1.3"/>
<circle cx="590.6" cy="435.9" r="2.3" fill="none" stroke="#1b2a6b" stroke-width="1.3"/>
<circle cx="588.9" cy="446.1" r="2.3" fill="none" stroke="#1b2a6b" stroke-width="1.3"/>
<circle cx="575.6" cy="464.6" r="2.3" fill="none" stroke="#1b2a6b" stroke-width="1.3"/>
<circle cx="564.4" cy="480.0" r="2.3" fill="none" stroke="#1b2a6b" stroke-width="1.3"/>
<circle cx="601.2" cy="482.0" r="2.3" fill="none" stroke="#1b2a6b" stroke-width="1.3"/>
<circle cx="564.5" cy="480.8" r="2.3" fill="none" stroke="#1b2a6b" stroke-width="1.3"/>
<circle cx="589.9" cy="510.9" r="2.3" fill="none" stroke="#1b2a6b" stroke-width="1.3"/>
<circle cx="604.1" cy="461.2" r="2.3" fill="none" stroke="#1b2a6b" stroke-width="1.3"/>
<circle cx="598.6" cy="466.0" r="2.3" fill="none" stroke="#1b2a6b" stroke-width="1.3"/>
<circle cx="581.6" cy="461.4" r="2.3" fill="none" stroke="#1b2a6b" stroke-width="1.3"/>
<circle cx="576.5" cy="479.2" r="2.3" fill="none" stroke="#1b2a6b" stroke-width="1.3"/>
<circle cx="578.5" cy="482.8" r="2.3" fill="none" stroke="#1b2a6b" stroke-width="1.3"/>
<circle cx="564.4" cy="510.9" r="2.3" fill="none" stroke="#1b2a6b" stroke-width="1.3"/>
<circle cx="588.0" cy="497.6" r="2.3" fill="none" stroke="#1b2a6b" stroke-width="1.3"/>
<circle cx="583.2" cy="443.3" r="2.3" fill="none" stroke="#1b2a6b" stroke-width="1.3"/>
<circle cx="588.9" cy="483.2" r="2.3" fill="none" stroke="#1b2a6b" stroke-width="1.3"/>
<circle cx="555.2" cy="506.8" r="2.3" fill="none" stroke="#1b2a6b" stroke-width="1.3"/>
<circle cx="570.7" cy="473.9" r="2.3" fill="none" stroke="#1b2a6b" stroke-width="1.3"/>
<circle cx="571.7" cy="475.8" r="2.3" fill="none" stroke="#1b2a6b" stroke-width="1.3"/>
<circle cx="575.8" cy="455.2" r="2.3" fill="none" stroke="#1b2a6b" stroke-width="1.3"/>
<circle cx="590.3" cy="499.1" r="2.3" fill="none" stroke="#1b2a6b" stroke-width="1.3"/>
<circle cx="579.9" cy="497.5" r="2.3" fill="none" stroke="#1b2a6b" stroke-width="1.3"/>
<circle cx="592.6" cy="468.1" r="2.3" fill="none" stroke="#1b2a6b" stroke-width="1.3"/>
<circle cx="585.0" cy="509.8" r="2.3" fill="none" stroke="#1b2a6b" stroke-width="1.3"/>
<circle cx="580.1" cy="483.6" r="2.3" fill="none" stroke="#1b2a6b" stroke-width="1.3"/>
<circle cx="604.0" cy="461.4" r="2.3" fill="none" stroke="#1b2a6b" stroke-width="1.3"/>
<circle cx="593.4" cy="454.8" r="2.3" fill="none" stroke="#1b2a6b" stroke-width="1.3"/>
<circle cx="576.9" cy="489.0" r="2.3" fill="none" stroke="#1b2a6b" stroke-width="1.3"/>
<circle cx="602.9" cy="455.6" r="2.3" fill="none" stroke="#1b2a6b" stroke-width="1.3"/>
<circle cx="573.7" cy="506.7" r="2.3" fill="none" stroke="#1b2a6b" stroke-width="1.3"/>
<circle cx="585.1" cy="443.6" r="2.3" fill="none" stroke="#1b2a6b" stroke-width="1.3"/>
<circle cx="592.9" cy="471.0" r="2.3" fill="none" stroke="#1b2a6b" stroke-width="1.3"/>
<circle cx="597.9" cy="447.5" r="2.3" fill="none" stroke="#1b2a6b" stroke-width="1.3"/>
<circle cx="578.5" cy="450.2" r="2.3" fill="none" stroke="#1b2a6b" stroke-width="1.3"/>
<circle cx="578.6" cy="454.7" r="2.3" fill="none" stroke="#1b2a6b" stroke-width="1.3"/>
<circle cx="600.7" cy="484.4" r="2.3" fill="none" stroke="#1b2a6b" stroke-width="1.3"/>
<circle cx="588.9" cy="502.5" r="2.3" fill="none" stroke="#1b2a6b" stroke-width="1.3"/>
<circle cx="583.2" cy="473.5" r="2.3" fill="none" stroke="#1b2a6b" stroke-width="1.3"/>
<circle cx="584.8" cy="450.0" r="2.3" fill="none" stroke="#1b2a6b" stroke-width="1.3"/>
<circle cx="600.1" cy="456.8" r="2.3" fill="none" stroke="#1b2a6b" stroke-width="1.3"/>
<circle cx="582.1" cy="505.0" r="2.3" fill="none" stroke="#1b2a6b" stroke-width="1.3"/>
<circle cx="584.4" cy="439.3" r="2.3" fill="none" stroke="#1b2a6b" stroke-width="1.3"/>
<circle cx="587.9" cy="463.1" r="2.3" fill="none" stroke="#1b2a6b" stroke-width="1.3"/>
<circle cx="585.3" cy="440.2" r="2.3" fill="none" stroke="#1b2a6b" stroke-width="1.3"/>
<circle cx="595.2" cy="494.8" r="2.3" fill="none" stroke="#1b2a6b" stroke-width="1.3"/>
<circle cx="581.6" cy="462.8" r="2.3" fill="none" stroke="#1b2a6b" stroke-width="1.3"/>
<circle cx="607.0" cy="455.5" r="2.3" fill="none" stroke="#1b2a6b" stroke-width="1.3"/>
<circle cx="587.9" cy="464.3" r="2.3" fill="none" stroke="#1b2a6b" stroke-width="1.3"/>
<circle cx="579.9" cy="470.1" r="2.3" fill="none" stroke="#1b2a6b" stroke-width="1.3"/>
<circle cx="582.0" cy="482.4" r="2.3" fill="none" stroke="#1b2a6b" stroke-width="1.3"/>
<circle cx="596.8" cy="463.2" r="2.3" fill="none" stroke="#1b2a6b" stroke-width="1.3"/>
<circle cx="586.6" cy="451.9" r="2.3" fill="none" stroke="#1b2a6b" stroke-width="1.3"/>
<circle cx="592.3" cy="438.2" r="2.3" fill="none" stroke="#1b2a6b" stroke-width="1.3"/>
<circle cx="604.9" cy="451.0" r="2.3" fill="none" stroke="#1b2a6b" stroke-width="1.3"/>
<circle cx="595.5" cy="470.7" r="2.3" fill="none" stroke="#1b2a6b" stroke-width="1.3"/>
<circle cx="566.7" cy="499.6" r="2.3" fill="none" stroke="#1b2a6b" stroke-width="1.3"/>
<circle cx="590.9" cy="476.6" r="2.3" fill="none" stroke="#1b2a6b" stroke-width="1.3"/>
<circle cx="579.4" cy="469.7" r="2.3" fill="none" stroke="#1b2a6b" stroke-width="1.3"/>
<circle cx="601.5" cy="473.7" r="2.3" fill="none" stroke="#1b2a6b" stroke-width="1.3"/>
<circle cx="601.9" cy="463.1" r="2.3" fill="none" stroke="#1b2a6b" stroke-width="1.3"/>
<circle cx="573.6" cy="476.8" r="2.3" fill="none" stroke="#1b2a6b" stroke-width="1.3"/>
<circle cx="589.3" cy="473.0" r="2.3" fill="none" stroke="#1b2a6b" stroke-width="1.3"/>
<circle cx="596.8" cy="497.4" r="2.3" fill="none" stroke="#1b2a6b" stroke-width="1.3"/>
<circle cx="570.2" cy="467.9" r="2.3" fill="none" stroke="#1b2a6b" stroke-width="1.3"/>
<circle cx="582.5" cy="488.0" r="2.3" fill="none" stroke="#1b2a6b" stroke-width="1.3"/>
<circle cx="583.7" cy="479.9" r="2.3" fill="none" stroke="#1b2a6b" stroke-width="1.3"/>
<circle cx="589.4" cy="457.6" r="2.3" fill="none" stroke="#1b2a6b" stroke-width="1.3"/>
<circle cx="579.6" cy="467.7" r="2.3" fill="none" stroke="#1b2a6b" stroke-width="1.3"/>
<circle cx="554.7" cy="503.2" r="2.3" fill="none" stroke="#1b2a6b" stroke-width="1.3"/>
<circle cx="592.1" cy="487.7" r="2.3" fill="none" stroke="#1b2a6b" stroke-width="1.3"/>
<circle cx="585.0" cy="440.1" r="2.3" fill="none" stroke="#1b2a6b" stroke-width="1.3"/>
<circle cx="589.3" cy="442.0" r="2.3" fill="none" stroke="#1b2a6b" stroke-width="1.3"/>
<circle cx="598.5" cy="456.9" r="2.3" fill="none" stroke="#1b2a6b" stroke-width="1.3"/>
<circle cx="592.8" cy="474.1" r="2.3" fill="none" stroke="#1b2a6b" stroke-width="1.3"/>
<circle cx="579.9" cy="476.1" r="2.3" fill="none" stroke="#1b2a6b" stroke-width="1.3"/>
<circle cx="579.2" cy="469.5" r="2.3" fill="none" stroke="#1b2a6b" stroke-width="1.3"/>
<circle cx="564.6" cy="493.4" r="2.3" fill="none" stroke="#1b2a6b" stroke-width="1.3"/>
<circle cx="579.6" cy="459.9" r="2.3" fill="none" stroke="#1b2a6b" stroke-width="1.3"/>
<circle cx="576.7" cy="490.8" r="2.3" fill="none" stroke="#1b2a6b" stroke-width="1.3"/>
<circle cx="586.9" cy="446.6" r="2.3" fill="none" stroke="#1b2a6b" stroke-width="1.3"/>
<circle cx="596.7" cy="498.4" r="2.3" fill="none" stroke="#1b2a6b" stroke-width="1.3"/>
<circle cx="583.8" cy="449.9" r="2.3" fill="none" stroke="#1b2a6b" stroke-width="1.3"/>
<circle cx="563.0" cy="491.4" r="2.3" fill="none" stroke="#1b2a6b" stroke-width="1.3"/>
<circle cx="575.4" cy="474.4" r="2.3" fill="none" stroke="#1b2a6b" stroke-width="1.3"/>
<circle cx="595.1" cy="481.1" r="2.3" fill="none" stroke="#1b2a6b" stroke-width="1.3"/>
<circle cx="580.5" cy="500.7" r="2.3" fill="none" stroke="#1b2a6b" stroke-width="1.3"/>
<circle cx="582.3" cy="463.6" r="2.3" fill="none" stroke="#1b2a6b" stroke-width="1.3"/>
<circle cx="594.3" cy="443.0" r="2.3" fill="none" stroke="#1b2a6b" stroke-width="1.3"/>
<circle cx="576.1" cy="501.0" r="2.3" fill="none" stroke="#1b2a6b" stroke-width="1.3"/>
<circle cx="603.1" cy="457.1" r="2.3" fill="none" stroke="#1b2a6b" stroke-width="1.3"/>
<circle cx="599.0" cy="456.7" r="2.3" fill="none" stroke="#1b2a6b" stroke-width="1.3"/>
<circle cx="593.4" cy="474.0" r="2.3" fill="none" stroke="#1b2a6b" stroke-width="1.3"/>
<circle cx="584.2" cy="478.4" r="2.3" fill="none" stroke="#1b2a6b" stroke-width="1.3"/>
<circle cx="582.6" cy="447.7" r="2.3" fill="none" stroke="#1b2a6b" stroke-width="1.3"/>
<circle cx="595.8" cy="485.4" r="2.3" fill="none" stroke="#1b2a6b" stroke-width="1.3"/>
<circle cx="580.8" cy="496.2" r="2.3" fill="none" stroke="#1b2a6b" stroke-width="1.3"/>
<circle cx="596.9" cy="460.6" r="2.3" fill="none" stroke="#1b2a6b" stroke-width="1.3"/>
<circle cx="592.4" cy="480.0" r="2.3" fill="none" stroke="#1b2a6b" stroke-width="1.3"/>
<circle cx="593.2" cy="486.6" r="2.3" fill="none" stroke="#1b2a6b" stroke-width="1.3"/>
<circle cx="580.3" cy="499.9" r="2.3" fill="none" stroke="#1b2a6b" stroke-width="1.3"/>
<circle cx="588.3" cy="495.1" r="2.3" fill="none" stroke="#1b2a6b" stroke-width="1.3"/>
<circle cx="583.3" cy="443.8" r="2.3" fill="none" stroke="#1b2a6b" stroke-width="1.3"/>
<circle cx="590.3" cy="455.4" r="2.3" fill="none" stroke="#1b2a6b" stroke-width="1.3"/>
<circle cx="572.4" cy="477.5" r="2.3" fill="none" stroke="#1b2a6b" stroke-width="1.3"/>
<circle cx="569.9" cy="477.3" r="2.3" fill="none" stroke="#1b2a6b" stroke-width="1.3"/>
<circle cx="597.8" cy="474.2" r="2.3" fill="none" stroke="#1b2a6b" stroke-width="1.3"/>
<circle cx="600.6" cy="474.3" r="2.3" fill="none" stroke="#1b2a6b" stroke-width="1.3"/>
<circle cx="590.4" cy="450.2" r="2.3" fill="none" stroke="#1b2a6b" stroke-width="1.3"/>
<circle cx="593.9" cy="470.6" r="2.3" fill="none" stroke="#1b2a6b" stroke-width="1.3"/>
<circle cx="593.2" cy="487.8" r="2.3" fill="none" stroke="#1b2a6b" stroke-width="1.3"/>
<circle cx="593.9" cy="463.7" r="2.3" fill="none" stroke="#1b2a6b" stroke-width="1.3"/>
<circle cx="591.6" cy="462.7" r="2.3" fill="none" stroke="#1b2a6b" stroke-width="1.3"/>
<circle cx="580.2" cy="470.3" r="2.3" fill="none" stroke="#1b2a6b" stroke-width="1.3"/>
<circle cx="592.7" cy="501.5" r="2.3" fill="none" stroke="#1b2a6b" stroke-width="1.3"/>
<circle cx="585.9" cy="477.2" r="2.3" fill="none" stroke="#1b2a6b" stroke-width="1.3"/>
<circle cx="599.6" cy="487.9" r="2.3" fill="none" stroke="#1b2a6b" stroke-width="1.3"/>
<circle cx="595.5" cy="478.5" r="2.3" fill="none" stroke="#1b2a6b" stroke-width="1.3"/>
<circle cx="596.4" cy="473.4" r="2.3" fill="none" stroke="#1b2a6b" stroke-width="1.3"/>
<circle cx="596.1" cy="489.9" r="2.3" fill="none" stroke="#1b2a6b" stroke-width="1.3"/>
<circle cx="561.7" cy="499.3" r="2.3" fill="none" stroke="#1b2a6b" stroke-width="1.3"/>
<circle cx="589.3" cy="437.5" r="2.3" fill="none" stroke="#1b2a6b" stroke-width="1.3"/>
<circle cx="586.7" cy="500.0" r="2.3" fill="none" stroke="#1b2a6b" stroke-width="1.3"/>
<circle cx="570.1" cy="494.6" r="2.3" fill="none" stroke="#1b2a6b" stroke-width="1.3"/>
<circle cx="602.9" cy="444.5" r="2.3" fill="none" stroke="#1b2a6b" stroke-width="1.3"/>
<circle cx="589.1" cy="450.4" r="2.3" fill="none" stroke="#1b2a6b" stroke-width="1.3"/>
<circle cx="583.3" cy="498.5" r="2.3" fill="none" stroke="#1b2a6b" stroke-width="1.3"/>
<circle cx="563.2" cy="508.5" r="2.3" fill="none" stroke="#1b2a6b" stroke-width="1.3"/>
<circle cx="603.7" cy="467.5" r="2.3" fill="none" stroke="#1b2a6b" stroke-width="1.3"/>
<circle cx="598.0" cy="491.9" r="2.3" fill="none" stroke="#1b2a6b" stroke-width="1.3"/>
<circle cx="595.3" cy="478.2" r="2.3" fill="none" stroke="#1b2a6b" stroke-width="1.3"/>
<circle cx="591.6" cy="506.5" r="2.3" fill="none" stroke="#1b2a6b" stroke-width="1.3"/>
<circle cx="562.7" cy="487.2" r="2.3" fill="none" stroke="#1b2a6b" stroke-width="1.3"/>
<circle cx="576.7" cy="507.2" r="2.3" fill="none" stroke="#1b2a6b" stroke-width="1.3"/>
<circle cx="571.1" cy="473.5" r="2.3" fill="none" stroke="#1b2a6b" stroke-width="1.3"/>
<circle cx="593.6" cy="471.0" r="2.3" fill="none" stroke="#1b2a6b" stroke-width="1.3"/>
<circle cx="577.4" cy="468.3" r="2.3" fill="none" stroke="#1b2a6b" stroke-width="1.3"/>
<circle cx="559.4" cy="497.1" r="2.3" fill="none" stroke="#1b2a6b" stroke-width="1.3"/>
<circle cx="586.0" cy="487.4" r="2.3" fill="none" stroke="#1b2a6b" stroke-width="1.3"/>
<circle cx="592.4" cy="452.6" r="2.3" fill="none" stroke="#1b2a6b" stroke-width="1.3"/>
<circle cx="589.1" cy="456.0" r="2.3" fill="none" stroke="#1b2a6b" stroke-width="1.3"/>
<circle cx="582.9" cy="498.2" r="2.3" fill="none" stroke="#1b2a6b" stroke-width="1.3"/>
<circle cx="563.6" cy="490.7" r="2.3" fill="none" stroke="#1b2a6b" stroke-width="1.3"/>
<circle cx="590.4" cy="474.8" r="2.3" fill="none" stroke="#1b2a6b" stroke-width="1.3"/>
<circle cx="585.8" cy="457.6" r="2.3" fill="none" stroke="#1b2a6b" stroke-width="1.3"/>
<circle cx="580.0" cy="509.8" r="2.3" fill="none" stroke="#1b2a6b" stroke-width="1.3"/>
<circle cx="574.5" cy="472.7" r="2.3" fill="none" stroke="#1b2a6b" stroke-width="1.3"/>
<circle cx="562.8" cy="482.9" r="2.3" fill="none" stroke="#1b2a6b" stroke-width="1.3"/>
<circle cx="558.0" cy="497.6" r="2.3" fill="none" stroke="#1b2a6b" stroke-width="1.3"/>
<circle cx="594.9" cy="493.8" r="2.3" fill="none" stroke="#1b2a6b" stroke-width="1.3"/>
<circle cx="591.0" cy="463.4" r="2.3" fill="none" stroke="#1b2a6b" stroke-width="1.3"/>
<circle cx="589.2" cy="457.6" r="2.3" fill="none" stroke="#1b2a6b" stroke-width="1.3"/>
<circle cx="561.8" cy="510.3" r="2.3" fill="none" stroke="#1b2a6b" stroke-width="1.3"/>
<circle cx="555.0" cy="505.5" r="2.3" fill="none" stroke="#1b2a6b" stroke-width="1.3"/>
<circle cx="597.7" cy="466.3" r="2.3" fill="none" stroke="#1b2a6b" stroke-width="1.3"/>
<circle cx="560.6" cy="509.1" r="2.3" fill="none" stroke="#1b2a6b" stroke-width="1.3"/>
<circle cx="567.0" cy="483.7" r="2.3" fill="none" stroke="#1b2a6b" stroke-width="1.3"/>
<circle cx="560.8" cy="489.2" r="2.3" fill="none" stroke="#1b2a6b" stroke-width="1.3"/>
<circle cx="566.5" cy="493.6" r="2.3" fill="none" stroke="#1b2a6b" stroke-width="1.3"/>
<circle cx="605.8" cy="446.9" r="2.3" fill="none" stroke="#1b2a6b" stroke-width="1.3"/>
<circle cx="599.1" cy="474.6" r="2.3" fill="none" stroke="#1b2a6b" stroke-width="1.3"/>
<circle cx="592.7" cy="484.8" r="2.3" fill="none" stroke="#1b2a6b" stroke-width="1.3"/>
<circle cx="581.2" cy="463.1" r="2.3" fill="none" stroke="#1b2a6b" stroke-width="1.3"/>
<circle cx="569.8" cy="488.7" r="2.3" fill="none" stroke="#1b2a6b" stroke-width="1.3"/>
<circle cx="590.1" cy="499.4" r="2.3" fill="none" stroke="#1b2a6b" stroke-width="1.3"/>
<circle cx="564.5" cy="494.1" r="2.3" fill="none" stroke="#1b2a6b" stroke-width="1.3"/>
<circle cx="602.5" cy="459.1" r="2.3" fill="none" stroke="#1b2a6b" stroke-width="1.3"/>
<circle cx="590.8" cy="505.8" r="2.3" fill="none" stroke="#1b2a6b" stroke-width="1.3"/>
<circle cx="604.8" cy="460.2" r="2.3" fill="none" stroke="#1b2a6b" stroke-width="1.3"/>
<circle cx="598.9" cy="461.6" r="2.3" fill="none" stroke="#1b2a6b" stroke-width="1.3"/>
<circle cx="560.6" cy="496.1" r="2.3" fill="none" stroke="#1b2a6b" stroke-width="1.3"/>
<circle cx="578.9" cy="503.1" r="2.3" fill="none" stroke="#1b2a6b" stroke-width="1.3"/>
<circle cx="585.3" cy="453.5" r="2.3" fill="none" stroke="#1b2a6b" stroke-width="1.3"/>
<circle cx="588.0" cy="455.2" r="2.3" fill="none" stroke="#1b2a6b" stroke-width="1.3"/>
<circle cx="584.5" cy="461.6" r="2.3" fill="none" stroke="#1b2a6b" stroke-width="1.3"/>
<circle cx="597.8" cy="462.8" r="2.3" fill="none" stroke="#1b2a6b" stroke-width="1.3"/>
<circle cx="604.8" cy="464.7" r="2.3" fill="none" stroke="#1b2a6b" stroke-width="1.3"/>
<circle cx="568.8" cy="468.3" r="2.3" fill="none" stroke="#1b2a6b" stroke-width="1.3"/>
<circle cx="583.4" cy="504.2" r="2.3" fill="none" stroke="#1b2a6b" stroke-width="1.3"/>
<circle cx="602.6" cy="444.4" r="2.3" fill="none" stroke="#1b2a6b" stroke-width="1.3"/>
<circle cx="554.6" cy="510.7" r="2.3" fill="none" stroke="#1b2a6b" stroke-width="1.3"/>
<circle cx="583.6" cy="478.3" r="2.3" fill="none" stroke="#1b2a6b" stroke-width="1.3"/>
<circle cx="579.8" cy="492.1" r="2.3" fill="none" stroke="#1b2a6b" stroke-width="1.3"/>
<circle cx="588.4" cy="460.2" r="2.3" fill="none" stroke="#1b2a6b" stroke-width="1.3"/>
<circle cx="601.9" cy="456.4" r="2.3" fill="none" stroke="#1b2a6b" stroke-width="1.3"/>
<circle cx="565.5" cy="484.0" r="2.3" fill="none" stroke="#1b2a6b" stroke-width="1.3"/>
<circle cx="595.8" cy="475.1" r="2.3" fill="none" stroke="#1b2a6b" stroke-width="1.3"/>
<circle cx="595.0" cy="459.6" r="2.3" fill="none" stroke="#1b2a6b" stroke-width="1.3"/>
<circle cx="571.0" cy="467.2" r="2.3" fill="none" stroke="#1b2a6b" stroke-width="1.3"/>
<circle cx="577.4" cy="453.4" r="2.3" fill="none" stroke="#1b2a6b" stroke-width="1.3"/>
<circle cx="585.3" cy="504.4" r="2.3" fill="none" stroke="#1b2a6b" stroke-width="1.3"/>
<circle cx="590.9" cy="455.1" r="2.3" fill="none" stroke="#1b2a6b" stroke-width="1.3"/>
<circle cx="572.4" cy="510.2" r="2.3" fill="none" stroke="#1b2a6b" stroke-width="1.3"/>
<circle cx="571.8" cy="484.4" r="2.3" fill="none" stroke="#1b2a6b" stroke-width="1.3"/>
<circle cx="591.0" cy="451.6" r="2.3" fill="none" stroke="#1b2a6b" stroke-width="1.3"/>
<circle cx="591.1" cy="458.0" r="2.3" fill="none" stroke="#1b2a6b" stroke-width="1.3"/>
<circle cx="571.5" cy="468.5" r="2.3" fill="none" stroke="#1b2a6b" stroke-width="1.3"/>
<circle cx="587.2" cy="449.8" r="2.3" fill="none" stroke="#1b2a6b" stroke-width="1.3"/>
<circle cx="571.8" cy="471.0" r="2.3" fill="none" stroke="#1b2a6b" stroke-width="1.3"/>
<circle cx="582.3" cy="497.0" r="2.3" fill="none" stroke="#1b2a6b" stroke-width="1.3"/>
<circle cx="564.5" cy="489.6" r="2.3" fill="none" stroke="#1b2a6b" stroke-width="1.3"/>
<circle cx="578.2" cy="450.8" r="2.3" fill="none" stroke="#1b2a6b" stroke-width="1.3"/>
<circle cx="593.0" cy="486.8" r="2.3" fill="none" stroke="#1b2a6b" stroke-width="1.3"/>
<circle cx="595.4" cy="491.1" r="2.3" fill="none" stroke="#1b2a6b" stroke-width="1.3"/>
<circle cx="595.6" cy="469.6" r="2.3" fill="none" stroke="#1b2a6b" stroke-width="1.3"/>
<circle cx="569.3" cy="503.2" r="2.3" fill="none" stroke="#1b2a6b" stroke-width="1.3"/>
<circle cx="563.2" cy="501.8" r="2.3" fill="none" stroke="#1b2a6b" stroke-width="1.3"/>
<circle cx="584.3" cy="441.1" r="2.3" fill="none" stroke="#1b2a6b" stroke-width="1.3"/>
<circle cx="594.0" cy="455.1" r="2.3" fill="none" stroke="#1b2a6b" stroke-width="1.3"/>
<circle cx="574.4" cy="472.4" r="2.3" fill="none" stroke="#1b2a6b" stroke-width="1.3"/>
<circle cx="587.2" cy="499.9" r="2.3" fill="none" stroke="#1b2a6b" stroke-width="1.3"/>
<circle cx="585.0" cy="475.3" r="2.3" fill="none" stroke="#1b2a6b" stroke-width="1.3"/>
<circle cx="578.4" cy="508.6" r="2.3" fill="none" stroke="#1b2a6b" stroke-width="1.3"/>
<circle cx="575.8" cy="504.2" r="2.3" fill="none" stroke="#1b2a6b" stroke-width="1.3"/>
<circle cx="587.4" cy="499.5" r="2.3" fill="none" stroke="#1b2a6b" stroke-width="1.3"/>
<circle cx="582.8" cy="458.4" r="2.3" fill="none" stroke="#1b2a6b" stroke-width="1.3"/>
<circle cx="579.2" cy="504.5" r="2.3" fill="none" stroke="#1b2a6b" stroke-width="1.3"/>
<circle cx="577.3" cy="455.0" r="2.3" fill="none" stroke="#1b2a6b" stroke-width="1.3"/>
<circle cx="593.9" cy="478.8" r="2.3" fill="none" stroke="#1b2a6b" stroke-width="1.3"/>
<circle cx="596.3" cy="494.8" r="2.3" fill="none" stroke="#1b2a6b" stroke-width="1.3"/>
<circle cx="572.2" cy="506.5" r="2.3" fill="none" stroke="#1b2a6b" stroke-width="1.3"/>
<circle cx="560.6" cy="490.8" r="2.3" fill="none" stroke="#1b2a6b" stroke-width="1.3"/>
<circle cx="602.6" cy="446.2" r="2.3" fill="none" stroke="#1b2a6b" stroke-width="1.3"/>
<circle cx="568.0" cy="488.5" r="2.3" fill="none" stroke="#1b2a6b" stroke-width="1.3"/>
<circle cx="573.4" cy="484.7" r="2.3" fill="none" stroke="#1b2a6b" stroke-width="1.3"/>
<path d="M551.8 511.1 C546.2 508.6 556.2 500.7 558.1 496.2 C560.0 491.8 561.7 488.3 563.4 484.6 C565.1 480.9 566.7 477.5 568.3 474.0 C569.9 470.5 571.4 466.6 572.9 463.4 C574.5 460.3 576.0 457.5 577.6 455.0 C579.2 452.4 580.8 449.9 582.4 448.0 C584.1 446.1 585.8 444.6 587.7 443.7 C589.7 442.9 592.0 442.6 594.1 442.9 C596.1 443.2 598.4 444.1 600.0 445.4 C601.6 446.7 602.8 448.6 603.6 450.7 C604.4 452.8 604.9 455.5 604.7 458.1 C604.5 460.8 603.3 463.8 602.6 466.6 C601.9 469.4 601.2 472.1 600.4 475.1 C599.7 478.1 598.7 481.3 597.9 484.6 C597.1 488.0 596.2 491.8 595.4 495.2 C594.5 498.5 593.7 502.1 593.0 504.7 C592.4 507.4 598.4 510.0 591.5 511.1 C584.7 512.1 557.3 513.5 551.8 511.1Z" fill="#1b2a6b"/>
<circle cx="528.8" cy="496.6" r="2.2" fill="none" stroke="#f0b62a" stroke-width="1.1"/>
<circle cx="544.7" cy="486.8" r="2.2" fill="none" stroke="#f0b62a" stroke-width="1.1"/>
<circle cx="530.5" cy="501.4" r="2.2" fill="none" stroke="#f0b62a" stroke-width="1.1"/>
<circle cx="550.5" cy="488.4" r="2.2" fill="none" stroke="#eded3a" stroke-width="1.1"/>
<circle cx="540.3" cy="475.5" r="2.2" fill="none" stroke="#5bc0eb" stroke-width="1.1"/>
<circle cx="550.1" cy="475.3" r="2.2" fill="none" stroke="#8fd14f" stroke-width="1.1"/>
<circle cx="528.4" cy="502.6" r="2.2" fill="none" stroke="#1b2a6b" stroke-width="1.1"/>
<circle cx="527.4" cy="507.7" r="2.2" fill="none" stroke="#f0b62a" stroke-width="1.1"/>
<circle cx="538.5" cy="490.2" r="2.2" fill="none" stroke="#1b2a6b" stroke-width="1.1"/>
<circle cx="534.8" cy="487.1" r="2.2" fill="none" stroke="#f0b62a" stroke-width="1.1"/>
<circle cx="552.5" cy="475.4" r="2.2" fill="none" stroke="#f0b62a" stroke-width="1.1"/>
<circle cx="549.6" cy="474.2" r="2.2" fill="none" stroke="#f0b62a" stroke-width="1.1"/>
<circle cx="542.8" cy="498.5" r="2.2" fill="none" stroke="#eded3a" stroke-width="1.1"/>
<circle cx="551.2" cy="473.9" r="2.2" fill="none" stroke="#5bc0eb" stroke-width="1.1"/>
<circle cx="537.0" cy="481.5" r="2.2" fill="none" stroke="#8fd14f" stroke-width="1.1"/>
<circle cx="538.5" cy="482.5" r="2.2" fill="none" stroke="#1b2a6b" stroke-width="1.1"/>
<circle cx="540.0" cy="487.4" r="2.2" fill="none" stroke="#f0b62a" stroke-width="1.1"/>
<circle cx="541.8" cy="499.3" r="2.2" fill="none" stroke="#1b2a6b" stroke-width="1.1"/>
<circle cx="530.7" cy="492.8" r="2.2" fill="none" stroke="#f0b62a" stroke-width="1.1"/>
<circle cx="542.0" cy="493.5" r="2.2" fill="none" stroke="#f0b62a" stroke-width="1.1"/>
<circle cx="535.0" cy="507.7" r="2.2" fill="none" stroke="#f0b62a" stroke-width="1.1"/>
<circle cx="534.9" cy="492.3" r="2.2" fill="none" stroke="#eded3a" stroke-width="1.1"/>
<circle cx="525.4" cy="502.4" r="2.2" fill="none" stroke="#5bc0eb" stroke-width="1.1"/>
<circle cx="549.5" cy="482.0" r="2.2" fill="none" stroke="#8fd14f" stroke-width="1.1"/>
<circle cx="546.3" cy="496.0" r="2.2" fill="none" stroke="#1b2a6b" stroke-width="1.1"/>
<circle cx="537.0" cy="510.6" r="2.2" fill="none" stroke="#f0b62a" stroke-width="1.1"/>
<circle cx="607.6" cy="488.4" r="2.2" fill="none" stroke="#d42a20" stroke-width="1.1"/>
<circle cx="607.4" cy="473.8" r="2.2" fill="none" stroke="#d42a20" stroke-width="1.1"/>
<circle cx="604.3" cy="488.1" r="2.2" fill="none" stroke="#d42a20" stroke-width="1.1"/>
<circle cx="606.2" cy="468.9" r="2.2" fill="none" stroke="#1b2a6b" stroke-width="1.1"/>
<circle cx="603.5" cy="487.9" r="2.2" fill="none" stroke="#d42a20" stroke-width="1.1"/>
<circle cx="588.9" cy="509.2" r="2.2" fill="none" stroke="#8fd14f" stroke-width="1.1"/>
<circle cx="597.0" cy="499.0" r="2.2" fill="none" stroke="#d42a20" stroke-width="1.1"/>
<circle cx="606.2" cy="502.0" r="2.2" fill="none" stroke="#d42a20" stroke-width="1.1"/>
<circle cx="607.5" cy="493.3" r="2.2" fill="none" stroke="#d42a20" stroke-width="1.1"/>
<circle cx="594.0" cy="492.4" r="2.2" fill="none" stroke="#1b2a6b" stroke-width="1.1"/>
<circle cx="606.6" cy="480.3" r="2.2" fill="none" stroke="#d42a20" stroke-width="1.1"/>
<circle cx="597.2" cy="478.9" r="2.2" fill="none" stroke="#8fd14f" stroke-width="1.1"/>
<circle cx="604.2" cy="467.1" r="2.2" fill="none" stroke="#d42a20" stroke-width="1.1"/>
<circle cx="601.7" cy="509.0" r="2.2" fill="none" stroke="#d42a20" stroke-width="1.1"/>
<circle cx="600.5" cy="504.5" r="2.2" fill="none" stroke="#d42a20" stroke-width="1.1"/>
<circle cx="598.7" cy="478.0" r="2.2" fill="none" stroke="#1b2a6b" stroke-width="1.1"/>
<circle cx="593.4" cy="509.2" r="2.2" fill="none" stroke="#d42a20" stroke-width="1.1"/>
<circle cx="608.2" cy="472.5" r="2.2" fill="none" stroke="#8fd14f" stroke-width="1.1"/>
<circle cx="585.6" cy="505.2" r="2.2" fill="none" stroke="#d42a20" stroke-width="1.1"/>
<circle cx="600.8" cy="472.2" r="2.2" fill="none" stroke="#d42a20" stroke-width="1.1"/>
<circle cx="597.4" cy="481.0" r="2.2" fill="none" stroke="#d42a20" stroke-width="1.1"/>
<circle cx="596.0" cy="476.4" r="2.2" fill="none" stroke="#1b2a6b" stroke-width="1.1"/>
<circle cx="598.3" cy="449.7" r="1.3" fill="#d42a20"/>
<circle cx="596.2" cy="456.0" r="1.3" fill="#d42a20"/>
<circle cx="583.5" cy="483.5" r="1.3" fill="#8fd14f"/>
<circle cx="587.7" cy="489.9" r="1.3" fill="#d42a20"/>
<circle cx="579.3" cy="496.2" r="1.3" fill="#d42a20"/>
<circle cx="572.9" cy="483.5" r="1.3" fill="#f0b62a"/>
<circle cx="568.7" cy="479.3" r="1.3" fill="#f0b62a"/>
<circle cx="565.5" cy="492.0" r="1.3" fill="#eded3a"/>
<circle cx="589.9" cy="466.6" r="1.3" fill="#d42a20"/>
<circle cx="599.4" cy="461.3" r="1.3" fill="#d42a20"/>
<path d="M563.4 511L649.6 390" stroke="#000" stroke-width="4.6" stroke-linecap="round"/>
</g>
<rect x="521.5" y="365.7" width="142.4" height="142.8" fill="none" stroke="#222" stroke-width="1.2"/>
<circle cx="349.5" cy="561.2" r="2.5" fill="#d42a20"/>
<text x="353.8" y="564.3" font-size="8.5" fill="#222">NC_Mesenchyme</text>
<circle cx="435.6" cy="561.2" r="2.45" fill="none" stroke="#d42a20" stroke-width="1.45"/>
<text x="439.9" y="564.3" font-size="8.5" fill="#222">BA_Mesenchyme</text>
<circle cx="521.3" cy="561.2" r="2.5" fill="#3cb44b"/>
<text x="525.6" y="564.3" font-size="8.5" fill="#222">NC_Epithelial</text>
<circle cx="607.5" cy="561.2" r="2.45" fill="none" stroke="#3cb44b" stroke-width="1.45"/>
<text x="611.8" y="564.3" font-size="8.5" fill="#222">BA_Epithelial</text>
<circle cx="349.5" cy="572.8" r="2.5" fill="#4a90d9"/>
<text x="353.8" y="575.9" font-size="8.5" fill="#222">NC_Endothelial</text>
<circle cx="435.6" cy="572.8" r="2.45" fill="none" stroke="#4a90d9" stroke-width="1.45"/>
<text x="439.9" y="575.9" font-size="8.5" fill="#222">BA_Endothelial</text>
<circle cx="521.3" cy="572.8" r="2.5" fill="#8fd14f"/>
<text x="525.6" y="575.9" font-size="8.5" fill="#222">NC_Intermediate_1</text>
<circle cx="607.5" cy="572.8" r="2.45" fill="none" stroke="#8fd14f" stroke-width="1.45"/>
<text x="611.8" y="575.9" font-size="8.5" fill="#222">BA_Intermediate_1</text>
<circle cx="349.5" cy="584.6" r="2.5" fill="#f0b62a"/>
<text x="353.8" y="587.7" font-size="8.5" fill="#222">NC_Intermediate_2</text>
<circle cx="435.6" cy="584.6" r="2.45" fill="none" stroke="#f0b62a" stroke-width="1.45"/>
<text x="439.9" y="587.7" font-size="8.5" fill="#222">BA_Intermediate_2</text>
<circle cx="521.3" cy="584.6" r="2.5" fill="#eded3a"/>
<text x="525.6" y="587.7" font-size="8.5" fill="#222">NC_Intermediate_3</text>
<circle cx="607.5" cy="584.6" r="2.45" fill="none" stroke="#eded3a" stroke-width="1.45"/>
<text x="611.8" y="587.7" font-size="8.5" fill="#222">BA_Intermediate_3</text>
<circle cx="349.5" cy="596.0" r="2.5" fill="#1b2a6b"/>
<text x="353.8" y="599.1" font-size="8.5" fill="#222">NC_Intermediate_4</text>
<circle cx="435.6" cy="596.0" r="2.45" fill="none" stroke="#1b2a6b" stroke-width="1.45"/>
<text x="439.9" y="599.1" font-size="8.5" fill="#222">BA_Intermediate_4</text>
<circle cx="521.3" cy="596.0" r="2.5" fill="#5bc0eb"/>
<text x="525.6" y="599.1" font-size="8.5" fill="#222">NC_Intermediate_5</text>
<circle cx="607.5" cy="596.0" r="2.45" fill="none" stroke="#5bc0eb" stroke-width="1.45"/>
<text x="611.8" y="599.1" font-size="8.5" fill="#222">BA_Intermediate_5</text>
<circle cx="349.5" cy="607.6" r="2.5" fill="#8a3fc4"/>
<text x="353.8" y="610.7" font-size="8.5" fill="#222">NC_Other</text>
<circle cx="435.6" cy="607.6" r="2.45" fill="none" stroke="#8a3fc4" stroke-width="1.45"/>
<text x="439.9" y="610.7" font-size="8.5" fill="#222">BA_Other</text>
<text x="6.8" y="651.8" font-size="16" font-weight="bold" fill="#000">d</text>
<text x="432" y="650.3" font-size="16" font-weight="bold" fill="#000">e</text>
<text x="611" y="651.9" font-size="16" font-weight="bold" fill="#000">f</text>
<text x="54.6" y="658.9" font-size="13.5" fill="#1a1a1a">pan-CK<tspan font-size="10" dy="-6.5">+</tspan><tspan dy="6.5" dx="-2.4">/VIM</tspan><tspan font-size="10" dy="-6.5">-</tspan></text>
<text x="187.9" y="659.0" font-size="13.5" fill="#1a1a1a">pan-CK<tspan font-size="10" dy="-6.5">+</tspan><tspan dy="6.5" dx="-2.4">/VIM</tspan><tspan font-size="10" dy="-6.5">+</tspan></text>
<text x="332.0" y="658.8" font-size="13.5" fill="#1a1a1a">pan-CK<tspan font-size="10" dy="-6.5">-</tspan><tspan dy="6.5" dx="-0.3">/VIM</tspan><tspan font-size="10" dy="-6.5">+</tspan></text>
<path d="M46.1 816.2H52.5" stroke="#222" stroke-width="1.1"/>
<text x="44" y="819.5" font-size="9.3" text-anchor="end" fill="#222">0.0</text>
<path d="M46.1 785.7H52.5" stroke="#222" stroke-width="1.1"/>
<text x="44" y="789" font-size="9.3" text-anchor="end" fill="#222">1.0</text>
<path d="M46.1 755.3H52.5" stroke="#222" stroke-width="1.1"/>
<text x="44" y="758.6" font-size="9.3" text-anchor="end" fill="#222">2.0</text>
<path d="M46.1 724.8H52.5" stroke="#222" stroke-width="1.1"/>
<text x="44" y="728.1" font-size="9.3" text-anchor="end" fill="#222">3.0</text>
<path d="M60.5 816.2V792.7H72.7V816.2" fill="#fff" stroke="#1f1ff5" stroke-width="1.8"/>
<path d="M66.6 782.7V800.4M63.6 782.7h6M63.6 800.4h6" stroke="#1f1ff5" stroke-width="1.1"/>
<path d="M66.6 782.7h.1M62.8 786.9h.1M70.1 788.5h.1M66.6 797.3h.1M66.6 807.1h.1M66.6 797.9h.1" stroke="#1f1ff5" stroke-width="3.1" stroke-linecap="round"/>
<path d="M66.6 816.2V818.4" stroke="#222" stroke-width="1"/>
<path d="M81.6 816.2V798.8H93.8V816.2" fill="#fff" stroke="#f52020" stroke-width="1.8"/>
<path d="M87.7 793.7V802.5M84.7 793.7h6M84.7 802.5h6" stroke="#f52020" stroke-width="1.1"/>
<path d="M87.7 789.4h.1M83.7 797.9h.1M91.2 799.1h.1M85.7 801.0h.1M88.7 801.0h.1M90.7 800.4h.1" stroke="#f52020" stroke-width="3.1" stroke-linecap="round"/>
<path d="M87.7 816.2V818.4" stroke="#222" stroke-width="1"/>
<path d="M102.6 816.2V764.1H114.8V816.2" fill="#fff" stroke="#1f1ff5" stroke-width="1.8"/>
<path d="M108.7 739.1V787.3M105.7 739.1h6M105.7 787.3h6" stroke="#1f1ff5" stroke-width="1.1"/>
<path d="M108.7 733.3h.1M108.7 756.8h.1M108.7 778.7h.1M108.7 782.7h.1M108.7 793.3h.1" stroke="#1f1ff5" stroke-width="3.1" stroke-linecap="round"/>
<path d="M108.7 816.2V818.4" stroke="#222" stroke-width="1"/>
<path d="M123.7 816.2V796.4H135.8V816.2" fill="#fff" stroke="#f52020" stroke-width="1.8"/>
<path d="M129.8 785.4V806.1M126.8 785.4h6M126.8 806.1h6" stroke="#f52020" stroke-width="1.1"/>
<path d="M129.8 782.1h.1M126.3 787.6h.1M133.2 790.3h.1M126.3 802.5h.1M133.2 803.4h.1M129.8 809.5h.1" stroke="#f52020" stroke-width="3.1" stroke-linecap="round"/>
<path d="M129.8 816.2V818.4" stroke="#222" stroke-width="1"/>
<path d="M52.5 724.8V816.2H137.3" fill="none" stroke="#222" stroke-width="1.1"/>
<path d="M66.5 682.1H129.6" stroke="#333" stroke-width="1"/>
<text x="98" y="679.2" font-size="8.8" text-anchor="middle" fill="#222">0.9723</text>
<path d="M87.4 693.8H129.6" stroke="#333" stroke-width="1"/>
<text x="108.5" y="690.9" font-size="8.8" text-anchor="middle" fill="#222">0.9830</text>
<path d="M66.5 706.2H108.5" stroke="#333" stroke-width="1"/>
<text x="87.5" y="703.3" font-size="8.8" text-anchor="middle" fill="#222">0.0106</text>
<path d="M109.2 717.9H129.6" stroke="#333" stroke-width="1"/>
<text x="119.4" y="715" font-size="8.8" text-anchor="middle" fill="#222">0.0040</text>
<path d="M87.4 729.3H108.5" stroke="#333" stroke-width="1"/>
<text x="98" y="726.4" font-size="8.8" text-anchor="middle" fill="#222">0.0017</text>
<path d="M62.3 778.0H87.9" stroke="#333" stroke-width="1"/>
<text x="75.1" y="775.1" font-size="8.8" text-anchor="middle" fill="#222">0.8554</text>
<text x="0" y="0" font-size="9.1" text-anchor="middle" fill="#222" transform="translate(24.3 767.5) rotate(-90)">×10<tspan font-size="7.2" dy="-4">5</tspan><tspan dy="4">cells/organoid</tspan></text>
<path d="M188.0 816.2H194.4" stroke="#222" stroke-width="1.1"/>
<text x="185.9" y="819.5" font-size="9.3" text-anchor="end" fill="#222">0.0</text>
<path d="M188.0 785.7H194.4" stroke="#222" stroke-width="1.1"/>
<text x="185.9" y="789" font-size="9.3" text-anchor="end" fill="#222">1.0</text>
<path d="M188.0 755.3H194.4" stroke="#222" stroke-width="1.1"/>
<text x="185.9" y="758.6" font-size="9.3" text-anchor="end" fill="#222">2.0</text>
<path d="M188.0 724.8H194.4" stroke="#222" stroke-width="1.1"/>
<text x="185.9" y="728.1" font-size="9.3" text-anchor="end" fill="#222">3.0</text>
<path d="M202.1 816.2V814.1H214.3V816.2" fill="#fff" stroke="#1f1ff5" stroke-width="1.8"/>
<path d="M208.2 813.2V815.0M205.2 813.2h6M205.2 815.0h6" stroke="#1f1ff5" stroke-width="1.1"/>
<path d="M202.2 814.1h.1M205.2 813.8h.1M208.2 814.1h.1M211.2 814.4h.1M214.2 814.1h.1M206.7 814.7h.1M209.7 813.8h.1" stroke="#1f1ff5" stroke-width="3.1" stroke-linecap="round"/>
<path d="M208.2 816.2V818.4" stroke="#222" stroke-width="1"/>
<path d="M223.0 816.2V813.5H235.2V816.2" fill="#fff" stroke="#f52020" stroke-width="1.8"/>
<path d="M229.1 809.5V815.3M226.1 809.5h6M226.1 815.3h6" stroke="#f52020" stroke-width="1.1"/>
<path d="M229.1 808.6h.1M224.1 813.2h.1M226.6 812.5h.1M231.6 813.8h.1M234.1 813.2h.1M229.1 814.7h.1M225.1 815.0h.1M233.1 814.7h.1" stroke="#f52020" stroke-width="3.1" stroke-linecap="round"/>
<path d="M229.1 816.2V818.4" stroke="#222" stroke-width="1"/>
<path d="M244.0 816.2V796.4H256.2V816.2" fill="#fff" stroke="#1f1ff5" stroke-width="1.8"/>
<path d="M250.1 786.6V807.1M247.1 786.6h6M247.1 807.1h6" stroke="#1f1ff5" stroke-width="1.1"/>
<path d="M250.1 781.5h.1M245.6 789.7h.1M250.1 794.0h.1M244.6 800.4h.1M254.1 802.5h.1M250.1 807.1h.1" stroke="#1f1ff5" stroke-width="3.1" stroke-linecap="round"/>
<path d="M250.1 816.2V818.4" stroke="#222" stroke-width="1"/>
<path d="M264.9 816.2V777.2H277.1V816.2" fill="#fff" stroke="#f52020" stroke-width="1.8"/>
<path d="M271.0 768.4V786.3M268.0 768.4h6M268.0 786.3h6" stroke="#f52020" stroke-width="1.1"/>
<path d="M271.0 768.1h.1M266.2 770.5h.1M276.5 775.1h.1M271.0 776.6h.1M267.5 785.7h.1M275.0 785.7h.1M271.0 786.3h.1" stroke="#f52020" stroke-width="3.1" stroke-linecap="round"/>
<path d="M271.0 816.2V818.4" stroke="#222" stroke-width="1"/>
<path d="M194.4 724.8V816.2H284.9" fill="none" stroke="#222" stroke-width="1.1"/>
<path d="M208.2 723.2H270.6" stroke="#333" stroke-width="1"/>
<text x="239.4" y="720.3" font-size="8.8" text-anchor="middle" fill="#222">&lt;0.0001</text>
<path d="M229.1 737.1H270.6" stroke="#333" stroke-width="1"/>
<text x="249.9" y="734.2" font-size="8.8" text-anchor="middle" fill="#222">&lt;0.0001</text>
<path d="M208.2 750.8H250.1" stroke="#333" stroke-width="1"/>
<text x="229.1" y="747.9" font-size="8.8" text-anchor="middle" fill="#222">0.0005</text>
<path d="M250.1 764.0H270.6" stroke="#333" stroke-width="1"/>
<text x="260.4" y="761.1" font-size="8.8" text-anchor="middle" fill="#222">0.0003</text>
<path d="M229.1 776.3H250.1" stroke="#333" stroke-width="1"/>
<text x="239.6" y="773.4" font-size="8.8" text-anchor="middle" fill="#222">0.0009</text>
<path d="M208.2 803.3H229.1" stroke="#333" stroke-width="1"/>
<text x="218.6" y="800.4" font-size="8.8" text-anchor="middle" fill="#222">0.9940</text>
<text x="0" y="0" font-size="9.1" text-anchor="middle" fill="#222" transform="translate(165.0 767.5) rotate(-90)">×10<tspan font-size="7.2" dy="-4">5</tspan><tspan dy="4">cells/organoid</tspan></text>
<path d="M329.0 816.2H335.4" stroke="#222" stroke-width="1.1"/>
<text x="326.9" y="819.5" font-size="9.3" text-anchor="end" fill="#222">0.0</text>
<path d="M329.0 785.7H335.4" stroke="#222" stroke-width="1.1"/>
<text x="326.9" y="789" font-size="9.3" text-anchor="end" fill="#222">1.0</text>
<path d="M329.0 755.3H335.4" stroke="#222" stroke-width="1.1"/>
<text x="326.9" y="758.6" font-size="9.3" text-anchor="end" fill="#222">2.0</text>
<path d="M329.0 724.8H335.4" stroke="#222" stroke-width="1.1"/>
<text x="326.9" y="728.1" font-size="9.3" text-anchor="end" fill="#222">3.0</text>
<path d="M343.6 816.2V806.1H355.8V816.2" fill="#fff" stroke="#1f1ff5" stroke-width="1.8"/>
<path d="M349.7 799.1V813.2M346.7 799.1h6M346.7 813.2h6" stroke="#1f1ff5" stroke-width="1.1"/>
<path d="M349.7 795.8h.1M345.2 803.4h.1M353.4 803.4h.1M345.2 810.1h.1M353.4 810.1h.1M349.7 813.8h.1" stroke="#1f1ff5" stroke-width="3.1" stroke-linecap="round"/>
<path d="M349.7 816.2V818.4" stroke="#222" stroke-width="1"/>
<path d="M364.2 816.2V807.4H376.4V816.2" fill="#fff" stroke="#f52020" stroke-width="1.8"/>
<path d="M370.3 800.4V814.7M367.3 800.4h6M367.3 814.7h6" stroke="#f52020" stroke-width="1.1"/>
<path d="M370.3 795.8h.1M368.3 803.4h.1M372.8 804.9h.1M367.8 811.6h.1M371.8 813.2h.1M370.3 814.7h.1" stroke="#f52020" stroke-width="3.1" stroke-linecap="round"/>
<path d="M370.3 816.2V818.4" stroke="#222" stroke-width="1"/>
<path d="M385.1 816.2V810.1H397.3V816.2" fill="#fff" stroke="#1f1ff5" stroke-width="1.8"/>
<path d="M391.2 804.0V815.6M388.2 804.0h6M388.2 815.6h6" stroke="#1f1ff5" stroke-width="1.1"/>
<path d="M391.2 797.9h.1M387.7 811.0h.1M395.1 811.6h.1M391.2 813.8h.1M389.2 814.7h.1" stroke="#1f1ff5" stroke-width="3.1" stroke-linecap="round"/>
<path d="M391.2 816.2V818.4" stroke="#222" stroke-width="1"/>
<path d="M406.1 816.2V788.2H418.3V816.2" fill="#fff" stroke="#f52020" stroke-width="1.8"/>
<path d="M412.2 771.1V805.2M409.2 771.1h6M409.2 805.2h6" stroke="#f52020" stroke-width="1.1"/>
<path d="M412.2 756.8h.1M408.5 787.3h.1M412.2 788.2h.1M415.7 788.2h.1M412.2 808.0h.1" stroke="#f52020" stroke-width="3.1" stroke-linecap="round"/>
<path d="M412.2 816.2V818.4" stroke="#222" stroke-width="1"/>
<path d="M335.4 724.8V816.2H425.9" fill="none" stroke="#222" stroke-width="1.1"/>
<path d="M349.7 723.2H412.2" stroke="#333" stroke-width="1"/>
<text x="380.9" y="720.3" font-size="8.8" text-anchor="middle" fill="#222">0.0256</text>
<path d="M370.3 738.5H412.2" stroke="#333" stroke-width="1"/>
<text x="391.2" y="735.6" font-size="8.8" text-anchor="middle" fill="#222">0.0190</text>
<path d="M391.2 751.8H412.2" stroke="#333" stroke-width="1"/>
<text x="401.7" y="748.9" font-size="8.8" text-anchor="middle" fill="#222">0.0058</text>
<path d="M349.7 764.5H391.2" stroke="#333" stroke-width="1"/>
<text x="370.4" y="761.6" font-size="8.8" text-anchor="middle" fill="#222">0.9062</text>
<path d="M370.3 778.8H391.2" stroke="#333" stroke-width="1"/>
<text x="380.8" y="775.9" font-size="8.8" text-anchor="middle" fill="#222">0.9493</text>
<path d="M349.7 791.0H370.3" stroke="#333" stroke-width="1"/>
<text x="360" y="788.1" font-size="8.8" text-anchor="middle" fill="#222">0.9990</text>
<text x="0" y="0" font-size="9.1" text-anchor="middle" fill="#222" transform="translate(306.3 767.5) rotate(-90)">×10<tspan font-size="7.2" dy="-4">5</tspan><tspan dy="4">cells/organoid</tspan></text>
<text x="0" y="0" font-size="9.2" text-anchor="end" fill="#222" transform="translate(68.6 824) rotate(-31)">NC D5</text>
<text x="0" y="0" font-size="9.2" text-anchor="end" fill="#222" transform="translate(89.7 824) rotate(-31)">BA D5</text>
<text x="0" y="0" font-size="9.2" text-anchor="end" fill="#222" transform="translate(110.7 824) rotate(-31)">NC D14</text>
<text x="0" y="0" font-size="9.2" text-anchor="end" fill="#222" transform="translate(131.8 824) rotate(-31)">BA D14</text>
<text x="0" y="0" font-size="9.2" text-anchor="end" fill="#222" transform="translate(210.2 824) rotate(-31)">NC D5</text>
<text x="0" y="0" font-size="9.2" text-anchor="end" fill="#222" transform="translate(231.1 824) rotate(-31)">BA D5</text>
<text x="0" y="0" font-size="9.2" text-anchor="end" fill="#222" transform="translate(252.1 824) rotate(-31)">NC D14</text>
<text x="0" y="0" font-size="9.2" text-anchor="end" fill="#222" transform="translate(273.0 824) rotate(-31)">BA D14</text>
<text x="0" y="0" font-size="9.2" text-anchor="end" fill="#222" transform="translate(351.7 824) rotate(-31)">NC D5</text>
<text x="0" y="0" font-size="9.2" text-anchor="end" fill="#222" transform="translate(372.3 824) rotate(-31)">BA D5</text>
<text x="0" y="0" font-size="9.2" text-anchor="end" fill="#222" transform="translate(393.2 824) rotate(-31)">NC D14</text>
<text x="0" y="0" font-size="9.2" text-anchor="end" fill="#222" transform="translate(414.2 824) rotate(-31)">BA D14</text>
<path d="M469.5 816.2H472.5" stroke="#222" stroke-width="1.1"/>
<text x="468.5" y="819.5" font-size="9.3" text-anchor="end" fill="#222">0.0</text>
<path d="M469.5 786.1H472.5" stroke="#222" stroke-width="1.1"/>
<text x="468.5" y="789.4" font-size="9.3" text-anchor="end" fill="#222">1.0</text>
<path d="M469.5 756.0H472.5" stroke="#222" stroke-width="1.1"/>
<text x="468.5" y="759.3" font-size="9.3" text-anchor="end" fill="#222">2.0</text>
<path d="M469.5 725.9H472.5" stroke="#222" stroke-width="1.1"/>
<text x="468.5" y="729.2" font-size="9.3" text-anchor="end" fill="#222">3.0</text>
<path d="M477.8 816.2V799.0H490.0V816.2" fill="#fff" stroke="#1f1ff5" stroke-width="1.8"/>
<path d="M483.9 786.1V812.6M480.9 786.1h6M480.9 812.6h6" stroke="#1f1ff5" stroke-width="1.1"/>
<path d="M483.9 779.5h.1M483.9 790.0h.1M479.7 804.8h.1M487.4 804.8h.1M483.9 812.6h.1" stroke="#1f1ff5" stroke-width="3.1" stroke-linecap="round"/>
<path d="M483.9 816.2V818.4" stroke="#222" stroke-width="1"/>
<path d="M495.5 816.2V804.2H507.7V816.2" fill="#fff" stroke="#1f1ff5" stroke-width="1.8"/>
<path d="M501.6 796.9V811.1M498.6 796.9h6M498.6 811.1h6" stroke="#1f1ff5" stroke-width="1.1"/>
<path d="M501.6 790.6h.1M498.6 804.8h.1M504.6 804.8h.1M501.6 810.2h.1" stroke="#1f1ff5" stroke-width="3.1" stroke-linecap="round"/>
<path d="M501.6 816.2V818.4" stroke="#222" stroke-width="1"/>
<path d="M472.5 725.9V816.2H512.7" fill="none" stroke="#222" stroke-width="1.1"/>
<path d="M484.0 774.4H501.8" stroke="#333" stroke-width="1"/>
<text x="492.9" y="771.5" font-size="8.8" text-anchor="middle" fill="#222">0.4457</text>
<text x="0" y="0" font-size="9.1" text-anchor="middle" fill="#222" transform="translate(449.4 771.5) rotate(-90)">Ratio of VIM<tspan font-size="7" dy="-4">+</tspan><tspan dy="4"> cells to pan-CK</tspan><tspan font-size="7" dy="-4">+</tspan><tspan dy="4"> cells</tspan></text>
<path d="M554.3 816.2H557.3" stroke="#222" stroke-width="1.1"/>
<text x="553.3" y="819.5" font-size="9.3" text-anchor="end" fill="#222">0.0</text>
<path d="M554.3 786.1H557.3" stroke="#222" stroke-width="1.1"/>
<text x="553.3" y="789.4" font-size="9.3" text-anchor="end" fill="#222">1.0</text>
<path d="M554.3 756.0H557.3" stroke="#222" stroke-width="1.1"/>
<text x="553.3" y="759.3" font-size="9.3" text-anchor="end" fill="#222">2.0</text>
<path d="M554.3 725.9H557.3" stroke="#222" stroke-width="1.1"/>
<text x="553.3" y="729.2" font-size="9.3" text-anchor="end" fill="#222">3.0</text>
<path d="M562.6 816.2V798.7H574.8V816.2" fill="#fff" stroke="#f52020" stroke-width="1.8"/>
<path d="M568.7 787.0V810.2M565.7 787.0h6M565.7 810.2h6" stroke="#f52020" stroke-width="1.1"/>
<path d="M568.7 777.4h.1M568.7 798.1h.1M565.2 801.8h.1M571.7 802.7h.1M568.7 807.8h.1" stroke="#f52020" stroke-width="3.1" stroke-linecap="round"/>
<path d="M568.7 816.2V818.4" stroke="#222" stroke-width="1"/>
<path d="M580.1 816.2V781.3H592.3V816.2" fill="#fff" stroke="#f52020" stroke-width="1.8"/>
<path d="M586.2 766.8V794.5M583.2 766.8h6M583.2 794.5h6" stroke="#f52020" stroke-width="1.1"/>
<path d="M586.2 753.9h.1M586.2 772.6h.1M582.7 786.1h.1M589.2 786.1h.1M586.2 787.6h.1" stroke="#f52020" stroke-width="3.1" stroke-linecap="round"/>
<path d="M586.2 816.2V818.4" stroke="#222" stroke-width="1"/>
<path d="M557.3 725.9V816.2H595.1" fill="none" stroke="#222" stroke-width="1.1"/>
<path d="M569.4 748.3H586.2" stroke="#333" stroke-width="1"/>
<text x="577.8" y="745.4" font-size="8.8" text-anchor="middle" fill="#222">0.0350</text>
<text x="0" y="0" font-size="9.1" text-anchor="middle" fill="#222" transform="translate(534.4 771.5) rotate(-90)">Ratio of VIM<tspan font-size="7" dy="-4">+</tspan><tspan dy="4"> cells to pan-CK</tspan><tspan font-size="7" dy="-4">+</tspan><tspan dy="4"> cells</tspan></text>
<text x="483.9" y="828.4" font-size="8.8" text-anchor="middle" fill="#222">D5</text>
<text x="501.6" y="828.4" font-size="8.8" text-anchor="middle" fill="#222">D14</text>
<text x="568.7" y="828.4" font-size="8.8" text-anchor="middle" fill="#222">D5</text>
<text x="586.2" y="828.4" font-size="8.8" text-anchor="middle" fill="#222">D14</text>
<path d="M474.6 831H510.2M559.7 831H595.1" stroke="#111" stroke-width="1.4"/>
<text x="0" y="0" font-size="8.8" text-anchor="middle" fill="#222" transform="translate(493 840.5) rotate(-30)">NC</text>
<text x="0" y="0" font-size="8.8" text-anchor="middle" fill="#222" transform="translate(578.5 840.5) rotate(-30)">BA</text>
<path d="M638.5 816.0H641.5" stroke="#222" stroke-width="1.1"/>
<text x="637.5" y="819.3" font-size="9.3" text-anchor="end" fill="#222">0.0</text>
<path d="M638.5 798.0H641.5" stroke="#222" stroke-width="1.1"/>
<text x="637.5" y="801.2" font-size="9.3" text-anchor="end" fill="#222">0.5</text>
<path d="M638.5 779.9H641.5" stroke="#222" stroke-width="1.1"/>
<text x="637.5" y="783.2" font-size="9.3" text-anchor="end" fill="#222">1.0</text>
<path d="M638.5 761.9H641.5" stroke="#222" stroke-width="1.1"/>
<text x="637.5" y="765.1" font-size="9.3" text-anchor="end" fill="#222">1.5</text>
<path d="M638.5 743.8H641.5" stroke="#222" stroke-width="1.1"/>
<text x="637.5" y="747.1" font-size="9.3" text-anchor="end" fill="#222">2.0</text>
<path d="M638.5 725.8H641.5" stroke="#222" stroke-width="1.1"/>
<text x="637.5" y="729" font-size="9.3" text-anchor="end" fill="#222">2.5</text>
<path d="M645.0 816.0V764.4H658.5V816.0" fill="#fff" stroke="#1f1ff5" stroke-width="2"/>
<path d="M651.8 751.7V777.0M648.8 751.7h6M648.8 777.0h6" stroke="#1f1ff5" stroke-width="1.1"/>
<path d="M651.8 734.8h.1M651.8 742.0h.1M650.3 748.5h.1M653.3 749.9h.1M648.8 761.9h.1M654.8 762.6h.1M651.8 763.7h.1M646.8 765.5h.1M656.8 766.2h.1M649.3 767.3h.1M654.3 768.3h.1M646.8 770.9h.1M656.8 772.0h.1M651.8 772.7h.1M648.8 775.6h.1M654.8 776.3h.1M650.8 777.7h.1" stroke="#1f1ff5" stroke-width="3.1" stroke-linecap="round"/>
<path d="M651.8 816.0V818.2" stroke="#222" stroke-width="1"/>
<path d="M664.0 816.0V772.3H677.5V816.0" fill="#fff" stroke="#f52020" stroke-width="2"/>
<path d="M670.7 760.4V784.2M667.7 760.4h6M667.7 784.2h6" stroke="#f52020" stroke-width="1.1"/>
<path d="M670.7 756.8h.1M666.2 760.0h.1M675.2 760.0h.1M668.7 761.9h.1M673.2 762.6h.1M665.7 765.5h.1M675.7 764.7h.1M670.7 767.3h.1M667.7 770.9h.1M673.7 772.0h.1M665.7 774.5h.1M675.7 776.3h.1M670.7 779.9h.1M666.7 781.7h.1M674.7 782.8h.1M669.2 784.2h.1M672.2 785.3h.1M670.7 792.2h.1" stroke="#f52020" stroke-width="3.1" stroke-linecap="round"/>
<path d="M670.7 816.0V818.2" stroke="#222" stroke-width="1"/>
<path d="M641.5 725.8V816.0H682.2" fill="none" stroke="#222" stroke-width="1.1"/>
<path d="M652.0 728.5H671.3" stroke="#333" stroke-width="1"/>
<text x="661.6" y="725.6" font-size="8.8" text-anchor="middle" fill="#222">0.0417</text>
<text x="0" y="0" font-size="9.1" text-anchor="middle" fill="#222" transform="translate(618.5 772.0) rotate(-90)">Area of MBO (mm<tspan font-size="7.2" dy="-4">2</tspan><tspan dy="4">)</tspan></text>
<text x="652" y="828.4" font-size="8.8" text-anchor="middle" fill="#222">NC</text>
<text x="671" y="828.4" font-size="8.8" text-anchor="middle" fill="#222">BA</text>
</svg>
</body></html>
